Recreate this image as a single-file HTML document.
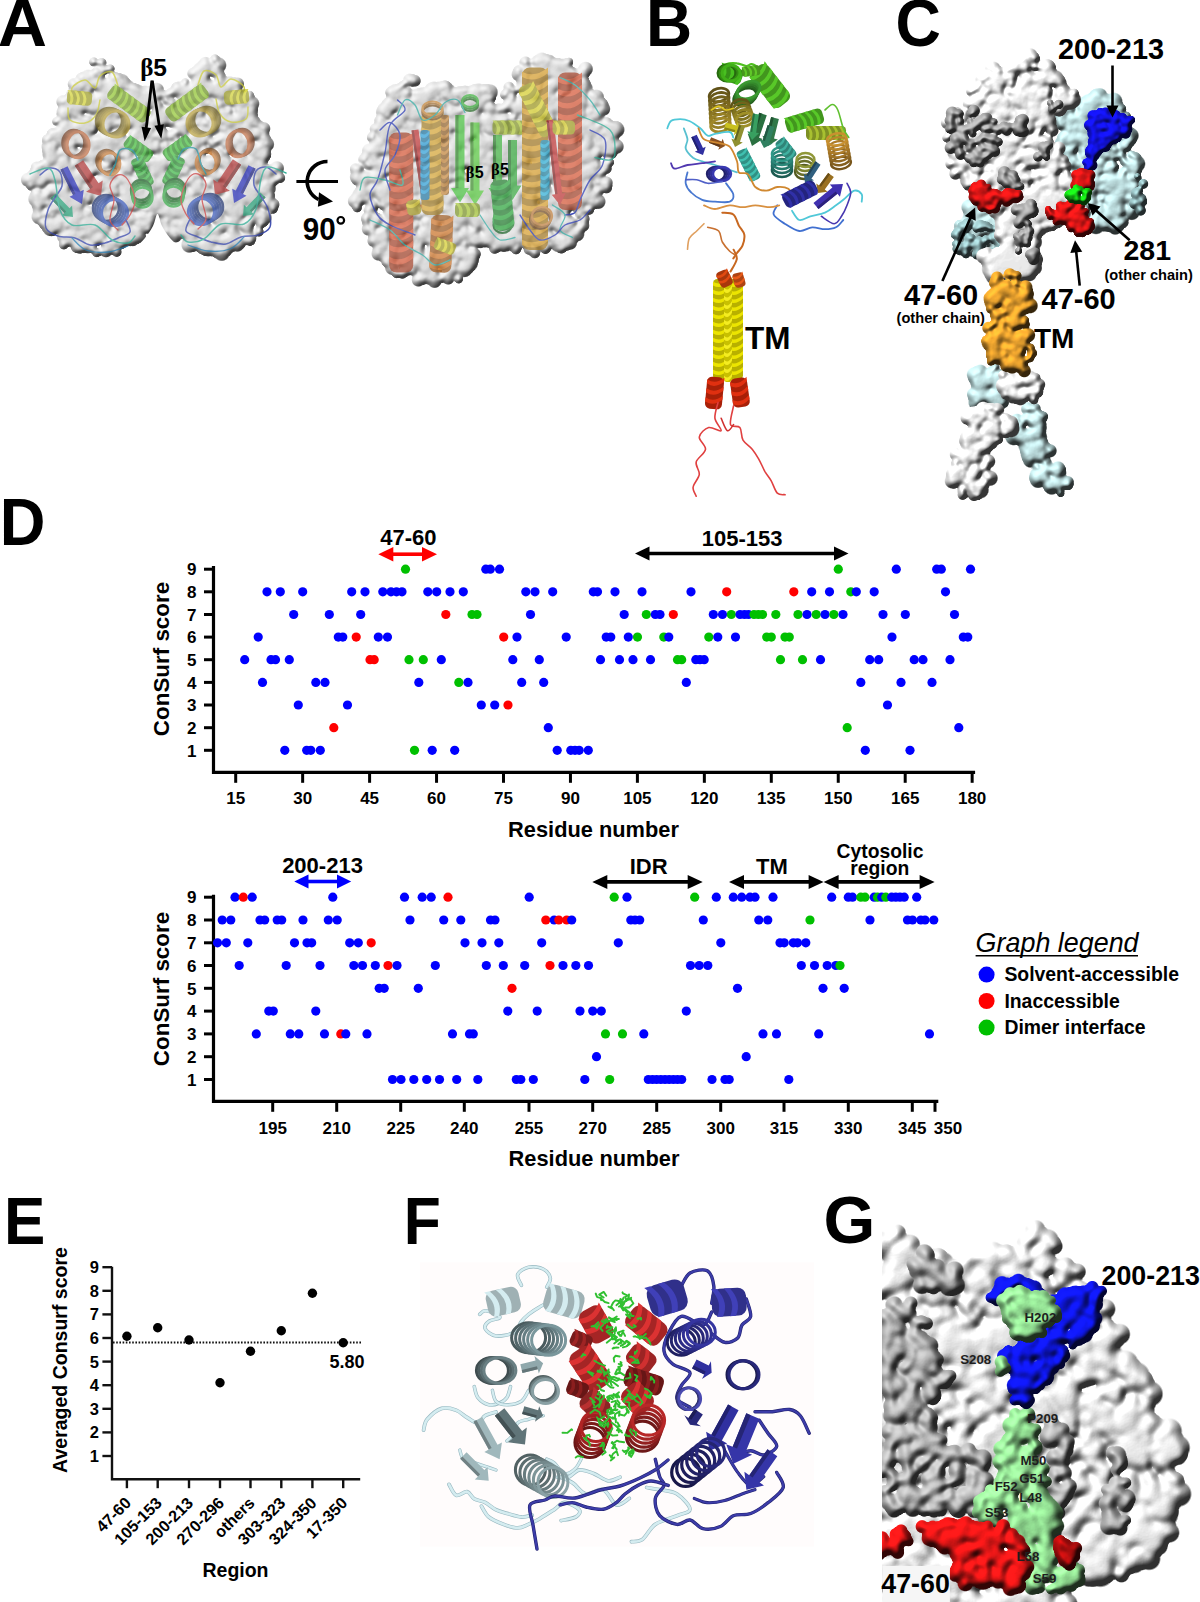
<!DOCTYPE html>
<html><head><meta charset="utf-8"><title>Figure</title>
<style>
html,body{margin:0;padding:0;background:#fff;}
body{width:1200px;height:1602px;overflow:hidden;font-family:"Liberation Sans",sans-serif;}
svg{display:block;}
</style></head><body>
<svg width="1200" height="1602" viewBox="0 0 1200 1602">
<defs>
<filter id="bump" x="-10%" y="-10%" width="120%" height="120%">
 <feTurbulence type="fractalNoise" baseFrequency="0.07" numOctaves="2" seed="3" result="n"/>
 <feDisplacementMap in="SourceGraphic" in2="n" scale="9" xChannelSelector="R" yChannelSelector="G"/>
</filter>
<filter id="soft" x="-10%" y="-10%" width="120%" height="120%"><feGaussianBlur stdDeviation="1.2"/></filter>
<filter id="soft3" x="-20%" y="-20%" width="140%" height="140%"><feGaussianBlur stdDeviation="3"/></filter>
<filter id="surfA" x="-10%" y="-10%" width="120%" height="120%">
 <feTurbulence type="fractalNoise" baseFrequency="0.08" numOctaves="2" seed="7" result="n"/>
 <feDisplacementMap in="SourceGraphic" in2="n" scale="10" xChannelSelector="R" yChannelSelector="G" result="d"/>
 <feGaussianBlur in="d" stdDeviation="0.8"/>
</filter>

<filter id="surf" x="-5%" y="-5%" width="110%" height="110%" color-interpolation-filters="sRGB">
 <feTurbulence type="fractalNoise" baseFrequency="0.09" numOctaves="2" seed="11" result="n"/>
 <feDisplacementMap in="SourceGraphic" in2="n" scale="7" xChannelSelector="R" yChannelSelector="G" result="shape"/>
 <feTurbulence type="fractalNoise" baseFrequency="0.06" numOctaves="2" seed="4" result="n2"/>
 <feGaussianBlur in="n2" stdDeviation="1.4" result="n2b"/>
 <feDiffuseLighting in="n2b" surfaceScale="6" diffuseConstant="1.2" lighting-color="#ffffff" result="light">
   <feDistantLight azimuth="235" elevation="58"/>
 </feDiffuseLighting>
 <feComposite in="light" in2="shape" operator="arithmetic" k1="1" k2="0" k3="0" k4="0" result="lit"/>
 <feComposite in="lit" in2="shape" operator="in"/>
</filter>
<filter id="surf2" x="-5%" y="-5%" width="110%" height="110%" color-interpolation-filters="sRGB">
 <feTurbulence type="fractalNoise" baseFrequency="0.06" numOctaves="2" seed="5" result="n"/>
 <feDisplacementMap in="SourceGraphic" in2="n" scale="9" xChannelSelector="R" yChannelSelector="G" result="shape"/>
 <feTurbulence type="fractalNoise" baseFrequency="0.07" numOctaves="2" seed="8" result="n2"/>
 <feGaussianBlur in="n2" stdDeviation="0.8" result="n2b"/>
 <feDiffuseLighting in="n2b" surfaceScale="6" diffuseConstant="1.25" lighting-color="#ffffff" result="light">
   <feDistantLight azimuth="235" elevation="50"/>
 </feDiffuseLighting>
 <feComposite in="light" in2="shape" operator="arithmetic" k1="1" k2="0" k3="0" k4="0" result="lit"/>
 <feComposite in="lit" in2="shape" operator="in"/>
</filter>

<filter id="surfG" x="-5%" y="-5%" width="110%" height="110%" color-interpolation-filters="sRGB">
 <feTurbulence type="fractalNoise" baseFrequency="0.05" numOctaves="2" seed="21" result="n"/>
 <feDisplacementMap in="SourceGraphic" in2="n" scale="6" xChannelSelector="R" yChannelSelector="G" result="shape"/>
 <feTurbulence type="fractalNoise" baseFrequency="0.03" numOctaves="2" seed="9" result="n2"/>
 <feGaussianBlur in="n2" stdDeviation="2.2" result="n2b"/>
 <feDiffuseLighting in="n2b" surfaceScale="7" diffuseConstant="1.25" lighting-color="#ffffff" result="light">
   <feDistantLight azimuth="235" elevation="52"/>
 </feDiffuseLighting>
 <feComposite in="light" in2="shape" operator="arithmetic" k1="1" k2="0" k3="0" k4="0" result="lit"/>
 <feComposite in="lit" in2="shape" operator="in"/>
</filter>
</defs><defs><filter id="mA1" x="-5%" y="-5%" width="110%" height="110%" color-interpolation-filters="sRGB"><feGaussianBlur in="SourceAlpha" stdDeviation="1.8" result="h"/><feDiffuseLighting in="h" surfaceScale="5" diffuseConstant="0.92" lighting-color="#c9c9c9" result="L0"><feDistantLight azimuth="235" elevation="52"/></feDiffuseLighting><feFlood flood-color="#c9c9c9" result="fl"/><feComposite in="L0" in2="fl" operator="arithmetic" k2="1.0" k3="0.3" result="L"/><feComponentTransfer in="SourceAlpha" result="m"><feFuncA type="linear" slope="6" intercept="-1.2"/></feComponentTransfer><feComposite in="L" in2="m" operator="in"/></filter><filter id="mA2" x="-5%" y="-5%" width="110%" height="110%" color-interpolation-filters="sRGB"><feGaussianBlur in="SourceAlpha" stdDeviation="1.8" result="h"/><feDiffuseLighting in="h" surfaceScale="5" diffuseConstant="0.95" lighting-color="#f0f0f0" result="L0"><feDistantLight azimuth="235" elevation="52"/></feDiffuseLighting><feFlood flood-color="#f0f0f0" result="fl"/><feComposite in="L0" in2="fl" operator="arithmetic" k2="1.0" k3="0.3" result="L"/><feComponentTransfer in="SourceAlpha" result="m"><feFuncA type="linear" slope="6" intercept="-1.2"/></feComponentTransfer><feComposite in="L" in2="m" operator="in"/></filter><g id="sphAL" fill="url(#ag)"><circle cx="93.7" cy="61.9" r="5.8"/><circle cx="101.6" cy="62.9" r="6.2"/><circle cx="96.9" cy="71.2" r="5.8"/><circle cx="104.0" cy="70.1" r="6.2"/><circle cx="110.2" cy="68.8" r="5.6"/><circle cx="95.7" cy="74.0" r="6.6"/><circle cx="81.3" cy="78.3" r="7.1"/><circle cx="88.1" cy="77.5" r="9.8"/><circle cx="73.7" cy="84.2" r="7.5"/><circle cx="100.7" cy="76.2" r="5.1"/><circle cx="75.3" cy="86.9" r="6.7"/><circle cx="84.3" cy="84.8" r="7.1"/><circle cx="113.6" cy="77.3" r="6.9"/><circle cx="92.6" cy="83.8" r="8.6"/><circle cx="118.1" cy="77.4" r="5.6"/><circle cx="79.7" cy="89.0" r="7.0"/><circle cx="96.9" cy="84.1" r="5.6"/><circle cx="101.3" cy="84.2" r="9.4"/><circle cx="89.1" cy="89.7" r="5.6"/><circle cx="72.5" cy="94.8" r="8.3"/><circle cx="99.1" cy="87.5" r="5.0"/><circle cx="121.7" cy="81.4" r="9.3"/><circle cx="111.7" cy="84.6" r="9.5"/><circle cx="68.8" cy="98.4" r="5.6"/><circle cx="80.1" cy="96.5" r="7.1"/><circle cx="62.9" cy="101.8" r="8.2"/><circle cx="120.1" cy="84.9" r="7.0"/><circle cx="105.0" cy="91.3" r="7.2"/><circle cx="70.8" cy="101.8" r="9.1"/><circle cx="214.8" cy="58.8" r="5.7"/><circle cx="87.4" cy="97.7" r="9.0"/><circle cx="113.6" cy="89.8" r="6.2"/><circle cx="114.6" cy="90.6" r="8.5"/><circle cx="205.5" cy="63.7" r="8.5"/><circle cx="127.2" cy="87.8" r="10.0"/><circle cx="99.2" cy="96.6" r="8.2"/><circle cx="92.3" cy="100.6" r="6.0"/><circle cx="76.8" cy="105.7" r="7.9"/><circle cx="199.9" cy="69.2" r="8.5"/><circle cx="133.9" cy="89.2" r="6.8"/><circle cx="109.5" cy="96.5" r="7.9"/><circle cx="114.7" cy="95.0" r="8.6"/><circle cx="70.6" cy="108.3" r="7.8"/><circle cx="103.7" cy="99.3" r="6.7"/><circle cx="85.6" cy="104.8" r="9.5"/><circle cx="218.4" cy="65.2" r="9.8"/><circle cx="62.9" cy="111.9" r="7.9"/><circle cx="136.6" cy="90.1" r="7.6"/><circle cx="77.2" cy="108.0" r="9.4"/><circle cx="193.3" cy="73.6" r="7.5"/><circle cx="207.8" cy="69.5" r="8.4"/><circle cx="79.8" cy="108.6" r="8.2"/><circle cx="126.5" cy="95.8" r="6.0"/><circle cx="99.4" cy="104.5" r="9.5"/><circle cx="113.1" cy="100.5" r="8.5"/><circle cx="67.2" cy="114.5" r="7.1"/><circle cx="63.0" cy="116.1" r="7.5"/><circle cx="152.8" cy="89.4" r="5.3"/><circle cx="101.8" cy="105.1" r="5.5"/><circle cx="91.5" cy="108.8" r="7.7"/><circle cx="137.5" cy="95.2" r="7.8"/><circle cx="145.2" cy="93.3" r="9.5"/><circle cx="121.9" cy="100.4" r="7.3"/><circle cx="215.1" cy="72.5" r="6.8"/><circle cx="201.6" cy="76.7" r="8.1"/><circle cx="156.5" cy="90.4" r="9.5"/><circle cx="205.6" cy="75.8" r="5.2"/><circle cx="96.4" cy="108.7" r="8.9"/><circle cx="130.9" cy="98.6" r="8.2"/><circle cx="185.4" cy="82.4" r="5.4"/><circle cx="75.4" cy="115.5" r="5.8"/><circle cx="56.6" cy="121.5" r="5.6"/><circle cx="114.7" cy="105.0" r="8.3"/><circle cx="106.4" cy="109.2" r="10.0"/><circle cx="176.4" cy="88.3" r="6.7"/><circle cx="197.1" cy="82.2" r="7.7"/><circle cx="80.7" cy="117.2" r="5.0"/><circle cx="179.0" cy="88.1" r="8.3"/><circle cx="132.4" cy="102.7" r="9.5"/><circle cx="202.5" cy="81.7" r="8.0"/><circle cx="220.3" cy="76.5" r="7.0"/><circle cx="149.9" cy="97.7" r="6.6"/><circle cx="158.6" cy="95.4" r="5.1"/><circle cx="110.3" cy="110.0" r="7.4"/><circle cx="66.4" cy="123.5" r="9.0"/><circle cx="170.9" cy="93.2" r="6.6"/><circle cx="140.3" cy="102.5" r="8.4"/><circle cx="164.2" cy="95.3" r="5.7"/><circle cx="119.2" cy="109.8" r="8.6"/><circle cx="87.7" cy="119.4" r="6.4"/><circle cx="146.6" cy="102.1" r="10.0"/><circle cx="63.1" cy="127.3" r="6.0"/><circle cx="123.7" cy="109.2" r="9.4"/><circle cx="187.4" cy="90.3" r="8.2"/><circle cx="195.8" cy="87.9" r="9.1"/><circle cx="205.7" cy="85.0" r="9.9"/><circle cx="154.1" cy="100.8" r="9.3"/><circle cx="218.4" cy="82.0" r="5.4"/><circle cx="198.5" cy="88.1" r="7.8"/><circle cx="181.9" cy="93.4" r="9.0"/><circle cx="82.9" cy="123.1" r="8.7"/><circle cx="107.9" cy="115.8" r="8.9"/><circle cx="102.3" cy="117.9" r="6.2"/><circle cx="220.1" cy="82.6" r="7.1"/><circle cx="75.7" cy="126.1" r="9.8"/><circle cx="98.2" cy="119.7" r="7.4"/><circle cx="52.1" cy="133.7" r="6.6"/><circle cx="117.2" cy="114.7" r="5.8"/><circle cx="141.2" cy="107.6" r="8.8"/><circle cx="128.4" cy="111.8" r="7.1"/><circle cx="166.2" cy="100.8" r="5.4"/><circle cx="189.2" cy="94.1" r="7.6"/><circle cx="60.8" cy="132.8" r="9.0"/><circle cx="69.0" cy="130.5" r="7.2"/><circle cx="89.9" cy="124.3" r="9.4"/><circle cx="76.9" cy="128.9" r="5.6"/><circle cx="145.1" cy="108.6" r="6.0"/><circle cx="212.6" cy="88.3" r="8.9"/><circle cx="95.1" cy="124.2" r="5.2"/><circle cx="55.3" cy="136.3" r="9.7"/><circle cx="58.9" cy="135.2" r="8.3"/><circle cx="127.2" cy="114.8" r="7.6"/><circle cx="229.7" cy="84.2" r="9.7"/><circle cx="46.9" cy="139.2" r="6.0"/><circle cx="158.0" cy="106.2" r="5.3"/><circle cx="201.4" cy="93.9" r="9.0"/><circle cx="211.2" cy="91.2" r="9.9"/><circle cx="172.0" cy="103.4" r="6.6"/><circle cx="237.6" cy="83.9" r="8.0"/><circle cx="158.1" cy="107.9" r="7.2"/><circle cx="109.4" cy="122.5" r="9.6"/><circle cx="206.6" cy="93.5" r="5.6"/><circle cx="68.0" cy="135.2" r="7.6"/><circle cx="104.5" cy="124.7" r="6.2"/><circle cx="89.3" cy="129.3" r="7.9"/><circle cx="185.0" cy="100.9" r="7.6"/><circle cx="231.2" cy="87.4" r="5.3"/><circle cx="222.9" cy="90.0" r="10.0"/><circle cx="83.0" cy="132.1" r="9.6"/><circle cx="192.8" cy="99.2" r="5.0"/><circle cx="133.7" cy="117.0" r="9.6"/><circle cx="143.0" cy="114.6" r="5.5"/><circle cx="93.9" cy="129.9" r="5.1"/><circle cx="182.8" cy="103.4" r="7.1"/><circle cx="194.0" cy="100.4" r="9.5"/><circle cx="218.5" cy="93.1" r="8.2"/><circle cx="118.3" cy="123.4" r="8.8"/><circle cx="155.4" cy="113.1" r="5.3"/><circle cx="60.3" cy="142.3" r="7.6"/><circle cx="107.8" cy="128.1" r="5.1"/><circle cx="139.9" cy="118.7" r="9.4"/><circle cx="167.6" cy="110.6" r="7.1"/><circle cx="74.3" cy="138.6" r="8.1"/><circle cx="130.5" cy="121.9" r="8.3"/><circle cx="49.5" cy="146.4" r="9.9"/><circle cx="202.5" cy="100.7" r="8.8"/><circle cx="125.4" cy="124.2" r="7.9"/><circle cx="223.2" cy="94.9" r="9.6"/><circle cx="105.7" cy="130.4" r="6.7"/><circle cx="236.8" cy="91.4" r="6.7"/><circle cx="160.1" cy="114.9" r="9.9"/><circle cx="52.9" cy="147.7" r="6.1"/><circle cx="183.3" cy="108.8" r="9.6"/><circle cx="189.4" cy="107.2" r="5.5"/><circle cx="83.1" cy="139.4" r="8.6"/><circle cx="171.7" cy="112.9" r="6.2"/><circle cx="236.6" cy="94.3" r="7.3"/><circle cx="230.0" cy="96.6" r="5.2"/><circle cx="154.7" cy="119.2" r="6.4"/><circle cx="145.1" cy="122.3" r="6.1"/><circle cx="208.5" cy="103.4" r="6.7"/><circle cx="163.4" cy="117.4" r="9.8"/><circle cx="67.4" cy="146.3" r="9.2"/><circle cx="73.7" cy="144.5" r="6.1"/><circle cx="138.5" cy="125.7" r="8.5"/><circle cx="123.5" cy="130.3" r="5.3"/><circle cx="81.7" cy="143.3" r="5.4"/><circle cx="90.6" cy="140.8" r="8.7"/><circle cx="195.0" cy="109.6" r="5.5"/><circle cx="200.7" cy="107.9" r="7.9"/><circle cx="176.4" cy="115.2" r="6.1"/><circle cx="153.2" cy="122.5" r="8.1"/><circle cx="212.9" cy="105.2" r="8.1"/><circle cx="50.2" cy="154.0" r="9.7"/><circle cx="117.0" cy="134.4" r="6.6"/><circle cx="86.8" cy="143.4" r="6.0"/><circle cx="52.2" cy="154.5" r="9.6"/><circle cx="249.3" cy="95.5" r="6.1"/><circle cx="101.0" cy="140.2" r="8.9"/><circle cx="179.3" cy="116.9" r="5.6"/><circle cx="60.4" cy="152.7" r="5.1"/><circle cx="164.0" cy="121.7" r="7.2"/><circle cx="98.4" cy="141.4" r="6.5"/><circle cx="110.2" cy="138.1" r="9.0"/><circle cx="230.4" cy="102.1" r="6.9"/><circle cx="220.3" cy="105.3" r="8.4"/><circle cx="240.8" cy="99.3" r="9.0"/><circle cx="139.2" cy="130.1" r="8.1"/><circle cx="119.3" cy="136.1" r="6.0"/><circle cx="239.3" cy="101.2" r="9.9"/><circle cx="191.8" cy="115.7" r="6.1"/><circle cx="188.8" cy="116.7" r="8.0"/><circle cx="211.5" cy="109.9" r="5.1"/><circle cx="67.1" cy="153.8" r="9.2"/><circle cx="133.1" cy="134.1" r="6.0"/><circle cx="159.0" cy="126.3" r="6.4"/><circle cx="172.8" cy="122.2" r="7.6"/><circle cx="150.7" cy="129.0" r="6.5"/><circle cx="74.4" cy="152.0" r="5.6"/><circle cx="96.2" cy="145.5" r="9.2"/><circle cx="200.0" cy="114.6" r="8.0"/><circle cx="121.9" cy="138.0" r="6.4"/><circle cx="50.4" cy="160.2" r="7.4"/><circle cx="243.7" cy="102.3" r="8.1"/><circle cx="53.3" cy="159.6" r="7.3"/><circle cx="108.9" cy="143.0" r="9.7"/><circle cx="214.8" cy="111.9" r="6.2"/><circle cx="145.3" cy="133.4" r="5.1"/><circle cx="91.6" cy="149.7" r="8.5"/><circle cx="42.4" cy="164.6" r="5.4"/><circle cx="117.4" cy="142.8" r="9.7"/><circle cx="36.6" cy="167.3" r="7.2"/><circle cx="136.8" cy="137.3" r="7.7"/><circle cx="102.9" cy="147.7" r="8.2"/><circle cx="83.0" cy="153.7" r="7.3"/><circle cx="210.9" cy="115.8" r="5.4"/><circle cx="185.7" cy="123.5" r="9.9"/><circle cx="251.8" cy="103.7" r="9.3"/><circle cx="131.0" cy="140.4" r="6.6"/><circle cx="222.5" cy="113.0" r="6.1"/><circle cx="62.2" cy="161.2" r="9.7"/><circle cx="229.2" cy="111.3" r="5.9"/><circle cx="146.1" cy="136.4" r="9.9"/><circle cx="46.7" cy="166.9" r="10.0"/><circle cx="163.6" cy="132.0" r="5.5"/><circle cx="78.2" cy="157.6" r="8.0"/><circle cx="180.6" cy="127.1" r="7.5"/><circle cx="238.1" cy="110.1" r="6.2"/><circle cx="65.6" cy="162.3" r="5.9"/><circle cx="160.5" cy="133.9" r="5.8"/><circle cx="85.1" cy="156.7" r="7.1"/><circle cx="109.0" cy="149.6" r="6.1"/><circle cx="214.1" cy="118.5" r="5.4"/><circle cx="196.1" cy="123.9" r="7.5"/><circle cx="62.6" cy="164.1" r="6.8"/><circle cx="124.9" cy="145.5" r="8.2"/><circle cx="155.5" cy="136.3" r="9.4"/><circle cx="104.7" cy="152.0" r="5.4"/><circle cx="91.0" cy="156.2" r="7.5"/><circle cx="33.8" cy="173.6" r="7.0"/><circle cx="129.0" cy="145.2" r="9.8"/><circle cx="181.6" cy="129.6" r="8.5"/><circle cx="224.9" cy="116.9" r="8.3"/><circle cx="99.2" cy="154.6" r="6.1"/><circle cx="244.2" cy="111.6" r="8.0"/><circle cx="206.7" cy="122.9" r="5.1"/><circle cx="204.5" cy="123.6" r="8.3"/><circle cx="140.6" cy="143.2" r="8.1"/><circle cx="94.5" cy="157.1" r="6.9"/><circle cx="174.0" cy="133.8" r="6.0"/><circle cx="57.2" cy="168.9" r="6.8"/><circle cx="161.4" cy="137.8" r="7.1"/><circle cx="164.1" cy="137.2" r="5.9"/><circle cx="76.3" cy="163.8" r="8.0"/><circle cx="37.9" cy="175.5" r="9.1"/><circle cx="251.6" cy="111.7" r="7.9"/><circle cx="68.5" cy="167.1" r="8.0"/><circle cx="184.8" cy="132.5" r="6.1"/><circle cx="28.0" cy="179.8" r="8.8"/><circle cx="116.7" cy="153.4" r="9.2"/><circle cx="106.3" cy="156.6" r="6.9"/><circle cx="171.6" cy="137.1" r="8.7"/><circle cx="222.7" cy="121.8" r="7.4"/><circle cx="229.5" cy="120.2" r="7.1"/><circle cx="108.8" cy="156.7" r="8.6"/><circle cx="243.5" cy="116.3" r="9.1"/><circle cx="133.4" cy="149.5" r="7.9"/><circle cx="33.9" cy="179.7" r="8.6"/><circle cx="213.8" cy="126.2" r="6.9"/><circle cx="144.5" cy="147.3" r="9.5"/><circle cx="49.5" cy="175.9" r="8.7"/><circle cx="201.0" cy="130.6" r="5.8"/><circle cx="91.2" cy="163.6" r="8.4"/><circle cx="237.5" cy="119.9" r="8.4"/><circle cx="150.7" cy="146.0" r="7.9"/><circle cx="46.2" cy="177.4" r="8.2"/><circle cx="83.1" cy="166.6" r="5.7"/><circle cx="141.3" cy="149.2" r="7.4"/><circle cx="196.0" cy="132.9" r="5.7"/><circle cx="234.5" cy="121.4" r="9.3"/><circle cx="54.3" cy="175.6" r="8.8"/><circle cx="67.3" cy="172.1" r="9.6"/><circle cx="157.7" cy="145.4" r="5.6"/><circle cx="127.2" cy="154.7" r="5.6"/><circle cx="213.6" cy="129.1" r="8.5"/><circle cx="60.8" cy="175.1" r="7.5"/><circle cx="228.6" cy="125.0" r="6.8"/><circle cx="114.7" cy="159.6" r="5.8"/><circle cx="177.7" cy="140.7" r="5.0"/><circle cx="206.3" cy="132.4" r="6.4"/><circle cx="165.7" cy="144.9" r="5.0"/><circle cx="150.9" cy="149.4" r="5.7"/><circle cx="42.8" cy="182.2" r="5.9"/><circle cx="127.1" cy="157.0" r="7.3"/><circle cx="252.1" cy="119.5" r="8.3"/><circle cx="144.2" cy="151.9" r="5.0"/><circle cx="55.0" cy="178.9" r="7.0"/><circle cx="31.1" cy="186.4" r="5.5"/><circle cx="188.7" cy="139.6" r="8.5"/><circle cx="40.0" cy="184.6" r="7.1"/><circle cx="196.3" cy="137.8" r="10.0"/><circle cx="96.7" cy="167.7" r="8.5"/><circle cx="224.2" cy="129.6" r="5.8"/><circle cx="249.9" cy="121.9" r="6.1"/><circle cx="156.6" cy="149.9" r="6.2"/><circle cx="81.7" cy="173.2" r="6.8"/><circle cx="61.8" cy="179.4" r="7.6"/><circle cx="107.9" cy="165.7" r="7.4"/><circle cx="67.3" cy="178.0" r="8.8"/><circle cx="101.7" cy="167.9" r="6.3"/><circle cx="173.9" cy="146.6" r="5.3"/><circle cx="166.9" cy="149.1" r="9.1"/><circle cx="77.8" cy="176.0" r="8.7"/><circle cx="93.4" cy="171.3" r="5.9"/><circle cx="86.8" cy="173.3" r="8.7"/><circle cx="243.5" cy="127.0" r="7.0"/><circle cx="198.5" cy="140.6" r="9.4"/><circle cx="238.0" cy="128.8" r="6.1"/><circle cx="207.4" cy="138.0" r="6.8"/><circle cx="75.3" cy="177.7" r="9.8"/><circle cx="132.6" cy="160.7" r="8.1"/><circle cx="180.6" cy="146.3" r="8.6"/><circle cx="140.1" cy="159.3" r="7.4"/><circle cx="255.9" cy="125.0" r="8.6"/><circle cx="120.0" cy="165.8" r="5.0"/><circle cx="231.0" cy="132.6" r="7.0"/><circle cx="203.0" cy="142.2" r="6.5"/><circle cx="246.7" cy="129.2" r="7.3"/><circle cx="186.8" cy="147.4" r="5.3"/><circle cx="84.3" cy="178.2" r="9.2"/><circle cx="87.3" cy="177.5" r="5.8"/><circle cx="181.1" cy="149.6" r="5.7"/><circle cx="147.5" cy="159.8" r="6.8"/><circle cx="195.0" cy="145.8" r="6.3"/><circle cx="127.0" cy="166.2" r="9.5"/><circle cx="103.4" cy="173.5" r="7.0"/><circle cx="36.5" cy="193.6" r="6.4"/><circle cx="221.3" cy="138.8" r="7.6"/><circle cx="67.4" cy="185.1" r="7.0"/><circle cx="50.2" cy="190.3" r="8.2"/><circle cx="129.2" cy="166.7" r="7.3"/><circle cx="211.7" cy="142.3" r="5.6"/><circle cx="138.9" cy="164.2" r="6.1"/><circle cx="174.4" cy="153.5" r="7.4"/><circle cx="56.9" cy="189.0" r="8.9"/><circle cx="109.0" cy="173.5" r="5.2"/><circle cx="216.9" cy="141.2" r="5.6"/><circle cx="228.2" cy="138.4" r="8.8"/><circle cx="152.9" cy="161.0" r="5.2"/><circle cx="166.8" cy="157.1" r="5.7"/><circle cx="249.8" cy="132.6" r="6.3"/><circle cx="263.9" cy="128.6" r="8.0"/><circle cx="193.6" cy="149.8" r="8.4"/><circle cx="159.6" cy="160.3" r="9.2"/><circle cx="114.5" cy="173.9" r="6.0"/><circle cx="122.6" cy="171.6" r="6.2"/><circle cx="212.5" cy="144.8" r="5.2"/><circle cx="77.0" cy="185.6" r="6.0"/><circle cx="64.7" cy="189.5" r="6.2"/><circle cx="56.3" cy="192.2" r="7.3"/><circle cx="238.6" cy="137.8" r="5.5"/><circle cx="146.3" cy="165.7" r="7.7"/><circle cx="79.4" cy="185.8" r="8.9"/><circle cx="36.3" cy="198.9" r="10.0"/><circle cx="109.6" cy="177.3" r="8.5"/><circle cx="43.0" cy="197.3" r="9.4"/><circle cx="46.3" cy="196.5" r="5.2"/><circle cx="130.1" cy="171.7" r="6.4"/><circle cx="189.3" cy="154.1" r="6.0"/><circle cx="256.9" cy="133.8" r="5.8"/><circle cx="154.4" cy="164.6" r="7.8"/><circle cx="175.1" cy="158.6" r="6.0"/><circle cx="206.3" cy="149.4" r="5.3"/><circle cx="202.6" cy="151.0" r="6.0"/><circle cx="255.2" cy="135.4" r="7.4"/><circle cx="97.7" cy="183.0" r="7.9"/><circle cx="61.9" cy="194.0" r="7.2"/><circle cx="241.3" cy="140.3" r="9.5"/><circle cx="248.4" cy="138.2" r="6.4"/><circle cx="224.7" cy="145.5" r="5.4"/><circle cx="164.5" cy="163.7" r="8.0"/><circle cx="101.3" cy="183.0" r="8.0"/><circle cx="88.3" cy="187.3" r="5.3"/><circle cx="120.6" cy="177.6" r="7.2"/><circle cx="230.9" cy="144.8" r="6.3"/><circle cx="181.7" cy="160.0" r="8.6"/><circle cx="171.0" cy="163.4" r="8.9"/><circle cx="194.1" cy="156.5" r="8.1"/><circle cx="235.1" cy="144.4" r="7.2"/><circle cx="65.9" cy="195.7" r="9.9"/><circle cx="39.4" cy="203.6" r="7.1"/><circle cx="157.9" cy="168.4" r="9.9"/><circle cx="137.4" cy="175.2" r="6.0"/><circle cx="189.1" cy="159.9" r="9.5"/><circle cx="217.8" cy="151.4" r="7.8"/><circle cx="263.7" cy="137.7" r="8.1"/><circle cx="124.5" cy="180.5" r="6.5"/><circle cx="96.2" cy="189.0" r="7.2"/><circle cx="47.3" cy="203.7" r="6.1"/><circle cx="85.4" cy="192.5" r="9.5"/><circle cx="245.7" cy="144.6" r="8.4"/><circle cx="152.5" cy="172.8" r="6.3"/><circle cx="158.9" cy="170.9" r="9.6"/><circle cx="38.5" cy="207.4" r="7.7"/><circle cx="108.5" cy="186.4" r="9.8"/><circle cx="142.6" cy="176.3" r="5.5"/><circle cx="201.4" cy="158.7" r="6.2"/><circle cx="228.3" cy="150.7" r="5.6"/><circle cx="67.8" cy="198.9" r="9.8"/><circle cx="116.3" cy="184.9" r="7.8"/><circle cx="74.8" cy="197.4" r="7.0"/><circle cx="101.4" cy="189.5" r="5.0"/><circle cx="54.3" cy="204.0" r="8.5"/><circle cx="130.2" cy="182.3" r="9.7"/><circle cx="179.3" cy="167.6" r="7.0"/><circle cx="221.3" cy="155.2" r="6.1"/><circle cx="194.1" cy="163.4" r="8.1"/><circle cx="90.3" cy="195.3" r="6.8"/><circle cx="190.5" cy="165.4" r="6.7"/><circle cx="81.7" cy="198.2" r="5.2"/><circle cx="252.2" cy="147.3" r="6.2"/><circle cx="239.5" cy="151.2" r="7.0"/><circle cx="62.7" cy="204.3" r="9.9"/><circle cx="136.0" cy="182.4" r="5.6"/><circle cx="208.9" cy="161.0" r="7.1"/><circle cx="143.3" cy="180.8" r="8.3"/><circle cx="266.8" cy="144.3" r="9.1"/><circle cx="213.0" cy="160.7" r="6.5"/><circle cx="62.6" cy="205.8" r="7.5"/><circle cx="111.9" cy="191.3" r="8.6"/><circle cx="259.1" cy="147.1" r="7.4"/><circle cx="50.1" cy="210.1" r="5.4"/><circle cx="127.3" cy="187.0" r="8.0"/><circle cx="241.3" cy="152.8" r="9.9"/><circle cx="165.1" cy="175.9" r="7.9"/><circle cx="56.6" cy="208.7" r="5.4"/><circle cx="153.5" cy="179.7" r="9.0"/><circle cx="97.9" cy="196.5" r="6.0"/><circle cx="78.4" cy="203.1" r="6.6"/><circle cx="182.8" cy="172.4" r="7.9"/><circle cx="71.3" cy="205.9" r="8.9"/><circle cx="105.6" cy="195.6" r="6.1"/><circle cx="222.9" cy="160.5" r="8.8"/><circle cx="88.9" cy="200.7" r="5.3"/><circle cx="46.4" cy="213.6" r="5.2"/><circle cx="203.3" cy="166.6" r="9.3"/><circle cx="252.4" cy="152.0" r="5.7"/><circle cx="115.7" cy="193.1" r="5.4"/><circle cx="174.4" cy="175.5" r="8.5"/><circle cx="214.6" cy="163.7" r="8.1"/><circle cx="186.3" cy="172.3" r="5.9"/><circle cx="76.0" cy="205.5" r="8.5"/><circle cx="254.4" cy="152.1" r="7.6"/><circle cx="39.4" cy="216.6" r="9.8"/><circle cx="206.3" cy="167.2" r="9.3"/><circle cx="172.5" cy="177.9" r="8.6"/><circle cx="150.9" cy="184.8" r="8.1"/><circle cx="80.6" cy="205.9" r="8.6"/><circle cx="242.4" cy="157.5" r="5.7"/><circle cx="133.4" cy="190.4" r="5.9"/><circle cx="227.5" cy="162.2" r="7.4"/><circle cx="136.6" cy="189.5" r="7.5"/><circle cx="104.8" cy="199.1" r="6.7"/><circle cx="124.0" cy="193.4" r="9.3"/><circle cx="52.5" cy="215.4" r="9.2"/><circle cx="225.6" cy="163.7" r="7.3"/><circle cx="236.8" cy="160.3" r="6.6"/><circle cx="162.7" cy="182.6" r="8.8"/><circle cx="165.9" cy="181.8" r="8.5"/><circle cx="142.7" cy="189.0" r="5.9"/><circle cx="63.2" cy="212.9" r="6.8"/><circle cx="194.4" cy="174.2" r="6.5"/><circle cx="132.3" cy="193.2" r="8.4"/><circle cx="99.2" cy="203.7" r="8.7"/><circle cx="69.0" cy="212.8" r="6.9"/><circle cx="209.0" cy="170.9" r="8.9"/><circle cx="265.4" cy="154.0" r="7.3"/><circle cx="258.3" cy="156.2" r="9.7"/><circle cx="157.9" cy="187.1" r="7.8"/><circle cx="228.6" cy="166.1" r="6.6"/><circle cx="238.8" cy="163.4" r="6.2"/><circle cx="139.2" cy="193.4" r="6.9"/><circle cx="199.2" cy="176.3" r="5.6"/><circle cx="263.2" cy="157.3" r="8.1"/><circle cx="117.2" cy="201.5" r="5.3"/><circle cx="43.2" cy="223.8" r="5.5"/><circle cx="77.3" cy="213.6" r="7.4"/><circle cx="150.5" cy="191.7" r="6.4"/><circle cx="112.6" cy="203.2" r="7.4"/><circle cx="181.6" cy="182.5" r="6.9"/><circle cx="250.4" cy="162.2" r="9.3"/><circle cx="89.6" cy="210.6" r="5.3"/><circle cx="241.5" cy="165.1" r="8.8"/><circle cx="192.2" cy="180.1" r="8.7"/><circle cx="187.5" cy="181.5" r="6.6"/><circle cx="99.5" cy="208.0" r="7.6"/><circle cx="249.0" cy="163.7" r="8.3"/><circle cx="47.3" cy="224.7" r="8.5"/><circle cx="126.5" cy="201.0" r="8.3"/><circle cx="214.4" cy="174.7" r="9.3"/><circle cx="171.6" cy="187.7" r="9.3"/><circle cx="112.2" cy="205.7" r="5.2"/><circle cx="60.6" cy="221.2" r="6.7"/><circle cx="148.0" cy="195.1" r="9.7"/><circle cx="169.3" cy="188.8" r="7.4"/><circle cx="225.5" cy="172.0" r="8.3"/><circle cx="103.4" cy="208.6" r="7.9"/><circle cx="130.2" cy="201.0" r="9.8"/><circle cx="231.1" cy="170.9" r="7.0"/><circle cx="117.2" cy="205.2" r="6.6"/><circle cx="177.9" cy="187.2" r="8.7"/><circle cx="88.7" cy="214.0" r="9.4"/><circle cx="71.7" cy="219.6" r="9.5"/><circle cx="55.9" cy="224.8" r="7.5"/><circle cx="143.9" cy="198.7" r="7.7"/><circle cx="81.0" cy="217.8" r="7.7"/><circle cx="201.3" cy="181.7" r="5.3"/><circle cx="138.8" cy="200.6" r="8.1"/><circle cx="215.4" cy="177.7" r="6.7"/><circle cx="168.5" cy="191.8" r="8.4"/><circle cx="50.3" cy="228.7" r="9.2"/><circle cx="262.1" cy="165.3" r="7.0"/><circle cx="220.6" cy="177.7" r="6.0"/><circle cx="74.7" cy="221.5" r="7.5"/><circle cx="161.5" cy="196.1" r="8.9"/><circle cx="208.6" cy="182.0" r="5.6"/><circle cx="184.5" cy="189.2" r="5.6"/><circle cx="255.0" cy="169.3" r="9.2"/><circle cx="170.6" cy="194.7" r="8.7"/><circle cx="132.3" cy="206.3" r="6.5"/><circle cx="152.3" cy="200.4" r="8.1"/><circle cx="97.2" cy="217.0" r="10.0"/><circle cx="66.6" cy="226.2" r="9.4"/><circle cx="58.6" cy="228.6" r="6.0"/><circle cx="195.4" cy="188.0" r="8.5"/><circle cx="236.4" cy="175.9" r="9.9"/><circle cx="124.6" cy="209.6" r="8.3"/><circle cx="252.2" cy="171.4" r="5.4"/><circle cx="199.6" cy="187.3" r="9.1"/><circle cx="52.2" cy="231.5" r="5.3"/><circle cx="257.1" cy="170.4" r="9.2"/><circle cx="109.6" cy="214.8" r="8.5"/><circle cx="137.2" cy="207.3" r="8.5"/><circle cx="103.4" cy="217.4" r="7.3"/><circle cx="241.4" cy="176.2" r="9.7"/><circle cx="210.2" cy="185.6" r="7.7"/><circle cx="181.1" cy="194.7" r="7.8"/><circle cx="229.8" cy="180.2" r="9.6"/><circle cx="84.8" cy="224.1" r="5.5"/><circle cx="268.4" cy="169.3" r="5.8"/><circle cx="76.1" cy="227.2" r="8.5"/><circle cx="119.8" cy="214.5" r="8.7"/><circle cx="174.5" cy="198.1" r="9.1"/><circle cx="151.5" cy="205.1" r="7.4"/><circle cx="167.4" cy="200.8" r="6.8"/><circle cx="156.8" cy="204.3" r="8.9"/><circle cx="276.9" cy="168.3" r="8.8"/><circle cx="90.2" cy="224.5" r="9.3"/><circle cx="187.7" cy="195.7" r="6.0"/><circle cx="84.0" cy="227.3" r="9.3"/><circle cx="98.4" cy="223.2" r="5.5"/><circle cx="192.5" cy="195.0" r="9.3"/><circle cx="217.5" cy="187.5" r="6.7"/><circle cx="263.6" cy="174.0" r="8.3"/><circle cx="145.5" cy="209.6" r="5.7"/><circle cx="203.4" cy="192.9" r="7.5"/><circle cx="236.3" cy="183.1" r="7.3"/><circle cx="157.1" cy="207.2" r="9.7"/><circle cx="253.6" cy="178.6" r="6.6"/><circle cx="110.7" cy="221.6" r="5.6"/><circle cx="269.4" cy="174.0" r="8.1"/><circle cx="124.6" cy="218.0" r="6.4"/><circle cx="219.6" cy="189.5" r="7.4"/><circle cx="100.6" cy="225.4" r="9.6"/><circle cx="118.0" cy="220.2" r="6.9"/><circle cx="241.9" cy="183.1" r="9.7"/><circle cx="63.8" cy="236.6" r="8.5"/><circle cx="73.7" cy="234.1" r="7.8"/><circle cx="182.6" cy="202.1" r="9.6"/><circle cx="130.6" cy="217.7" r="6.4"/><circle cx="68.3" cy="236.5" r="5.4"/><circle cx="257.4" cy="179.8" r="5.8"/><circle cx="99.3" cy="227.7" r="7.5"/><circle cx="221.7" cy="191.3" r="5.3"/><circle cx="139.7" cy="216.0" r="5.7"/><circle cx="168.4" cy="207.7" r="8.8"/><circle cx="104.9" cy="226.8" r="7.4"/><circle cx="233.6" cy="188.3" r="7.6"/><circle cx="243.2" cy="185.9" r="7.9"/><circle cx="208.4" cy="196.4" r="8.1"/><circle cx="90.6" cy="231.8" r="8.6"/><circle cx="132.2" cy="219.3" r="7.6"/><circle cx="232.0" cy="189.5" r="5.5"/><circle cx="143.6" cy="216.6" r="5.1"/><circle cx="81.4" cy="235.6" r="5.7"/><circle cx="214.0" cy="196.0" r="7.7"/><circle cx="190.7" cy="203.3" r="6.9"/><circle cx="150.8" cy="215.3" r="8.7"/><circle cx="89.5" cy="233.7" r="8.7"/><circle cx="125.5" cy="223.6" r="7.9"/><circle cx="192.1" cy="204.2" r="8.6"/><circle cx="160.3" cy="213.7" r="5.2"/><circle cx="280.1" cy="177.9" r="6.4"/><circle cx="165.4" cy="212.6" r="6.9"/><circle cx="116.8" cy="227.6" r="5.9"/><circle cx="266.9" cy="182.8" r="9.1"/><circle cx="69.8" cy="242.0" r="5.8"/><circle cx="175.6" cy="210.5" r="9.5"/><circle cx="76.2" cy="240.4" r="9.3"/><circle cx="199.4" cy="203.5" r="8.4"/><circle cx="232.4" cy="193.8" r="7.8"/><circle cx="249.2" cy="188.8" r="9.8"/><circle cx="274.2" cy="181.4" r="5.5"/><circle cx="193.3" cy="205.7" r="9.4"/><circle cx="63.8" cy="244.6" r="6.1"/><circle cx="107.5" cy="231.6" r="7.5"/><circle cx="188.7" cy="207.4" r="7.3"/><circle cx="179.8" cy="211.0" r="8.1"/><circle cx="264.8" cy="185.8" r="5.4"/><circle cx="210.2" cy="202.2" r="6.6"/><circle cx="138.2" cy="223.9" r="8.4"/><circle cx="254.6" cy="189.1" r="9.0"/><circle cx="236.0" cy="195.2" r="9.4"/><circle cx="203.4" cy="205.2" r="9.3"/><circle cx="149.6" cy="221.6" r="8.4"/><circle cx="174.4" cy="214.6" r="9.6"/><circle cx="225.3" cy="199.5" r="7.6"/><circle cx="216.4" cy="202.7" r="7.1"/><circle cx="126.6" cy="229.7" r="8.5"/><circle cx="99.0" cy="238.4" r="8.1"/><circle cx="145.3" cy="224.6" r="9.2"/><circle cx="229.8" cy="199.3" r="9.3"/><circle cx="207.7" cy="206.0" r="7.6"/><circle cx="100.9" cy="238.3" r="7.2"/><circle cx="183.5" cy="214.1" r="9.1"/><circle cx="268.6" cy="188.7" r="8.9"/><circle cx="113.5" cy="235.5" r="6.0"/><circle cx="95.4" cy="241.0" r="6.8"/><circle cx="76.6" cy="247.1" r="7.2"/><circle cx="250.9" cy="195.1" r="9.9"/><circle cx="254.7" cy="194.2" r="8.4"/><circle cx="80.7" cy="246.4" r="8.5"/><circle cx="131.5" cy="231.2" r="6.2"/><circle cx="245.3" cy="197.1" r="10.0"/><circle cx="166.7" cy="221.0" r="9.4"/><circle cx="212.9" cy="207.2" r="6.3"/><circle cx="234.0" cy="201.2" r="5.1"/><circle cx="87.9" cy="245.3" r="9.9"/><circle cx="138.8" cy="230.3" r="7.7"/><circle cx="264.8" cy="192.5" r="9.3"/><circle cx="195.0" cy="213.6" r="5.5"/><circle cx="80.2" cy="248.1" r="6.0"/><circle cx="116.2" cy="237.6" r="9.2"/><circle cx="244.9" cy="199.2" r="8.7"/><circle cx="189.1" cy="216.0" r="8.9"/><circle cx="148.4" cy="229.5" r="5.4"/><circle cx="200.7" cy="214.3" r="7.6"/><circle cx="252.6" cy="199.4" r="8.5"/><circle cx="133.0" cy="235.4" r="7.1"/><circle cx="106.6" cy="243.5" r="5.1"/><circle cx="108.0" cy="243.5" r="7.8"/><circle cx="224.0" cy="209.1" r="9.2"/><circle cx="230.5" cy="207.3" r="9.1"/><circle cx="126.5" cy="238.6" r="9.5"/><circle cx="92.6" cy="248.9" r="5.0"/><circle cx="175.4" cy="224.1" r="5.4"/><circle cx="238.1" cy="205.8" r="8.6"/><circle cx="270.9" cy="196.6" r="5.3"/><circle cx="115.9" cy="243.3" r="8.5"/><circle cx="259.0" cy="200.6" r="5.8"/><circle cx="208.1" cy="215.9" r="6.6"/><circle cx="139.4" cy="236.6" r="8.3"/><circle cx="181.4" cy="224.0" r="7.8"/><circle cx="191.9" cy="220.9" r="6.9"/><circle cx="187.8" cy="223.5" r="9.3"/><circle cx="132.8" cy="240.2" r="7.5"/><circle cx="110.5" cy="247.9" r="7.2"/><circle cx="267.3" cy="201.0" r="6.6"/><circle cx="121.9" cy="244.7" r="5.4"/><circle cx="167.4" cy="231.2" r="9.9"/><circle cx="216.6" cy="216.5" r="7.5"/><circle cx="96.7" cy="252.6" r="5.8"/><circle cx="254.8" cy="205.2" r="8.3"/><circle cx="242.9" cy="209.2" r="7.6"/><circle cx="232.1" cy="212.5" r="7.9"/><circle cx="106.0" cy="250.8" r="8.1"/><circle cx="201.4" cy="222.7" r="7.9"/><circle cx="181.6" cy="228.8" r="6.4"/><circle cx="219.5" cy="218.3" r="7.3"/><circle cx="174.9" cy="231.8" r="6.7"/><circle cx="215.8" cy="220.3" r="5.4"/><circle cx="236.5" cy="214.1" r="8.0"/><circle cx="265.6" cy="205.6" r="6.1"/><circle cx="251.1" cy="210.2" r="7.3"/><circle cx="205.4" cy="224.6" r="5.9"/><circle cx="273.5" cy="204.4" r="7.4"/><circle cx="116.7" cy="252.0" r="6.1"/><circle cx="204.0" cy="226.2" r="7.6"/><circle cx="242.9" cy="214.7" r="5.1"/><circle cx="195.7" cy="229.0" r="7.3"/><circle cx="183.3" cy="233.8" r="6.1"/><circle cx="189.7" cy="232.1" r="8.8"/><circle cx="175.8" cy="236.5" r="7.4"/><circle cx="252.5" cy="214.0" r="7.1"/><circle cx="230.5" cy="220.7" r="8.6"/><circle cx="206.7" cy="229.0" r="8.6"/><circle cx="273.1" cy="209.1" r="5.8"/><circle cx="189.9" cy="234.1" r="9.2"/><circle cx="237.4" cy="220.1" r="6.7"/><circle cx="223.4" cy="225.1" r="8.8"/><circle cx="219.8" cy="227.7" r="9.4"/><circle cx="258.8" cy="216.2" r="8.9"/><circle cx="204.3" cy="233.7" r="8.8"/><circle cx="192.8" cy="237.6" r="9.7"/><circle cx="250.9" cy="221.0" r="7.0"/><circle cx="213.2" cy="232.4" r="7.6"/><circle cx="264.0" cy="217.6" r="9.5"/><circle cx="233.7" cy="226.9" r="9.0"/><circle cx="246.3" cy="225.0" r="9.0"/><circle cx="244.4" cy="226.1" r="6.4"/><circle cx="231.5" cy="231.5" r="5.3"/><circle cx="262.5" cy="222.7" r="6.1"/><circle cx="189.3" cy="244.8" r="9.8"/><circle cx="209.5" cy="239.4" r="7.8"/><circle cx="194.7" cy="244.8" r="7.7"/><circle cx="260.2" cy="225.2" r="5.0"/><circle cx="247.8" cy="229.9" r="6.9"/><circle cx="214.1" cy="240.2" r="5.7"/><circle cx="218.5" cy="239.0" r="8.2"/><circle cx="202.9" cy="244.9" r="9.9"/><circle cx="233.5" cy="235.9" r="8.3"/><circle cx="225.6" cy="239.0" r="5.4"/><circle cx="207.5" cy="245.5" r="9.3"/><circle cx="230.2" cy="239.4" r="9.4"/><circle cx="221.7" cy="242.0" r="5.9"/><circle cx="258.9" cy="231.8" r="6.0"/><circle cx="204.0" cy="248.3" r="8.3"/><circle cx="240.6" cy="239.4" r="10.0"/><circle cx="230.1" cy="242.6" r="7.5"/><circle cx="208.3" cy="249.5" r="8.6"/><circle cx="249.9" cy="238.3" r="8.0"/><circle cx="216.0" cy="250.2" r="8.6"/><circle cx="227.2" cy="247.9" r="8.9"/><circle cx="237.3" cy="245.1" r="8.2"/><circle cx="250.2" cy="241.2" r="5.5"/><circle cx="221.7" cy="253.0" r="9.8"/></g></defs><use href="#sphAL" filter="url(#mA1)"/><g opacity="0.9"><path d="M75.0 100.0 C74.5 98.0 70.3 91.3 72.0 88.0 C73.7 84.7 81.2 80.0 85.0 80.0 C88.8 80.0 92.5 88.7 95.0 88.0 C97.5 87.3 97.2 78.7 100.0 76.0 C102.8 73.3 109.0 70.3 112.0 72.0 C115.0 73.7 117.0 83.7 118.0 86.0" fill="none" stroke="#c8c83a" stroke-width="1.6" stroke-linecap="round" stroke-linejoin="round" opacity="1"/><g transform="translate(67.0 97.0) rotate(4.6)" opacity="1"><rect x="0" y="-7.0" width="25.1" height="14.0" rx="4.2" fill="#9f9f2b"/><path d="M0.0 -7.0 Q5.9 0 2.3 7.0 L5.2 7.0 Q8.8 0 2.9 -7.0 Z" fill="#d4d43a"/><path d="M6.5 -7.0 Q12.4 0 8.8 7.0 L11.7 7.0 Q15.3 0 9.4 -7.0 Z" fill="#d4d43a"/><path d="M13.0 -7.0 Q18.9 0 15.3 7.0 L18.2 7.0 Q21.8 0 15.9 -7.0 Z" fill="#d4d43a"/></g><path d="M68.0 108.0 C68.3 110.0 67.2 117.5 70.0 120.0 C72.8 122.5 80.7 123.8 85.0 123.0 C89.3 122.2 93.5 118.8 96.0 115.0 C98.5 111.2 99.3 102.5 100.0 100.0" fill="none" stroke="#c8c83a" stroke-width="1.5" stroke-linecap="round" stroke-linejoin="round" opacity="1"/><g transform="translate(110.0 90.0) rotate(36.4)" opacity="1"><rect x="0" y="-8.0" width="47.2" height="16.0" rx="4.8" fill="#72992a"/><path d="M0.0 -8.0 Q6.3 0 2.4 8.0 L5.6 8.0 Q9.5 0 3.1 -8.0 Z" fill="#98cc38"/><path d="M7.0 -8.0 Q13.3 0 9.4 8.0 L12.6 8.0 Q16.5 0 10.2 -8.0 Z" fill="#98cc38"/><path d="M14.0 -8.0 Q20.3 0 16.4 8.0 L19.6 8.0 Q23.5 0 17.1 -8.0 Z" fill="#98cc38"/><path d="M21.0 -8.0 Q27.3 0 23.4 8.0 L26.6 8.0 Q30.5 0 24.1 -8.0 Z" fill="#98cc38"/><path d="M28.0 -8.0 Q34.3 0 30.4 8.0 L33.6 8.0 Q37.5 0 31.1 -8.0 Z" fill="#98cc38"/><path d="M35.0 -8.0 Q41.3 0 37.5 8.0 L40.6 8.0 Q44.5 0 38.1 -8.0 Z" fill="#98cc38"/></g><g transform="translate(109.0 121.0) rotate(0.0)" fill="none" opacity="1"><ellipse cx="0.0" cy="0.0" rx="13.0" ry="13.0" stroke="#6e6026" stroke-width="2.6"/><ellipse cx="1.8" cy="0.8" rx="13.0" ry="13.0" stroke="#80702c" stroke-width="2.6"/><ellipse cx="3.6" cy="1.6" rx="13.0" ry="13.0" stroke="#938033" stroke-width="2.6"/><ellipse cx="5.4" cy="2.4" rx="13.0" ry="13.0" stroke="#a59039" stroke-width="2.6"/><ellipse cx="7.2" cy="3.2" rx="13.0" ry="13.0" stroke="#b8a040" stroke-width="2.6"/></g><g transform="translate(73.5 143.0) rotate(0.0)" fill="none" opacity="1"><ellipse cx="0.0" cy="0.0" rx="11.0" ry="13.0" stroke="#73432b" stroke-width="2.6"/><ellipse cx="1.2" cy="0.5" rx="11.0" ry="13.0" stroke="#864e32" stroke-width="2.6"/><ellipse cx="2.4" cy="1.0" rx="11.0" ry="13.0" stroke="#995939" stroke-width="2.6"/><ellipse cx="3.6" cy="1.5" rx="11.0" ry="13.0" stroke="#ac6440" stroke-width="2.6"/><ellipse cx="4.8" cy="2.0" rx="11.0" ry="13.0" stroke="#c07048" stroke-width="2.6"/></g><g transform="translate(106.5 161.0) rotate(0.0)" fill="none" opacity="1"><ellipse cx="0.0" cy="0.0" rx="10.0" ry="11.0" stroke="#784c26" stroke-width="2.6"/><ellipse cx="1.2" cy="1.0" rx="10.0" ry="11.0" stroke="#925d2e" stroke-width="2.6"/><ellipse cx="2.4" cy="2.0" rx="10.0" ry="11.0" stroke="#ad6e37" stroke-width="2.6"/><ellipse cx="3.6" cy="3.0" rx="10.0" ry="11.0" stroke="#c88040" stroke-width="2.6"/></g><g transform="translate(79.0 163.0) rotate(56.3)" opacity="1"><path d="M0 -5.0 L27.8 -5.0 L27.8 -10.0 L39.7 0 L27.8 10.0 L27.8 5.0 L0 5.0 Z" fill="#b03838"/><path d="M0 1.7 L27.8 1.7 L27.8 5.0 L0 5.0 Z" fill="#7b2727"/></g><g transform="translate(64.0 168.0) rotate(63.4)" opacity="1"><path d="M0 -4.0 L28.2 -4.0 L28.2 -8.0 L40.2 0 L28.2 8.0 L28.2 4.0 L0 4.0 Z" fill="#2830b8"/><path d="M0 1.3 L28.2 1.3 L28.2 4.0 L0 4.0 Z" fill="#1c2180"/></g><g transform="translate(53.0 196.0) rotate(46.4)" opacity="1"><path d="M0 -3.5 L20.3 -3.5 L20.3 -7.0 L29.0 0 L20.3 7.0 L20.3 3.5 L0 3.5 Z" fill="#28a078"/><path d="M0 1.2 L20.3 1.2 L20.3 3.5 L0 3.5 Z" fill="#1c7054"/></g><g transform="translate(106.0 208.0) rotate(0.0)" fill="none" opacity="1"><ellipse cx="0.0" cy="0.0" rx="13.0" ry="13.0" stroke="#21346e" stroke-width="2.6"/><ellipse cx="2.2" cy="1.2" rx="13.0" ry="13.0" stroke="#273d80" stroke-width="2.6"/><ellipse cx="4.4" cy="2.4" rx="13.0" ry="13.0" stroke="#2c4693" stroke-width="2.6"/><ellipse cx="6.6" cy="3.6" rx="13.0" ry="13.0" stroke="#324fa5" stroke-width="2.6"/><ellipse cx="8.8" cy="4.8" rx="13.0" ry="13.0" stroke="#3858b8" stroke-width="2.6"/></g><g transform="translate(126.0 140.0) rotate(35.8)" opacity="1"><rect x="0" y="-6.5" width="30.8" height="13.0" rx="3.9" fill="#369030"/><path d="M0.0 -6.5 Q5.4 0 2.1 6.5 L4.8 6.5 Q8.1 0 2.7 -6.5 Z" fill="#48c040"/><path d="M6.0 -6.5 Q11.4 0 8.1 6.5 L10.8 6.5 Q14.1 0 8.7 -6.5 Z" fill="#48c040"/><path d="M12.0 -6.5 Q17.4 0 14.1 6.5 L16.8 6.5 Q20.1 0 14.7 -6.5 Z" fill="#48c040"/><path d="M18.0 -6.5 Q23.4 0 20.1 6.5 L22.8 6.5 Q26.1 0 20.7 -6.5 Z" fill="#48c040"/><path d="M24.0 -6.5 Q29.4 0 26.1 6.5 L28.8 6.5 Q32.1 0 26.7 -6.5 Z" fill="#48c040"/></g><g transform="translate(136.0 158.0) rotate(65.1)" opacity="1"><rect x="0" y="-6.5" width="30.9" height="13.0" rx="3.9" fill="#308a36"/><path d="M0.0 -6.5 Q5.4 0 2.1 6.5 L4.8 6.5 Q8.1 0 2.7 -6.5 Z" fill="#40b848"/><path d="M6.0 -6.5 Q11.4 0 8.1 6.5 L10.8 6.5 Q14.1 0 8.7 -6.5 Z" fill="#40b848"/><path d="M12.0 -6.5 Q17.4 0 14.1 6.5 L16.8 6.5 Q20.1 0 14.7 -6.5 Z" fill="#40b848"/><path d="M18.0 -6.5 Q23.4 0 20.1 6.5 L22.8 6.5 Q26.1 0 20.7 -6.5 Z" fill="#40b848"/><path d="M24.0 -6.5 Q29.4 0 26.1 6.5 L28.8 6.5 Q32.1 0 26.7 -6.5 Z" fill="#40b848"/></g><g transform="translate(141.0 190.0) rotate(0.0)" fill="none" opacity="1"><ellipse cx="0.0" cy="0.0" rx="10.0" ry="10.0" stroke="#21642b" stroke-width="2.4"/><ellipse cx="0.5" cy="2.5" rx="10.0" ry="10.0" stroke="#297b34" stroke-width="2.4"/><ellipse cx="1.0" cy="5.0" rx="10.0" ry="10.0" stroke="#30913e" stroke-width="2.4"/><ellipse cx="1.5" cy="7.5" rx="10.0" ry="10.0" stroke="#38a848" stroke-width="2.4"/></g><path d="M118.0 230.0 C116.7 228.3 110.7 225.0 110.0 220.0 C109.3 215.0 114.0 205.8 114.0 200.0 C114.0 194.2 109.3 189.2 110.0 185.0 C110.7 180.8 115.0 175.8 118.0 175.0 C121.0 174.2 125.2 175.8 128.0 180.0 C130.8 184.2 134.7 194.2 135.0 200.0 C135.3 205.8 132.2 210.8 130.0 215.0 C127.8 219.2 123.3 223.3 122.0 225.0" fill="none" stroke="#c83838" stroke-width="1.3" stroke-linecap="round" stroke-linejoin="round" opacity="1"/><path d="M40.0 175.0 C41.7 173.8 46.7 168.5 50.0 168.0 C53.3 167.5 58.0 169.0 60.0 172.0 C62.0 175.0 62.7 182.0 62.0 186.0 C61.3 190.0 58.3 192.0 56.0 196.0 C53.7 200.0 49.7 204.7 48.0 210.0 C46.3 215.3 44.3 223.7 46.0 228.0 C47.7 232.3 53.2 234.3 58.0 236.0 C62.8 237.7 69.7 236.5 75.0 238.0 C80.3 239.5 85.0 244.2 90.0 245.0 C95.0 245.8 100.3 244.2 105.0 243.0 C109.7 241.8 113.8 239.8 118.0 238.0 C122.2 236.2 128.7 235.0 130.0 232.0 C131.3 229.0 126.7 222.0 126.0 220.0" fill="none" stroke="#3040a8" stroke-width="1.5" stroke-linecap="round" stroke-linejoin="round" opacity="1"/><path d="M30.0 174.0 C33.0 173.0 43.8 167.0 48.0 168.0 C52.2 169.0 53.0 173.0 55.0 180.0 C57.0 187.0 57.2 202.5 60.0 210.0 C62.8 217.5 66.2 222.5 72.0 225.0 C77.8 227.5 88.3 222.5 95.0 225.0 C101.7 227.5 106.5 237.0 112.0 240.0 C117.5 243.0 124.2 243.7 128.0 243.0 C131.8 242.3 133.8 237.2 135.0 236.0" fill="none" stroke="#28a890" stroke-width="1.5" stroke-linecap="round" stroke-linejoin="round" opacity="1"/><path d="M110.0 175.0 C110.8 173.3 113.3 169.2 115.0 165.0 C116.7 160.8 117.2 152.5 120.0 150.0 C122.8 147.5 129.0 148.3 132.0 150.0 C135.0 151.7 137.0 158.3 138.0 160.0" fill="none" stroke="#2090a0" stroke-width="1.5" stroke-linecap="round" stroke-linejoin="round" opacity="1"/><path d="M72.0 238.0 C74.3 240.0 80.0 247.7 86.0 250.0 C92.0 252.3 101.0 252.7 108.0 252.0 C115.0 251.3 124.7 247.0 128.0 246.0" fill="none" stroke="#2078b0" stroke-width="1.3" stroke-linecap="round" stroke-linejoin="round" opacity="1"/></g><g opacity="0.9" transform="translate(316 -1) scale(-1 1)"><path d="M75.0 100.0 C74.5 98.0 70.3 91.3 72.0 88.0 C73.7 84.7 81.2 80.0 85.0 80.0 C88.8 80.0 92.5 88.7 95.0 88.0 C97.5 87.3 97.2 78.7 100.0 76.0 C102.8 73.3 109.0 70.3 112.0 72.0 C115.0 73.7 117.0 83.7 118.0 86.0" fill="none" stroke="#c8c83a" stroke-width="1.6" stroke-linecap="round" stroke-linejoin="round" opacity="1"/><g transform="translate(67.0 97.0) rotate(4.6)" opacity="1"><rect x="0" y="-7.0" width="25.1" height="14.0" rx="4.2" fill="#9f9f2b"/><path d="M0.0 -7.0 Q5.9 0 2.3 7.0 L5.2 7.0 Q8.8 0 2.9 -7.0 Z" fill="#d4d43a"/><path d="M6.5 -7.0 Q12.4 0 8.8 7.0 L11.7 7.0 Q15.3 0 9.4 -7.0 Z" fill="#d4d43a"/><path d="M13.0 -7.0 Q18.9 0 15.3 7.0 L18.2 7.0 Q21.8 0 15.9 -7.0 Z" fill="#d4d43a"/></g><path d="M68.0 108.0 C68.3 110.0 67.2 117.5 70.0 120.0 C72.8 122.5 80.7 123.8 85.0 123.0 C89.3 122.2 93.5 118.8 96.0 115.0 C98.5 111.2 99.3 102.5 100.0 100.0" fill="none" stroke="#c8c83a" stroke-width="1.5" stroke-linecap="round" stroke-linejoin="round" opacity="1"/><g transform="translate(110.0 90.0) rotate(36.4)" opacity="1"><rect x="0" y="-8.0" width="47.2" height="16.0" rx="4.8" fill="#72992a"/><path d="M0.0 -8.0 Q6.3 0 2.4 8.0 L5.6 8.0 Q9.5 0 3.1 -8.0 Z" fill="#98cc38"/><path d="M7.0 -8.0 Q13.3 0 9.4 8.0 L12.6 8.0 Q16.5 0 10.2 -8.0 Z" fill="#98cc38"/><path d="M14.0 -8.0 Q20.3 0 16.4 8.0 L19.6 8.0 Q23.5 0 17.1 -8.0 Z" fill="#98cc38"/><path d="M21.0 -8.0 Q27.3 0 23.4 8.0 L26.6 8.0 Q30.5 0 24.1 -8.0 Z" fill="#98cc38"/><path d="M28.0 -8.0 Q34.3 0 30.4 8.0 L33.6 8.0 Q37.5 0 31.1 -8.0 Z" fill="#98cc38"/><path d="M35.0 -8.0 Q41.3 0 37.5 8.0 L40.6 8.0 Q44.5 0 38.1 -8.0 Z" fill="#98cc38"/></g><g transform="translate(109.0 121.0) rotate(0.0)" fill="none" opacity="1"><ellipse cx="0.0" cy="0.0" rx="13.0" ry="13.0" stroke="#6e6026" stroke-width="2.6"/><ellipse cx="1.8" cy="0.8" rx="13.0" ry="13.0" stroke="#80702c" stroke-width="2.6"/><ellipse cx="3.6" cy="1.6" rx="13.0" ry="13.0" stroke="#938033" stroke-width="2.6"/><ellipse cx="5.4" cy="2.4" rx="13.0" ry="13.0" stroke="#a59039" stroke-width="2.6"/><ellipse cx="7.2" cy="3.2" rx="13.0" ry="13.0" stroke="#b8a040" stroke-width="2.6"/></g><g transform="translate(73.5 143.0) rotate(0.0)" fill="none" opacity="1"><ellipse cx="0.0" cy="0.0" rx="11.0" ry="13.0" stroke="#73432b" stroke-width="2.6"/><ellipse cx="1.2" cy="0.5" rx="11.0" ry="13.0" stroke="#864e32" stroke-width="2.6"/><ellipse cx="2.4" cy="1.0" rx="11.0" ry="13.0" stroke="#995939" stroke-width="2.6"/><ellipse cx="3.6" cy="1.5" rx="11.0" ry="13.0" stroke="#ac6440" stroke-width="2.6"/><ellipse cx="4.8" cy="2.0" rx="11.0" ry="13.0" stroke="#c07048" stroke-width="2.6"/></g><g transform="translate(106.5 161.0) rotate(0.0)" fill="none" opacity="1"><ellipse cx="0.0" cy="0.0" rx="10.0" ry="11.0" stroke="#784c26" stroke-width="2.6"/><ellipse cx="1.2" cy="1.0" rx="10.0" ry="11.0" stroke="#925d2e" stroke-width="2.6"/><ellipse cx="2.4" cy="2.0" rx="10.0" ry="11.0" stroke="#ad6e37" stroke-width="2.6"/><ellipse cx="3.6" cy="3.0" rx="10.0" ry="11.0" stroke="#c88040" stroke-width="2.6"/></g><g transform="translate(79.0 163.0) rotate(56.3)" opacity="1"><path d="M0 -5.0 L27.8 -5.0 L27.8 -10.0 L39.7 0 L27.8 10.0 L27.8 5.0 L0 5.0 Z" fill="#b03838"/><path d="M0 1.7 L27.8 1.7 L27.8 5.0 L0 5.0 Z" fill="#7b2727"/></g><g transform="translate(64.0 168.0) rotate(63.4)" opacity="1"><path d="M0 -4.0 L28.2 -4.0 L28.2 -8.0 L40.2 0 L28.2 8.0 L28.2 4.0 L0 4.0 Z" fill="#2830b8"/><path d="M0 1.3 L28.2 1.3 L28.2 4.0 L0 4.0 Z" fill="#1c2180"/></g><g transform="translate(53.0 196.0) rotate(46.4)" opacity="1"><path d="M0 -3.5 L20.3 -3.5 L20.3 -7.0 L29.0 0 L20.3 7.0 L20.3 3.5 L0 3.5 Z" fill="#28a078"/><path d="M0 1.2 L20.3 1.2 L20.3 3.5 L0 3.5 Z" fill="#1c7054"/></g><g transform="translate(106.0 208.0) rotate(0.0)" fill="none" opacity="1"><ellipse cx="0.0" cy="0.0" rx="13.0" ry="13.0" stroke="#21346e" stroke-width="2.6"/><ellipse cx="2.2" cy="1.2" rx="13.0" ry="13.0" stroke="#273d80" stroke-width="2.6"/><ellipse cx="4.4" cy="2.4" rx="13.0" ry="13.0" stroke="#2c4693" stroke-width="2.6"/><ellipse cx="6.6" cy="3.6" rx="13.0" ry="13.0" stroke="#324fa5" stroke-width="2.6"/><ellipse cx="8.8" cy="4.8" rx="13.0" ry="13.0" stroke="#3858b8" stroke-width="2.6"/></g><g transform="translate(126.0 140.0) rotate(35.8)" opacity="1"><rect x="0" y="-6.5" width="30.8" height="13.0" rx="3.9" fill="#369030"/><path d="M0.0 -6.5 Q5.4 0 2.1 6.5 L4.8 6.5 Q8.1 0 2.7 -6.5 Z" fill="#48c040"/><path d="M6.0 -6.5 Q11.4 0 8.1 6.5 L10.8 6.5 Q14.1 0 8.7 -6.5 Z" fill="#48c040"/><path d="M12.0 -6.5 Q17.4 0 14.1 6.5 L16.8 6.5 Q20.1 0 14.7 -6.5 Z" fill="#48c040"/><path d="M18.0 -6.5 Q23.4 0 20.1 6.5 L22.8 6.5 Q26.1 0 20.7 -6.5 Z" fill="#48c040"/><path d="M24.0 -6.5 Q29.4 0 26.1 6.5 L28.8 6.5 Q32.1 0 26.7 -6.5 Z" fill="#48c040"/></g><g transform="translate(136.0 158.0) rotate(65.1)" opacity="1"><rect x="0" y="-6.5" width="30.9" height="13.0" rx="3.9" fill="#308a36"/><path d="M0.0 -6.5 Q5.4 0 2.1 6.5 L4.8 6.5 Q8.1 0 2.7 -6.5 Z" fill="#40b848"/><path d="M6.0 -6.5 Q11.4 0 8.1 6.5 L10.8 6.5 Q14.1 0 8.7 -6.5 Z" fill="#40b848"/><path d="M12.0 -6.5 Q17.4 0 14.1 6.5 L16.8 6.5 Q20.1 0 14.7 -6.5 Z" fill="#40b848"/><path d="M18.0 -6.5 Q23.4 0 20.1 6.5 L22.8 6.5 Q26.1 0 20.7 -6.5 Z" fill="#40b848"/><path d="M24.0 -6.5 Q29.4 0 26.1 6.5 L28.8 6.5 Q32.1 0 26.7 -6.5 Z" fill="#40b848"/></g><g transform="translate(141.0 190.0) rotate(0.0)" fill="none" opacity="1"><ellipse cx="0.0" cy="0.0" rx="10.0" ry="10.0" stroke="#21642b" stroke-width="2.4"/><ellipse cx="0.5" cy="2.5" rx="10.0" ry="10.0" stroke="#297b34" stroke-width="2.4"/><ellipse cx="1.0" cy="5.0" rx="10.0" ry="10.0" stroke="#30913e" stroke-width="2.4"/><ellipse cx="1.5" cy="7.5" rx="10.0" ry="10.0" stroke="#38a848" stroke-width="2.4"/></g><path d="M118.0 230.0 C116.7 228.3 110.7 225.0 110.0 220.0 C109.3 215.0 114.0 205.8 114.0 200.0 C114.0 194.2 109.3 189.2 110.0 185.0 C110.7 180.8 115.0 175.8 118.0 175.0 C121.0 174.2 125.2 175.8 128.0 180.0 C130.8 184.2 134.7 194.2 135.0 200.0 C135.3 205.8 132.2 210.8 130.0 215.0 C127.8 219.2 123.3 223.3 122.0 225.0" fill="none" stroke="#c83838" stroke-width="1.3" stroke-linecap="round" stroke-linejoin="round" opacity="1"/><path d="M40.0 175.0 C41.7 173.8 46.7 168.5 50.0 168.0 C53.3 167.5 58.0 169.0 60.0 172.0 C62.0 175.0 62.7 182.0 62.0 186.0 C61.3 190.0 58.3 192.0 56.0 196.0 C53.7 200.0 49.7 204.7 48.0 210.0 C46.3 215.3 44.3 223.7 46.0 228.0 C47.7 232.3 53.2 234.3 58.0 236.0 C62.8 237.7 69.7 236.5 75.0 238.0 C80.3 239.5 85.0 244.2 90.0 245.0 C95.0 245.8 100.3 244.2 105.0 243.0 C109.7 241.8 113.8 239.8 118.0 238.0 C122.2 236.2 128.7 235.0 130.0 232.0 C131.3 229.0 126.7 222.0 126.0 220.0" fill="none" stroke="#3040a8" stroke-width="1.5" stroke-linecap="round" stroke-linejoin="round" opacity="1"/><path d="M30.0 174.0 C33.0 173.0 43.8 167.0 48.0 168.0 C52.2 169.0 53.0 173.0 55.0 180.0 C57.0 187.0 57.2 202.5 60.0 210.0 C62.8 217.5 66.2 222.5 72.0 225.0 C77.8 227.5 88.3 222.5 95.0 225.0 C101.7 227.5 106.5 237.0 112.0 240.0 C117.5 243.0 124.2 243.7 128.0 243.0 C131.8 242.3 133.8 237.2 135.0 236.0" fill="none" stroke="#28a890" stroke-width="1.5" stroke-linecap="round" stroke-linejoin="round" opacity="1"/><path d="M110.0 175.0 C110.8 173.3 113.3 169.2 115.0 165.0 C116.7 160.8 117.2 152.5 120.0 150.0 C122.8 147.5 129.0 148.3 132.0 150.0 C135.0 151.7 137.0 158.3 138.0 160.0" fill="none" stroke="#2090a0" stroke-width="1.5" stroke-linecap="round" stroke-linejoin="round" opacity="1"/><path d="M72.0 238.0 C74.3 240.0 80.0 247.7 86.0 250.0 C92.0 252.3 101.0 252.7 108.0 252.0 C115.0 251.3 124.7 247.0 128.0 246.0" fill="none" stroke="#2078b0" stroke-width="1.3" stroke-linecap="round" stroke-linejoin="round" opacity="1"/></g><use href="#sphAL" filter="url(#mA2)" opacity="0.2"/><path d="M157.5 214.0 C156.0 214.0 155.1 222.0 153.0 226.0 C150.9 230.0 148.2 234.0 145.0 238.0 C141.8 242.0 136.8 246.0 134.0 250.0 C131.2 254.0 118.7 260.0 128.0 262.0 C137.3 264.0 181.0 264.0 190.0 262.0 C199.0 260.0 185.3 254.0 182.0 250.0 C178.7 246.0 173.3 242.0 170.0 238.0 C166.7 234.0 164.1 230.0 162.0 226.0 C159.9 222.0 159.0 214.0 157.5 214.0 Z" fill="#ffffff" /><text x="140.3" y="76" font-size="25" font-family="Liberation Serif" font-weight="bold">β</text><text x="153.3" y="75.6" font-size="24.5" font-family="Liberation Sans" font-weight="bold">5</text><g transform="translate(151.9 80.6) rotate(96.8)"><line x1="0" y1="0" x2="48.1" y2="0" stroke="#000" stroke-width="2.8"/><path d="M61.1 0 L47.1 -4.8 L47.1 4.8 Z" fill="#000"/></g><g transform="translate(152.3 80.6) rotate(81.2)"><line x1="0" y1="0" x2="45.9" y2="0" stroke="#000" stroke-width="2.8"/><path d="M58.9 0 L44.9 -4.8 L44.9 4.8 Z" fill="#000"/></g><defs><g id="sphAR" fill="url(#ag)"><circle cx="409.6" cy="80.0" r="8.0"/><circle cx="414.8" cy="80.8" r="7.4"/><circle cx="403.0" cy="84.7" r="5.2"/><circle cx="400.0" cy="88.0" r="6.0"/><circle cx="390.4" cy="92.3" r="6.5"/><circle cx="395.1" cy="91.0" r="8.6"/><circle cx="407.6" cy="92.9" r="7.1"/><circle cx="392.9" cy="97.3" r="7.6"/><circle cx="405.5" cy="94.2" r="6.8"/><circle cx="398.7" cy="97.0" r="6.8"/><circle cx="416.5" cy="93.1" r="5.8"/><circle cx="388.2" cy="102.7" r="6.8"/><circle cx="434.0" cy="89.1" r="9.4"/><circle cx="421.8" cy="92.8" r="6.8"/><circle cx="446.1" cy="85.8" r="6.4"/><circle cx="525.5" cy="62.6" r="7.7"/><circle cx="442.4" cy="88.0" r="8.9"/><circle cx="431.2" cy="91.8" r="9.9"/><circle cx="536.2" cy="61.7" r="6.9"/><circle cx="541.8" cy="60.4" r="9.8"/><circle cx="402.9" cy="102.8" r="6.2"/><circle cx="418.6" cy="98.5" r="6.5"/><circle cx="396.0" cy="105.4" r="8.2"/><circle cx="386.7" cy="108.5" r="9.8"/><circle cx="406.1" cy="102.8" r="7.8"/><circle cx="413.1" cy="101.1" r="6.9"/><circle cx="518.6" cy="69.8" r="5.8"/><circle cx="392.0" cy="107.9" r="7.1"/><circle cx="549.4" cy="60.7" r="7.5"/><circle cx="448.6" cy="91.0" r="9.0"/><circle cx="423.2" cy="99.9" r="7.4"/><circle cx="426.7" cy="99.0" r="8.4"/><circle cx="383.4" cy="112.2" r="9.3"/><circle cx="527.2" cy="70.7" r="6.9"/><circle cx="445.2" cy="95.4" r="5.2"/><circle cx="459.2" cy="91.3" r="6.4"/><circle cx="541.8" cy="67.1" r="8.7"/><circle cx="518.5" cy="74.3" r="8.6"/><circle cx="421.8" cy="103.4" r="8.8"/><circle cx="465.0" cy="90.6" r="6.4"/><circle cx="438.6" cy="99.0" r="9.8"/><circle cx="448.8" cy="96.5" r="6.4"/><circle cx="406.9" cy="109.2" r="9.0"/><circle cx="557.6" cy="64.8" r="8.5"/><circle cx="534.1" cy="71.9" r="8.0"/><circle cx="569.0" cy="61.8" r="5.3"/><circle cx="388.4" cy="116.1" r="6.4"/><circle cx="457.3" cy="95.6" r="8.3"/><circle cx="564.9" cy="63.9" r="6.8"/><circle cx="415.1" cy="109.0" r="7.4"/><circle cx="427.6" cy="105.3" r="7.2"/><circle cx="473.2" cy="92.5" r="9.6"/><circle cx="379.4" cy="120.7" r="6.5"/><circle cx="557.6" cy="67.2" r="9.6"/><circle cx="547.7" cy="70.4" r="9.8"/><circle cx="478.6" cy="91.3" r="9.8"/><circle cx="403.9" cy="113.9" r="7.3"/><circle cx="485.8" cy="89.5" r="6.5"/><circle cx="463.0" cy="96.8" r="5.5"/><circle cx="525.0" cy="78.3" r="6.8"/><circle cx="563.5" cy="67.0" r="5.2"/><circle cx="451.3" cy="101.0" r="6.7"/><circle cx="406.0" cy="115.2" r="9.3"/><circle cx="540.0" cy="75.2" r="8.5"/><circle cx="435.1" cy="107.0" r="7.0"/><circle cx="443.5" cy="105.3" r="5.7"/><circle cx="534.7" cy="78.1" r="5.4"/><circle cx="489.8" cy="92.3" r="10.0"/><circle cx="398.7" cy="119.8" r="8.2"/><circle cx="547.2" cy="75.5" r="6.0"/><circle cx="381.5" cy="125.2" r="7.7"/><circle cx="509.0" cy="87.2" r="6.9"/><circle cx="567.9" cy="69.5" r="7.4"/><circle cx="421.1" cy="113.6" r="9.8"/><circle cx="397.1" cy="121.1" r="7.6"/><circle cx="526.5" cy="82.4" r="7.8"/><circle cx="457.0" cy="103.4" r="5.4"/><circle cx="412.4" cy="117.3" r="6.3"/><circle cx="420.3" cy="115.1" r="9.7"/><circle cx="522.7" cy="84.6" r="8.2"/><circle cx="472.1" cy="99.8" r="9.0"/><circle cx="432.4" cy="112.0" r="8.6"/><circle cx="375.6" cy="129.1" r="7.4"/><circle cx="467.0" cy="101.9" r="8.5"/><circle cx="556.1" cy="75.5" r="8.2"/><circle cx="477.5" cy="99.2" r="9.2"/><circle cx="435.3" cy="112.0" r="6.3"/><circle cx="399.2" cy="123.5" r="8.7"/><circle cx="393.4" cy="125.2" r="8.6"/><circle cx="384.6" cy="128.0" r="9.7"/><circle cx="539.4" cy="81.8" r="7.5"/><circle cx="573.4" cy="71.8" r="5.3"/><circle cx="532.8" cy="84.2" r="5.5"/><circle cx="559.4" cy="76.4" r="9.7"/><circle cx="450.2" cy="109.6" r="6.9"/><circle cx="585.6" cy="69.0" r="9.0"/><circle cx="567.9" cy="74.3" r="8.9"/><circle cx="513.7" cy="90.7" r="5.8"/><circle cx="485.2" cy="99.5" r="5.6"/><circle cx="520.2" cy="89.0" r="5.3"/><circle cx="441.4" cy="112.8" r="6.8"/><circle cx="505.4" cy="94.6" r="6.7"/><circle cx="490.1" cy="99.2" r="6.6"/><circle cx="477.1" cy="103.5" r="7.7"/><circle cx="468.9" cy="106.0" r="8.1"/><circle cx="386.5" cy="130.8" r="9.9"/><circle cx="442.0" cy="115.0" r="8.7"/><circle cx="392.7" cy="130.1" r="9.6"/><circle cx="405.6" cy="126.4" r="6.8"/><circle cx="383.6" cy="133.2" r="7.2"/><circle cx="574.3" cy="76.1" r="7.0"/><circle cx="482.4" cy="103.8" r="6.1"/><circle cx="455.4" cy="112.0" r="6.2"/><circle cx="413.5" cy="124.7" r="8.1"/><circle cx="461.6" cy="110.4" r="6.9"/><circle cx="549.1" cy="84.3" r="7.9"/><circle cx="372.3" cy="137.4" r="6.8"/><circle cx="581.4" cy="74.9" r="9.0"/><circle cx="429.4" cy="121.1" r="8.9"/><circle cx="562.4" cy="81.2" r="8.7"/><circle cx="450.8" cy="115.0" r="5.4"/><circle cx="528.9" cy="91.7" r="9.8"/><circle cx="539.7" cy="88.9" r="6.0"/><circle cx="512.4" cy="97.7" r="5.7"/><circle cx="555.1" cy="85.3" r="7.6"/><circle cx="478.5" cy="108.7" r="6.5"/><circle cx="439.1" cy="120.7" r="6.7"/><circle cx="535.6" cy="91.9" r="8.3"/><circle cx="552.5" cy="87.3" r="8.4"/><circle cx="382.3" cy="138.4" r="8.3"/><circle cx="491.6" cy="106.8" r="5.3"/><circle cx="400.4" cy="134.2" r="6.3"/><circle cx="470.2" cy="113.3" r="7.8"/><circle cx="422.4" cy="127.7" r="8.3"/><circle cx="523.3" cy="97.4" r="6.4"/><circle cx="566.7" cy="84.9" r="8.3"/><circle cx="429.3" cy="126.4" r="5.2"/><circle cx="533.3" cy="95.2" r="8.0"/><circle cx="487.9" cy="108.8" r="7.9"/><circle cx="387.8" cy="139.3" r="9.2"/><circle cx="455.7" cy="119.1" r="9.4"/><circle cx="406.6" cy="133.9" r="8.4"/><circle cx="508.5" cy="103.8" r="7.0"/><circle cx="548.6" cy="91.9" r="7.8"/><circle cx="491.0" cy="109.2" r="7.6"/><circle cx="472.4" cy="114.9" r="7.3"/><circle cx="442.4" cy="124.0" r="8.6"/><circle cx="423.0" cy="130.4" r="5.4"/><circle cx="396.6" cy="138.4" r="6.6"/><circle cx="375.5" cy="144.8" r="7.1"/><circle cx="584.7" cy="82.3" r="6.5"/><circle cx="527.2" cy="99.6" r="5.2"/><circle cx="380.7" cy="143.8" r="6.1"/><circle cx="523.0" cy="101.7" r="7.5"/><circle cx="438.9" cy="127.1" r="8.5"/><circle cx="467.0" cy="118.7" r="7.8"/><circle cx="414.0" cy="134.7" r="9.8"/><circle cx="579.6" cy="85.2" r="7.6"/><circle cx="448.9" cy="124.7" r="7.6"/><circle cx="563.2" cy="90.6" r="6.4"/><circle cx="499.1" cy="109.9" r="8.2"/><circle cx="505.5" cy="108.1" r="6.4"/><circle cx="544.4" cy="97.2" r="7.7"/><circle cx="515.1" cy="106.1" r="9.7"/><circle cx="567.6" cy="91.3" r="6.2"/><circle cx="369.4" cy="151.0" r="9.2"/><circle cx="407.9" cy="139.5" r="6.7"/><circle cx="545.7" cy="98.2" r="5.6"/><circle cx="477.0" cy="119.0" r="8.8"/><circle cx="404.2" cy="141.5" r="6.4"/><circle cx="560.2" cy="95.3" r="5.4"/><circle cx="532.3" cy="103.9" r="9.3"/><circle cx="527.7" cy="105.3" r="6.5"/><circle cx="396.5" cy="144.8" r="5.4"/><circle cx="446.5" cy="129.8" r="6.5"/><circle cx="585.2" cy="88.3" r="9.3"/><circle cx="457.1" cy="126.8" r="7.3"/><circle cx="553.6" cy="97.8" r="7.8"/><circle cx="373.4" cy="152.0" r="6.7"/><circle cx="431.0" cy="134.9" r="9.4"/><circle cx="471.2" cy="122.9" r="7.4"/><circle cx="488.3" cy="117.7" r="7.0"/><circle cx="450.5" cy="129.1" r="5.0"/><circle cx="576.1" cy="91.5" r="5.5"/><circle cx="433.7" cy="134.2" r="9.4"/><circle cx="378.3" cy="151.0" r="6.5"/><circle cx="516.3" cy="109.8" r="6.8"/><circle cx="386.7" cy="148.8" r="6.4"/><circle cx="416.5" cy="139.9" r="5.5"/><circle cx="400.0" cy="145.1" r="7.5"/><circle cx="426.9" cy="138.0" r="9.1"/><circle cx="462.1" cy="127.4" r="9.1"/><circle cx="385.1" cy="151.2" r="9.7"/><circle cx="520.5" cy="111.0" r="9.1"/><circle cx="527.2" cy="109.5" r="9.2"/><circle cx="476.5" cy="124.9" r="6.8"/><circle cx="440.4" cy="136.2" r="6.6"/><circle cx="495.1" cy="119.8" r="8.3"/><circle cx="486.2" cy="122.6" r="9.5"/><circle cx="460.1" cy="130.4" r="5.0"/><circle cx="549.6" cy="103.6" r="9.0"/><circle cx="544.5" cy="105.1" r="5.1"/><circle cx="438.7" cy="137.0" r="9.2"/><circle cx="424.4" cy="141.3" r="8.6"/><circle cx="364.7" cy="159.7" r="8.1"/><circle cx="580.5" cy="95.0" r="8.8"/><circle cx="533.2" cy="109.4" r="5.2"/><circle cx="396.8" cy="150.4" r="8.2"/><circle cx="409.0" cy="147.0" r="7.9"/><circle cx="415.1" cy="145.5" r="7.8"/><circle cx="490.1" cy="123.3" r="8.1"/><circle cx="502.1" cy="120.0" r="6.3"/><circle cx="541.2" cy="108.4" r="9.8"/><circle cx="375.0" cy="158.4" r="6.1"/><circle cx="506.6" cy="119.2" r="6.8"/><circle cx="449.4" cy="136.5" r="7.7"/><circle cx="558.1" cy="104.2" r="9.1"/><circle cx="572.2" cy="100.0" r="7.2"/><circle cx="420.8" cy="145.4" r="9.7"/><circle cx="513.9" cy="117.7" r="5.7"/><circle cx="429.3" cy="143.3" r="8.2"/><circle cx="407.0" cy="150.6" r="6.4"/><circle cx="499.6" cy="123.2" r="6.3"/><circle cx="578.0" cy="99.7" r="9.7"/><circle cx="592.7" cy="95.8" r="5.3"/><circle cx="568.6" cy="103.1" r="9.4"/><circle cx="473.1" cy="131.8" r="7.6"/><circle cx="467.3" cy="134.1" r="8.8"/><circle cx="523.2" cy="118.2" r="5.0"/><circle cx="477.7" cy="131.8" r="7.3"/><circle cx="434.8" cy="144.7" r="7.9"/><circle cx="529.8" cy="116.3" r="6.0"/><circle cx="549.5" cy="110.4" r="5.6"/><circle cx="533.8" cy="115.3" r="9.5"/><circle cx="355.5" cy="168.9" r="7.0"/><circle cx="552.4" cy="110.3" r="7.1"/><circle cx="596.4" cy="97.3" r="9.5"/><circle cx="564.4" cy="107.1" r="9.8"/><circle cx="583.9" cy="101.3" r="9.2"/><circle cx="368.7" cy="165.9" r="5.6"/><circle cx="579.3" cy="102.9" r="9.7"/><circle cx="457.9" cy="139.3" r="8.6"/><circle cx="359.2" cy="169.1" r="6.1"/><circle cx="488.6" cy="130.3" r="8.7"/><circle cx="375.7" cy="164.2" r="9.8"/><circle cx="404.4" cy="155.7" r="8.3"/><circle cx="381.6" cy="162.7" r="6.0"/><circle cx="503.9" cy="126.1" r="7.7"/><circle cx="541.7" cy="115.0" r="8.2"/><circle cx="491.6" cy="130.6" r="6.8"/><circle cx="469.8" cy="137.3" r="5.1"/><circle cx="390.4" cy="161.1" r="8.6"/><circle cx="561.1" cy="110.2" r="9.0"/><circle cx="514.3" cy="124.6" r="6.1"/><circle cx="453.2" cy="143.3" r="6.2"/><circle cx="524.4" cy="122.4" r="8.5"/><circle cx="464.0" cy="140.6" r="9.4"/><circle cx="414.4" cy="155.7" r="9.1"/><circle cx="596.1" cy="102.0" r="6.8"/><circle cx="499.0" cy="131.2" r="6.2"/><circle cx="381.6" cy="166.4" r="7.8"/><circle cx="574.5" cy="108.6" r="7.7"/><circle cx="479.9" cy="137.1" r="5.3"/><circle cx="551.1" cy="116.0" r="6.5"/><circle cx="414.1" cy="157.3" r="5.3"/><circle cx="442.1" cy="149.0" r="9.8"/><circle cx="396.9" cy="162.8" r="5.7"/><circle cx="568.8" cy="111.5" r="8.8"/><circle cx="518.8" cy="126.5" r="5.8"/><circle cx="425.0" cy="155.1" r="7.5"/><circle cx="592.2" cy="105.5" r="7.8"/><circle cx="404.1" cy="162.0" r="7.1"/><circle cx="386.7" cy="167.4" r="8.7"/><circle cx="505.5" cy="132.2" r="6.5"/><circle cx="456.4" cy="147.0" r="5.8"/><circle cx="356.9" cy="177.0" r="8.8"/><circle cx="603.0" cy="103.3" r="6.0"/><circle cx="533.4" cy="124.2" r="5.7"/><circle cx="432.5" cy="154.5" r="9.2"/><circle cx="406.2" cy="162.9" r="7.5"/><circle cx="400.1" cy="164.8" r="9.5"/><circle cx="366.1" cy="175.4" r="6.3"/><circle cx="439.3" cy="153.5" r="9.8"/><circle cx="452.1" cy="149.9" r="9.5"/><circle cx="552.8" cy="119.7" r="5.3"/><circle cx="467.6" cy="145.4" r="6.0"/><circle cx="484.0" cy="140.5" r="7.3"/><circle cx="580.7" cy="111.5" r="7.4"/><circle cx="561.7" cy="117.9" r="7.6"/><circle cx="516.1" cy="131.8" r="6.0"/><circle cx="425.3" cy="159.6" r="5.1"/><circle cx="441.6" cy="154.7" r="8.0"/><circle cx="522.8" cy="130.5" r="5.6"/><circle cx="397.1" cy="168.3" r="7.0"/><circle cx="387.9" cy="171.0" r="5.1"/><circle cx="429.6" cy="158.7" r="8.8"/><circle cx="359.3" cy="179.8" r="8.4"/><circle cx="489.9" cy="140.9" r="5.1"/><circle cx="376.6" cy="175.2" r="8.5"/><circle cx="383.6" cy="173.3" r="5.9"/><circle cx="591.3" cy="111.0" r="5.4"/><circle cx="570.2" cy="117.4" r="8.0"/><circle cx="496.7" cy="139.6" r="8.8"/><circle cx="541.2" cy="126.3" r="7.7"/><circle cx="479.7" cy="144.9" r="8.6"/><circle cx="456.9" cy="152.1" r="9.4"/><circle cx="485.8" cy="143.5" r="9.6"/><circle cx="365.0" cy="180.3" r="5.6"/><circle cx="471.4" cy="148.4" r="8.6"/><circle cx="603.3" cy="108.9" r="8.6"/><circle cx="394.6" cy="172.0" r="8.8"/><circle cx="583.1" cy="115.4" r="9.1"/><circle cx="371.8" cy="179.2" r="9.1"/><circle cx="562.7" cy="122.0" r="6.5"/><circle cx="411.3" cy="167.5" r="7.7"/><circle cx="597.6" cy="111.6" r="5.8"/><circle cx="574.0" cy="119.0" r="9.6"/><circle cx="547.1" cy="127.1" r="5.8"/><circle cx="543.3" cy="128.9" r="7.8"/><circle cx="552.9" cy="126.1" r="5.1"/><circle cx="438.6" cy="160.5" r="6.7"/><circle cx="450.4" cy="157.1" r="9.2"/><circle cx="420.1" cy="166.5" r="6.6"/><circle cx="532.1" cy="132.9" r="8.0"/><circle cx="443.3" cy="159.7" r="6.6"/><circle cx="471.0" cy="151.4" r="6.3"/><circle cx="416.1" cy="168.0" r="6.2"/><circle cx="512.6" cy="139.3" r="8.7"/><circle cx="491.3" cy="146.0" r="8.8"/><circle cx="508.4" cy="141.1" r="8.4"/><circle cx="529.0" cy="135.0" r="5.7"/><circle cx="378.7" cy="180.6" r="8.5"/><circle cx="400.7" cy="174.3" r="5.3"/><circle cx="364.0" cy="185.6" r="8.2"/><circle cx="466.2" cy="155.1" r="7.0"/><circle cx="593.4" cy="117.1" r="8.8"/><circle cx="458.5" cy="157.8" r="8.5"/><circle cx="410.1" cy="172.6" r="8.9"/><circle cx="598.0" cy="116.4" r="7.1"/><circle cx="506.0" cy="144.1" r="9.9"/><circle cx="569.7" cy="125.3" r="7.7"/><circle cx="557.6" cy="128.9" r="7.0"/><circle cx="501.6" cy="145.9" r="6.7"/><circle cx="518.0" cy="141.0" r="8.3"/><circle cx="429.5" cy="168.1" r="6.8"/><circle cx="483.0" cy="152.5" r="9.1"/><circle cx="549.9" cy="133.5" r="7.6"/><circle cx="481.0" cy="154.7" r="6.2"/><circle cx="436.9" cy="168.2" r="8.5"/><circle cx="362.1" cy="190.6" r="7.8"/><circle cx="389.1" cy="182.9" r="7.6"/><circle cx="393.9" cy="181.6" r="7.7"/><circle cx="526.6" cy="141.8" r="9.3"/><circle cx="582.2" cy="125.4" r="6.0"/><circle cx="445.9" cy="166.7" r="5.7"/><circle cx="371.8" cy="188.9" r="5.6"/><circle cx="546.3" cy="136.9" r="9.4"/><circle cx="450.3" cy="165.8" r="9.7"/><circle cx="536.6" cy="140.2" r="8.3"/><circle cx="513.8" cy="147.2" r="9.2"/><circle cx="587.5" cy="125.1" r="9.0"/><circle cx="569.9" cy="130.4" r="10.0"/><circle cx="577.9" cy="128.0" r="8.5"/><circle cx="416.1" cy="176.8" r="8.4"/><circle cx="473.0" cy="159.7" r="9.5"/><circle cx="421.2" cy="175.3" r="7.5"/><circle cx="467.0" cy="161.9" r="8.2"/><circle cx="431.8" cy="172.5" r="9.5"/><circle cx="504.5" cy="151.0" r="8.3"/><circle cx="521.6" cy="145.9" r="9.1"/><circle cx="359.2" cy="194.7" r="8.5"/><circle cx="560.2" cy="134.4" r="7.7"/><circle cx="462.0" cy="164.3" r="5.3"/><circle cx="492.4" cy="155.5" r="5.0"/><circle cx="365.0" cy="194.0" r="8.4"/><circle cx="578.3" cy="130.3" r="9.2"/><circle cx="373.2" cy="191.9" r="7.8"/><circle cx="380.0" cy="189.9" r="9.2"/><circle cx="501.3" cy="153.6" r="7.3"/><circle cx="459.6" cy="166.1" r="8.0"/><circle cx="543.2" cy="141.5" r="6.8"/><circle cx="402.8" cy="183.8" r="6.0"/><circle cx="490.1" cy="157.7" r="10.0"/><circle cx="445.5" cy="171.3" r="8.0"/><circle cx="413.6" cy="180.9" r="9.7"/><circle cx="599.7" cy="125.3" r="5.4"/><circle cx="477.2" cy="162.2" r="9.1"/><circle cx="408.6" cy="182.8" r="7.9"/><circle cx="606.6" cy="123.5" r="7.8"/><circle cx="437.7" cy="174.4" r="7.1"/><circle cx="529.3" cy="147.7" r="6.2"/><circle cx="561.5" cy="138.2" r="5.6"/><circle cx="385.9" cy="191.1" r="9.9"/><circle cx="513.8" cy="152.9" r="9.5"/><circle cx="472.8" cy="165.2" r="7.7"/><circle cx="591.6" cy="129.9" r="9.4"/><circle cx="354.4" cy="201.1" r="8.2"/><circle cx="554.4" cy="141.2" r="9.9"/><circle cx="422.0" cy="181.1" r="6.9"/><circle cx="569.7" cy="137.1" r="9.1"/><circle cx="484.8" cy="162.7" r="7.2"/><circle cx="583.8" cy="133.1" r="7.2"/><circle cx="549.0" cy="143.9" r="5.5"/><circle cx="385.3" cy="193.0" r="8.3"/><circle cx="535.4" cy="148.1" r="10.0"/><circle cx="406.8" cy="186.8" r="5.9"/><circle cx="395.2" cy="190.4" r="5.1"/><circle cx="501.0" cy="158.9" r="5.4"/><circle cx="367.1" cy="199.2" r="5.3"/><circle cx="361.0" cy="201.4" r="5.3"/><circle cx="399.9" cy="189.7" r="6.3"/><circle cx="595.8" cy="131.1" r="8.1"/><circle cx="431.2" cy="180.7" r="8.0"/><circle cx="523.5" cy="153.6" r="7.6"/><circle cx="379.8" cy="196.8" r="6.0"/><circle cx="542.5" cy="148.0" r="9.4"/><circle cx="505.6" cy="159.3" r="9.4"/><circle cx="610.7" cy="128.0" r="8.1"/><circle cx="435.2" cy="180.9" r="6.0"/><circle cx="413.6" cy="187.5" r="9.8"/><circle cx="450.8" cy="176.4" r="8.4"/><circle cx="491.9" cy="164.2" r="7.1"/><circle cx="573.7" cy="139.9" r="6.2"/><circle cx="460.6" cy="174.0" r="5.4"/><circle cx="535.7" cy="152.1" r="6.4"/><circle cx="514.5" cy="158.9" r="9.5"/><circle cx="614.4" cy="129.0" r="9.4"/><circle cx="525.6" cy="155.8" r="7.7"/><circle cx="478.9" cy="170.0" r="6.5"/><circle cx="586.3" cy="137.8" r="7.4"/><circle cx="448.4" cy="179.3" r="5.4"/><circle cx="603.5" cy="132.9" r="6.8"/><circle cx="424.6" cy="186.6" r="8.9"/><circle cx="564.4" cy="145.0" r="9.2"/><circle cx="441.5" cy="181.9" r="8.4"/><circle cx="406.8" cy="192.4" r="6.2"/><circle cx="357.2" cy="207.5" r="6.1"/><circle cx="456.1" cy="177.9" r="5.7"/><circle cx="616.5" cy="129.7" r="9.9"/><circle cx="371.4" cy="203.6" r="7.9"/><circle cx="545.7" cy="151.6" r="9.0"/><circle cx="557.8" cy="148.2" r="9.2"/><circle cx="394.5" cy="197.4" r="9.6"/><circle cx="429.1" cy="187.0" r="7.0"/><circle cx="487.3" cy="169.8" r="6.7"/><circle cx="464.1" cy="176.7" r="5.2"/><circle cx="383.5" cy="200.9" r="8.3"/><circle cx="414.5" cy="192.2" r="7.1"/><circle cx="518.8" cy="161.4" r="6.2"/><circle cx="589.3" cy="140.2" r="7.0"/><circle cx="598.1" cy="137.6" r="6.0"/><circle cx="400.3" cy="197.2" r="5.8"/><circle cx="503.4" cy="166.4" r="6.9"/><circle cx="474.2" cy="175.2" r="6.5"/><circle cx="570.4" cy="146.7" r="7.1"/><circle cx="536.0" cy="157.1" r="7.6"/><circle cx="560.0" cy="150.0" r="7.9"/><circle cx="466.3" cy="178.3" r="5.1"/><circle cx="373.8" cy="206.1" r="6.3"/><circle cx="541.1" cy="156.0" r="7.9"/><circle cx="435.5" cy="187.7" r="6.5"/><circle cx="558.2" cy="151.0" r="7.4"/><circle cx="481.6" cy="174.3" r="9.9"/><circle cx="525.5" cy="161.2" r="6.6"/><circle cx="387.3" cy="202.7" r="8.4"/><circle cx="392.3" cy="201.3" r="6.0"/><circle cx="501.3" cy="169.3" r="9.2"/><circle cx="611.9" cy="136.6" r="8.2"/><circle cx="367.7" cy="210.2" r="5.2"/><circle cx="423.6" cy="193.9" r="8.2"/><circle cx="383.0" cy="206.2" r="5.1"/><circle cx="519.2" cy="165.5" r="6.2"/><circle cx="585.2" cy="145.8" r="7.1"/><circle cx="574.7" cy="149.1" r="9.8"/><circle cx="510.4" cy="168.6" r="9.5"/><circle cx="485.2" cy="176.3" r="5.1"/><circle cx="541.5" cy="159.5" r="9.1"/><circle cx="573.5" cy="149.9" r="7.5"/><circle cx="588.4" cy="145.7" r="8.7"/><circle cx="403.9" cy="201.4" r="8.1"/><circle cx="477.9" cy="179.2" r="9.6"/><circle cx="500.9" cy="172.6" r="6.0"/><circle cx="452.3" cy="187.2" r="6.3"/><circle cx="442.1" cy="190.4" r="9.5"/><circle cx="493.8" cy="175.1" r="9.1"/><circle cx="605.6" cy="141.8" r="9.6"/><circle cx="459.5" cy="186.0" r="8.1"/><circle cx="474.0" cy="182.1" r="8.8"/><circle cx="432.4" cy="194.6" r="7.0"/><circle cx="599.0" cy="144.7" r="8.8"/><circle cx="411.4" cy="201.1" r="8.8"/><circle cx="507.9" cy="172.3" r="7.0"/><circle cx="511.8" cy="171.3" r="5.4"/><circle cx="416.1" cy="200.1" r="5.3"/><circle cx="571.5" cy="153.8" r="8.0"/><circle cx="371.2" cy="214.1" r="8.3"/><circle cx="467.4" cy="185.3" r="6.3"/><circle cx="553.7" cy="159.7" r="5.3"/><circle cx="548.6" cy="162.0" r="5.2"/><circle cx="365.5" cy="217.6" r="5.4"/><circle cx="388.2" cy="210.9" r="6.4"/><circle cx="404.6" cy="206.0" r="8.7"/><circle cx="433.4" cy="197.4" r="7.7"/><circle cx="525.4" cy="169.9" r="6.8"/><circle cx="490.6" cy="180.8" r="6.8"/><circle cx="421.4" cy="201.6" r="8.1"/><circle cx="426.7" cy="200.1" r="8.3"/><circle cx="580.9" cy="154.0" r="8.1"/><circle cx="393.8" cy="210.5" r="7.2"/><circle cx="569.8" cy="157.8" r="7.0"/><circle cx="483.0" cy="183.9" r="6.4"/><circle cx="560.5" cy="161.0" r="9.3"/><circle cx="443.2" cy="196.5" r="6.5"/><circle cx="535.6" cy="169.0" r="8.4"/><circle cx="541.3" cy="167.6" r="8.3"/><circle cx="606.9" cy="148.0" r="9.4"/><circle cx="524.9" cy="172.9" r="8.2"/><circle cx="409.5" cy="207.6" r="6.7"/><circle cx="451.4" cy="195.2" r="6.6"/><circle cx="518.7" cy="175.0" r="6.0"/><circle cx="472.6" cy="188.9" r="8.4"/><circle cx="437.7" cy="199.4" r="7.7"/><circle cx="587.7" cy="154.5" r="9.7"/><circle cx="366.2" cy="221.1" r="5.8"/><circle cx="392.5" cy="213.4" r="8.6"/><circle cx="497.4" cy="182.1" r="6.8"/><circle cx="616.4" cy="146.5" r="9.1"/><circle cx="547.0" cy="167.4" r="8.1"/><circle cx="597.3" cy="152.7" r="6.4"/><circle cx="577.0" cy="158.9" r="7.2"/><circle cx="377.4" cy="218.9" r="6.7"/><circle cx="610.5" cy="149.0" r="7.9"/><circle cx="456.3" cy="196.3" r="7.0"/><circle cx="464.5" cy="193.9" r="9.0"/><circle cx="389.1" cy="216.7" r="9.0"/><circle cx="480.2" cy="189.4" r="7.9"/><circle cx="487.7" cy="187.2" r="9.8"/><circle cx="377.8" cy="220.5" r="8.4"/><circle cx="588.2" cy="157.8" r="7.3"/><circle cx="552.5" cy="168.7" r="6.2"/><circle cx="469.9" cy="193.7" r="9.2"/><circle cx="412.4" cy="211.0" r="7.4"/><circle cx="535.7" cy="174.2" r="9.5"/><circle cx="425.2" cy="207.5" r="6.6"/><circle cx="506.1" cy="183.4" r="9.1"/><circle cx="512.9" cy="181.3" r="8.2"/><circle cx="594.8" cy="156.9" r="8.1"/><circle cx="498.6" cy="185.8" r="9.1"/><circle cx="606.6" cy="153.5" r="6.0"/><circle cx="520.4" cy="179.4" r="9.2"/><circle cx="446.0" cy="202.0" r="6.4"/><circle cx="449.2" cy="201.1" r="7.1"/><circle cx="582.5" cy="161.2" r="6.7"/><circle cx="490.6" cy="188.9" r="8.1"/><circle cx="540.5" cy="174.0" r="9.1"/><circle cx="375.8" cy="223.9" r="6.0"/><circle cx="414.0" cy="213.2" r="8.0"/><circle cx="399.4" cy="217.7" r="6.1"/><circle cx="559.4" cy="169.8" r="7.1"/><circle cx="612.6" cy="154.1" r="5.4"/><circle cx="433.7" cy="207.8" r="9.4"/><circle cx="575.1" cy="165.7" r="8.3"/><circle cx="485.6" cy="192.8" r="7.6"/><circle cx="571.9" cy="166.9" r="7.1"/><circle cx="426.9" cy="210.7" r="7.3"/><circle cx="550.1" cy="174.3" r="7.6"/><circle cx="368.5" cy="228.9" r="8.4"/><circle cx="387.5" cy="223.6" r="6.6"/><circle cx="506.9" cy="187.8" r="8.0"/><circle cx="408.2" cy="217.5" r="8.9"/><circle cx="478.5" cy="196.5" r="9.7"/><circle cx="556.2" cy="173.7" r="7.0"/><circle cx="490.9" cy="193.6" r="9.8"/><circle cx="394.8" cy="222.6" r="5.6"/><circle cx="402.6" cy="220.7" r="8.0"/><circle cx="564.2" cy="172.4" r="8.6"/><circle cx="443.5" cy="209.3" r="5.7"/><circle cx="548.1" cy="178.2" r="9.0"/><circle cx="458.7" cy="205.1" r="6.9"/><circle cx="419.9" cy="216.8" r="6.7"/><circle cx="529.2" cy="184.1" r="5.4"/><circle cx="592.9" cy="165.2" r="7.6"/><circle cx="464.2" cy="204.2" r="8.1"/><circle cx="449.5" cy="208.6" r="9.7"/><circle cx="373.1" cy="232.1" r="6.0"/><circle cx="430.9" cy="214.7" r="8.0"/><circle cx="497.1" cy="195.2" r="7.5"/><circle cx="534.6" cy="183.9" r="8.8"/><circle cx="469.3" cy="203.8" r="8.9"/><circle cx="516.0" cy="190.0" r="8.4"/><circle cx="525.8" cy="187.0" r="6.6"/><circle cx="606.9" cy="162.9" r="6.5"/><circle cx="597.7" cy="165.8" r="6.1"/><circle cx="384.6" cy="229.9" r="8.4"/><circle cx="610.1" cy="162.3" r="5.1"/><circle cx="505.3" cy="193.7" r="7.7"/><circle cx="586.6" cy="169.4" r="9.8"/><circle cx="533.7" cy="185.3" r="6.0"/><circle cx="489.6" cy="199.4" r="9.1"/><circle cx="571.6" cy="175.0" r="6.7"/><circle cx="542.9" cy="183.8" r="5.1"/><circle cx="581.2" cy="172.4" r="8.9"/><circle cx="379.3" cy="233.0" r="5.0"/><circle cx="486.1" cy="201.3" r="8.5"/><circle cx="477.8" cy="204.2" r="7.2"/><circle cx="523.0" cy="190.6" r="7.1"/><circle cx="408.5" cy="225.3" r="8.6"/><circle cx="460.4" cy="209.9" r="8.8"/><circle cx="434.0" cy="218.2" r="9.9"/><circle cx="462.4" cy="209.7" r="8.2"/><circle cx="522.0" cy="192.2" r="5.7"/><circle cx="558.3" cy="181.8" r="6.4"/><circle cx="543.1" cy="186.4" r="8.0"/><circle cx="576.5" cy="176.4" r="9.0"/><circle cx="397.4" cy="230.4" r="8.3"/><circle cx="451.1" cy="214.2" r="9.6"/><circle cx="425.5" cy="222.3" r="5.3"/><circle cx="416.5" cy="225.3" r="6.5"/><circle cx="606.3" cy="168.5" r="6.8"/><circle cx="426.7" cy="222.5" r="5.5"/><circle cx="568.4" cy="180.2" r="6.9"/><circle cx="589.6" cy="174.2" r="7.7"/><circle cx="481.6" cy="206.8" r="5.9"/><circle cx="375.5" cy="238.9" r="8.0"/><circle cx="594.9" cy="173.2" r="9.2"/><circle cx="471.2" cy="210.3" r="8.3"/><circle cx="401.8" cy="231.3" r="5.6"/><circle cx="560.7" cy="183.7" r="9.6"/><circle cx="444.3" cy="218.7" r="6.4"/><circle cx="515.0" cy="198.1" r="7.9"/><circle cx="501.6" cy="202.4" r="5.4"/><circle cx="373.4" cy="240.9" r="7.5"/><circle cx="409.0" cy="230.2" r="6.7"/><circle cx="383.0" cy="238.1" r="8.4"/><circle cx="584.1" cy="177.9" r="9.0"/><circle cx="457.9" cy="216.3" r="8.8"/><circle cx="515.9" cy="199.0" r="6.7"/><circle cx="601.8" cy="173.3" r="5.4"/><circle cx="547.8" cy="189.5" r="5.8"/><circle cx="385.9" cy="238.4" r="8.3"/><circle cx="400.5" cy="234.1" r="6.9"/><circle cx="527.1" cy="196.3" r="7.6"/><circle cx="534.0" cy="194.3" r="9.6"/><circle cx="577.5" cy="181.3" r="8.0"/><circle cx="435.2" cy="224.4" r="6.1"/><circle cx="494.1" cy="206.7" r="8.2"/><circle cx="413.3" cy="231.1" r="6.1"/><circle cx="426.7" cy="227.1" r="9.3"/><circle cx="397.1" cy="236.0" r="7.3"/><circle cx="471.9" cy="213.7" r="9.1"/><circle cx="465.4" cy="216.4" r="9.4"/><circle cx="566.5" cy="186.2" r="5.7"/><circle cx="558.2" cy="188.8" r="7.0"/><circle cx="508.6" cy="204.3" r="6.7"/><circle cx="485.4" cy="211.4" r="7.5"/><circle cx="455.6" cy="220.4" r="9.7"/><circle cx="563.5" cy="189.2" r="7.1"/><circle cx="446.5" cy="224.5" r="5.1"/><circle cx="578.3" cy="185.0" r="6.6"/><circle cx="518.5" cy="203.3" r="8.4"/><circle cx="542.5" cy="196.4" r="5.7"/><circle cx="423.4" cy="232.2" r="6.1"/><circle cx="504.4" cy="208.1" r="5.1"/><circle cx="461.8" cy="220.9" r="10.0"/><circle cx="434.7" cy="229.2" r="9.9"/><circle cx="410.7" cy="236.7" r="5.8"/><circle cx="589.2" cy="183.3" r="5.7"/><circle cx="514.8" cy="206.1" r="5.2"/><circle cx="499.7" cy="210.7" r="9.3"/><circle cx="450.4" cy="225.7" r="5.6"/><circle cx="385.6" cy="245.1" r="5.5"/><circle cx="414.5" cy="236.6" r="7.5"/><circle cx="380.0" cy="247.0" r="8.5"/><circle cx="529.5" cy="202.2" r="7.3"/><circle cx="549.0" cy="196.5" r="9.7"/><circle cx="477.9" cy="218.0" r="9.3"/><circle cx="598.2" cy="182.5" r="7.6"/><circle cx="403.7" cy="241.0" r="5.2"/><circle cx="584.8" cy="187.1" r="8.4"/><circle cx="558.3" cy="195.4" r="6.5"/><circle cx="569.5" cy="192.2" r="9.5"/><circle cx="429.9" cy="234.3" r="9.4"/><circle cx="488.2" cy="217.0" r="7.4"/><circle cx="408.3" cy="241.0" r="5.3"/><circle cx="424.8" cy="236.4" r="9.7"/><circle cx="532.1" cy="204.3" r="6.0"/><circle cx="476.6" cy="221.0" r="8.0"/><circle cx="445.9" cy="230.7" r="5.9"/><circle cx="395.7" cy="245.8" r="8.0"/><circle cx="456.4" cy="227.6" r="5.9"/><circle cx="606.5" cy="182.7" r="7.7"/><circle cx="565.2" cy="195.8" r="8.7"/><circle cx="544.1" cy="202.5" r="5.4"/><circle cx="527.5" cy="208.0" r="9.1"/><circle cx="474.5" cy="224.1" r="7.4"/><circle cx="390.4" cy="249.4" r="9.4"/><circle cx="492.3" cy="218.9" r="8.7"/><circle cx="589.0" cy="190.2" r="8.4"/><circle cx="519.5" cy="211.0" r="7.1"/><circle cx="484.8" cy="221.5" r="8.7"/><circle cx="450.4" cy="231.9" r="9.4"/><circle cx="441.1" cy="234.7" r="9.5"/><circle cx="416.6" cy="242.1" r="10.0"/><circle cx="508.2" cy="214.7" r="8.0"/><circle cx="378.5" cy="253.6" r="8.7"/><circle cx="547.5" cy="203.2" r="7.3"/><circle cx="552.6" cy="202.3" r="6.8"/><circle cx="501.7" cy="217.7" r="10.0"/><circle cx="435.3" cy="237.8" r="7.3"/><circle cx="392.6" cy="250.7" r="5.3"/><circle cx="510.6" cy="216.0" r="9.1"/><circle cx="606.4" cy="187.7" r="7.1"/><circle cx="491.3" cy="222.5" r="8.3"/><circle cx="477.5" cy="226.9" r="6.0"/><circle cx="561.5" cy="201.7" r="8.7"/><circle cx="576.3" cy="197.2" r="5.1"/><circle cx="598.8" cy="190.8" r="6.1"/><circle cx="534.2" cy="210.2" r="8.7"/><circle cx="429.3" cy="242.0" r="5.3"/><circle cx="580.9" cy="196.6" r="8.3"/><circle cx="524.7" cy="213.9" r="7.8"/><circle cx="464.7" cy="232.1" r="9.5"/><circle cx="571.9" cy="200.2" r="9.0"/><circle cx="420.2" cy="245.8" r="5.1"/><circle cx="521.1" cy="215.7" r="7.2"/><circle cx="401.7" cy="251.9" r="7.2"/><circle cx="533.7" cy="212.9" r="9.9"/><circle cx="588.4" cy="196.6" r="8.7"/><circle cx="485.0" cy="227.7" r="5.7"/><circle cx="594.4" cy="195.0" r="5.4"/><circle cx="394.4" cy="255.0" r="7.0"/><circle cx="434.7" cy="243.1" r="5.9"/><circle cx="414.2" cy="249.6" r="8.2"/><circle cx="453.0" cy="238.0" r="8.5"/><circle cx="473.3" cy="232.0" r="5.3"/><circle cx="497.4" cy="225.0" r="8.2"/><circle cx="505.9" cy="222.5" r="6.9"/><circle cx="543.6" cy="211.4" r="9.5"/><circle cx="546.7" cy="210.6" r="8.4"/><circle cx="466.0" cy="235.1" r="8.4"/><circle cx="578.5" cy="201.5" r="8.9"/><circle cx="581.4" cy="200.7" r="9.3"/><circle cx="388.1" cy="258.9" r="9.8"/><circle cx="555.9" cy="208.9" r="9.4"/><circle cx="408.7" cy="253.1" r="8.3"/><circle cx="456.7" cy="238.7" r="7.3"/><circle cx="566.9" cy="206.4" r="7.4"/><circle cx="420.4" cy="250.6" r="6.1"/><circle cx="490.3" cy="229.7" r="8.6"/><circle cx="543.2" cy="214.2" r="5.0"/><circle cx="457.0" cy="240.9" r="7.0"/><circle cx="524.8" cy="220.5" r="8.5"/><circle cx="515.1" cy="223.8" r="9.1"/><circle cx="565.4" cy="208.8" r="7.7"/><circle cx="522.7" cy="221.6" r="6.6"/><circle cx="386.7" cy="262.8" r="5.1"/><circle cx="444.3" cy="246.1" r="9.1"/><circle cx="451.6" cy="244.1" r="6.4"/><circle cx="434.7" cy="249.2" r="9.1"/><circle cx="550.6" cy="214.8" r="8.1"/><circle cx="402.9" cy="259.2" r="8.9"/><circle cx="476.4" cy="237.2" r="10.0"/><circle cx="591.6" cy="202.7" r="8.2"/><circle cx="506.4" cy="228.5" r="8.5"/><circle cx="552.6" cy="214.9" r="9.1"/><circle cx="598.1" cy="201.6" r="9.2"/><circle cx="577.8" cy="207.7" r="7.3"/><circle cx="498.3" cy="231.8" r="6.3"/><circle cx="473.2" cy="239.5" r="7.0"/><circle cx="533.9" cy="221.3" r="6.6"/><circle cx="490.2" cy="234.7" r="8.0"/><circle cx="488.3" cy="235.6" r="8.4"/><circle cx="539.5" cy="220.3" r="9.4"/><circle cx="407.1" cy="260.4" r="8.4"/><circle cx="420.1" cy="256.5" r="6.7"/><circle cx="431.6" cy="253.2" r="9.0"/><circle cx="446.0" cy="249.4" r="10.0"/><circle cx="465.1" cy="244.2" r="6.5"/><circle cx="565.4" cy="214.2" r="5.1"/><circle cx="520.0" cy="228.5" r="6.9"/><circle cx="403.7" cy="263.6" r="6.1"/><circle cx="392.2" cy="267.8" r="8.8"/><circle cx="430.2" cy="256.6" r="5.9"/><circle cx="418.3" cy="260.2" r="9.4"/><circle cx="474.3" cy="243.4" r="6.3"/><circle cx="480.5" cy="241.6" r="8.2"/><circle cx="583.2" cy="211.2" r="6.3"/><circle cx="448.0" cy="252.0" r="8.1"/><circle cx="555.3" cy="220.0" r="9.2"/><circle cx="589.4" cy="210.1" r="5.8"/><circle cx="531.4" cy="227.6" r="6.7"/><circle cx="516.1" cy="232.2" r="7.3"/><circle cx="500.2" cy="238.2" r="9.3"/><circle cx="487.6" cy="242.1" r="6.8"/><circle cx="491.2" cy="241.2" r="7.6"/><circle cx="550.7" cy="223.5" r="7.9"/><circle cx="578.7" cy="215.1" r="5.0"/><circle cx="438.6" cy="257.2" r="5.2"/><circle cx="459.0" cy="251.2" r="9.1"/><circle cx="416.2" cy="264.1" r="7.5"/><circle cx="567.9" cy="218.8" r="6.2"/><circle cx="543.2" cy="227.1" r="9.3"/><circle cx="410.8" cy="266.9" r="6.5"/><circle cx="425.6" cy="262.7" r="8.9"/><circle cx="450.8" cy="255.6" r="7.1"/><circle cx="511.0" cy="237.9" r="8.5"/><circle cx="547.5" cy="227.0" r="6.8"/><circle cx="509.6" cy="238.8" r="9.7"/><circle cx="530.1" cy="232.8" r="6.4"/><circle cx="444.7" cy="258.5" r="8.5"/><circle cx="407.0" cy="270.1" r="7.3"/><circle cx="396.6" cy="273.8" r="5.6"/><circle cx="562.3" cy="224.1" r="9.8"/><circle cx="473.3" cy="251.5" r="5.4"/><circle cx="519.8" cy="237.6" r="6.8"/><circle cx="467.3" cy="253.4" r="7.9"/><circle cx="501.0" cy="243.5" r="9.9"/><circle cx="436.5" cy="263.1" r="6.9"/><circle cx="573.5" cy="222.0" r="6.0"/><circle cx="584.4" cy="218.9" r="6.5"/><circle cx="402.4" cy="273.6" r="6.4"/><circle cx="459.7" cy="256.8" r="9.5"/><circle cx="558.3" cy="227.2" r="6.4"/><circle cx="429.6" cy="266.7" r="9.0"/><circle cx="569.4" cy="224.9" r="7.6"/><circle cx="413.5" cy="271.8" r="5.1"/><circle cx="506.5" cy="243.9" r="9.4"/><circle cx="422.3" cy="269.5" r="6.8"/><circle cx="510.6" cy="243.1" r="6.4"/><circle cx="561.3" cy="228.0" r="9.5"/><circle cx="465.3" cy="256.8" r="5.9"/><circle cx="475.6" cy="254.0" r="6.6"/><circle cx="494.6" cy="248.3" r="6.9"/><circle cx="528.9" cy="238.1" r="8.9"/><circle cx="519.5" cy="241.6" r="8.7"/><circle cx="447.7" cy="263.9" r="8.5"/><circle cx="537.4" cy="237.4" r="9.0"/><circle cx="444.6" cy="265.3" r="6.5"/><circle cx="427.7" cy="270.4" r="7.2"/><circle cx="455.2" cy="262.7" r="5.4"/><circle cx="567.8" cy="229.3" r="9.1"/><circle cx="549.7" cy="234.9" r="6.1"/><circle cx="472.0" cy="258.7" r="8.3"/><circle cx="583.2" cy="225.6" r="7.6"/><circle cx="526.0" cy="244.8" r="5.1"/><circle cx="544.5" cy="240.1" r="6.4"/><circle cx="578.1" cy="230.2" r="5.5"/><circle cx="435.1" cy="273.4" r="6.0"/><circle cx="516.0" cy="249.1" r="6.6"/><circle cx="469.8" cy="263.4" r="10.0"/><circle cx="536.7" cy="243.5" r="6.6"/><circle cx="425.3" cy="277.4" r="8.5"/><circle cx="553.4" cy="239.2" r="8.3"/><circle cx="418.4" cy="279.9" r="8.3"/><circle cx="450.8" cy="270.5" r="6.2"/><circle cx="539.5" cy="243.9" r="7.2"/><circle cx="454.7" cy="269.6" r="9.8"/><circle cx="466.9" cy="266.5" r="8.8"/><circle cx="432.3" cy="277.0" r="7.3"/><circle cx="572.4" cy="235.0" r="5.5"/><circle cx="577.0" cy="234.1" r="9.1"/><circle cx="445.2" cy="274.2" r="5.4"/><circle cx="529.0" cy="249.4" r="6.7"/><circle cx="563.9" cy="239.0" r="8.5"/><circle cx="464.6" cy="269.9" r="9.0"/><circle cx="440.9" cy="278.3" r="5.4"/><circle cx="546.4" cy="246.9" r="5.9"/><circle cx="434.6" cy="281.0" r="8.6"/><circle cx="558.5" cy="244.1" r="10.0"/><circle cx="545.4" cy="248.8" r="6.5"/><circle cx="448.2" cy="278.4" r="7.7"/><circle cx="534.8" cy="253.0" r="6.7"/><circle cx="570.2" cy="242.9" r="8.4"/><circle cx="565.5" cy="245.8" r="6.5"/><circle cx="458.7" cy="279.3" r="5.3"/><circle cx="561.7" cy="248.9" r="5.8"/></g></defs><use href="#sphAR" filter="url(#mA1)"/><g opacity="0.9"><g transform="translate(401.2 132.5) rotate(90.0)" opacity="1"><rect x="0" y="-12.0" width="140.0" height="24.0" rx="7.2" fill="#a2432b"/><path d="M0.0 -12.0 Q10.8 0 4.2 12.0 L9.6 12.0 Q16.2 0 5.4 -12.0 Z" fill="#d85a3a"/><path d="M12.0 -12.0 Q22.8 0 16.2 12.0 L21.6 12.0 Q28.2 0 17.4 -12.0 Z" fill="#d85a3a"/><path d="M24.0 -12.0 Q34.8 0 28.2 12.0 L33.6 12.0 Q40.2 0 29.4 -12.0 Z" fill="#d85a3a"/><path d="M36.0 -12.0 Q46.8 0 40.2 12.0 L45.6 12.0 Q52.2 0 41.4 -12.0 Z" fill="#d85a3a"/><path d="M48.0 -12.0 Q58.8 0 52.2 12.0 L57.6 12.0 Q64.2 0 53.4 -12.0 Z" fill="#d85a3a"/><path d="M60.0 -12.0 Q70.8 0 64.2 12.0 L69.6 12.0 Q76.2 0 65.4 -12.0 Z" fill="#d85a3a"/><path d="M72.0 -12.0 Q82.8 0 76.2 12.0 L81.6 12.0 Q88.2 0 77.4 -12.0 Z" fill="#d85a3a"/><path d="M84.0 -12.0 Q94.8 0 88.2 12.0 L93.6 12.0 Q100.2 0 89.4 -12.0 Z" fill="#d85a3a"/><path d="M96.0 -12.0 Q106.8 0 100.2 12.0 L105.6 12.0 Q112.2 0 101.4 -12.0 Z" fill="#d85a3a"/><path d="M108.0 -12.0 Q118.8 0 112.2 12.0 L117.6 12.0 Q124.2 0 113.4 -12.0 Z" fill="#d85a3a"/><path d="M120.0 -12.0 Q130.8 0 124.2 12.0 L129.6 12.0 Q136.2 0 125.4 -12.0 Z" fill="#d85a3a"/></g><g transform="translate(415.0 130.0) rotate(81.6)" opacity="1"><path d="M0 -3.5 L74.7 -3.5 L74.7 -7.0 L85.9 0 L74.7 7.0 L74.7 3.5 L0 3.5 Z" fill="#c03838"/><path d="M0 1.2 L74.7 1.2 L74.7 3.5 L0 3.5 Z" fill="#862727"/></g><g transform="translate(432.5 112.5) rotate(90.0)" opacity="1"><rect x="0" y="-11.0" width="102.5" height="22.0" rx="6.6" fill="#a27e2a"/><path d="M0.0 -11.0 Q9.9 0 3.8 11.0 L8.8 11.0 Q14.9 0 5.0 -11.0 Z" fill="#d8a838"/><path d="M11.0 -11.0 Q20.9 0 14.8 11.0 L19.8 11.0 Q25.9 0 15.9 -11.0 Z" fill="#d8a838"/><path d="M22.0 -11.0 Q31.9 0 25.9 11.0 L30.8 11.0 Q36.9 0 26.9 -11.0 Z" fill="#d8a838"/><path d="M33.0 -11.0 Q42.9 0 36.9 11.0 L41.8 11.0 Q47.9 0 38.0 -11.0 Z" fill="#d8a838"/><path d="M44.0 -11.0 Q53.9 0 47.9 11.0 L52.8 11.0 Q58.9 0 49.0 -11.0 Z" fill="#d8a838"/><path d="M55.0 -11.0 Q64.9 0 58.9 11.0 L63.8 11.0 Q69.8 0 60.0 -11.0 Z" fill="#d8a838"/><path d="M66.0 -11.0 Q75.9 0 69.8 11.0 L74.8 11.0 Q80.8 0 71.0 -11.0 Z" fill="#d8a838"/><path d="M77.0 -11.0 Q86.9 0 80.8 11.0 L85.8 11.0 Q91.8 0 82.0 -11.0 Z" fill="#d8a838"/><path d="M88.0 -11.0 Q97.9 0 91.8 11.0 L96.8 11.0 Q102.8 0 93.0 -11.0 Z" fill="#d8a838"/></g><g transform="translate(425.0 130.0) rotate(90.0)" opacity="1"><rect x="0" y="-4.5" width="70.0" height="9.0" rx="2.7" fill="#2478a2"/><path d="M0.0 -4.5 Q7.2 0 2.8 4.5 L6.4 4.5 Q10.8 0 3.6 -4.5 Z" fill="#30a0d8"/><path d="M8.0 -4.5 Q15.2 0 10.8 4.5 L14.4 4.5 Q18.8 0 11.6 -4.5 Z" fill="#30a0d8"/><path d="M16.0 -4.5 Q23.2 0 18.8 4.5 L22.4 4.5 Q26.8 0 19.6 -4.5 Z" fill="#30a0d8"/><path d="M24.0 -4.5 Q31.2 0 26.8 4.5 L30.4 4.5 Q34.8 0 27.6 -4.5 Z" fill="#30a0d8"/><path d="M32.0 -4.5 Q39.2 0 34.8 4.5 L38.4 4.5 Q42.8 0 35.6 -4.5 Z" fill="#30a0d8"/><path d="M40.0 -4.5 Q47.2 0 42.8 4.5 L46.4 4.5 Q50.8 0 43.6 -4.5 Z" fill="#30a0d8"/><path d="M48.0 -4.5 Q55.2 0 50.8 4.5 L54.4 4.5 Q58.8 0 51.6 -4.5 Z" fill="#30a0d8"/><path d="M56.0 -4.5 Q63.2 0 58.8 4.5 L62.4 4.5 Q66.8 0 59.6 -4.5 Z" fill="#30a0d8"/></g><g transform="translate(445.0 115.0) rotate(90.0)" opacity="1"><rect x="0" y="-4.0" width="80.0" height="8.0" rx="2.4" fill="#966730"/><path d="M0.0 -4.0 Q7.2 0 2.8 4.0 L6.4 4.0 Q10.8 0 3.6 -4.0 Z" fill="#c88a40"/><path d="M8.0 -4.0 Q15.2 0 10.8 4.0 L14.4 4.0 Q18.8 0 11.6 -4.0 Z" fill="#c88a40"/><path d="M16.0 -4.0 Q23.2 0 18.8 4.0 L22.4 4.0 Q26.8 0 19.6 -4.0 Z" fill="#c88a40"/><path d="M24.0 -4.0 Q31.2 0 26.8 4.0 L30.4 4.0 Q34.8 0 27.6 -4.0 Z" fill="#c88a40"/><path d="M32.0 -4.0 Q39.2 0 34.8 4.0 L38.4 4.0 Q42.8 0 35.6 -4.0 Z" fill="#c88a40"/><path d="M40.0 -4.0 Q47.2 0 42.8 4.0 L46.4 4.0 Q50.8 0 43.6 -4.0 Z" fill="#c88a40"/><path d="M48.0 -4.0 Q55.2 0 50.8 4.0 L54.4 4.0 Q58.8 0 51.6 -4.0 Z" fill="#c88a40"/><path d="M56.0 -4.0 Q63.2 0 58.8 4.0 L62.4 4.0 Q66.8 0 59.6 -4.0 Z" fill="#c88a40"/><path d="M64.0 -4.0 Q71.2 0 66.8 4.0 L70.4 4.0 Q74.8 0 67.6 -4.0 Z" fill="#c88a40"/><path d="M72.0 -4.0 Q79.2 0 74.8 4.0 L78.4 4.0 Q82.8 0 75.6 -4.0 Z" fill="#c88a40"/></g><g transform="translate(442.5 215.0) rotate(92.5)" opacity="1"><rect x="0" y="-11.0" width="57.6" height="22.0" rx="6.6" fill="#9c5a22"/><path d="M0.0 -11.0 Q9.9 0 3.8 11.0 L8.8 11.0 Q14.9 0 5.0 -11.0 Z" fill="#d0782e"/><path d="M11.0 -11.0 Q20.9 0 14.8 11.0 L19.8 11.0 Q25.9 0 15.9 -11.0 Z" fill="#d0782e"/><path d="M22.0 -11.0 Q31.9 0 25.9 11.0 L30.8 11.0 Q36.9 0 26.9 -11.0 Z" fill="#d0782e"/><path d="M33.0 -11.0 Q42.9 0 36.9 11.0 L41.8 11.0 Q47.9 0 38.0 -11.0 Z" fill="#d0782e"/><path d="M44.0 -11.0 Q53.9 0 47.9 11.0 L52.8 11.0 Q58.9 0 49.0 -11.0 Z" fill="#d0782e"/></g><g transform="translate(412.5 200.0) rotate(80.5)" opacity="1"><rect x="0" y="-7.0" width="15.2" height="14.0" rx="4.2" fill="#a29624"/><path d="M0.0 -7.0 Q6.9 0 2.7 7.0 L6.2 7.0 Q10.4 0 3.5 -7.0 Z" fill="#d8c830"/></g><g transform="translate(435.0 242.5) rotate(20.6)" opacity="1"><rect x="0" y="-6.0" width="21.4" height="12.0" rx="3.6" fill="#a29c24"/><path d="M0.0 -6.0 Q5.9 0 2.3 6.0 L5.3 6.0 Q8.9 0 3.0 -6.0 Z" fill="#d8d030"/><path d="M6.6 -6.0 Q12.5 0 8.9 6.0 L11.9 6.0 Q15.5 0 9.6 -6.0 Z" fill="#d8d030"/><path d="M13.2 -6.0 Q19.1 0 15.5 6.0 L18.5 6.0 Q22.1 0 16.2 -6.0 Z" fill="#d8d030"/></g><g transform="translate(432.5 112.5) rotate(0.0)" fill="none" opacity="1"><ellipse cx="0.0" cy="0.0" rx="10.0" ry="7.0" stroke="#785226" stroke-width="2.2"/><ellipse cx="0.0" cy="-2.0" rx="10.0" ry="7.0" stroke="#a06e33" stroke-width="2.2"/><ellipse cx="0.0" cy="-4.0" rx="10.0" ry="7.0" stroke="#c88a40" stroke-width="2.2"/></g><g transform="translate(460.0 115.0) rotate(90.0)" opacity="1"><path d="M0 -4.5 L73.1 -4.5 L73.1 -9.0 L87.5 0 L73.1 9.0 L73.1 4.5 L0 4.5 Z" fill="#48c040"/><path d="M0 1.5 L73.1 1.5 L73.1 4.5 L0 4.5 Z" fill="#32862c"/></g><g transform="translate(475.0 122.5) rotate(90.0)" opacity="1"><path d="M0 -4.5 L68.1 -4.5 L68.1 -9.0 L82.5 0 L68.1 9.0 L68.1 4.5 L0 4.5 Z" fill="#58c840"/><path d="M0 1.5 L68.1 1.5 L68.1 4.5 L0 4.5 Z" fill="#3d8c2c"/></g><g transform="translate(470.0 105.0) rotate(0.0)" fill="none" opacity="1"><ellipse cx="0.0" cy="0.0" rx="8.0" ry="6.0" stroke="#266926" stroke-width="2.2"/><ellipse cx="0.0" cy="-2.0" rx="8.0" ry="6.0" stroke="#338c33" stroke-width="2.2"/><ellipse cx="0.0" cy="-4.0" rx="8.0" ry="6.0" stroke="#40b040" stroke-width="2.2"/></g><g transform="translate(455.0 210.0) rotate(0.0)" opacity="1"><rect x="0" y="-7.0" width="25.0" height="14.0" rx="4.2" fill="#7e962b"/><path d="M0.0 -7.0 Q6.9 0 2.7 7.0 L6.2 7.0 Q10.4 0 3.5 -7.0 Z" fill="#a8c83a"/><path d="M7.7 -7.0 Q14.6 0 10.4 7.0 L13.9 7.0 Q18.1 0 11.2 -7.0 Z" fill="#a8c83a"/><path d="M15.4 -7.0 Q22.3 0 18.1 7.0 L21.6 7.0 Q25.8 0 18.9 -7.0 Z" fill="#a8c83a"/></g><g transform="translate(497.5 135.0) rotate(90.0)" opacity="1"><path d="M0 -4.5 L53.1 -4.5 L53.1 -9.0 L67.5 0 L53.1 9.0 L53.1 4.5 L0 4.5 Z" fill="#40b040"/><path d="M0 1.5 L53.1 1.5 L53.1 4.5 L0 4.5 Z" fill="#2c7b2c"/></g><g transform="translate(512.5 140.0) rotate(90.0)" opacity="1"><path d="M0 -4.5 L45.6 -4.5 L45.6 -9.0 L60.0 0 L45.6 9.0 L45.6 4.5 L0 4.5 Z" fill="#38a840"/><path d="M0 1.5 L45.6 1.5 L45.6 4.5 L0 4.5 Z" fill="#27752c"/></g><g transform="translate(492.5 127.5) rotate(0.0)" opacity="1"><rect x="0" y="-7.0" width="32.5" height="14.0" rx="4.2" fill="#84962b"/><path d="M0.0 -7.0 Q6.9 0 2.7 7.0 L6.2 7.0 Q10.4 0 3.5 -7.0 Z" fill="#b0c83a"/><path d="M7.7 -7.0 Q14.6 0 10.4 7.0 L13.9 7.0 Q18.1 0 11.2 -7.0 Z" fill="#b0c83a"/><path d="M15.4 -7.0 Q22.3 0 18.1 7.0 L21.6 7.0 Q25.8 0 18.9 -7.0 Z" fill="#b0c83a"/><path d="M23.1 -7.0 Q30.0 0 25.8 7.0 L29.3 7.0 Q33.5 0 26.6 -7.0 Z" fill="#b0c83a"/></g><g transform="translate(502.5 225.0) rotate(0.0)" fill="none" opacity="1"><ellipse cx="0.0" cy="0.0" rx="9.0" ry="8.0" stroke="#186026" stroke-width="2.2"/><ellipse cx="0.0" cy="-3.0" rx="9.0" ry="8.0" stroke="#208033" stroke-width="2.2"/><ellipse cx="0.0" cy="-6.0" rx="9.0" ry="8.0" stroke="#28a040" stroke-width="2.2"/></g><g transform="translate(500.0 180.0) rotate(84.3)" opacity="1"><rect x="0" y="-10.0" width="50.2" height="20.0" rx="6.0" fill="#247e30"/><path d="M0.0 -10.0 Q9.0 0 3.5 10.0 L8.0 10.0 Q13.5 0 4.5 -10.0 Z" fill="#30a840"/><path d="M10.0 -10.0 Q19.0 0 13.5 10.0 L18.0 10.0 Q23.5 0 14.5 -10.0 Z" fill="#30a840"/><path d="M20.0 -10.0 Q29.0 0 23.5 10.0 L28.0 10.0 Q33.5 0 24.5 -10.0 Z" fill="#30a840"/><path d="M30.0 -10.0 Q39.0 0 33.5 10.0 L38.0 10.0 Q43.5 0 34.5 -10.0 Z" fill="#30a840"/><path d="M40.0 -10.0 Q49.0 0 43.5 10.0 L48.0 10.0 Q53.5 0 44.5 -10.0 Z" fill="#30a840"/></g><g transform="translate(535.0 67.5) rotate(90.0)" opacity="1"><rect x="0" y="-13.0" width="182.5" height="26.0" rx="7.8" fill="#a27824"/><path d="M0.0 -13.0 Q10.8 0 4.2 13.0 L9.6 13.0 Q16.2 0 5.4 -13.0 Z" fill="#d8a030"/><path d="M12.0 -13.0 Q22.8 0 16.2 13.0 L21.6 13.0 Q28.2 0 17.4 -13.0 Z" fill="#d8a030"/><path d="M24.0 -13.0 Q34.8 0 28.2 13.0 L33.6 13.0 Q40.2 0 29.4 -13.0 Z" fill="#d8a030"/><path d="M36.0 -13.0 Q46.8 0 40.2 13.0 L45.6 13.0 Q52.2 0 41.4 -13.0 Z" fill="#d8a030"/><path d="M48.0 -13.0 Q58.8 0 52.2 13.0 L57.6 13.0 Q64.2 0 53.4 -13.0 Z" fill="#d8a030"/><path d="M60.0 -13.0 Q70.8 0 64.2 13.0 L69.6 13.0 Q76.2 0 65.4 -13.0 Z" fill="#d8a030"/><path d="M72.0 -13.0 Q82.8 0 76.2 13.0 L81.6 13.0 Q88.2 0 77.4 -13.0 Z" fill="#d8a030"/><path d="M84.0 -13.0 Q94.8 0 88.2 13.0 L93.6 13.0 Q100.2 0 89.4 -13.0 Z" fill="#d8a030"/><path d="M96.0 -13.0 Q106.8 0 100.2 13.0 L105.6 13.0 Q112.2 0 101.4 -13.0 Z" fill="#d8a030"/><path d="M108.0 -13.0 Q118.8 0 112.2 13.0 L117.6 13.0 Q124.2 0 113.4 -13.0 Z" fill="#d8a030"/><path d="M120.0 -13.0 Q130.8 0 124.2 13.0 L129.6 13.0 Q136.2 0 125.4 -13.0 Z" fill="#d8a030"/><path d="M132.0 -13.0 Q142.8 0 136.2 13.0 L141.6 13.0 Q148.2 0 137.4 -13.0 Z" fill="#d8a030"/><path d="M144.0 -13.0 Q154.8 0 148.2 13.0 L153.6 13.0 Q160.2 0 149.4 -13.0 Z" fill="#d8a030"/><path d="M156.0 -13.0 Q166.8 0 160.2 13.0 L165.6 13.0 Q172.2 0 161.4 -13.0 Z" fill="#d8a030"/><path d="M168.0 -13.0 Q178.8 0 172.2 13.0 L177.6 13.0 Q184.2 0 173.4 -13.0 Z" fill="#d8a030"/></g><g transform="translate(525.0 85.0) rotate(63.4)" opacity="1"><rect x="0" y="-9.0" width="55.9" height="18.0" rx="5.4" fill="#a29c24"/><path d="M0.0 -9.0 Q8.9 0 3.5 9.0 L7.9 9.0 Q13.4 0 4.5 -9.0 Z" fill="#d8d030"/><path d="M9.9 -9.0 Q18.8 0 13.4 9.0 L17.8 9.0 Q23.3 0 14.4 -9.0 Z" fill="#d8d030"/><path d="M19.8 -9.0 Q28.7 0 23.3 9.0 L27.7 9.0 Q33.2 0 24.3 -9.0 Z" fill="#d8d030"/><path d="M29.7 -9.0 Q38.6 0 33.2 9.0 L37.6 9.0 Q43.1 0 34.2 -9.0 Z" fill="#d8d030"/><path d="M39.6 -9.0 Q48.5 0 43.1 9.0 L47.5 9.0 Q53.0 0 44.1 -9.0 Z" fill="#d8d030"/></g><g transform="translate(570.0 72.5) rotate(90.0)" opacity="1"><rect x="0" y="-12.0" width="137.5" height="24.0" rx="7.2" fill="#a2432b"/><path d="M0.0 -12.0 Q10.8 0 4.2 12.0 L9.6 12.0 Q16.2 0 5.4 -12.0 Z" fill="#d85a3a"/><path d="M12.0 -12.0 Q22.8 0 16.2 12.0 L21.6 12.0 Q28.2 0 17.4 -12.0 Z" fill="#d85a3a"/><path d="M24.0 -12.0 Q34.8 0 28.2 12.0 L33.6 12.0 Q40.2 0 29.4 -12.0 Z" fill="#d85a3a"/><path d="M36.0 -12.0 Q46.8 0 40.2 12.0 L45.6 12.0 Q52.2 0 41.4 -12.0 Z" fill="#d85a3a"/><path d="M48.0 -12.0 Q58.8 0 52.2 12.0 L57.6 12.0 Q64.2 0 53.4 -12.0 Z" fill="#d85a3a"/><path d="M60.0 -12.0 Q70.8 0 64.2 12.0 L69.6 12.0 Q76.2 0 65.4 -12.0 Z" fill="#d85a3a"/><path d="M72.0 -12.0 Q82.8 0 76.2 12.0 L81.6 12.0 Q88.2 0 77.4 -12.0 Z" fill="#d85a3a"/><path d="M84.0 -12.0 Q94.8 0 88.2 12.0 L93.6 12.0 Q100.2 0 89.4 -12.0 Z" fill="#d85a3a"/><path d="M96.0 -12.0 Q106.8 0 100.2 12.0 L105.6 12.0 Q112.2 0 101.4 -12.0 Z" fill="#d85a3a"/><path d="M108.0 -12.0 Q118.8 0 112.2 12.0 L117.6 12.0 Q124.2 0 113.4 -12.0 Z" fill="#d85a3a"/><path d="M120.0 -12.0 Q130.8 0 124.2 12.0 L129.6 12.0 Q136.2 0 125.4 -12.0 Z" fill="#d85a3a"/></g><g transform="translate(550.0 120.0) rotate(83.3)" opacity="1"><path d="M0 -3.5 L74.4 -3.5 L74.4 -7.0 L85.6 0 L74.4 7.0 L74.4 3.5 L0 3.5 Z" fill="#c03838"/><path d="M0 1.2 L74.4 1.2 L74.4 3.5 L0 3.5 Z" fill="#862727"/></g><g transform="translate(545.0 140.0) rotate(90.0)" opacity="1"><rect x="0" y="-4.5" width="60.0" height="9.0" rx="2.7" fill="#2484a2"/><path d="M0.0 -4.5 Q7.2 0 2.8 4.5 L6.4 4.5 Q10.8 0 3.6 -4.5 Z" fill="#30b0d8"/><path d="M8.0 -4.5 Q15.2 0 10.8 4.5 L14.4 4.5 Q18.8 0 11.6 -4.5 Z" fill="#30b0d8"/><path d="M16.0 -4.5 Q23.2 0 18.8 4.5 L22.4 4.5 Q26.8 0 19.6 -4.5 Z" fill="#30b0d8"/><path d="M24.0 -4.5 Q31.2 0 26.8 4.5 L30.4 4.5 Q34.8 0 27.6 -4.5 Z" fill="#30b0d8"/><path d="M32.0 -4.5 Q39.2 0 34.8 4.5 L38.4 4.5 Q42.8 0 35.6 -4.5 Z" fill="#30b0d8"/><path d="M40.0 -4.5 Q47.2 0 42.8 4.5 L46.4 4.5 Q50.8 0 43.6 -4.5 Z" fill="#30b0d8"/><path d="M48.0 -4.5 Q55.2 0 50.8 4.5 L54.4 4.5 Q58.8 0 51.6 -4.5 Z" fill="#30b0d8"/></g><g transform="translate(540.0 220.0) rotate(0.0)" fill="none" opacity="1"><ellipse cx="0.0" cy="0.0" rx="10.0" ry="9.0" stroke="#734c26" stroke-width="2.2"/><ellipse cx="1.0" cy="-2.0" rx="10.0" ry="9.0" stroke="#996633" stroke-width="2.2"/><ellipse cx="2.0" cy="-4.0" rx="10.0" ry="9.0" stroke="#c08040" stroke-width="2.2"/></g><g transform="translate(552.5 127.5) rotate(0.0)" opacity="1"><rect x="0" y="-7.0" width="22.5" height="14.0" rx="4.2" fill="#a29c24"/><path d="M0.0 -7.0 Q6.9 0 2.7 7.0 L6.2 7.0 Q10.4 0 3.5 -7.0 Z" fill="#d8d030"/><path d="M7.7 -7.0 Q14.6 0 10.4 7.0 L13.9 7.0 Q18.1 0 11.2 -7.0 Z" fill="#d8d030"/></g><path d="M397.5 100.0 C398.8 101.7 406.2 105.8 405.0 110.0 C403.8 114.2 393.3 117.9 390.0 125.0 C386.7 132.1 387.1 143.3 385.0 152.5 C382.9 161.7 380.0 172.9 377.5 180.0 C375.0 187.1 370.0 189.2 370.0 195.0 C370.0 200.8 374.2 210.0 377.5 215.0 C380.8 220.0 383.8 221.7 390.0 225.0 C396.2 228.3 410.8 233.3 415.0 235.0" fill="none" stroke="#2838b0" stroke-width="1.4" stroke-linecap="round" stroke-linejoin="round" opacity="1"/><path d="M360.0 190.0 C360.8 187.9 360.8 179.2 365.0 177.5 C369.2 175.8 378.8 178.8 385.0 180.0 C391.2 181.2 400.0 186.7 402.5 185.0 C405.0 183.3 400.4 172.5 400.0 170.0" fill="none" stroke="#28a890" stroke-width="1.4" stroke-linecap="round" stroke-linejoin="round" opacity="1"/><path d="M590.0 130.0 C592.5 131.7 602.9 134.2 605.0 140.0 C607.1 145.8 605.0 158.3 602.5 165.0 C600.0 171.7 593.8 174.2 590.0 180.0 C586.2 185.8 582.5 194.6 580.0 200.0 C577.5 205.4 577.5 210.0 575.0 212.5 C572.5 215.0 566.7 214.6 565.0 215.0" fill="none" stroke="#2838b0" stroke-width="1.4" stroke-linecap="round" stroke-linejoin="round" opacity="1"/><path d="M577.5 115.0 C582.9 117.5 603.8 123.8 610.0 130.0 C616.2 136.2 615.0 147.5 615.0 152.5 C615.0 157.5 613.3 159.2 610.0 160.0 C606.7 160.8 597.5 157.9 595.0 157.5" fill="none" stroke="#28a890" stroke-width="1.4" stroke-linecap="round" stroke-linejoin="round" opacity="1"/><path d="M552.5 205.0 C554.6 206.7 563.8 210.8 565.0 215.0 C566.2 219.2 558.8 226.2 560.0 230.0 C561.2 233.8 570.4 236.2 572.5 237.5" fill="none" stroke="#28a8a0" stroke-width="1.3" stroke-linecap="round" stroke-linejoin="round" opacity="1"/><path d="M397.5 115.0 C398.8 112.5 402.1 101.7 405.0 100.0 C407.9 98.3 412.1 101.7 415.0 105.0 C417.9 108.3 419.2 118.3 422.5 120.0 C425.8 121.7 431.2 117.9 435.0 115.0 C438.8 112.1 441.2 105.0 445.0 102.5 C448.8 100.0 454.2 98.3 457.5 100.0 C460.8 101.7 463.8 110.4 465.0 112.5" fill="none" stroke="#30a8a0" stroke-width="1.4" stroke-linecap="round" stroke-linejoin="round" opacity="1"/><path d="M380.0 130.0 C381.7 128.8 386.7 121.7 390.0 122.5 C393.3 123.3 399.2 129.6 400.0 135.0 C400.8 140.4 397.5 149.2 395.0 155.0 C392.5 160.8 385.8 164.2 385.0 170.0 C384.2 175.8 389.2 186.7 390.0 190.0" fill="none" stroke="#2838b0" stroke-width="1.4" stroke-linecap="round" stroke-linejoin="round" opacity="1"/><path d="M370.0 220.0 C373.3 221.7 384.2 225.8 390.0 230.0 C395.8 234.2 399.6 240.8 405.0 245.0 C410.4 249.2 417.5 251.7 422.5 255.0 C427.5 258.3 430.4 264.2 435.0 265.0 C439.6 265.8 447.5 260.8 450.0 260.0" fill="none" stroke="#30a8a0" stroke-width="1.4" stroke-linecap="round" stroke-linejoin="round" opacity="1"/><path d="M520.0 215.0 C521.7 217.5 526.7 225.8 530.0 230.0 C533.3 234.2 535.8 239.2 540.0 240.0 C544.2 240.8 550.8 237.5 555.0 235.0 C559.2 232.5 560.8 227.5 565.0 225.0 C569.2 222.5 575.8 222.5 580.0 220.0 C584.2 217.5 588.3 211.7 590.0 210.0" fill="none" stroke="#2838b0" stroke-width="1.4" stroke-linecap="round" stroke-linejoin="round" opacity="1"/><path d="M560.0 77.5 C562.5 78.8 570.0 81.2 575.0 85.0 C580.0 88.8 585.8 95.0 590.0 100.0 C594.2 105.0 598.3 112.5 600.0 115.0" fill="none" stroke="#30a8a0" stroke-width="1.3" stroke-linecap="round" stroke-linejoin="round" opacity="1"/><path d="M480.0 215.0 C481.7 217.5 486.7 225.8 490.0 230.0 C493.3 234.2 495.8 238.8 500.0 240.0 C504.2 241.2 512.5 237.9 515.0 237.5" fill="none" stroke="#30a8a0" stroke-width="1.3" stroke-linecap="round" stroke-linejoin="round" opacity="1"/></g><use href="#sphAR" filter="url(#mA2)" opacity="0.2"/><text x="465.8" y="178.2" font-size="16.5" font-family="Liberation Serif" font-weight="bold">β</text><text x="474.8" y="178" font-size="16" font-family="Liberation Sans" font-weight="bold">5</text><text x="491" y="175.4" font-size="16.5" font-family="Liberation Serif" font-weight="bold">β</text><text x="500" y="175.2" font-size="16" font-family="Liberation Sans" font-weight="bold">5</text><line x1="296.4" y1="181.6" x2="338" y2="181.6" stroke="#000" stroke-width="3"/><path d="M327.5 161.5 A20 20 0 0 0 318.5 199.5" fill="none" stroke="#000" stroke-width="3.6"/><path d="M319 192.2 L333 201.6 L317.9 206.8 Z" fill="#000"/><text transform="translate(302.8 240) scale(0.94 1)" font-size="31.5" font-family="Liberation Sans" font-weight="bold">90</text><circle cx="340.8" cy="220.3" r="3.3" fill="none" stroke="#000" stroke-width="2.2"/><g><path d="M720.5 69.7 C721.4 68.8 723.3 65.2 726.0 64.2 C728.8 63.1 733.6 62.9 737.0 63.3 C740.4 63.6 743.7 65.8 746.2 66.0 C748.6 66.2 749.5 63.9 751.7 64.2 C753.8 64.5 757.8 67.2 759.0 67.8" fill="none" stroke="#50c020" stroke-width="2.2" stroke-linecap="round" stroke-linejoin="round" opacity="1"/><g transform="translate(719.0 70.0) rotate(19.2)" opacity="1"><rect x="0" y="-8.0" width="24.4" height="16.0" rx="4.8" fill="#369018"/><path d="M0.0 -8.0 Q7.2 0 2.8 8.0 L6.4 8.0 Q10.8 0 3.6 -8.0 Z" fill="#48c020"/><path d="M8.0 -8.0 Q15.2 0 10.8 8.0 L14.4 8.0 Q18.8 0 11.6 -8.0 Z" fill="#48c020"/><path d="M16.0 -8.0 Q23.2 0 18.8 8.0 L22.4 8.0 Q26.8 0 19.6 -8.0 Z" fill="#48c020"/></g><g transform="translate(727.0 73.0) rotate(0.0)" fill="none" opacity="1"><ellipse cx="0.0" cy="0.0" rx="9.0" ry="8.0" stroke="#26690e" stroke-width="3"/><ellipse cx="2.0" cy="0.0" rx="9.0" ry="8.0" stroke="#338c13" stroke-width="3"/><ellipse cx="4.0" cy="0.0" rx="9.0" ry="8.0" stroke="#40b018" stroke-width="3"/></g><g transform="translate(756.0 68.0) rotate(52.1)" opacity="1"><rect x="0" y="-11.0" width="45.6" height="22.0" rx="6.6" fill="#42961e"/><path d="M0.0 -11.0 Q8.1 0 3.1 11.0 L7.2 11.0 Q12.2 0 4.0 -11.0 Z" fill="#58c828"/><path d="M9.0 -11.0 Q17.1 0 12.2 11.0 L16.2 11.0 Q21.1 0 13.1 -11.0 Z" fill="#58c828"/><path d="M18.0 -11.0 Q26.1 0 21.1 11.0 L25.2 11.0 Q30.1 0 22.1 -11.0 Z" fill="#58c828"/><path d="M27.0 -11.0 Q35.1 0 30.1 11.0 L34.2 11.0 Q39.1 0 31.1 -11.0 Z" fill="#58c828"/><path d="M36.0 -11.0 Q44.1 0 39.1 11.0 L43.2 11.0 Q48.1 0 40.0 -11.0 Z" fill="#58c828"/></g><g transform="translate(742.0 72.0) rotate(-6.3)" opacity="1"><rect x="0" y="-5.0" width="18.1" height="10.0" rx="3.0" fill="#48961e"/><path d="M0.0 -5.0 Q4.5 0 1.8 5.0 L4.0 5.0 Q6.8 0 2.2 -5.0 Z" fill="#60c828"/><path d="M5.0 -5.0 Q9.5 0 6.8 5.0 L9.0 5.0 Q11.8 0 7.2 -5.0 Z" fill="#60c828"/><path d="M10.0 -5.0 Q14.5 0 11.8 5.0 L14.0 5.0 Q16.8 0 12.2 -5.0 Z" fill="#60c828"/></g><g transform="translate(745.0 97.0) rotate(-25.0)" fill="none" opacity="1"><ellipse cx="0.0" cy="-0.0" rx="12.0" ry="8.0" stroke="#225b1c" stroke-width="2.6"/><ellipse cx="1.6" cy="-1.2" rx="12.0" ry="8.0" stroke="#286a21" stroke-width="2.6"/><ellipse cx="3.2" cy="-2.4" rx="12.0" ry="8.0" stroke="#2e7926" stroke-width="2.6"/><ellipse cx="4.8" cy="-3.6" rx="12.0" ry="8.0" stroke="#34882b" stroke-width="2.6"/><ellipse cx="6.4" cy="-4.8" rx="12.0" ry="8.0" stroke="#3a9830" stroke-width="2.6"/></g><g transform="translate(719.0 95.0) rotate(-15.0)" fill="none" opacity="1"><ellipse cx="-0.0" cy="0.0" rx="10.0" ry="6.5" stroke="#605118" stroke-width="2.8"/><ellipse cx="-0.9" cy="4.2" rx="10.0" ry="6.5" stroke="#69591a" stroke-width="2.8"/><ellipse cx="-1.8" cy="8.4" rx="10.0" ry="6.5" stroke="#72611c" stroke-width="2.8"/><ellipse cx="-2.7" cy="12.6" rx="10.0" ry="6.5" stroke="#7b681e" stroke-width="2.8"/><ellipse cx="-3.6" cy="16.8" rx="10.0" ry="6.5" stroke="#847021" stroke-width="2.8"/><ellipse cx="-4.5" cy="21.0" rx="10.0" ry="6.5" stroke="#8d7823" stroke-width="2.8"/><ellipse cx="-5.4" cy="25.2" rx="10.0" ry="6.5" stroke="#968025" stroke-width="2.8"/><ellipse cx="-6.3" cy="29.4" rx="10.0" ry="6.5" stroke="#a08828" stroke-width="2.8"/></g><g transform="translate(740.0 106.0) rotate(-15.0)" fill="none" opacity="1"><ellipse cx="0.0" cy="0.0" rx="9.0" ry="6.5" stroke="#605618" stroke-width="2.8"/><ellipse cx="0.3" cy="3.6" rx="9.0" ry="6.5" stroke="#70641c" stroke-width="2.8"/><ellipse cx="0.6" cy="7.2" rx="9.0" ry="6.5" stroke="#807320" stroke-width="2.8"/><ellipse cx="0.9" cy="10.8" rx="9.0" ry="6.5" stroke="#908124" stroke-width="2.8"/><ellipse cx="1.2" cy="14.4" rx="9.0" ry="6.5" stroke="#a09028" stroke-width="2.8"/></g><path d="M711.3 110.0 C712.6 109.4 716.2 106.3 718.7 106.3 C721.1 106.3 723.6 109.7 726.0 110.0 C728.4 110.3 732.1 108.5 733.3 108.2" fill="none" stroke="#e0c820" stroke-width="1.6" stroke-linecap="round" stroke-linejoin="round" opacity="1"/><g transform="translate(725.0 126.0) rotate(14.9)" opacity="1"><path d="M0 -3.5 L10.9 -3.5 L10.9 -7.0 L15.5 0 L10.9 7.0 L10.9 3.5 L0 3.5 Z" fill="#c8c020"/><path d="M0 1.2 L10.9 1.2 L10.9 3.5 L0 3.5 Z" fill="#8c8616"/></g><g transform="translate(763.0 114.0) rotate(109.0)" opacity="1"><path d="M0 -4.0 L23.7 -4.0 L23.7 -8.0 L33.8 0 L23.7 8.0 L23.7 4.0 L0 4.0 Z" fill="#2a7040"/><path d="M0 1.3 L23.7 1.3 L23.7 4.0 L0 4.0 Z" fill="#1d4e2c"/></g><g transform="translate(775.0 118.0) rotate(104.0)" opacity="1"><path d="M0 -4.0 L20.2 -4.0 L20.2 -8.0 L28.9 0 L20.2 8.0 L20.2 4.0 L0 4.0 Z" fill="#307848"/><path d="M0 1.3 L20.2 1.3 L20.2 4.0 L0 4.0 Z" fill="#215432"/></g><g transform="translate(742.0 126.0) rotate(108.4)" opacity="1"><path d="M0 -3.0 L15.5 -3.0 L15.5 -6.0 L22.1 0 L15.5 6.0 L15.5 3.0 L0 3.0 Z" fill="#909030"/><path d="M0 1.0 L15.5 1.0 L15.5 3.0 L0 3.0 Z" fill="#646421"/></g><g transform="translate(771.0 126.0) rotate(107.7)" opacity="1"><path d="M0 -3.5 L16.2 -3.5 L16.2 -7.0 L23.1 0 L16.2 7.0 L16.2 3.5 L0 3.5 Z" fill="#308060"/><path d="M0 1.2 L16.2 1.2 L16.2 3.5 L0 3.5 Z" fill="#215943"/></g><g transform="translate(756.0 114.0) rotate(98.7)" opacity="1"><path d="M0 -3.0 L18.4 -3.0 L18.4 -6.0 L26.3 0 L18.4 6.0 L18.4 3.0 L0 3.0 Z" fill="#38a060"/><path d="M0 1.0 L18.4 1.0 L18.4 3.0 L0 3.0 Z" fill="#277043"/></g><g transform="translate(741.0 150.0) rotate(63.4)" opacity="1"><rect x="0" y="-6.0" width="33.5" height="12.0" rx="3.6" fill="#309084"/><path d="M0.0 -6.0 Q5.0 0 1.9 6.0 L4.4 6.0 Q7.4 0 2.5 -6.0 Z" fill="#40c0b0"/><path d="M5.5 -6.0 Q10.4 0 7.4 6.0 L9.9 6.0 Q12.9 0 8.0 -6.0 Z" fill="#40c0b0"/><path d="M11.0 -6.0 Q15.9 0 12.9 6.0 L15.4 6.0 Q18.4 0 13.5 -6.0 Z" fill="#40c0b0"/><path d="M16.5 -6.0 Q21.4 0 18.4 6.0 L20.9 6.0 Q23.9 0 19.0 -6.0 Z" fill="#40c0b0"/><path d="M22.0 -6.0 Q26.9 0 23.9 6.0 L26.4 6.0 Q29.4 0 24.5 -6.0 Z" fill="#40c0b0"/><path d="M27.5 -6.0 Q32.5 0 29.4 6.0 L31.9 6.0 Q34.9 0 30.0 -6.0 Z" fill="#40c0b0"/></g><path d="M667.3 128.3 C667.9 127.1 668.9 122.5 671.0 121.0 C673.1 119.5 677.1 119.2 680.2 119.2 C683.2 119.2 686.0 119.5 689.3 121.0 C692.7 122.5 697.3 125.9 700.3 128.3 C703.4 130.8 705.2 134.8 707.7 135.7 C710.1 136.6 711.3 134.4 715.0 133.8 C718.7 133.2 726.6 131.4 729.7 132.0 C732.7 132.6 732.7 136.6 733.3 137.5" fill="none" stroke="#50c8d8" stroke-width="1.8" stroke-linecap="round" stroke-linejoin="round" opacity="1"/><path d="M683.8 128.3 C684.4 130.2 687.2 136.0 687.5 139.3 C687.8 142.7 684.8 145.4 685.7 148.5 C686.6 151.6 690.3 155.5 693.0 157.7 C695.8 159.8 698.5 160.1 702.2 161.3 C705.8 162.6 711.0 163.8 715.0 165.0 C719.0 166.2 722.3 167.4 726.0 168.7 C729.7 169.9 735.2 171.7 737.0 172.3" fill="none" stroke="#58c0d0" stroke-width="1.8" stroke-linecap="round" stroke-linejoin="round" opacity="1"/><g transform="translate(694.0 136.0) rotate(64.7)" opacity="1"><path d="M0 -3.0 L14.7 -3.0 L14.7 -6.0 L21.0 0 L14.7 6.0 L14.7 3.0 L0 3.0 Z" fill="#3030a0"/><path d="M0 1.0 L14.7 1.0 L14.7 3.0 L0 3.0 Z" fill="#212170"/></g><g transform="translate(710.0 140.0) rotate(21.8)" opacity="1"><path d="M0 -3.0 L11.3 -3.0 L11.3 -6.0 L16.2 0 L11.3 6.0 L11.3 3.0 L0 3.0 Z" fill="#8a5020"/><path d="M0 1.0 L11.3 1.0 L11.3 3.0 L0 3.0 Z" fill="#603816"/></g><g transform="translate(716.0 174.0) rotate(0.0)" fill="none" opacity="1"><ellipse cx="0.0" cy="0.0" rx="9.0" ry="7.0" stroke="#212169" stroke-width="2.4"/><ellipse cx="2.0" cy="0.0" rx="9.0" ry="7.0" stroke="#292981" stroke-width="2.4"/><ellipse cx="4.0" cy="0.0" rx="9.0" ry="7.0" stroke="#303098" stroke-width="2.4"/><ellipse cx="6.0" cy="0.0" rx="9.0" ry="7.0" stroke="#3838b0" stroke-width="2.4"/></g><path d="M671.0 163.2 C671.6 164.1 671.9 168.4 674.7 168.7 C677.4 169.0 682.9 165.9 687.5 165.0 C692.1 164.1 697.6 163.8 702.2 163.2 C706.8 162.6 712.9 161.6 715.0 161.3" fill="none" stroke="#5038b0" stroke-width="1.8" stroke-linecap="round" stroke-linejoin="round" opacity="1"/><path d="M687.5 172.3 C687.2 174.2 685.1 180.0 685.7 183.3 C686.3 186.7 688.4 189.8 691.2 192.5 C693.9 195.3 698.2 198.3 702.2 199.8 C706.1 201.4 710.4 201.4 715.0 201.7 C719.6 202.0 726.6 202.9 729.7 201.7 C732.7 200.4 733.9 197.4 733.3 194.3 C732.7 191.3 727.2 185.2 726.0 183.3" fill="none" stroke="#4878d0" stroke-width="1.8" stroke-linecap="round" stroke-linejoin="round" opacity="1"/><path d="M685.7 179.7 C687.5 179.7 693.0 179.1 696.7 179.7 C700.3 180.3 703.4 183.0 707.7 183.3 C711.9 183.6 719.9 181.8 722.3 181.5" fill="none" stroke="#5060c8" stroke-width="1.6" stroke-linecap="round" stroke-linejoin="round" opacity="1"/><path d="M698.5 128.3 C699.4 130.2 700.6 136.9 704.0 139.3 C707.4 141.8 714.4 141.8 718.7 143.0 C722.9 144.2 726.6 143.6 729.7 146.7 C732.7 149.7 735.5 157.1 737.0 161.3 C738.5 165.6 737.0 170.2 738.8 172.3 C740.7 174.5 745.3 171.7 748.0 174.2 C750.8 176.6 752.3 184.3 755.3 187.0 C758.4 189.8 762.7 190.7 766.3 190.7 C770.0 190.7 773.7 187.3 777.3 187.0 C781.0 186.7 785.6 187.0 788.3 188.8 C791.1 190.7 792.9 196.5 793.8 198.0" fill="none" stroke="#d08830" stroke-width="1.8" stroke-linecap="round" stroke-linejoin="round" opacity="1"/><g transform="translate(782.0 170.0) rotate(0.0)" fill="none" opacity="1"><ellipse cx="0.0" cy="0.0" rx="10.0" ry="7.0" stroke="#1c5b51" stroke-width="2.6"/><ellipse cx="0.0" cy="-4.0" rx="10.0" ry="7.0" stroke="#216a5f" stroke-width="2.6"/><ellipse cx="0.0" cy="-8.0" rx="10.0" ry="7.0" stroke="#26796c" stroke-width="2.6"/><ellipse cx="0.0" cy="-12.0" rx="10.0" ry="7.0" stroke="#2b887a" stroke-width="2.6"/><ellipse cx="0.0" cy="-16.0" rx="10.0" ry="7.0" stroke="#309888" stroke-width="2.6"/></g><g transform="translate(779.0 140.0) rotate(52.1)" opacity="1"><rect x="0" y="-6.0" width="22.8" height="12.0" rx="3.6" fill="#308478"/><path d="M0.0 -6.0 Q5.0 0 1.9 6.0 L4.4 6.0 Q7.4 0 2.5 -6.0 Z" fill="#40b0a0"/><path d="M5.5 -6.0 Q10.4 0 7.4 6.0 L9.9 6.0 Q12.9 0 8.0 -6.0 Z" fill="#40b0a0"/><path d="M11.0 -6.0 Q15.9 0 12.9 6.0 L15.4 6.0 Q18.4 0 13.5 -6.0 Z" fill="#40b0a0"/><path d="M16.5 -6.0 Q21.4 0 18.4 6.0 L20.9 6.0 Q23.9 0 19.0 -6.0 Z" fill="#40b0a0"/></g><g transform="translate(786.0 126.0) rotate(-16.6)" opacity="1"><rect x="0" y="-8.0" width="38.6" height="16.0" rx="4.8" fill="#42961e"/><path d="M0.0 -8.0 Q6.3 0 2.4 8.0 L5.6 8.0 Q9.5 0 3.1 -8.0 Z" fill="#58c828"/><path d="M7.0 -8.0 Q13.3 0 9.4 8.0 L12.6 8.0 Q16.5 0 10.2 -8.0 Z" fill="#58c828"/><path d="M14.0 -8.0 Q20.3 0 16.4 8.0 L19.6 8.0 Q23.5 0 17.1 -8.0 Z" fill="#58c828"/><path d="M21.0 -8.0 Q27.3 0 23.4 8.0 L26.6 8.0 Q30.5 0 24.1 -8.0 Z" fill="#58c828"/><path d="M28.0 -8.0 Q34.3 0 30.4 8.0 L33.6 8.0 Q37.5 0 31.1 -8.0 Z" fill="#58c828"/></g><g transform="translate(806.0 133.0) rotate(0.0)" opacity="1"><rect x="0" y="-7.0" width="40.0" height="14.0" rx="4.2" fill="#7e9024"/><path d="M0.0 -7.0 Q5.9 0 2.3 7.0 L5.2 7.0 Q8.8 0 2.9 -7.0 Z" fill="#a8c030"/><path d="M6.5 -7.0 Q12.4 0 8.8 7.0 L11.7 7.0 Q15.3 0 9.4 -7.0 Z" fill="#a8c030"/><path d="M13.0 -7.0 Q18.9 0 15.3 7.0 L18.2 7.0 Q21.8 0 15.9 -7.0 Z" fill="#a8c030"/><path d="M19.5 -7.0 Q25.4 0 21.8 7.0 L24.7 7.0 Q28.3 0 22.4 -7.0 Z" fill="#a8c030"/><path d="M26.0 -7.0 Q31.9 0 28.3 7.0 L31.2 7.0 Q34.8 0 28.9 -7.0 Z" fill="#a8c030"/><path d="M32.5 -7.0 Q38.4 0 34.8 7.0 L37.7 7.0 Q41.3 0 35.4 -7.0 Z" fill="#a8c030"/></g><g transform="translate(804.0 172.0) rotate(0.0)" fill="none" opacity="1"><ellipse cx="0.0" cy="0.0" rx="9.0" ry="7.0" stroke="#565b21" stroke-width="2.4"/><ellipse cx="0.5" cy="-4.0" rx="9.0" ry="7.0" stroke="#696f29" stroke-width="2.4"/><ellipse cx="1.0" cy="-8.0" rx="9.0" ry="7.0" stroke="#7c8330" stroke-width="2.4"/><ellipse cx="1.5" cy="-12.0" rx="9.0" ry="7.0" stroke="#909838" stroke-width="2.4"/></g><g transform="translate(818.0 163.0) rotate(123.0)" opacity="1"><path d="M0 -3.0 L16.7 -3.0 L16.7 -6.0 L23.9 0 L16.7 6.0 L16.7 3.0 L0 3.0 Z" fill="#306080"/><path d="M0 1.0 L16.7 1.0 L16.7 3.0 L0 3.0 Z" fill="#214359"/></g><g transform="translate(841.0 163.0) rotate(-10.0)" fill="none" opacity="1"><ellipse cx="0.0" cy="0.0" rx="10.0" ry="6.0" stroke="#78561c" stroke-width="2.4"/><ellipse cx="0.0" cy="-4.0" rx="10.0" ry="6.0" stroke="#856020" stroke-width="2.4"/><ellipse cx="0.0" cy="-8.0" rx="10.0" ry="6.0" stroke="#926923" stroke-width="2.4"/><ellipse cx="0.0" cy="-12.0" rx="10.0" ry="6.0" stroke="#a07326" stroke-width="2.4"/><ellipse cx="0.0" cy="-16.0" rx="10.0" ry="6.0" stroke="#ad7c29" stroke-width="2.4"/><ellipse cx="0.0" cy="-20.0" rx="10.0" ry="6.0" stroke="#ba862c" stroke-width="2.4"/><ellipse cx="0.0" cy="-24.0" rx="10.0" ry="6.0" stroke="#c89030" stroke-width="2.4"/></g><g transform="translate(831.0 175.0) rotate(125.8)" opacity="1"><path d="M0 -3.5 L15.5 -3.5 L15.5 -7.0 L22.2 0 L15.5 7.0 L15.5 3.5 L0 3.5 Z" fill="#9a7020"/><path d="M0 1.2 L15.5 1.2 L15.5 3.5 L0 3.5 Z" fill="#6b4e16"/></g><path d="M825.0 110.0 C826.2 109.1 830.2 104.5 832.3 104.5 C834.5 104.5 836.0 106.0 837.8 110.0 C839.7 114.0 841.5 123.8 843.3 128.3 C845.2 132.9 847.9 136.0 848.8 137.5" fill="none" stroke="#60c030" stroke-width="1.6" stroke-linecap="round" stroke-linejoin="round" opacity="1"/><g transform="translate(784.0 202.0) rotate(-26.6)" opacity="1"><rect x="0" y="-8.0" width="35.8" height="16.0" rx="4.8" fill="#24247e"/><path d="M0.0 -8.0 Q6.3 0 2.4 8.0 L5.6 8.0 Q9.5 0 3.1 -8.0 Z" fill="#3030a8"/><path d="M7.0 -8.0 Q13.3 0 9.4 8.0 L12.6 8.0 Q16.5 0 10.2 -8.0 Z" fill="#3030a8"/><path d="M14.0 -8.0 Q20.3 0 16.4 8.0 L19.6 8.0 Q23.5 0 17.1 -8.0 Z" fill="#3030a8"/><path d="M21.0 -8.0 Q27.3 0 23.4 8.0 L26.6 8.0 Q30.5 0 24.1 -8.0 Z" fill="#3030a8"/><path d="M28.0 -8.0 Q34.3 0 30.4 8.0 L33.6 8.0 Q37.5 0 31.1 -8.0 Z" fill="#3030a8"/></g><g transform="translate(816.0 206.0) rotate(-39.2)" opacity="1"><path d="M0 -4.0 L24.4 -4.0 L24.4 -8.0 L34.8 0 L24.4 8.0 L24.4 4.0 L0 4.0 Z" fill="#4030b0"/><path d="M0 1.3 L24.4 1.3 L24.4 4.0 L0 4.0 Z" fill="#2c217b"/></g><path d="M777.3 205.3 C776.7 206.9 772.4 211.4 773.7 214.5 C774.9 217.6 780.4 220.9 784.7 223.7 C788.9 226.4 794.8 230.4 799.3 231.0 C803.9 231.6 807.9 227.6 812.2 227.3 C816.4 227.0 821.0 229.2 825.0 229.2 C829.0 229.2 832.9 228.9 836.0 227.3 C839.1 225.8 842.1 221.2 843.3 220.0" fill="none" stroke="#4070d0" stroke-width="1.8" stroke-linecap="round" stroke-linejoin="round" opacity="1"/><path d="M792.0 210.8 C793.2 212.4 796.3 219.1 799.3 220.0 C802.4 220.9 806.1 217.6 810.3 216.3 C814.6 215.1 820.7 214.5 825.0 212.7 C829.3 210.8 832.9 207.5 836.0 205.3 C839.1 203.2 840.3 202.3 843.3 199.8 C846.4 197.4 851.3 191.6 854.3 190.7 C857.4 189.8 860.4 192.5 861.7 194.3 C862.9 196.2 861.7 200.4 861.7 201.7" fill="none" stroke="#50c8d8" stroke-width="1.8" stroke-linecap="round" stroke-linejoin="round" opacity="1"/><path d="M821.3 216.3 C823.5 217.6 830.8 223.7 834.2 223.7 C837.5 223.7 839.4 219.4 841.5 216.3 C843.6 213.3 845.5 209.3 847.0 205.3 C848.5 201.4 850.7 196.2 850.7 192.5 C850.7 188.8 847.6 184.9 847.0 183.3" fill="none" stroke="#4838b0" stroke-width="1.6" stroke-linecap="round" stroke-linejoin="round" opacity="1"/><path d="M704.0 205.3 C705.8 205.9 710.7 209.0 715.0 209.0 C719.3 209.0 725.1 205.6 729.7 205.3 C734.3 205.0 738.2 207.2 742.5 207.2 C746.8 207.2 750.8 205.3 755.3 205.3 C759.9 205.3 766.0 207.2 770.0 207.2 C774.0 207.2 777.6 205.6 779.2 205.3" fill="none" stroke="#d89040" stroke-width="1.8" stroke-linecap="round" stroke-linejoin="round" opacity="1"/><path d="M722.3 212.7 C724.2 213.0 730.6 212.4 733.3 214.5 C736.1 216.6 737.0 222.1 738.8 225.5 C740.7 228.9 743.7 231.3 744.3 234.7 C744.9 238.0 743.7 242.6 742.5 245.7 C741.3 248.7 738.5 250.9 737.0 253.0 C735.5 255.1 733.9 257.6 733.3 258.5" fill="none" stroke="#c86820" stroke-width="2" stroke-linecap="round" stroke-linejoin="round" opacity="1"/><path d="M704.0 223.7 C702.8 224.9 699.1 228.6 696.7 231.0 C694.2 233.4 690.9 235.3 689.3 238.3 C687.8 241.4 687.8 247.5 687.5 249.3" fill="none" stroke="#e0a060" stroke-width="1.6" stroke-linecap="round" stroke-linejoin="round" opacity="1"/><path d="M707.7 227.3 C709.5 227.9 716.2 228.6 718.7 231.0 C721.1 233.4 720.5 238.6 722.3 242.0 C724.2 245.4 727.5 249.0 729.7 251.2 C731.8 253.3 734.3 254.2 735.2 254.8" fill="none" stroke="#c87030" stroke-width="1.6" stroke-linecap="round" stroke-linejoin="round" opacity="1"/></g><path d="M733.6 249.7 C734.2 251.2 737.3 255.4 736.8 259.1 C736.2 262.7 731.6 269.5 730.5 271.5" fill="none" stroke="#c86820" stroke-width="2" stroke-linecap="round" stroke-linejoin="round" opacity="1"/><g transform="translate(720.5 279.0) rotate(90.0)" opacity="1"><rect x="0" y="-7.5" width="101.0" height="15.0" rx="4.5" fill="#b8b000"/><path d="M0.0 -7.5 Q7.2 0 2.8 7.5 L6.4 7.5 Q10.8 0 3.6 -7.5 Z" fill="#ece400"/><path d="M8.0 -7.5 Q15.2 0 10.8 7.5 L14.4 7.5 Q18.8 0 11.6 -7.5 Z" fill="#ece400"/><path d="M16.0 -7.5 Q23.2 0 18.8 7.5 L22.4 7.5 Q26.8 0 19.6 -7.5 Z" fill="#ece400"/><path d="M24.0 -7.5 Q31.2 0 26.8 7.5 L30.4 7.5 Q34.8 0 27.6 -7.5 Z" fill="#ece400"/><path d="M32.0 -7.5 Q39.2 0 34.8 7.5 L38.4 7.5 Q42.8 0 35.6 -7.5 Z" fill="#ece400"/><path d="M40.0 -7.5 Q47.2 0 42.8 7.5 L46.4 7.5 Q50.8 0 43.6 -7.5 Z" fill="#ece400"/><path d="M48.0 -7.5 Q55.2 0 50.8 7.5 L54.4 7.5 Q58.8 0 51.6 -7.5 Z" fill="#ece400"/><path d="M56.0 -7.5 Q63.2 0 58.8 7.5 L62.4 7.5 Q66.8 0 59.6 -7.5 Z" fill="#ece400"/><path d="M64.0 -7.5 Q71.2 0 66.8 7.5 L70.4 7.5 Q74.8 0 67.6 -7.5 Z" fill="#ece400"/><path d="M72.0 -7.5 Q79.2 0 74.8 7.5 L78.4 7.5 Q82.8 0 75.6 -7.5 Z" fill="#ece400"/><path d="M80.0 -7.5 Q87.2 0 82.8 7.5 L86.4 7.5 Q90.8 0 83.6 -7.5 Z" fill="#ece400"/><path d="M88.0 -7.5 Q95.2 0 90.8 7.5 L94.4 7.5 Q98.8 0 91.6 -7.5 Z" fill="#ece400"/></g><g transform="translate(735.5 279.0) rotate(90.0)" opacity="1"><rect x="0" y="-7.5" width="101.0" height="15.0" rx="4.5" fill="#b8b000"/><path d="M0.0 -7.5 Q7.2 0 2.8 7.5 L6.4 7.5 Q10.8 0 3.6 -7.5 Z" fill="#ece400"/><path d="M8.0 -7.5 Q15.2 0 10.8 7.5 L14.4 7.5 Q18.8 0 11.6 -7.5 Z" fill="#ece400"/><path d="M16.0 -7.5 Q23.2 0 18.8 7.5 L22.4 7.5 Q26.8 0 19.6 -7.5 Z" fill="#ece400"/><path d="M24.0 -7.5 Q31.2 0 26.8 7.5 L30.4 7.5 Q34.8 0 27.6 -7.5 Z" fill="#ece400"/><path d="M32.0 -7.5 Q39.2 0 34.8 7.5 L38.4 7.5 Q42.8 0 35.6 -7.5 Z" fill="#ece400"/><path d="M40.0 -7.5 Q47.2 0 42.8 7.5 L46.4 7.5 Q50.8 0 43.6 -7.5 Z" fill="#ece400"/><path d="M48.0 -7.5 Q55.2 0 50.8 7.5 L54.4 7.5 Q58.8 0 51.6 -7.5 Z" fill="#ece400"/><path d="M56.0 -7.5 Q63.2 0 58.8 7.5 L62.4 7.5 Q66.8 0 59.6 -7.5 Z" fill="#ece400"/><path d="M64.0 -7.5 Q71.2 0 66.8 7.5 L70.4 7.5 Q74.8 0 67.6 -7.5 Z" fill="#ece400"/><path d="M72.0 -7.5 Q79.2 0 74.8 7.5 L78.4 7.5 Q82.8 0 75.6 -7.5 Z" fill="#ece400"/><path d="M80.0 -7.5 Q87.2 0 82.8 7.5 L86.4 7.5 Q90.8 0 83.6 -7.5 Z" fill="#ece400"/><path d="M88.0 -7.5 Q95.2 0 90.8 7.5 L94.4 7.5 Q98.8 0 91.6 -7.5 Z" fill="#ece400"/></g><g transform="translate(728.0 277.0) rotate(90.0)" opacity="1"><rect x="0" y="-4.0" width="105.0" height="8.0" rx="2.4" fill="#c8c000"/><path d="M0.0 -4.0 Q7.2 0 2.8 4.0 L6.4 4.0 Q10.8 0 3.6 -4.0 Z" fill="#f4ec20"/><path d="M8.0 -4.0 Q15.2 0 10.8 4.0 L14.4 4.0 Q18.8 0 11.6 -4.0 Z" fill="#f4ec20"/><path d="M16.0 -4.0 Q23.2 0 18.8 4.0 L22.4 4.0 Q26.8 0 19.6 -4.0 Z" fill="#f4ec20"/><path d="M24.0 -4.0 Q31.2 0 26.8 4.0 L30.4 4.0 Q34.8 0 27.6 -4.0 Z" fill="#f4ec20"/><path d="M32.0 -4.0 Q39.2 0 34.8 4.0 L38.4 4.0 Q42.8 0 35.6 -4.0 Z" fill="#f4ec20"/><path d="M40.0 -4.0 Q47.2 0 42.8 4.0 L46.4 4.0 Q50.8 0 43.6 -4.0 Z" fill="#f4ec20"/><path d="M48.0 -4.0 Q55.2 0 50.8 4.0 L54.4 4.0 Q58.8 0 51.6 -4.0 Z" fill="#f4ec20"/><path d="M56.0 -4.0 Q63.2 0 58.8 4.0 L62.4 4.0 Q66.8 0 59.6 -4.0 Z" fill="#f4ec20"/><path d="M64.0 -4.0 Q71.2 0 66.8 4.0 L70.4 4.0 Q74.8 0 67.6 -4.0 Z" fill="#f4ec20"/><path d="M72.0 -4.0 Q79.2 0 74.8 4.0 L78.4 4.0 Q82.8 0 75.6 -4.0 Z" fill="#f4ec20"/><path d="M80.0 -4.0 Q87.2 0 82.8 4.0 L86.4 4.0 Q90.8 0 83.6 -4.0 Z" fill="#f4ec20"/><path d="M88.0 -4.0 Q95.2 0 90.8 4.0 L94.4 4.0 Q98.8 0 91.6 -4.0 Z" fill="#f4ec20"/><path d="M96.0 -4.0 Q103.2 0 98.8 4.0 L102.4 4.0 Q106.8 0 99.6 -4.0 Z" fill="#f4ec20"/></g><g transform="translate(721.0 271.0) rotate(65.0)" opacity="1"><rect x="0" y="-6.5" width="16.6" height="13.0" rx="3.9" fill="#a8370c"/><path d="M0.0 -6.5 Q5.4 0 2.1 6.5 L4.8 6.5 Q8.1 0 2.7 -6.5 Z" fill="#e04a10"/><path d="M6.0 -6.5 Q11.4 0 8.1 6.5 L10.8 6.5 Q14.1 0 8.7 -6.5 Z" fill="#e04a10"/></g><g transform="translate(737.0 273.0) rotate(74.1)" opacity="1"><rect x="0" y="-5.5" width="14.6" height="11.0" rx="3.3" fill="#ae4312"/><path d="M0.0 -5.5 Q5.4 0 2.1 5.5 L4.8 5.5 Q8.1 0 2.7 -5.5 Z" fill="#e85a18"/><path d="M6.0 -5.5 Q11.4 0 8.1 5.5 L10.8 5.5 Q14.1 0 8.7 -5.5 Z" fill="#e85a18"/></g><g transform="translate(716.0 377.0) rotate(95.4)" opacity="1"><rect x="0" y="-8.5" width="32.1" height="17.0" rx="5.1" fill="#a82008"/><path d="M0.0 -8.5 Q8.1 0 3.1 8.5 L7.2 8.5 Q12.2 0 4.0 -8.5 Z" fill="#e03010"/><path d="M9.0 -8.5 Q17.1 0 12.2 8.5 L16.2 8.5 Q21.1 0 13.1 -8.5 Z" fill="#e03010"/><path d="M18.0 -8.5 Q26.1 0 21.1 8.5 L25.2 8.5 Q30.1 0 22.1 -8.5 Z" fill="#e03010"/></g><g transform="translate(738.0 378.0) rotate(82.1)" opacity="1"><rect x="0" y="-8.5" width="29.3" height="17.0" rx="5.1" fill="#a82008"/><path d="M0.0 -8.5 Q8.1 0 3.1 8.5 L7.2 8.5 Q12.2 0 4.0 -8.5 Z" fill="#e03010"/><path d="M9.0 -8.5 Q17.1 0 12.2 8.5 L16.2 8.5 Q21.1 0 13.1 -8.5 Z" fill="#e03010"/><path d="M18.0 -8.5 Q26.1 0 21.1 8.5 L25.2 8.5 Q30.1 0 22.1 -8.5 Z" fill="#e03010"/></g><path d="M718.0 402.6 C717.5 405.2 714.4 413.5 714.9 418.2 C715.4 422.9 722.2 429.2 721.1 430.7 C720.1 432.3 712.3 426.6 708.7 427.6 C705.0 428.6 699.8 433.3 699.3 437.0 C698.8 440.6 706.1 445.3 705.5 449.4 C705.0 453.6 697.2 457.8 696.2 461.9 C695.1 466.1 699.8 470.2 699.3 474.4 C698.8 478.6 693.6 483.3 693.1 486.9 C692.5 490.5 695.7 494.7 696.2 496.3" fill="none" stroke="#e04040" stroke-width="1.6" stroke-linecap="round" stroke-linejoin="round" opacity="1"/><path d="M733.6 405.7 C733.1 408.9 729.5 420.8 730.5 424.5 C731.6 428.1 737.8 425.0 739.9 427.6 C742.0 430.2 740.9 436.4 743.0 440.1 C745.1 443.7 749.8 446.3 752.4 449.4 C755.0 452.6 756.5 455.2 758.6 458.8 C760.7 462.4 762.8 467.6 764.8 471.3 C766.9 474.9 769.0 477.0 771.1 480.6 C773.2 484.3 775.0 490.8 777.3 493.1 C779.7 495.5 783.8 494.4 785.1 494.7" fill="none" stroke="#e04040" stroke-width="1.6" stroke-linecap="round" stroke-linejoin="round" opacity="1"/><path d="M721.1 418.2 C722.2 420.3 725.3 429.7 727.4 430.7 C729.5 431.8 732.6 425.5 733.6 424.5" fill="none" stroke="#d03030" stroke-width="1.5" stroke-linecap="round" stroke-linejoin="round" opacity="1"/><text x="745" y="348.6" font-size="31.5" font-family="Liberation Sans" font-weight="bold">TM</text><defs><radialGradient id="ag"><stop offset="0" stop-color="#000" stop-opacity="1"/><stop offset="0.6" stop-color="#000" stop-opacity="0.55"/><stop offset="1" stop-color="#000" stop-opacity="0"/></radialGradient><filter id="mGray" x="-5%" y="-5%" width="110%" height="110%" color-interpolation-filters="sRGB"><feGaussianBlur in="SourceAlpha" stdDeviation="1.6" result="h"/><feDiffuseLighting in="h" surfaceScale="9" diffuseConstant="0.98" lighting-color="#f6f6f6" result="L0"><feDistantLight azimuth="235" elevation="48"/></feDiffuseLighting><feFlood flood-color="#f6f6f6" result="fl"/><feComposite in="L0" in2="fl" operator="arithmetic" k2="1.0" k3="0.22" result="L"/><feComponentTransfer in="SourceAlpha" result="m"><feFuncA type="linear" slope="6" intercept="-1.2"/></feComponentTransfer><feComposite in="L" in2="m" operator="in"/></filter><filter id="mGrayD" x="-5%" y="-5%" width="110%" height="110%" color-interpolation-filters="sRGB"><feGaussianBlur in="SourceAlpha" stdDeviation="1.6" result="h"/><feDiffuseLighting in="h" surfaceScale="9" diffuseConstant="0.98" lighting-color="#a8a8a8" result="L0"><feDistantLight azimuth="235" elevation="48"/></feDiffuseLighting><feFlood flood-color="#a8a8a8" result="fl"/><feComposite in="L0" in2="fl" operator="arithmetic" k2="1.0" k3="0.22" result="L"/><feComponentTransfer in="SourceAlpha" result="m"><feFuncA type="linear" slope="6" intercept="-1.2"/></feComponentTransfer><feComposite in="L" in2="m" operator="in"/></filter><filter id="mCyanD" x="-5%" y="-5%" width="110%" height="110%" color-interpolation-filters="sRGB"><feGaussianBlur in="SourceAlpha" stdDeviation="1.6" result="h"/><feDiffuseLighting in="h" surfaceScale="9" diffuseConstant="0.98" lighting-color="#9cc4c6" result="L0"><feDistantLight azimuth="235" elevation="48"/></feDiffuseLighting><feFlood flood-color="#9cc4c6" result="fl"/><feComposite in="L0" in2="fl" operator="arithmetic" k2="1.0" k3="0.22" result="L"/><feComponentTransfer in="SourceAlpha" result="m"><feFuncA type="linear" slope="6" intercept="-1.2"/></feComponentTransfer><feComposite in="L" in2="m" operator="in"/></filter><filter id="mCyan" x="-5%" y="-5%" width="110%" height="110%" color-interpolation-filters="sRGB"><feGaussianBlur in="SourceAlpha" stdDeviation="1.6" result="h"/><feDiffuseLighting in="h" surfaceScale="9" diffuseConstant="0.98" lighting-color="#c6e8ea" result="L0"><feDistantLight azimuth="235" elevation="48"/></feDiffuseLighting><feFlood flood-color="#c6e8ea" result="fl"/><feComposite in="L0" in2="fl" operator="arithmetic" k2="1.0" k3="0.22" result="L"/><feComponentTransfer in="SourceAlpha" result="m"><feFuncA type="linear" slope="6" intercept="-1.2"/></feComponentTransfer><feComposite in="L" in2="m" operator="in"/></filter><filter id="mOr" x="-5%" y="-5%" width="110%" height="110%" color-interpolation-filters="sRGB"><feGaussianBlur in="SourceAlpha" stdDeviation="1.6" result="h"/><feDiffuseLighting in="h" surfaceScale="9" diffuseConstant="0.98" lighting-color="#f4aa30" result="L0"><feDistantLight azimuth="235" elevation="48"/></feDiffuseLighting><feFlood flood-color="#f4aa30" result="fl"/><feComposite in="L0" in2="fl" operator="arithmetic" k2="1.0" k3="0.22" result="L"/><feComponentTransfer in="SourceAlpha" result="m"><feFuncA type="linear" slope="6" intercept="-1.2"/></feComponentTransfer><feComposite in="L" in2="m" operator="in"/></filter><filter id="mRed" x="-5%" y="-5%" width="110%" height="110%" color-interpolation-filters="sRGB"><feGaussianBlur in="SourceAlpha" stdDeviation="1.6" result="h"/><feDiffuseLighting in="h" surfaceScale="9" diffuseConstant="0.98" lighting-color="#e81818" result="L0"><feDistantLight azimuth="235" elevation="48"/></feDiffuseLighting><feFlood flood-color="#e81818" result="fl"/><feComposite in="L0" in2="fl" operator="arithmetic" k2="1.0" k3="0.22" result="L"/><feComponentTransfer in="SourceAlpha" result="m"><feFuncA type="linear" slope="6" intercept="-1.2"/></feComponentTransfer><feComposite in="L" in2="m" operator="in"/></filter><filter id="mBlue" x="-5%" y="-5%" width="110%" height="110%" color-interpolation-filters="sRGB"><feGaussianBlur in="SourceAlpha" stdDeviation="1.6" result="h"/><feDiffuseLighting in="h" surfaceScale="9" diffuseConstant="0.98" lighting-color="#1414f0" result="L0"><feDistantLight azimuth="235" elevation="48"/></feDiffuseLighting><feFlood flood-color="#1414f0" result="fl"/><feComposite in="L0" in2="fl" operator="arithmetic" k2="1.0" k3="0.22" result="L"/><feComponentTransfer in="SourceAlpha" result="m"><feFuncA type="linear" slope="6" intercept="-1.2"/></feComponentTransfer><feComposite in="L" in2="m" operator="in"/></filter><filter id="mGrn" x="-5%" y="-5%" width="110%" height="110%" color-interpolation-filters="sRGB"><feGaussianBlur in="SourceAlpha" stdDeviation="1.6" result="h"/><feDiffuseLighting in="h" surfaceScale="9" diffuseConstant="0.98" lighting-color="#18e818" result="L0"><feDistantLight azimuth="235" elevation="48"/></feDiffuseLighting><feFlood flood-color="#18e818" result="fl"/><feComposite in="L0" in2="fl" operator="arithmetic" k2="1.0" k3="0.22" result="L"/><feComponentTransfer in="SourceAlpha" result="m"><feFuncA type="linear" slope="6" intercept="-1.2"/></feComponentTransfer><feComposite in="L" in2="m" operator="in"/></filter></defs><g filter="url(#mCyan)"><g fill="url(#ag)"><circle cx="973.2" cy="205.5" r="8.3"/><circle cx="969.1" cy="207.2" r="9.6"/><circle cx="988.6" cy="204.4" r="8.2"/><circle cx="998.1" cy="203.9" r="10.0"/><circle cx="972.4" cy="212.2" r="10.0"/><circle cx="980.5" cy="211.4" r="9.3"/><circle cx="987.0" cy="211.0" r="5.3"/><circle cx="981.7" cy="213.9" r="5.4"/><circle cx="1000.5" cy="208.8" r="8.5"/><circle cx="974.8" cy="218.0" r="7.7"/><circle cx="998.9" cy="211.1" r="10.9"/><circle cx="1011.0" cy="207.9" r="10.3"/><circle cx="969.3" cy="221.6" r="10.3"/><circle cx="989.1" cy="218.4" r="7.3"/><circle cx="1007.6" cy="214.0" r="10.1"/><circle cx="997.9" cy="217.2" r="10.2"/><circle cx="1004.3" cy="215.8" r="5.4"/><circle cx="976.3" cy="225.5" r="8.5"/><circle cx="987.7" cy="223.5" r="9.3"/><circle cx="981.8" cy="226.1" r="10.8"/><circle cx="980.2" cy="228.0" r="5.7"/><circle cx="997.5" cy="223.4" r="7.4"/><circle cx="1006.3" cy="222.5" r="5.9"/><circle cx="1019.7" cy="218.5" r="5.2"/><circle cx="990.4" cy="228.2" r="6.0"/><circle cx="1011.5" cy="222.5" r="10.3"/><circle cx="996.8" cy="228.8" r="6.6"/><circle cx="1016.2" cy="226.6" r="7.0"/><circle cx="959.0" cy="224.2" r="5.1"/><circle cx="960.6" cy="227.5" r="8.4"/><circle cx="972.1" cy="226.7" r="8.0"/><circle cx="980.1" cy="224.5" r="8.1"/><circle cx="964.6" cy="230.1" r="7.0"/><circle cx="957.1" cy="233.0" r="5.6"/><circle cx="986.2" cy="226.0" r="10.1"/><circle cx="996.5" cy="223.9" r="5.0"/><circle cx="991.7" cy="226.6" r="4.8"/><circle cx="982.5" cy="229.3" r="6.6"/><circle cx="960.3" cy="236.8" r="8.6"/><circle cx="973.3" cy="233.1" r="8.1"/><circle cx="959.3" cy="239.3" r="5.1"/><circle cx="989.7" cy="230.4" r="10.6"/><circle cx="978.3" cy="234.4" r="9.5"/><circle cx="1010.8" cy="226.1" r="6.9"/><circle cx="972.0" cy="238.8" r="4.9"/><circle cx="1000.5" cy="231.1" r="8.8"/><circle cx="1010.7" cy="230.7" r="8.1"/><circle cx="970.4" cy="243.1" r="6.6"/><circle cx="976.4" cy="242.4" r="7.9"/><circle cx="964.8" cy="246.5" r="9.6"/><circle cx="1004.5" cy="234.9" r="7.5"/><circle cx="987.1" cy="241.5" r="4.6"/><circle cx="1017.7" cy="232.8" r="10.3"/><circle cx="992.6" cy="240.4" r="8.0"/><circle cx="996.7" cy="240.2" r="5.2"/><circle cx="1004.8" cy="239.0" r="10.7"/><circle cx="986.3" cy="245.1" r="4.9"/><circle cx="974.1" cy="249.0" r="10.2"/><circle cx="1014.5" cy="237.8" r="7.8"/><circle cx="998.1" cy="243.5" r="9.4"/><circle cx="1006.8" cy="243.9" r="7.6"/><circle cx="984.7" cy="251.6" r="5.9"/><circle cx="1017.1" cy="241.9" r="10.2"/><circle cx="993.5" cy="249.1" r="5.1"/><circle cx="1012.5" cy="244.8" r="10.2"/><circle cx="1018.7" cy="244.4" r="8.0"/><circle cx="988.5" cy="254.1" r="6.0"/><circle cx="1003.5" cy="254.3" r="5.9"/><circle cx="1000.7" cy="255.5" r="5.0"/><circle cx="1095.0" cy="95.3" r="7.3"/><circle cx="1071.2" cy="102.9" r="8.3"/><circle cx="1064.3" cy="105.1" r="8.8"/><circle cx="1099.6" cy="95.9" r="9.8"/><circle cx="1083.4" cy="101.8" r="5.1"/><circle cx="1093.6" cy="100.9" r="9.1"/><circle cx="1088.4" cy="102.5" r="10.3"/><circle cx="1053.2" cy="113.2" r="8.3"/><circle cx="1071.5" cy="109.6" r="5.2"/><circle cx="1080.9" cy="107.3" r="4.7"/><circle cx="1064.7" cy="112.6" r="9.9"/><circle cx="1062.3" cy="113.6" r="6.8"/><circle cx="1099.6" cy="102.9" r="9.6"/><circle cx="1105.8" cy="101.2" r="6.9"/><circle cx="1113.7" cy="101.3" r="10.8"/><circle cx="1084.5" cy="110.2" r="10.8"/><circle cx="1092.3" cy="109.1" r="10.9"/><circle cx="1083.6" cy="112.9" r="5.7"/><circle cx="1058.9" cy="120.6" r="6.2"/><circle cx="1085.9" cy="113.9" r="10.9"/><circle cx="1075.0" cy="117.6" r="8.9"/><circle cx="1071.8" cy="118.8" r="6.2"/><circle cx="1110.0" cy="107.7" r="10.6"/><circle cx="1104.2" cy="110.1" r="6.7"/><circle cx="1064.4" cy="122.1" r="9.0"/><circle cx="1092.9" cy="114.4" r="4.9"/><circle cx="1060.3" cy="125.7" r="5.2"/><circle cx="1098.7" cy="115.0" r="8.5"/><circle cx="1081.9" cy="120.2" r="8.7"/><circle cx="1117.0" cy="109.8" r="10.1"/><circle cx="1122.0" cy="109.0" r="5.1"/><circle cx="1085.0" cy="123.0" r="5.4"/><circle cx="1076.2" cy="127.0" r="10.9"/><circle cx="1108.7" cy="117.3" r="10.1"/><circle cx="1069.1" cy="129.9" r="10.4"/><circle cx="1118.5" cy="115.2" r="6.2"/><circle cx="1092.9" cy="123.1" r="7.6"/><circle cx="1102.6" cy="120.3" r="8.8"/><circle cx="1120.3" cy="116.3" r="5.5"/><circle cx="1107.4" cy="121.6" r="7.4"/><circle cx="1126.6" cy="115.9" r="5.3"/><circle cx="1086.1" cy="128.6" r="7.5"/><circle cx="1081.4" cy="130.1" r="7.9"/><circle cx="1093.4" cy="127.7" r="7.4"/><circle cx="1062.1" cy="137.5" r="5.9"/><circle cx="1100.2" cy="126.4" r="9.7"/><circle cx="1064.7" cy="138.4" r="8.3"/><circle cx="1118.3" cy="123.3" r="8.1"/><circle cx="1124.9" cy="122.4" r="9.2"/><circle cx="1107.8" cy="127.8" r="9.6"/><circle cx="1075.0" cy="138.2" r="6.2"/><circle cx="1060.8" cy="142.9" r="7.6"/><circle cx="1072.6" cy="139.8" r="10.3"/><circle cx="1094.8" cy="133.4" r="9.9"/><circle cx="1080.7" cy="138.3" r="5.7"/><circle cx="1069.5" cy="141.8" r="5.0"/><circle cx="1116.9" cy="128.3" r="6.5"/><circle cx="1086.1" cy="138.1" r="10.0"/><circle cx="1124.5" cy="127.0" r="7.5"/><circle cx="1082.8" cy="140.7" r="8.6"/><circle cx="1100.5" cy="137.3" r="6.2"/><circle cx="1061.6" cy="149.1" r="8.6"/><circle cx="1106.5" cy="136.9" r="7.1"/><circle cx="1114.9" cy="135.3" r="7.5"/><circle cx="1074.2" cy="147.8" r="7.3"/><circle cx="1128.9" cy="131.8" r="6.1"/><circle cx="1085.8" cy="144.9" r="7.2"/><circle cx="1091.9" cy="143.5" r="5.0"/><circle cx="1068.9" cy="150.7" r="7.5"/><circle cx="1122.5" cy="136.6" r="5.2"/><circle cx="1089.7" cy="147.5" r="4.7"/><circle cx="1082.8" cy="149.6" r="4.6"/><circle cx="1130.8" cy="135.6" r="9.8"/><circle cx="1113.2" cy="141.4" r="5.0"/><circle cx="1107.1" cy="144.4" r="4.8"/><circle cx="1104.2" cy="145.4" r="8.5"/><circle cx="1067.7" cy="157.0" r="10.5"/><circle cx="1101.3" cy="149.4" r="5.3"/><circle cx="1087.2" cy="153.7" r="9.2"/><circle cx="1095.2" cy="151.4" r="5.2"/><circle cx="1130.7" cy="140.9" r="6.3"/><circle cx="1083.1" cy="155.5" r="6.3"/><circle cx="1109.5" cy="148.1" r="9.0"/><circle cx="1125.0" cy="143.7" r="9.8"/><circle cx="1075.6" cy="159.8" r="6.8"/><circle cx="1124.3" cy="146.6" r="6.5"/><circle cx="1115.7" cy="149.8" r="6.0"/><circle cx="1092.1" cy="157.4" r="4.9"/><circle cx="1127.2" cy="147.1" r="4.6"/><circle cx="1101.2" cy="155.1" r="10.6"/><circle cx="1071.6" cy="164.7" r="9.2"/><circle cx="1107.4" cy="155.8" r="6.5"/><circle cx="1079.2" cy="164.5" r="5.2"/><circle cx="1086.5" cy="162.3" r="9.7"/><circle cx="1113.3" cy="157.6" r="6.5"/><circle cx="1121.2" cy="155.5" r="6.8"/><circle cx="1095.4" cy="163.7" r="7.3"/><circle cx="1083.0" cy="167.9" r="9.1"/><circle cx="1102.0" cy="163.6" r="6.2"/><circle cx="1131.5" cy="154.9" r="5.3"/><circle cx="1135.6" cy="157.1" r="6.3"/><circle cx="1072.3" cy="176.2" r="7.1"/><circle cx="1096.2" cy="169.1" r="8.8"/><circle cx="1110.8" cy="165.5" r="7.0"/><circle cx="1124.4" cy="161.6" r="5.7"/><circle cx="1085.3" cy="173.8" r="7.4"/><circle cx="1115.1" cy="166.4" r="4.6"/><circle cx="1081.5" cy="177.4" r="9.0"/><circle cx="1098.7" cy="172.6" r="6.2"/><circle cx="1106.6" cy="170.3" r="7.8"/><circle cx="1112.8" cy="168.6" r="7.0"/><circle cx="1128.7" cy="164.5" r="6.6"/><circle cx="1136.8" cy="163.8" r="10.5"/><circle cx="1090.8" cy="178.2" r="9.7"/><circle cx="1079.6" cy="183.9" r="4.7"/><circle cx="1123.0" cy="171.9" r="5.4"/><circle cx="1131.7" cy="169.8" r="10.9"/><circle cx="1097.5" cy="180.6" r="6.8"/><circle cx="1103.8" cy="178.9" r="4.6"/><circle cx="1090.8" cy="182.9" r="4.6"/><circle cx="1095.2" cy="181.8" r="8.2"/><circle cx="1135.9" cy="170.3" r="6.8"/><circle cx="1104.3" cy="181.9" r="7.6"/><circle cx="1110.7" cy="180.2" r="10.3"/><circle cx="1114.6" cy="179.1" r="9.9"/><circle cx="1122.3" cy="178.5" r="7.0"/><circle cx="1110.8" cy="183.0" r="5.4"/><circle cx="1083.5" cy="191.3" r="6.5"/><circle cx="1132.3" cy="177.8" r="6.1"/><circle cx="1095.1" cy="189.1" r="10.0"/><circle cx="1089.6" cy="190.7" r="7.2"/><circle cx="1136.2" cy="178.2" r="6.9"/><circle cx="1102.4" cy="188.8" r="5.1"/><circle cx="1112.9" cy="185.9" r="9.5"/><circle cx="1122.2" cy="183.7" r="10.9"/><circle cx="1087.3" cy="196.4" r="10.3"/><circle cx="1107.4" cy="191.2" r="9.7"/><circle cx="1081.7" cy="199.0" r="8.6"/><circle cx="1128.1" cy="186.6" r="9.8"/><circle cx="1122.8" cy="189.1" r="6.8"/><circle cx="1136.4" cy="186.5" r="6.6"/><circle cx="1131.2" cy="188.7" r="6.1"/><circle cx="1117.6" cy="193.2" r="9.2"/><circle cx="1093.0" cy="201.0" r="7.0"/><circle cx="1102.0" cy="199.4" r="6.8"/><circle cx="1133.6" cy="190.6" r="6.6"/><circle cx="1093.1" cy="204.2" r="5.1"/><circle cx="1088.4" cy="205.8" r="5.1"/><circle cx="1080.4" cy="208.6" r="5.5"/><circle cx="1121.8" cy="196.3" r="8.0"/><circle cx="1111.8" cy="200.9" r="7.0"/><circle cx="1078.8" cy="211.2" r="6.7"/><circle cx="1114.7" cy="201.1" r="10.6"/><circle cx="1129.4" cy="198.3" r="8.4"/><circle cx="1115.4" cy="202.7" r="5.0"/><circle cx="1099.1" cy="207.7" r="6.5"/><circle cx="1109.8" cy="205.6" r="7.9"/><circle cx="1086.3" cy="212.6" r="4.6"/><circle cx="1133.6" cy="199.1" r="8.9"/><circle cx="1084.8" cy="216.6" r="9.3"/><circle cx="1101.0" cy="211.9" r="9.1"/><circle cx="1120.3" cy="207.6" r="9.0"/><circle cx="1114.2" cy="210.3" r="8.4"/><circle cx="1096.6" cy="215.8" r="5.9"/><circle cx="1132.6" cy="206.9" r="6.0"/><circle cx="1108.1" cy="215.0" r="10.7"/><circle cx="1137.2" cy="206.7" r="6.3"/><circle cx="1119.9" cy="212.1" r="5.8"/><circle cx="1106.3" cy="216.9" r="6.5"/><circle cx="1096.1" cy="221.5" r="6.9"/><circle cx="1131.7" cy="212.1" r="9.9"/><circle cx="1102.8" cy="221.2" r="6.0"/><circle cx="1117.4" cy="218.0" r="9.9"/><circle cx="1096.0" cy="225.4" r="10.9"/><circle cx="1104.3" cy="225.4" r="5.4"/><circle cx="1106.9" cy="225.7" r="7.6"/><circle cx="1123.6" cy="222.5" r="6.3"/><circle cx="1119.6" cy="224.3" r="7.4"/><circle cx="1115.3" cy="227.3" r="9.2"/><circle cx="1028.0" cy="409.0" r="8.6"/><circle cx="1035.1" cy="408.6" r="7.0"/><circle cx="1017.1" cy="420.6" r="8.6"/><circle cx="1039.0" cy="414.1" r="5.7"/><circle cx="1025.7" cy="418.7" r="6.0"/><circle cx="1043.3" cy="416.3" r="6.0"/><circle cx="1031.9" cy="420.3" r="8.9"/><circle cx="1022.4" cy="425.1" r="4.8"/><circle cx="1038.2" cy="420.5" r="10.0"/><circle cx="1017.1" cy="427.6" r="8.4"/><circle cx="1032.9" cy="423.1" r="5.7"/><circle cx="1021.1" cy="431.0" r="4.9"/><circle cx="1013.3" cy="434.6" r="6.3"/><circle cx="1040.0" cy="427.6" r="8.5"/><circle cx="1013.7" cy="436.9" r="10.4"/><circle cx="1032.4" cy="432.4" r="6.3"/><circle cx="1025.2" cy="434.8" r="8.4"/><circle cx="1037.9" cy="431.9" r="8.1"/><circle cx="1019.9" cy="438.1" r="8.0"/><circle cx="1027.2" cy="437.9" r="9.1"/><circle cx="1032.5" cy="436.8" r="6.3"/><circle cx="1038.6" cy="437.2" r="10.6"/><circle cx="1027.1" cy="445.8" r="10.8"/><circle cx="1033.7" cy="447.7" r="7.4"/><circle cx="1043.0" cy="445.3" r="8.0"/><circle cx="1037.4" cy="447.7" r="9.3"/><circle cx="1033.3" cy="452.4" r="8.4"/><circle cx="1027.8" cy="454.3" r="8.9"/><circle cx="1050.1" cy="450.8" r="8.2"/><circle cx="1038.0" cy="454.5" r="9.8"/><circle cx="1043.1" cy="455.4" r="5.3"/><circle cx="1030.7" cy="459.9" r="9.7"/><circle cx="1040.2" cy="458.4" r="5.7"/><circle cx="1045.8" cy="463.0" r="7.6"/><circle cx="1037.4" cy="467.0" r="4.7"/><circle cx="1044.7" cy="470.3" r="7.3"/><circle cx="1050.0" cy="469.4" r="6.5"/><circle cx="1058.1" cy="468.4" r="8.8"/><circle cx="1038.1" cy="475.5" r="10.6"/><circle cx="1055.9" cy="471.8" r="7.0"/><circle cx="1044.1" cy="476.4" r="7.6"/><circle cx="1058.0" cy="473.0" r="10.3"/><circle cx="1038.1" cy="479.8" r="10.2"/><circle cx="1046.4" cy="478.5" r="4.6"/><circle cx="1050.1" cy="482.9" r="8.7"/><circle cx="1057.7" cy="483.4" r="9.5"/><circle cx="1048.8" cy="486.7" r="6.2"/><circle cx="1051.7" cy="486.8" r="9.8"/><circle cx="1068.0" cy="482.0" r="7.3"/><circle cx="1060.4" cy="485.9" r="7.8"/><circle cx="1068.4" cy="485.5" r="5.8"/><circle cx="1060.7" cy="493.3" r="4.8"/><circle cx="995.8" cy="367.0" r="4.7"/><circle cx="980.3" cy="371.9" r="9.1"/><circle cx="974.2" cy="374.7" r="9.2"/><circle cx="992.7" cy="370.4" r="6.1"/><circle cx="977.6" cy="380.5" r="10.1"/><circle cx="990.6" cy="376.7" r="10.4"/><circle cx="1001.4" cy="374.1" r="6.6"/><circle cx="998.7" cy="375.4" r="5.1"/><circle cx="984.5" cy="381.4" r="8.7"/><circle cx="978.1" cy="384.2" r="7.5"/><circle cx="999.6" cy="378.5" r="8.6"/><circle cx="1001.0" cy="379.5" r="8.6"/><circle cx="980.4" cy="385.8" r="10.2"/><circle cx="990.7" cy="383.5" r="10.1"/><circle cx="1002.8" cy="384.5" r="8.5"/><circle cx="998.0" cy="386.6" r="6.4"/><circle cx="973.5" cy="394.3" r="8.2"/><circle cx="982.1" cy="392.1" r="7.4"/><circle cx="1001.8" cy="390.5" r="10.8"/><circle cx="980.3" cy="398.2" r="7.0"/><circle cx="988.9" cy="396.5" r="8.7"/><circle cx="997.1" cy="394.5" r="7.7"/><circle cx="990.7" cy="397.9" r="9.0"/><circle cx="976.7" cy="402.3" r="10.3"/><circle cx="998.6" cy="400.1" r="10.0"/><circle cx="1003.3" cy="402.6" r="7.0"/><circle cx="995.3" cy="406.6" r="10.3"/></g></g><g filter="url(#mCyanD)"><g fill="url(#ag)"><circle cx="961.2" cy="225.9" r="4.9"/><circle cx="967.8" cy="224.2" r="7.8"/><circle cx="965.2" cy="228.9" r="6.0"/><circle cx="958.0" cy="232.2" r="6.2"/><circle cx="980.5" cy="225.7" r="7.4"/><circle cx="954.8" cy="234.9" r="5.1"/><circle cx="976.4" cy="229.2" r="4.4"/><circle cx="980.7" cy="227.9" r="5.3"/><circle cx="986.4" cy="226.3" r="6.1"/><circle cx="958.2" cy="238.0" r="5.5"/><circle cx="991.0" cy="228.7" r="5.2"/><circle cx="998.6" cy="226.4" r="4.4"/><circle cx="997.4" cy="228.8" r="4.5"/><circle cx="969.2" cy="238.1" r="6.3"/><circle cx="972.6" cy="237.9" r="4.3"/><circle cx="955.4" cy="243.8" r="4.3"/><circle cx="1001.1" cy="231.3" r="6.8"/><circle cx="960.0" cy="245.6" r="4.5"/><circle cx="979.1" cy="239.9" r="4.7"/><circle cx="985.5" cy="239.0" r="4.7"/><circle cx="956.3" cy="248.9" r="5.0"/><circle cx="994.4" cy="238.1" r="7.8"/><circle cx="966.9" cy="246.4" r="7.3"/><circle cx="976.1" cy="244.5" r="6.8"/><circle cx="986.3" cy="241.8" r="4.2"/><circle cx="979.5" cy="243.9" r="5.2"/><circle cx="960.0" cy="250.4" r="6.2"/><circle cx="999.7" cy="238.6" r="4.1"/><circle cx="980.2" cy="248.9" r="8.0"/><circle cx="998.7" cy="243.9" r="5.3"/><circle cx="966.0" cy="254.2" r="5.3"/><circle cx="1003.6" cy="246.1" r="7.6"/><circle cx="977.1" cy="254.3" r="6.6"/><circle cx="991.3" cy="251.6" r="4.2"/><circle cx="997.3" cy="250.4" r="5.7"/><circle cx="1005.7" cy="254.3" r="7.4"/><circle cx="1137.4" cy="176.5" r="4.1"/><circle cx="1143.3" cy="183.9" r="6.2"/><circle cx="1138.6" cy="191.1" r="5.4"/><circle cx="1135.9" cy="193.5" r="6.3"/><circle cx="1136.2" cy="195.1" r="5.5"/><circle cx="1141.5" cy="198.6" r="6.2"/><circle cx="1135.0" cy="203.3" r="7.4"/><circle cx="1142.9" cy="202.1" r="5.3"/><circle cx="1140.6" cy="210.4" r="6.6"/></g></g><g filter="url(#mGray)"><g fill="url(#ag)"><circle cx="1029.7" cy="56.0" r="9.9"/><circle cx="1023.0" cy="59.8" r="6.1"/><circle cx="992.9" cy="69.4" r="9.9"/><circle cx="1017.1" cy="63.9" r="11.0"/><circle cx="1034.9" cy="58.6" r="6.5"/><circle cx="999.0" cy="70.7" r="5.1"/><circle cx="1026.4" cy="64.7" r="7.3"/><circle cx="1007.6" cy="70.4" r="7.5"/><circle cx="987.0" cy="77.0" r="5.6"/><circle cx="1016.5" cy="68.5" r="8.8"/><circle cx="983.4" cy="79.9" r="10.0"/><circle cx="1024.2" cy="68.5" r="5.7"/><circle cx="1026.3" cy="68.4" r="5.9"/><circle cx="998.7" cy="77.3" r="10.1"/><circle cx="1035.1" cy="66.8" r="5.7"/><circle cx="996.4" cy="78.6" r="8.9"/><circle cx="1007.8" cy="78.1" r="6.7"/><circle cx="988.7" cy="84.6" r="5.7"/><circle cx="977.3" cy="88.3" r="7.2"/><circle cx="1046.4" cy="67.6" r="10.4"/><circle cx="1012.6" cy="77.8" r="6.2"/><circle cx="971.0" cy="91.6" r="6.0"/><circle cx="1047.4" cy="68.9" r="10.3"/><circle cx="996.4" cy="85.2" r="10.1"/><circle cx="1002.5" cy="83.6" r="9.6"/><circle cx="1024.8" cy="77.0" r="7.2"/><circle cx="1029.9" cy="75.9" r="6.7"/><circle cx="1012.6" cy="83.0" r="4.5"/><circle cx="989.3" cy="90.3" r="9.1"/><circle cx="996.7" cy="88.9" r="5.0"/><circle cx="1010.7" cy="84.8" r="5.0"/><circle cx="1038.2" cy="77.8" r="5.9"/><circle cx="983.4" cy="94.3" r="7.4"/><circle cx="1029.4" cy="81.0" r="6.5"/><circle cx="1044.1" cy="77.4" r="7.8"/><circle cx="999.2" cy="91.3" r="5.2"/><circle cx="1023.7" cy="84.7" r="7.2"/><circle cx="1035.8" cy="81.3" r="9.5"/><circle cx="976.1" cy="99.5" r="8.0"/><circle cx="1022.2" cy="86.9" r="9.6"/><circle cx="1052.2" cy="78.5" r="9.4"/><circle cx="984.3" cy="99.1" r="5.3"/><circle cx="1008.9" cy="91.7" r="5.2"/><circle cx="969.5" cy="104.2" r="8.3"/><circle cx="1055.3" cy="78.5" r="10.3"/><circle cx="1042.2" cy="82.5" r="7.3"/><circle cx="978.0" cy="102.4" r="8.9"/><circle cx="1013.6" cy="92.6" r="9.4"/><circle cx="1002.1" cy="96.3" r="7.9"/><circle cx="976.3" cy="104.6" r="8.9"/><circle cx="996.8" cy="98.9" r="9.7"/><circle cx="1051.0" cy="82.9" r="4.6"/><circle cx="953.4" cy="112.6" r="6.6"/><circle cx="989.7" cy="102.1" r="6.5"/><circle cx="957.7" cy="112.5" r="6.4"/><circle cx="1059.9" cy="82.9" r="8.4"/><circle cx="1029.4" cy="92.3" r="7.9"/><circle cx="953.7" cy="115.1" r="9.4"/><circle cx="1006.5" cy="99.8" r="5.5"/><circle cx="993.4" cy="103.9" r="9.2"/><circle cx="1033.8" cy="92.3" r="10.2"/><circle cx="964.6" cy="113.0" r="5.5"/><circle cx="1042.8" cy="90.4" r="10.8"/><circle cx="1017.9" cy="98.1" r="10.9"/><circle cx="1025.1" cy="96.2" r="10.1"/><circle cx="975.2" cy="112.1" r="5.0"/><circle cx="1003.6" cy="103.8" r="7.1"/><circle cx="977.5" cy="111.7" r="6.1"/><circle cx="1048.1" cy="91.2" r="5.5"/><circle cx="985.0" cy="111.3" r="7.5"/><circle cx="947.4" cy="122.7" r="8.2"/><circle cx="991.8" cy="109.4" r="10.8"/><circle cx="1007.6" cy="105.0" r="9.0"/><circle cx="1018.3" cy="102.2" r="10.6"/><circle cx="1032.0" cy="98.2" r="4.8"/><circle cx="975.8" cy="115.3" r="7.2"/><circle cx="961.2" cy="119.8" r="5.7"/><circle cx="950.9" cy="123.1" r="5.0"/><circle cx="964.6" cy="119.0" r="10.2"/><circle cx="1041.5" cy="96.6" r="5.8"/><circle cx="1036.8" cy="99.1" r="9.2"/><circle cx="1059.1" cy="92.5" r="4.5"/><circle cx="1047.3" cy="96.2" r="5.4"/><circle cx="1064.0" cy="91.2" r="8.7"/><circle cx="980.6" cy="116.4" r="7.6"/><circle cx="999.7" cy="112.0" r="8.6"/><circle cx="956.6" cy="126.5" r="4.8"/><circle cx="986.0" cy="118.1" r="10.8"/><circle cx="1059.2" cy="96.3" r="9.4"/><circle cx="1032.1" cy="104.5" r="9.5"/><circle cx="1024.4" cy="106.8" r="9.3"/><circle cx="1007.9" cy="112.3" r="8.3"/><circle cx="1074.3" cy="92.8" r="5.3"/><circle cx="1035.7" cy="104.7" r="6.9"/><circle cx="1000.4" cy="115.4" r="9.9"/><circle cx="950.7" cy="131.8" r="6.9"/><circle cx="1063.5" cy="98.0" r="9.3"/><circle cx="972.3" cy="125.6" r="6.8"/><circle cx="1014.6" cy="113.4" r="7.5"/><circle cx="967.0" cy="127.7" r="5.8"/><circle cx="1006.3" cy="116.0" r="8.2"/><circle cx="995.5" cy="119.4" r="5.6"/><circle cx="1045.3" cy="104.7" r="9.3"/><circle cx="1050.1" cy="103.5" r="6.9"/><circle cx="962.3" cy="129.9" r="8.8"/><circle cx="1024.4" cy="113.8" r="6.1"/><circle cx="982.3" cy="126.4" r="10.5"/><circle cx="949.8" cy="136.3" r="5.1"/><circle cx="997.1" cy="122.1" r="7.6"/><circle cx="989.8" cy="124.4" r="7.0"/><circle cx="1064.7" cy="102.0" r="6.8"/><circle cx="1072.4" cy="99.7" r="10.7"/><circle cx="964.9" cy="132.2" r="5.9"/><circle cx="946.7" cy="137.9" r="5.6"/><circle cx="1032.4" cy="112.5" r="9.9"/><circle cx="1038.4" cy="110.7" r="9.7"/><circle cx="1049.0" cy="107.8" r="7.6"/><circle cx="1016.3" cy="118.8" r="7.7"/><circle cx="959.0" cy="136.3" r="7.1"/><circle cx="1046.5" cy="110.1" r="7.4"/><circle cx="1059.6" cy="106.4" r="10.8"/><circle cx="1000.1" cy="124.3" r="6.5"/><circle cx="1070.2" cy="103.8" r="7.0"/><circle cx="977.5" cy="132.9" r="10.2"/><circle cx="1020.0" cy="120.1" r="10.2"/><circle cx="973.3" cy="134.3" r="8.6"/><circle cx="1036.3" cy="115.5" r="7.7"/><circle cx="987.4" cy="130.5" r="10.9"/><circle cx="1059.1" cy="110.1" r="7.7"/><circle cx="1008.4" cy="125.8" r="8.8"/><circle cx="1029.7" cy="119.8" r="8.4"/><circle cx="968.1" cy="138.5" r="10.0"/><circle cx="1015.4" cy="124.5" r="6.5"/><circle cx="1042.9" cy="116.2" r="8.3"/><circle cx="978.5" cy="135.9" r="5.9"/><circle cx="974.2" cy="138.1" r="7.3"/><circle cx="1024.2" cy="123.6" r="9.8"/><circle cx="1003.2" cy="129.9" r="9.7"/><circle cx="952.7" cy="145.9" r="8.1"/><circle cx="993.8" cy="134.1" r="11.0"/><circle cx="961.2" cy="144.0" r="7.0"/><circle cx="989.2" cy="135.6" r="5.1"/><circle cx="1026.5" cy="124.7" r="9.5"/><circle cx="965.9" cy="143.3" r="7.1"/><circle cx="1005.5" cy="131.5" r="6.1"/><circle cx="1047.4" cy="119.9" r="9.5"/><circle cx="1038.8" cy="124.9" r="7.8"/><circle cx="1042.1" cy="124.2" r="5.5"/><circle cx="1015.7" cy="132.2" r="8.3"/><circle cx="1047.9" cy="122.9" r="10.5"/><circle cx="984.7" cy="142.8" r="8.7"/><circle cx="1030.7" cy="129.0" r="7.5"/><circle cx="980.8" cy="144.2" r="9.0"/><circle cx="999.1" cy="138.9" r="6.9"/><circle cx="1023.3" cy="132.0" r="10.0"/><circle cx="954.0" cy="153.0" r="8.3"/><circle cx="973.7" cy="147.4" r="8.4"/><circle cx="995.1" cy="141.5" r="4.8"/><circle cx="966.5" cy="150.4" r="6.9"/><circle cx="1006.7" cy="139.2" r="8.6"/><circle cx="957.1" cy="155.2" r="4.8"/><circle cx="1040.7" cy="130.5" r="5.0"/><circle cx="954.7" cy="156.9" r="5.2"/><circle cx="1020.6" cy="137.8" r="7.1"/><circle cx="995.6" cy="146.0" r="10.5"/><circle cx="1004.0" cy="143.8" r="9.6"/><circle cx="1012.4" cy="141.4" r="5.0"/><circle cx="1038.1" cy="133.7" r="4.8"/><circle cx="971.6" cy="154.8" r="4.6"/><circle cx="1052.4" cy="130.6" r="7.6"/><circle cx="988.2" cy="150.7" r="9.3"/><circle cx="1008.2" cy="144.8" r="9.4"/><circle cx="1016.5" cy="142.8" r="10.8"/><circle cx="958.3" cy="161.2" r="6.1"/><circle cx="951.0" cy="163.8" r="7.1"/><circle cx="982.5" cy="154.8" r="5.2"/><circle cx="971.9" cy="158.2" r="10.2"/><circle cx="978.8" cy="156.6" r="10.1"/><circle cx="968.2" cy="160.0" r="8.0"/><circle cx="1031.7" cy="141.2" r="7.4"/><circle cx="984.7" cy="156.6" r="6.9"/><circle cx="996.9" cy="153.2" r="6.4"/><circle cx="1024.8" cy="145.1" r="5.1"/><circle cx="1002.0" cy="152.0" r="10.7"/><circle cx="1038.0" cy="141.2" r="10.4"/><circle cx="961.3" cy="164.4" r="9.3"/><circle cx="1032.3" cy="143.5" r="8.2"/><circle cx="1043.7" cy="140.5" r="5.7"/><circle cx="963.9" cy="165.8" r="8.3"/><circle cx="1012.2" cy="151.4" r="8.0"/><circle cx="1047.5" cy="141.1" r="7.3"/><circle cx="1035.7" cy="144.7" r="8.2"/><circle cx="991.7" cy="158.4" r="8.1"/><circle cx="1007.2" cy="155.2" r="7.6"/><circle cx="974.6" cy="165.7" r="7.7"/><circle cx="961.4" cy="170.7" r="5.0"/><circle cx="980.3" cy="165.3" r="10.6"/><circle cx="955.4" cy="173.6" r="7.6"/><circle cx="1045.3" cy="146.9" r="5.5"/><circle cx="1048.3" cy="146.5" r="8.4"/><circle cx="1021.4" cy="155.1" r="11.0"/><circle cx="1002.5" cy="160.9" r="6.7"/><circle cx="1030.1" cy="153.4" r="6.9"/><circle cx="974.0" cy="171.7" r="9.3"/><circle cx="1024.8" cy="156.7" r="9.1"/><circle cx="978.5" cy="170.7" r="5.5"/><circle cx="1009.8" cy="161.6" r="6.9"/><circle cx="965.4" cy="175.1" r="6.3"/><circle cx="997.4" cy="165.9" r="9.6"/><circle cx="1043.4" cy="152.3" r="10.1"/><circle cx="1015.0" cy="160.8" r="6.8"/><circle cx="1058.7" cy="148.3" r="8.5"/><circle cx="1004.0" cy="164.8" r="9.3"/><circle cx="1048.4" cy="151.6" r="5.8"/><circle cx="1035.5" cy="155.7" r="8.4"/><circle cx="989.6" cy="169.5" r="5.0"/><circle cx="1032.2" cy="157.5" r="9.1"/><circle cx="1006.2" cy="168.9" r="7.9"/><circle cx="967.0" cy="180.8" r="8.6"/><circle cx="1001.7" cy="170.9" r="10.1"/><circle cx="977.6" cy="178.3" r="5.5"/><circle cx="1045.7" cy="158.5" r="7.3"/><circle cx="1013.7" cy="168.1" r="8.2"/><circle cx="1036.0" cy="161.9" r="5.3"/><circle cx="1057.9" cy="155.3" r="6.0"/><circle cx="973.9" cy="180.7" r="7.3"/><circle cx="989.7" cy="176.0" r="10.3"/><circle cx="1027.9" cy="164.6" r="7.3"/><circle cx="1051.3" cy="158.7" r="9.9"/><circle cx="992.3" cy="176.5" r="6.2"/><circle cx="1034.7" cy="164.3" r="6.4"/><circle cx="1021.9" cy="168.4" r="6.0"/><circle cx="1057.4" cy="157.9" r="7.7"/><circle cx="985.8" cy="179.8" r="6.7"/><circle cx="967.7" cy="186.1" r="5.6"/><circle cx="972.4" cy="184.8" r="5.2"/><circle cx="1043.8" cy="164.4" r="10.8"/><circle cx="1013.6" cy="174.5" r="4.8"/><circle cx="1006.5" cy="176.7" r="8.3"/><circle cx="1064.1" cy="159.4" r="5.6"/><circle cx="997.0" cy="180.3" r="8.6"/><circle cx="1020.3" cy="173.6" r="8.2"/><circle cx="980.0" cy="185.8" r="10.5"/><circle cx="986.3" cy="185.5" r="8.3"/><circle cx="1007.4" cy="179.7" r="8.0"/><circle cx="998.2" cy="183.7" r="8.0"/><circle cx="1056.4" cy="166.6" r="8.2"/><circle cx="1052.2" cy="168.2" r="8.4"/><circle cx="1028.3" cy="176.1" r="7.5"/><circle cx="1014.4" cy="181.1" r="7.7"/><circle cx="1065.0" cy="166.6" r="8.4"/><circle cx="1037.6" cy="174.8" r="6.5"/><circle cx="1023.4" cy="179.4" r="8.0"/><circle cx="1003.3" cy="185.6" r="6.8"/><circle cx="980.1" cy="193.5" r="9.5"/><circle cx="1055.0" cy="171.2" r="5.4"/><circle cx="997.4" cy="189.1" r="5.2"/><circle cx="1028.4" cy="179.9" r="6.3"/><circle cx="1036.3" cy="178.2" r="7.2"/><circle cx="1044.5" cy="175.8" r="7.3"/><circle cx="975.2" cy="197.0" r="8.4"/><circle cx="1014.0" cy="186.1" r="10.9"/><circle cx="1009.8" cy="188.1" r="5.1"/><circle cx="1051.6" cy="176.5" r="10.9"/><circle cx="989.6" cy="195.9" r="5.5"/><circle cx="995.0" cy="194.5" r="9.5"/><circle cx="975.6" cy="201.1" r="4.8"/><circle cx="1066.8" cy="174.3" r="4.7"/><circle cx="1027.6" cy="186.5" r="4.7"/><circle cx="1020.2" cy="189.3" r="7.4"/><circle cx="1010.5" cy="193.1" r="9.9"/><circle cx="1054.2" cy="180.3" r="4.9"/><circle cx="1016.5" cy="192.1" r="10.1"/><circle cx="1046.5" cy="183.1" r="5.4"/><circle cx="993.1" cy="199.3" r="6.3"/><circle cx="1000.2" cy="197.6" r="9.1"/><circle cx="1038.8" cy="186.9" r="8.7"/><circle cx="983.2" cy="204.0" r="8.5"/><circle cx="1052.4" cy="183.4" r="8.4"/><circle cx="1040.9" cy="187.2" r="9.0"/><circle cx="987.8" cy="203.4" r="8.8"/><circle cx="1065.3" cy="181.5" r="10.3"/><circle cx="1051.4" cy="185.9" r="6.5"/><circle cx="1054.2" cy="185.6" r="6.3"/><circle cx="1025.5" cy="194.5" r="6.0"/><circle cx="1070.0" cy="181.2" r="9.9"/><circle cx="1031.1" cy="193.0" r="7.6"/><circle cx="1004.5" cy="201.4" r="10.7"/><circle cx="1063.9" cy="184.7" r="7.4"/><circle cx="1006.2" cy="202.0" r="6.0"/><circle cx="1033.4" cy="194.2" r="7.2"/><circle cx="1012.4" cy="202.7" r="7.1"/><circle cx="1025.2" cy="198.8" r="9.0"/><circle cx="1051.4" cy="192.3" r="10.9"/><circle cx="999.7" cy="208.0" r="8.1"/><circle cx="1032.4" cy="199.6" r="9.1"/><circle cx="1044.4" cy="196.0" r="7.6"/><circle cx="995.5" cy="211.2" r="9.2"/><circle cx="1072.3" cy="188.4" r="10.7"/><circle cx="1011.0" cy="206.9" r="7.4"/><circle cx="1033.5" cy="201.1" r="7.2"/><circle cx="1056.7" cy="194.9" r="10.6"/><circle cx="1014.9" cy="209.4" r="9.2"/><circle cx="1025.2" cy="208.2" r="9.1"/><circle cx="1072.0" cy="194.2" r="6.4"/><circle cx="1061.6" cy="197.7" r="8.2"/><circle cx="1010.7" cy="214.3" r="6.7"/><circle cx="1043.8" cy="204.6" r="6.7"/><circle cx="1051.7" cy="202.2" r="5.4"/><circle cx="1037.8" cy="207.1" r="9.0"/><circle cx="1029.0" cy="209.7" r="6.7"/><circle cx="1014.5" cy="214.5" r="6.7"/><circle cx="1055.7" cy="203.8" r="5.8"/><circle cx="1027.0" cy="212.8" r="7.5"/><circle cx="1066.6" cy="201.1" r="10.0"/><circle cx="1042.6" cy="208.4" r="10.0"/><circle cx="1056.4" cy="205.5" r="8.7"/><circle cx="1052.2" cy="208.9" r="5.1"/><circle cx="1023.8" cy="218.3" r="5.3"/><circle cx="1072.4" cy="204.1" r="8.2"/><circle cx="1045.8" cy="214.6" r="7.9"/><circle cx="1036.8" cy="217.7" r="6.6"/><circle cx="1052.9" cy="213.6" r="5.1"/><circle cx="1061.4" cy="211.4" r="6.3"/><circle cx="1036.3" cy="191.0" r="5.5"/><circle cx="1022.9" cy="196.0" r="6.9"/><circle cx="1033.9" cy="195.1" r="7.1"/><circle cx="1023.4" cy="202.0" r="7.3"/><circle cx="1042.0" cy="197.3" r="8.8"/><circle cx="1047.4" cy="199.1" r="5.8"/><circle cx="1032.9" cy="204.7" r="7.7"/><circle cx="1051.3" cy="200.9" r="10.6"/><circle cx="1029.5" cy="208.6" r="7.3"/><circle cx="1046.5" cy="203.8" r="5.5"/><circle cx="1038.4" cy="206.4" r="9.5"/><circle cx="1026.2" cy="210.1" r="6.6"/><circle cx="1040.5" cy="208.4" r="7.4"/><circle cx="1049.1" cy="208.0" r="7.1"/><circle cx="1027.5" cy="218.6" r="6.9"/><circle cx="1037.1" cy="216.0" r="8.4"/><circle cx="1055.4" cy="211.5" r="10.7"/><circle cx="1034.6" cy="218.2" r="9.2"/><circle cx="1060.8" cy="211.4" r="6.0"/><circle cx="1045.7" cy="216.0" r="10.5"/><circle cx="1029.2" cy="224.6" r="6.7"/><circle cx="1025.6" cy="226.0" r="6.9"/><circle cx="1056.1" cy="218.6" r="10.8"/><circle cx="1061.6" cy="217.2" r="5.3"/><circle cx="1057.2" cy="221.9" r="7.4"/><circle cx="1039.6" cy="227.5" r="10.7"/><circle cx="1048.8" cy="225.4" r="7.9"/><circle cx="1037.7" cy="229.1" r="5.9"/><circle cx="1053.4" cy="227.1" r="4.6"/><circle cx="1018.4" cy="214.6" r="10.9"/><circle cx="1002.5" cy="220.7" r="9.9"/><circle cx="1011.9" cy="218.0" r="10.5"/><circle cx="1008.4" cy="220.4" r="7.3"/><circle cx="1021.8" cy="217.0" r="10.4"/><circle cx="1026.1" cy="220.7" r="7.5"/><circle cx="1001.6" cy="228.7" r="8.6"/><circle cx="1009.5" cy="226.5" r="10.3"/><circle cx="1021.0" cy="226.6" r="5.1"/><circle cx="1015.6" cy="228.5" r="5.3"/><circle cx="1004.3" cy="232.7" r="6.1"/><circle cx="997.8" cy="234.9" r="5.1"/><circle cx="1026.8" cy="226.6" r="4.5"/><circle cx="1031.5" cy="227.1" r="7.2"/><circle cx="1010.6" cy="233.6" r="10.8"/><circle cx="1017.9" cy="231.9" r="10.5"/><circle cx="1000.5" cy="237.4" r="6.6"/><circle cx="1027.8" cy="233.3" r="7.2"/><circle cx="1005.6" cy="241.4" r="7.9"/><circle cx="1013.6" cy="239.3" r="7.3"/><circle cx="1036.6" cy="233.3" r="7.1"/><circle cx="1023.3" cy="238.1" r="5.1"/><circle cx="1025.4" cy="237.7" r="5.4"/><circle cx="1011.8" cy="244.5" r="8.4"/><circle cx="1006.6" cy="247.1" r="8.0"/><circle cx="1002.7" cy="248.8" r="4.7"/><circle cx="1033.4" cy="242.0" r="10.7"/><circle cx="1022.6" cy="246.5" r="7.0"/><circle cx="997.2" cy="254.9" r="4.7"/><circle cx="1024.7" cy="247.7" r="9.8"/><circle cx="1034.5" cy="245.2" r="5.2"/><circle cx="991.8" cy="258.4" r="6.3"/><circle cx="1005.3" cy="254.4" r="7.5"/><circle cx="1012.3" cy="255.5" r="6.1"/><circle cx="1030.5" cy="252.9" r="10.8"/><circle cx="1022.4" cy="256.6" r="8.2"/><circle cx="1002.3" cy="263.4" r="8.8"/><circle cx="1009.5" cy="261.4" r="9.4"/><circle cx="1031.7" cy="254.9" r="5.7"/><circle cx="996.7" cy="265.6" r="5.8"/><circle cx="1016.1" cy="261.7" r="7.7"/><circle cx="1004.0" cy="266.3" r="9.1"/><circle cx="1025.7" cy="259.8" r="9.6"/><circle cx="994.6" cy="271.4" r="5.9"/><circle cx="1018.4" cy="264.3" r="6.7"/><circle cx="1013.2" cy="267.0" r="7.7"/><circle cx="993.2" cy="275.0" r="5.3"/><circle cx="1018.8" cy="267.6" r="7.0"/><circle cx="999.5" cy="273.9" r="8.6"/><circle cx="1015.4" cy="273.1" r="10.9"/><circle cx="1007.8" cy="275.8" r="10.1"/><circle cx="1024.8" cy="271.3" r="10.3"/><circle cx="1021.6" cy="275.7" r="7.6"/><circle cx="1029.5" cy="274.2" r="8.8"/><circle cx="987.9" cy="252.0" r="6.0"/><circle cx="983.8" cy="256.2" r="9.6"/><circle cx="997.4" cy="252.7" r="7.1"/><circle cx="1007.0" cy="251.5" r="8.1"/><circle cx="1011.9" cy="250.5" r="6.8"/><circle cx="998.7" cy="256.6" r="9.9"/><circle cx="992.7" cy="258.7" r="5.8"/><circle cx="989.7" cy="261.6" r="9.5"/><circle cx="1018.6" cy="255.0" r="10.9"/><circle cx="1028.1" cy="252.2" r="4.7"/><circle cx="1003.9" cy="259.6" r="10.9"/><circle cx="1024.8" cy="254.0" r="7.3"/><circle cx="1013.1" cy="259.1" r="9.8"/><circle cx="1031.5" cy="255.1" r="10.7"/><circle cx="990.6" cy="269.2" r="10.9"/><circle cx="998.0" cy="267.0" r="9.9"/><circle cx="1012.0" cy="264.2" r="7.9"/><circle cx="1005.9" cy="267.1" r="10.6"/><circle cx="994.2" cy="270.8" r="8.0"/><circle cx="1027.2" cy="261.0" r="7.2"/><circle cx="1036.6" cy="259.5" r="8.1"/><circle cx="1020.0" cy="266.7" r="9.9"/><circle cx="1029.5" cy="264.5" r="8.3"/><circle cx="1013.5" cy="269.7" r="7.6"/><circle cx="993.0" cy="276.6" r="9.1"/><circle cx="1004.7" cy="274.0" r="8.1"/><circle cx="1026.9" cy="268.6" r="7.5"/><circle cx="1015.8" cy="271.9" r="7.2"/><circle cx="1034.9" cy="267.9" r="8.8"/><circle cx="998.1" cy="279.4" r="7.6"/><circle cx="1003.0" cy="375.1" r="6.0"/><circle cx="1011.2" cy="378.9" r="7.2"/><circle cx="1021.9" cy="379.7" r="10.3"/><circle cx="1029.5" cy="377.6" r="8.9"/><circle cx="1003.7" cy="385.4" r="9.8"/><circle cx="1013.7" cy="383.7" r="4.7"/><circle cx="1036.1" cy="377.4" r="5.4"/><circle cx="1026.4" cy="382.1" r="5.3"/><circle cx="1016.5" cy="385.1" r="7.9"/><circle cx="1007.4" cy="389.0" r="10.7"/><circle cx="1031.6" cy="381.8" r="8.4"/><circle cx="1039.4" cy="384.5" r="7.3"/><circle cx="1004.9" cy="395.5" r="4.8"/><circle cx="1014.9" cy="393.2" r="7.4"/><circle cx="1012.8" cy="396.0" r="9.3"/><circle cx="1022.5" cy="393.1" r="6.1"/><circle cx="1027.8" cy="393.4" r="9.4"/><circle cx="1036.2" cy="391.3" r="8.9"/><circle cx="1038.0" cy="392.2" r="5.5"/><circle cx="1020.4" cy="398.2" r="8.9"/><circle cx="1024.5" cy="397.9" r="4.8"/><circle cx="1034.0" cy="400.0" r="5.5"/><circle cx="983.2" cy="409.2" r="9.4"/><circle cx="972.4" cy="412.5" r="7.4"/><circle cx="990.8" cy="407.6" r="5.6"/><circle cx="976.7" cy="414.8" r="9.4"/><circle cx="966.9" cy="418.2" r="8.0"/><circle cx="997.0" cy="410.1" r="8.9"/><circle cx="985.0" cy="415.1" r="6.0"/><circle cx="972.2" cy="421.0" r="7.6"/><circle cx="991.3" cy="415.9" r="6.0"/><circle cx="983.4" cy="418.8" r="9.3"/><circle cx="978.4" cy="422.8" r="5.6"/><circle cx="991.8" cy="419.4" r="5.0"/><circle cx="974.1" cy="425.9" r="7.2"/><circle cx="996.9" cy="421.0" r="6.0"/><circle cx="1006.0" cy="418.4" r="6.5"/><circle cx="975.7" cy="429.4" r="6.1"/><circle cx="991.5" cy="425.5" r="9.0"/><circle cx="985.7" cy="428.5" r="8.0"/><circle cx="971.5" cy="433.9" r="8.8"/><circle cx="966.5" cy="435.7" r="7.3"/><circle cx="1011.3" cy="422.6" r="8.6"/><circle cx="997.8" cy="427.8" r="10.7"/><circle cx="987.2" cy="431.2" r="6.2"/><circle cx="979.2" cy="435.1" r="5.9"/><circle cx="992.6" cy="431.1" r="8.4"/><circle cx="970.4" cy="438.6" r="9.6"/><circle cx="965.3" cy="440.9" r="7.9"/><circle cx="1009.0" cy="428.1" r="8.4"/><circle cx="979.3" cy="437.9" r="9.6"/><circle cx="1011.1" cy="429.0" r="10.4"/><circle cx="998.2" cy="433.0" r="5.0"/><circle cx="1005.5" cy="434.5" r="4.8"/><circle cx="965.7" cy="446.8" r="5.9"/><circle cx="988.3" cy="440.5" r="10.5"/><circle cx="990.5" cy="441.9" r="9.7"/><circle cx="998.7" cy="439.7" r="5.4"/><circle cx="972.1" cy="447.8" r="9.8"/><circle cx="956.7" cy="454.4" r="8.7"/><circle cx="979.9" cy="447.8" r="7.3"/><circle cx="985.8" cy="448.7" r="7.6"/><circle cx="968.5" cy="455.2" r="6.9"/><circle cx="966.5" cy="457.0" r="10.9"/><circle cx="977.4" cy="453.9" r="8.3"/><circle cx="963.2" cy="460.6" r="9.8"/><circle cx="955.0" cy="463.2" r="4.9"/><circle cx="973.4" cy="459.2" r="5.4"/><circle cx="976.7" cy="459.9" r="7.6"/><circle cx="967.0" cy="466.4" r="6.8"/><circle cx="957.2" cy="470.2" r="6.6"/><circle cx="988.1" cy="461.4" r="8.9"/><circle cx="952.5" cy="473.8" r="6.7"/><circle cx="955.0" cy="473.2" r="10.5"/><circle cx="976.2" cy="468.0" r="7.1"/><circle cx="963.5" cy="474.3" r="10.3"/><circle cx="984.4" cy="468.6" r="6.8"/><circle cx="974.3" cy="472.0" r="7.7"/><circle cx="975.9" cy="473.7" r="8.5"/><circle cx="952.2" cy="481.0" r="9.3"/><circle cx="955.1" cy="480.5" r="8.9"/><circle cx="973.2" cy="476.8" r="6.4"/><circle cx="967.0" cy="483.1" r="10.4"/><circle cx="987.9" cy="476.9" r="6.2"/><circle cx="990.1" cy="478.2" r="9.5"/><circle cx="972.4" cy="485.3" r="8.1"/><circle cx="980.7" cy="484.2" r="7.1"/><circle cx="961.8" cy="490.1" r="5.4"/><circle cx="984.7" cy="485.2" r="4.9"/><circle cx="972.0" cy="490.3" r="5.6"/><circle cx="962.7" cy="494.7" r="6.5"/><circle cx="980.2" cy="489.9" r="10.6"/><circle cx="974.1" cy="494.9" r="7.7"/><circle cx="978.1" cy="496.0" r="4.6"/></g></g><g filter="url(#mGrayD)"><g fill="url(#ag)"><circle cx="952.2" cy="112.9" r="8.0"/><circle cx="959.2" cy="113.8" r="5.8"/><circle cx="973.9" cy="110.8" r="7.5"/><circle cx="973.2" cy="113.5" r="4.1"/><circle cx="949.7" cy="120.5" r="6.5"/><circle cx="970.2" cy="114.4" r="4.1"/><circle cx="950.6" cy="122.1" r="4.9"/><circle cx="959.7" cy="121.5" r="5.7"/><circle cx="984.1" cy="116.6" r="4.5"/><circle cx="970.1" cy="121.3" r="4.1"/><circle cx="952.4" cy="127.7" r="7.1"/><circle cx="949.6" cy="129.1" r="5.4"/><circle cx="987.0" cy="118.2" r="6.8"/><circle cx="986.0" cy="119.4" r="6.0"/><circle cx="980.4" cy="121.2" r="7.1"/><circle cx="976.8" cy="124.8" r="7.4"/><circle cx="968.3" cy="128.4" r="5.7"/><circle cx="962.5" cy="131.0" r="7.7"/><circle cx="972.4" cy="128.3" r="5.9"/><circle cx="994.0" cy="121.9" r="4.6"/><circle cx="955.6" cy="137.9" r="6.2"/><circle cx="988.9" cy="128.2" r="7.2"/><circle cx="984.0" cy="129.7" r="4.4"/><circle cx="972.8" cy="133.8" r="4.7"/><circle cx="955.2" cy="140.0" r="6.5"/><circle cx="963.4" cy="138.2" r="6.8"/><circle cx="965.2" cy="139.1" r="4.4"/><circle cx="997.8" cy="129.8" r="6.6"/><circle cx="982.9" cy="136.5" r="4.5"/><circle cx="966.7" cy="142.1" r="4.3"/><circle cx="958.7" cy="145.5" r="5.9"/><circle cx="950.7" cy="147.9" r="7.6"/><circle cx="986.8" cy="137.7" r="5.3"/><circle cx="979.5" cy="140.7" r="5.8"/><circle cx="971.7" cy="143.2" r="6.0"/><circle cx="993.9" cy="138.1" r="5.0"/><circle cx="991.3" cy="140.4" r="6.7"/><circle cx="969.3" cy="148.4" r="5.5"/><circle cx="960.2" cy="152.5" r="4.7"/><circle cx="998.4" cy="141.9" r="5.5"/><circle cx="960.6" cy="154.4" r="6.9"/><circle cx="983.6" cy="147.7" r="6.5"/><circle cx="990.1" cy="148.7" r="6.2"/><circle cx="976.2" cy="153.3" r="7.9"/><circle cx="969.3" cy="158.4" r="6.0"/><circle cx="994.6" cy="151.3" r="7.0"/><circle cx="977.6" cy="156.9" r="5.5"/><circle cx="988.3" cy="155.3" r="5.1"/><circle cx="983.8" cy="157.7" r="6.2"/><circle cx="973.7" cy="162.9" r="5.5"/><circle cx="980.2" cy="163.3" r="5.3"/><circle cx="1018.8" cy="120.2" r="5.2"/><circle cx="1022.7" cy="120.1" r="7.9"/><circle cx="1003.7" cy="125.9" r="5.6"/><circle cx="1009.1" cy="127.0" r="5.7"/><circle cx="1020.8" cy="124.0" r="6.8"/><circle cx="1016.9" cy="126.5" r="6.5"/><circle cx="1006.8" cy="131.0" r="6.0"/><circle cx="1018.2" cy="130.7" r="7.1"/><circle cx="1023.1" cy="131.4" r="7.3"/><circle cx="1048.7" cy="145.1" r="5.7"/><circle cx="1043.1" cy="147.1" r="7.0"/><circle cx="1045.2" cy="151.7" r="6.2"/><circle cx="1038.0" cy="156.7" r="6.2"/><circle cx="1046.6" cy="157.3" r="4.5"/><circle cx="1004.3" cy="172.4" r="7.9"/><circle cx="1013.0" cy="175.3" r="6.5"/><circle cx="1001.8" cy="179.4" r="6.4"/><circle cx="1006.6" cy="182.3" r="6.6"/><circle cx="1015.7" cy="180.5" r="6.2"/><circle cx="1007.7" cy="184.1" r="6.3"/><circle cx="1013.9" cy="188.0" r="6.4"/><circle cx="1020.5" cy="186.4" r="4.9"/><circle cx="1050.2" cy="102.8" r="4.2"/><circle cx="1058.7" cy="104.5" r="6.0"/><circle cx="1052.3" cy="108.9" r="5.7"/><circle cx="1030.5" cy="204.0" r="6.7"/><circle cx="1032.2" cy="204.7" r="5.5"/><circle cx="1016.3" cy="209.9" r="7.0"/><circle cx="1022.8" cy="208.6" r="6.7"/><circle cx="1032.8" cy="210.5" r="7.4"/><circle cx="1031.3" cy="212.1" r="7.6"/><circle cx="1026.8" cy="214.1" r="6.3"/><circle cx="1022.9" cy="217.1" r="7.9"/><circle cx="1019.0" cy="223.1" r="7.1"/><circle cx="1028.0" cy="223.9" r="4.9"/><circle cx="1022.5" cy="233.1" r="4.2"/><circle cx="1029.2" cy="231.3" r="6.4"/><circle cx="1016.5" cy="236.1" r="4.6"/><circle cx="1019.1" cy="238.0" r="5.0"/><circle cx="1028.1" cy="237.8" r="5.7"/><circle cx="1020.5" cy="241.7" r="7.6"/><circle cx="1027.4" cy="244.0" r="4.5"/><circle cx="1018.5" cy="251.1" r="4.6"/><circle cx="1029.8" cy="254.4" r="6.1"/><circle cx="1034.4" cy="253.1" r="7.2"/><circle cx="1033.6" cy="259.3" r="7.3"/></g></g><g filter="url(#mOr)"><g fill="url(#ag)"><circle cx="997.1" cy="277.6" r="7.7"/><circle cx="1009.8" cy="274.3" r="7.6"/><circle cx="1016.8" cy="275.7" r="6.0"/><circle cx="994.7" cy="283.1" r="7.2"/><circle cx="1008.1" cy="284.7" r="5.0"/><circle cx="1003.3" cy="286.3" r="8.1"/><circle cx="1016.0" cy="283.6" r="6.2"/><circle cx="997.6" cy="290.6" r="6.9"/><circle cx="1007.1" cy="289.0" r="9.2"/><circle cx="993.0" cy="294.1" r="7.3"/><circle cx="1009.3" cy="291.6" r="7.5"/><circle cx="989.3" cy="297.8" r="7.2"/><circle cx="1025.4" cy="287.3" r="8.8"/><circle cx="1015.2" cy="291.2" r="4.6"/><circle cx="1000.9" cy="297.2" r="8.0"/><circle cx="1013.5" cy="295.2" r="8.5"/><circle cx="998.1" cy="299.9" r="7.6"/><circle cx="991.8" cy="302.5" r="9.2"/><circle cx="1027.8" cy="294.0" r="7.7"/><circle cx="997.0" cy="303.4" r="6.2"/><circle cx="1017.9" cy="297.3" r="9.3"/><circle cx="1023.7" cy="296.6" r="7.5"/><circle cx="1008.8" cy="302.6" r="7.4"/><circle cx="990.5" cy="309.2" r="5.5"/><circle cx="1005.5" cy="305.4" r="5.1"/><circle cx="1019.3" cy="302.8" r="9.1"/><circle cx="996.2" cy="314.0" r="7.0"/><circle cx="1011.5" cy="309.5" r="7.8"/><circle cx="1005.1" cy="311.7" r="7.7"/><circle cx="1030.1" cy="305.7" r="9.5"/><circle cx="1025.4" cy="307.4" r="5.8"/><circle cx="997.6" cy="316.7" r="8.7"/><circle cx="1022.6" cy="309.5" r="7.7"/><circle cx="1017.7" cy="313.5" r="6.9"/><circle cx="994.5" cy="323.4" r="5.4"/><circle cx="1004.9" cy="321.3" r="5.7"/><circle cx="1013.7" cy="319.0" r="8.4"/><circle cx="988.5" cy="328.0" r="7.8"/><circle cx="1015.6" cy="321.6" r="9.8"/><circle cx="1001.7" cy="326.6" r="7.4"/><circle cx="1025.1" cy="319.9" r="4.9"/><circle cx="1018.4" cy="323.6" r="7.2"/><circle cx="1012.4" cy="326.4" r="7.5"/><circle cx="1025.3" cy="324.4" r="5.7"/><circle cx="1003.3" cy="331.4" r="5.9"/><circle cx="998.1" cy="333.7" r="7.1"/><circle cx="990.6" cy="335.9" r="5.5"/><circle cx="986.2" cy="340.5" r="5.5"/><circle cx="1009.0" cy="335.1" r="7.5"/><circle cx="997.0" cy="339.1" r="7.9"/><circle cx="1006.5" cy="337.6" r="8.5"/><circle cx="989.6" cy="342.7" r="10.0"/><circle cx="1021.1" cy="335.4" r="7.0"/><circle cx="1028.1" cy="335.2" r="8.8"/><circle cx="991.9" cy="346.2" r="8.2"/><circle cx="1018.4" cy="339.6" r="9.9"/><circle cx="1013.4" cy="341.3" r="9.7"/><circle cx="1027.2" cy="338.5" r="5.1"/><circle cx="997.6" cy="347.7" r="9.9"/><circle cx="1006.4" cy="348.6" r="7.7"/><circle cx="1020.2" cy="344.7" r="8.8"/><circle cx="991.8" cy="354.7" r="7.4"/><circle cx="1013.0" cy="348.7" r="5.6"/><circle cx="1025.0" cy="345.2" r="6.1"/><circle cx="994.4" cy="355.2" r="8.9"/><circle cx="1004.7" cy="354.4" r="4.6"/><circle cx="1030.6" cy="347.7" r="5.2"/><circle cx="998.5" cy="358.2" r="8.4"/><circle cx="1021.9" cy="351.4" r="5.1"/><circle cx="1014.0" cy="354.2" r="9.6"/><circle cx="990.9" cy="361.7" r="5.0"/><circle cx="1017.7" cy="355.2" r="8.5"/><circle cx="1006.0" cy="360.2" r="7.6"/><circle cx="1032.1" cy="353.2" r="6.3"/><circle cx="1012.0" cy="362.3" r="5.3"/><circle cx="1030.0" cy="358.3" r="5.2"/><circle cx="1005.9" cy="366.1" r="7.0"/><circle cx="1023.1" cy="361.6" r="6.8"/><circle cx="1017.1" cy="363.8" r="8.7"/><circle cx="1012.2" cy="366.6" r="8.8"/><circle cx="1020.5" cy="367.4" r="6.2"/><circle cx="1024.3" cy="370.8" r="8.1"/></g></g><g filter="url(#mBlue)"><g fill="url(#ag)"><circle cx="1099.6" cy="111.1" r="4.0"/><circle cx="1092.9" cy="115.7" r="6.9"/><circle cx="1096.3" cy="114.9" r="5.1"/><circle cx="1105.4" cy="113.0" r="7.0"/><circle cx="1103.0" cy="114.7" r="6.3"/><circle cx="1097.2" cy="119.2" r="5.1"/><circle cx="1094.2" cy="121.0" r="4.3"/><circle cx="1116.1" cy="114.8" r="5.8"/><circle cx="1107.6" cy="117.5" r="5.4"/><circle cx="1099.8" cy="120.6" r="4.2"/><circle cx="1110.1" cy="117.6" r="6.1"/><circle cx="1105.0" cy="119.5" r="5.4"/><circle cx="1092.2" cy="124.2" r="4.4"/><circle cx="1089.4" cy="125.2" r="6.8"/><circle cx="1122.7" cy="117.5" r="5.7"/><circle cx="1117.6" cy="119.1" r="5.5"/><circle cx="1112.1" cy="120.9" r="6.3"/><circle cx="1098.2" cy="125.7" r="5.8"/><circle cx="1115.8" cy="120.7" r="4.2"/><circle cx="1092.2" cy="128.2" r="6.3"/><circle cx="1103.3" cy="125.6" r="4.9"/><circle cx="1112.1" cy="124.7" r="4.3"/><circle cx="1106.6" cy="126.8" r="4.5"/><circle cx="1126.9" cy="121.2" r="5.8"/><circle cx="1131.0" cy="120.0" r="5.3"/><circle cx="1123.2" cy="122.3" r="4.6"/><circle cx="1095.0" cy="130.9" r="5.7"/><circle cx="1105.7" cy="128.3" r="5.1"/><circle cx="1101.4" cy="129.7" r="4.8"/><circle cx="1114.9" cy="126.2" r="5.5"/><circle cx="1092.8" cy="133.6" r="6.9"/><circle cx="1118.4" cy="126.2" r="4.3"/><circle cx="1124.5" cy="124.5" r="5.8"/><circle cx="1128.4" cy="124.2" r="4.6"/><circle cx="1110.7" cy="130.0" r="5.0"/><circle cx="1096.1" cy="135.9" r="6.9"/><circle cx="1117.3" cy="129.6" r="4.5"/><circle cx="1115.3" cy="130.7" r="6.3"/><circle cx="1101.5" cy="135.3" r="4.2"/><circle cx="1095.8" cy="137.1" r="5.9"/><circle cx="1107.6" cy="133.9" r="5.0"/><circle cx="1112.1" cy="133.7" r="4.3"/><circle cx="1125.1" cy="129.9" r="5.3"/><circle cx="1104.0" cy="136.6" r="4.3"/><circle cx="1128.8" cy="129.6" r="4.6"/><circle cx="1119.9" cy="132.4" r="6.4"/><circle cx="1093.7" cy="140.4" r="5.7"/><circle cx="1112.9" cy="135.3" r="4.5"/><circle cx="1102.1" cy="139.0" r="6.5"/><circle cx="1109.6" cy="136.8" r="4.7"/><circle cx="1092.9" cy="142.1" r="6.5"/><circle cx="1125.7" cy="133.6" r="6.4"/><circle cx="1104.8" cy="141.5" r="6.7"/><circle cx="1102.7" cy="143.0" r="4.7"/><circle cx="1113.7" cy="139.9" r="5.6"/><circle cx="1097.7" cy="144.7" r="4.6"/><circle cx="1118.1" cy="138.6" r="4.5"/><circle cx="1090.6" cy="147.7" r="4.6"/><circle cx="1108.9" cy="143.6" r="4.8"/><circle cx="1096.3" cy="147.7" r="5.6"/><circle cx="1089.7" cy="150.9" r="6.0"/><circle cx="1106.1" cy="147.5" r="5.3"/><circle cx="1102.4" cy="148.7" r="4.7"/><circle cx="1098.2" cy="151.6" r="5.4"/><circle cx="1090.6" cy="153.9" r="6.7"/><circle cx="1094.2" cy="155.4" r="6.8"/><circle cx="1093.0" cy="159.8" r="4.1"/><circle cx="1086.2" cy="162.4" r="5.0"/><circle cx="1092.1" cy="165.2" r="6.7"/><circle cx="1089.1" cy="167.2" r="5.1"/><circle cx="1087.8" cy="169.6" r="5.2"/></g></g><g filter="url(#mRed)"><g fill="url(#ag)"><circle cx="1080.7" cy="172.0" r="5.1"/><circle cx="1076.2" cy="174.9" r="6.3"/><circle cx="1084.2" cy="173.1" r="5.6"/><circle cx="1080.2" cy="175.2" r="4.5"/><circle cx="1090.1" cy="175.3" r="6.8"/><circle cx="1080.0" cy="179.0" r="6.1"/><circle cx="1084.5" cy="178.0" r="6.2"/><circle cx="1076.2" cy="181.1" r="4.9"/><circle cx="1090.1" cy="179.7" r="4.0"/><circle cx="1082.2" cy="183.3" r="5.7"/><circle cx="1075.8" cy="185.5" r="7.0"/><circle cx="1087.0" cy="183.2" r="5.2"/><circle cx="1076.4" cy="186.7" r="4.0"/><circle cx="1090.7" cy="183.2" r="5.4"/><circle cx="1081.4" cy="186.8" r="6.0"/><circle cx="1084.2" cy="188.5" r="5.0"/><circle cx="1090.5" cy="186.9" r="5.2"/><circle cx="1048.3" cy="209.0" r="4.1"/><circle cx="1060.4" cy="205.9" r="5.7"/><circle cx="1070.9" cy="204.3" r="6.6"/><circle cx="1048.9" cy="212.1" r="4.9"/><circle cx="1067.1" cy="207.2" r="5.1"/><circle cx="1064.8" cy="207.9" r="6.8"/><circle cx="1071.5" cy="206.8" r="4.2"/><circle cx="1059.7" cy="210.4" r="4.9"/><circle cx="1063.0" cy="210.1" r="5.2"/><circle cx="1052.5" cy="213.4" r="5.3"/><circle cx="1081.1" cy="206.2" r="4.7"/><circle cx="1066.2" cy="211.5" r="4.9"/><circle cx="1050.2" cy="216.4" r="4.5"/><circle cx="1078.5" cy="208.4" r="6.0"/><circle cx="1062.6" cy="214.6" r="5.6"/><circle cx="1055.4" cy="216.8" r="4.3"/><circle cx="1073.1" cy="212.0" r="4.8"/><circle cx="1060.5" cy="216.1" r="6.8"/><circle cx="1076.9" cy="211.8" r="4.7"/><circle cx="1082.1" cy="212.3" r="4.0"/><circle cx="1085.7" cy="211.5" r="4.3"/><circle cx="1071.5" cy="216.1" r="5.4"/><circle cx="1067.1" cy="217.6" r="5.5"/><circle cx="1079.6" cy="214.5" r="5.8"/><circle cx="1056.6" cy="221.4" r="5.1"/><circle cx="1066.4" cy="219.2" r="6.2"/><circle cx="1063.5" cy="220.1" r="6.5"/><circle cx="1077.4" cy="217.7" r="5.2"/><circle cx="1072.6" cy="219.6" r="5.0"/><circle cx="1076.2" cy="219.7" r="5.7"/><circle cx="1084.4" cy="217.9" r="5.3"/><circle cx="1084.2" cy="220.0" r="6.0"/><circle cx="1080.7" cy="221.2" r="6.3"/><circle cx="1069.4" cy="225.3" r="4.6"/><circle cx="1072.4" cy="225.5" r="6.5"/><circle cx="1074.8" cy="226.4" r="5.8"/><circle cx="1090.4" cy="221.8" r="4.8"/><circle cx="1080.2" cy="224.9" r="4.3"/><circle cx="1071.1" cy="228.4" r="5.0"/><circle cx="1087.2" cy="224.6" r="5.3"/><circle cx="1080.4" cy="229.3" r="5.6"/><circle cx="1090.6" cy="226.4" r="5.8"/><circle cx="1077.4" cy="231.4" r="5.1"/><circle cx="1084.6" cy="230.0" r="6.5"/><circle cx="1078.3" cy="233.4" r="4.8"/><circle cx="1088.6" cy="230.6" r="4.9"/><circle cx="1082.6" cy="234.1" r="4.1"/><circle cx="974.4" cy="185.5" r="4.1"/><circle cx="981.2" cy="184.6" r="6.4"/><circle cx="978.7" cy="187.5" r="5.1"/><circle cx="973.6" cy="189.2" r="5.6"/><circle cx="983.7" cy="187.0" r="4.0"/><circle cx="972.1" cy="191.3" r="4.8"/><circle cx="988.1" cy="187.1" r="4.2"/><circle cx="976.5" cy="192.0" r="5.1"/><circle cx="982.2" cy="191.2" r="6.8"/><circle cx="986.5" cy="191.4" r="5.0"/><circle cx="978.3" cy="194.1" r="4.9"/><circle cx="973.3" cy="196.9" r="6.0"/><circle cx="993.0" cy="194.1" r="6.9"/><circle cx="981.0" cy="197.9" r="5.8"/><circle cx="997.1" cy="193.5" r="5.0"/><circle cx="978.1" cy="199.7" r="4.7"/><circle cx="991.1" cy="196.4" r="4.1"/><circle cx="989.0" cy="197.2" r="5.7"/><circle cx="982.4" cy="199.2" r="6.3"/><circle cx="976.1" cy="201.2" r="5.7"/><circle cx="1007.3" cy="192.9" r="6.0"/><circle cx="999.2" cy="196.7" r="6.0"/><circle cx="987.1" cy="201.4" r="6.7"/><circle cx="1012.1" cy="194.1" r="6.9"/><circle cx="982.3" cy="203.1" r="4.3"/><circle cx="1002.8" cy="197.1" r="6.9"/><circle cx="991.9" cy="201.0" r="6.3"/><circle cx="1019.1" cy="193.3" r="4.4"/><circle cx="1008.2" cy="197.2" r="4.1"/><circle cx="1011.9" cy="197.3" r="4.1"/><circle cx="982.4" cy="206.9" r="6.3"/><circle cx="1016.2" cy="197.7" r="6.9"/><circle cx="997.1" cy="203.4" r="5.5"/><circle cx="1020.2" cy="196.9" r="4.3"/><circle cx="1010.1" cy="200.6" r="4.6"/><circle cx="1006.7" cy="201.6" r="6.5"/><circle cx="987.4" cy="208.2" r="4.8"/><circle cx="994.8" cy="208.2" r="6.7"/><circle cx="991.6" cy="209.6" r="4.1"/><circle cx="989.2" cy="210.8" r="4.0"/></g></g><g filter="url(#mGrn)"><g fill="url(#ag)"><circle cx="1076.1" cy="187.8" r="4.3"/><circle cx="1080.5" cy="189.0" r="3.7"/><circle cx="1077.2" cy="190.3" r="4.4"/><circle cx="1072.1" cy="192.9" r="5.5"/><circle cx="1080.3" cy="191.1" r="4.1"/><circle cx="1069.0" cy="195.0" r="5.9"/><circle cx="1073.0" cy="194.8" r="3.9"/><circle cx="1075.8" cy="194.7" r="5.7"/><circle cx="1085.5" cy="192.1" r="4.5"/><circle cx="1087.9" cy="192.3" r="5.4"/><circle cx="1078.2" cy="196.7" r="3.9"/><circle cx="1085.1" cy="195.4" r="3.8"/><circle cx="1071.1" cy="199.8" r="4.0"/><circle cx="1076.3" cy="200.3" r="5.1"/><circle cx="1078.2" cy="200.2" r="4.2"/><circle cx="1086.7" cy="198.1" r="5.4"/><circle cx="1083.8" cy="200.9" r="5.7"/></g></g><text x="1058" y="59.3" font-size="28.9" font-family="Liberation Sans" font-weight="bold">200-213</text><g transform="translate(1112.5 65.5) rotate(90.0)"><line x1="0" y1="0" x2="41.0" y2="0" stroke="#000" stroke-width="2.6"/><path d="M52.0 0 L40.0 -6.0 L40.0 6.0 Z" fill="#000"/></g><text x="1123.5" y="260.4" font-size="28.5" font-family="Liberation Sans" font-weight="bold">281</text><text x="1104.5" y="279.6" font-size="14.6" font-family="Liberation Sans" font-weight="bold">(other chain)</text><g transform="translate(1129.7 240.3) rotate(-138.5)"><line x1="0" y1="0" x2="45.3" y2="0" stroke="#000" stroke-width="2.6"/><path d="M56.3 0 L44.3 -6.0 L44.3 6.0 Z" fill="#000"/></g><text x="904" y="304.6" font-size="29" font-family="Liberation Sans" font-weight="bold">47-60</text><text x="896.6" y="322.8" font-size="14.6" font-family="Liberation Sans" font-weight="bold">(other chain)</text><g transform="translate(942.4 281.0) rotate(-66.0)"><line x1="0" y1="0" x2="69.5" y2="0" stroke="#000" stroke-width="2.6"/><path d="M80.5 0 L68.5 -6.0 L68.5 6.0 Z" fill="#000"/></g><text x="1041.5" y="309.3" font-size="29" font-family="Liberation Sans" font-weight="bold">47-60</text><g transform="translate(1079.7 285.6) rotate(-95.9)"><line x1="0" y1="0" x2="34.5" y2="0" stroke="#000" stroke-width="2.6"/><path d="M45.5 0 L33.5 -6.0 L33.5 6.0 Z" fill="#000"/></g><text x="1034" y="348" font-size="28" font-family="Liberation Sans" font-weight="bold">TM</text><rect x="420" y="1262.5" width="394" height="284" fill="#fffcfc"/><g><path d="M479.7 1314.3 C480.6 1313.7 482.4 1310.7 485.2 1310.7 C487.9 1310.7 493.6 1313.1 496.0 1314.3 C498.4 1315.5 500.8 1316.7 499.6 1317.9 C498.4 1319.1 491.2 1319.7 488.8 1321.5 C486.4 1323.3 484.0 1326.4 485.2 1328.8 C486.4 1331.2 491.2 1335.4 496.0 1336.0 C500.8 1336.6 509.9 1334.8 514.1 1332.4 C518.3 1330.0 518.9 1324.6 521.4 1321.5 C523.8 1318.5 525.6 1316.7 528.6 1314.3 C531.6 1311.9 536.4 1308.9 539.5 1307.1 C542.5 1305.2 545.5 1304.0 546.7 1303.4" fill="none" stroke="#98b8c0" stroke-width="3.5999999999999996" stroke-linecap="round" stroke-linejoin="round" opacity="1"/><path d="M479.7 1314.3 C480.6 1313.7 482.4 1310.7 485.2 1310.7 C487.9 1310.7 493.6 1313.1 496.0 1314.3 C498.4 1315.5 500.8 1316.7 499.6 1317.9 C498.4 1319.1 491.2 1319.7 488.8 1321.5 C486.4 1323.3 484.0 1326.4 485.2 1328.8 C486.4 1331.2 491.2 1335.4 496.0 1336.0 C500.8 1336.6 509.9 1334.8 514.1 1332.4 C518.3 1330.0 518.9 1324.6 521.4 1321.5 C523.8 1318.5 525.6 1316.7 528.6 1314.3 C531.6 1311.9 536.4 1308.9 539.5 1307.1 C542.5 1305.2 545.5 1304.0 546.7 1303.4" fill="none" stroke="#d4ecf0" stroke-width="2.4" stroke-linecap="round" stroke-linejoin="round" opacity="1"/><path d="M521.4 1285.3 C520.8 1283.5 516.5 1277.5 517.7 1274.5 C518.9 1271.5 524.4 1268.1 528.6 1267.2 C532.8 1266.3 539.5 1267.2 543.1 1269.0 C546.7 1270.9 549.7 1275.1 550.3 1278.1 C550.9 1281.1 547.3 1285.6 546.7 1287.1" fill="none" stroke="#98b8c0" stroke-width="3.5999999999999996" stroke-linecap="round" stroke-linejoin="round" opacity="1"/><path d="M521.4 1285.3 C520.8 1283.5 516.5 1277.5 517.7 1274.5 C518.9 1271.5 524.4 1268.1 528.6 1267.2 C532.8 1266.3 539.5 1267.2 543.1 1269.0 C546.7 1270.9 549.7 1275.1 550.3 1278.1 C550.9 1281.1 547.3 1285.6 546.7 1287.1" fill="none" stroke="#d4ecf0" stroke-width="2.4" stroke-linecap="round" stroke-linejoin="round" opacity="1"/><path d="M423.6 1430.1 C424.2 1428.3 424.2 1422.9 427.2 1419.3 C430.3 1415.7 436.9 1409.9 441.7 1408.4 C446.5 1406.9 452.0 1408.7 456.2 1410.2 C460.4 1411.7 463.4 1415.4 467.1 1417.5 C470.7 1419.6 474.9 1423.2 477.9 1422.9 C480.9 1422.6 482.1 1417.5 485.2 1415.7 C488.2 1413.8 494.2 1412.6 496.0 1412.0" fill="none" stroke="#98b8c0" stroke-width="3.8" stroke-linecap="round" stroke-linejoin="round" opacity="1"/><path d="M423.6 1430.1 C424.2 1428.3 424.2 1422.9 427.2 1419.3 C430.3 1415.7 436.9 1409.9 441.7 1408.4 C446.5 1406.9 452.0 1408.7 456.2 1410.2 C460.4 1411.7 463.4 1415.4 467.1 1417.5 C470.7 1419.6 474.9 1423.2 477.9 1422.9 C480.9 1422.6 482.1 1417.5 485.2 1415.7 C488.2 1413.8 494.2 1412.6 496.0 1412.0" fill="none" stroke="#d4ecf0" stroke-width="2.6" stroke-linecap="round" stroke-linejoin="round" opacity="1"/><path d="M449.0 1484.4 C450.2 1486.2 453.2 1494.1 456.2 1495.3 C459.2 1496.5 464.0 1491.1 467.1 1491.7 C470.1 1492.3 471.3 1497.1 474.3 1498.9 C477.3 1500.7 481.5 1500.7 485.2 1502.5 C488.8 1504.3 492.4 1508.0 496.0 1509.8 C499.6 1511.6 502.7 1512.2 506.9 1513.4 C511.1 1514.6 517.1 1516.7 521.4 1517.0 C525.6 1517.3 530.4 1515.5 532.2 1515.2" fill="none" stroke="#98b8c0" stroke-width="3.8" stroke-linecap="round" stroke-linejoin="round" opacity="1"/><path d="M449.0 1484.4 C450.2 1486.2 453.2 1494.1 456.2 1495.3 C459.2 1496.5 464.0 1491.1 467.1 1491.7 C470.1 1492.3 471.3 1497.1 474.3 1498.9 C477.3 1500.7 481.5 1500.7 485.2 1502.5 C488.8 1504.3 492.4 1508.0 496.0 1509.8 C499.6 1511.6 502.7 1512.2 506.9 1513.4 C511.1 1514.6 517.1 1516.7 521.4 1517.0 C525.6 1517.3 530.4 1515.5 532.2 1515.2" fill="none" stroke="#d4ecf0" stroke-width="2.6" stroke-linecap="round" stroke-linejoin="round" opacity="1"/><path d="M481.5 1506.2 C482.7 1508.0 485.2 1514.0 488.8 1517.0 C492.4 1520.0 498.4 1522.4 503.3 1524.3 C508.1 1526.1 513.5 1527.9 517.7 1527.9 C522.0 1527.9 525.0 1525.8 528.6 1524.3 C532.2 1522.7 535.2 1521.2 539.5 1518.8 C543.7 1516.4 549.7 1512.5 553.9 1509.8 C558.2 1507.1 560.6 1502.5 564.8 1502.5 C569.0 1502.5 577.5 1507.4 579.3 1509.8 C581.1 1512.2 578.7 1515.2 575.7 1517.0 C572.6 1518.8 563.6 1520.0 561.2 1520.6" fill="none" stroke="#98b8c0" stroke-width="3.8" stroke-linecap="round" stroke-linejoin="round" opacity="1"/><path d="M481.5 1506.2 C482.7 1508.0 485.2 1514.0 488.8 1517.0 C492.4 1520.0 498.4 1522.4 503.3 1524.3 C508.1 1526.1 513.5 1527.9 517.7 1527.9 C522.0 1527.9 525.0 1525.8 528.6 1524.3 C532.2 1522.7 535.2 1521.2 539.5 1518.8 C543.7 1516.4 549.7 1512.5 553.9 1509.8 C558.2 1507.1 560.6 1502.5 564.8 1502.5 C569.0 1502.5 577.5 1507.4 579.3 1509.8 C581.1 1512.2 578.7 1515.2 575.7 1517.0 C572.6 1518.8 563.6 1520.0 561.2 1520.6" fill="none" stroke="#d4ecf0" stroke-width="2.6" stroke-linecap="round" stroke-linejoin="round" opacity="1"/><path d="M557.6 1477.2 C559.4 1477.2 564.8 1478.4 568.4 1477.2 C572.0 1476.0 575.1 1470.6 579.3 1470.0 C583.5 1469.4 588.9 1471.8 593.8 1473.6 C598.6 1475.4 603.9 1480.2 608.2 1480.8 C612.6 1481.4 618.0 1477.8 620.0 1477.2" fill="none" stroke="#98b8c0" stroke-width="3.8" stroke-linecap="round" stroke-linejoin="round" opacity="1"/><path d="M557.6 1477.2 C559.4 1477.2 564.8 1478.4 568.4 1477.2 C572.0 1476.0 575.1 1470.6 579.3 1470.0 C583.5 1469.4 588.9 1471.8 593.8 1473.6 C598.6 1475.4 603.9 1480.2 608.2 1480.8 C612.6 1481.4 618.0 1477.8 620.0 1477.2" fill="none" stroke="#d4ecf0" stroke-width="2.6" stroke-linecap="round" stroke-linejoin="round" opacity="1"/><path d="M474.3 1386.7 C474.9 1388.5 475.5 1394.5 477.9 1397.6 C480.3 1400.6 485.2 1403.9 488.8 1404.8 C492.4 1405.7 496.6 1404.2 499.6 1403.0 C502.7 1401.8 505.1 1400.3 506.9 1397.6 C508.7 1394.8 509.9 1388.5 510.5 1386.7" fill="none" stroke="#98b8c0" stroke-width="3.5999999999999996" stroke-linecap="round" stroke-linejoin="round" opacity="1"/><path d="M474.3 1386.7 C474.9 1388.5 475.5 1394.5 477.9 1397.6 C480.3 1400.6 485.2 1403.9 488.8 1404.8 C492.4 1405.7 496.6 1404.2 499.6 1403.0 C502.7 1401.8 505.1 1400.3 506.9 1397.6 C508.7 1394.8 509.9 1388.5 510.5 1386.7" fill="none" stroke="#d4ecf0" stroke-width="2.4" stroke-linecap="round" stroke-linejoin="round" opacity="1"/><path d="M492.4 1390.3 C493.0 1392.1 493.6 1398.8 496.0 1401.2 C498.4 1403.6 502.7 1404.8 506.9 1404.8 C511.1 1404.8 517.7 1403.6 521.4 1401.2 C525.0 1398.8 527.4 1392.1 528.6 1390.3" fill="none" stroke="#98b8c0" stroke-width="3.4000000000000004" stroke-linecap="round" stroke-linejoin="round" opacity="1"/><path d="M492.4 1390.3 C493.0 1392.1 493.6 1398.8 496.0 1401.2 C498.4 1403.6 502.7 1404.8 506.9 1404.8 C511.1 1404.8 517.7 1403.6 521.4 1401.2 C525.0 1398.8 527.4 1392.1 528.6 1390.3" fill="none" stroke="#d4ecf0" stroke-width="2.2" stroke-linecap="round" stroke-linejoin="round" opacity="1"/><path d="M459.8 1450.0 C460.4 1451.6 461.0 1457.0 463.4 1459.1 C465.9 1461.2 470.7 1461.5 474.3 1462.7 C477.9 1463.9 481.5 1465.1 485.2 1466.3 C488.8 1467.5 494.2 1469.4 496.0 1470.0" fill="none" stroke="#98b8c0" stroke-width="3.4000000000000004" stroke-linecap="round" stroke-linejoin="round" opacity="1"/><path d="M459.8 1450.0 C460.4 1451.6 461.0 1457.0 463.4 1459.1 C465.9 1461.2 470.7 1461.5 474.3 1462.7 C477.9 1463.9 481.5 1465.1 485.2 1466.3 C488.8 1467.5 494.2 1469.4 496.0 1470.0" fill="none" stroke="#d4ecf0" stroke-width="2.2" stroke-linecap="round" stroke-linejoin="round" opacity="1"/><path d="M506.9 1441.0 C508.1 1439.8 512.3 1436.8 514.1 1433.8 C515.9 1430.7 515.3 1425.3 517.7 1422.9 C520.2 1420.5 524.4 1420.5 528.6 1419.3 C532.8 1418.1 540.7 1416.3 543.1 1415.7" fill="none" stroke="#98b8c0" stroke-width="3.4000000000000004" stroke-linecap="round" stroke-linejoin="round" opacity="1"/><path d="M506.9 1441.0 C508.1 1439.8 512.3 1436.8 514.1 1433.8 C515.9 1430.7 515.3 1425.3 517.7 1422.9 C520.2 1420.5 524.4 1420.5 528.6 1419.3 C532.8 1418.1 540.7 1416.3 543.1 1415.7" fill="none" stroke="#d4ecf0" stroke-width="2.2" stroke-linecap="round" stroke-linejoin="round" opacity="1"/><path d="M546.7 1459.1 C547.9 1459.7 550.9 1460.3 553.9 1462.7 C557.0 1465.1 561.2 1472.7 564.8 1473.6 C568.4 1474.5 572.6 1471.2 575.7 1468.1 C578.7 1465.1 581.7 1457.6 582.9 1455.5" fill="none" stroke="#98b8c0" stroke-width="3.4000000000000004" stroke-linecap="round" stroke-linejoin="round" opacity="1"/><path d="M546.7 1459.1 C547.9 1459.7 550.9 1460.3 553.9 1462.7 C557.0 1465.1 561.2 1472.7 564.8 1473.6 C568.4 1474.5 572.6 1471.2 575.7 1468.1 C578.7 1465.1 581.7 1457.6 582.9 1455.5" fill="none" stroke="#d4ecf0" stroke-width="2.2" stroke-linecap="round" stroke-linejoin="round" opacity="1"/><path d="M560.0 1476.7 C562.2 1477.8 568.7 1480.3 573.0 1483.2 C577.3 1486.1 580.9 1492.9 586.0 1494.0 C591.1 1495.1 598.3 1487.9 603.3 1489.7 C608.4 1491.5 612.0 1503.4 616.3 1504.9 C620.7 1506.3 627.2 1499.4 629.3 1498.4" fill="none" stroke="#98b8c0" stroke-width="3.8" stroke-linecap="round" stroke-linejoin="round" opacity="1"/><path d="M560.0 1476.7 C562.2 1477.8 568.7 1480.3 573.0 1483.2 C577.3 1486.1 580.9 1492.9 586.0 1494.0 C591.1 1495.1 598.3 1487.9 603.3 1489.7 C608.4 1491.5 612.0 1503.4 616.3 1504.9 C620.7 1506.3 627.2 1499.4 629.3 1498.4" fill="none" stroke="#d4ecf0" stroke-width="2.6" stroke-linecap="round" stroke-linejoin="round" opacity="1"/><path d="M646.7 1487.5 C648.8 1487.9 654.6 1488.6 659.7 1489.7 C664.7 1490.8 672.0 1490.8 677.0 1494.0 C682.1 1497.3 690.0 1505.6 690.0 1509.2 C690.0 1512.8 682.8 1513.2 677.0 1515.7 C671.2 1518.2 661.1 1520.4 655.3 1524.4 C649.6 1528.3 646.3 1536.6 642.3 1539.5 C638.4 1542.4 633.3 1541.3 631.5 1541.7" fill="none" stroke="#98b8c0" stroke-width="3.8" stroke-linecap="round" stroke-linejoin="round" opacity="1"/><path d="M646.7 1487.5 C648.8 1487.9 654.6 1488.6 659.7 1489.7 C664.7 1490.8 672.0 1490.8 677.0 1494.0 C682.1 1497.3 690.0 1505.6 690.0 1509.2 C690.0 1512.8 682.8 1513.2 677.0 1515.7 C671.2 1518.2 661.1 1520.4 655.3 1524.4 C649.6 1528.3 646.3 1536.6 642.3 1539.5 C638.4 1542.4 633.3 1541.3 631.5 1541.7" fill="none" stroke="#d4ecf0" stroke-width="2.6" stroke-linecap="round" stroke-linejoin="round" opacity="1"/><g transform="translate(487.0 1305.2) rotate(-12.5)" opacity="1"><rect x="0" y="-13.0" width="33.4" height="26.0" rx="7.8" fill="#9fb1b4"/><path d="M0.0 -13.0 Q10.8 0 4.2 13.0 L9.6 13.0 Q16.2 0 5.4 -13.0 Z" fill="#d4ecf0"/><path d="M12.0 -13.0 Q22.8 0 16.2 13.0 L21.6 13.0 Q28.2 0 17.4 -13.0 Z" fill="#d4ecf0"/></g><g transform="translate(544.9 1296.2) rotate(15.9)" opacity="1"><rect x="0" y="-14.0" width="39.5" height="28.0" rx="8.4" fill="#9fb1b4"/><path d="M0.0 -14.0 Q10.8 0 4.2 14.0 L9.6 14.0 Q16.2 0 5.4 -14.0 Z" fill="#d4ecf0"/><path d="M12.0 -14.0 Q22.8 0 16.2 14.0 L21.6 14.0 Q28.2 0 17.4 -14.0 Z" fill="#d4ecf0"/><path d="M24.0 -14.0 Q34.8 0 28.2 14.0 L33.6 14.0 Q40.2 0 29.4 -14.0 Z" fill="#d4ecf0"/></g><g transform="translate(528.6 1337.8) rotate(0.0)" fill="none" opacity="1"><ellipse cx="0.0" cy="0.0" rx="17.0" ry="15.0" stroke="#495a5d" stroke-width="3"/><ellipse cx="4.0" cy="0.5" rx="17.0" ry="15.0" stroke="#52666a" stroke-width="3"/><ellipse cx="8.0" cy="1.0" rx="17.0" ry="15.0" stroke="#5c7276" stroke-width="3"/><ellipse cx="12.0" cy="1.5" rx="17.0" ry="15.0" stroke="#667e83" stroke-width="3"/><ellipse cx="16.0" cy="2.0" rx="17.0" ry="15.0" stroke="#708a8f" stroke-width="3"/><ellipse cx="20.0" cy="2.5" rx="17.0" ry="15.0" stroke="#7a979c" stroke-width="3"/></g><g transform="translate(492.4 1370.4) rotate(0.0)" fill="none" opacity="1"><ellipse cx="0.0" cy="0.0" rx="16.0" ry="13.0" stroke="#3f4c4f" stroke-width="3"/><ellipse cx="2.5" cy="0.0" rx="16.0" ry="13.0" stroke="#4d5d60" stroke-width="3"/><ellipse cx="5.0" cy="0.0" rx="16.0" ry="13.0" stroke="#5b6e72" stroke-width="3"/><ellipse cx="7.5" cy="0.0" rx="16.0" ry="13.0" stroke="#6a8084" stroke-width="3"/></g><g transform="translate(543.1 1388.5) rotate(0.0)" fill="none" opacity="1"><ellipse cx="0.0" cy="0.0" rx="13.0" ry="12.0" stroke="#526062" stroke-width="3"/><ellipse cx="1.2" cy="1.5" rx="13.0" ry="12.0" stroke="#6e8083" stroke-width="3"/><ellipse cx="2.4" cy="3.0" rx="13.0" ry="12.0" stroke="#8aa0a4" stroke-width="3"/></g><g transform="translate(521.4 1368.6) rotate(-14.0)" opacity="1"><path d="M0 -4.5 L15.7 -4.5 L15.7 -9.0 L22.4 0 L15.7 9.0 L15.7 4.5 L0 4.5 Z" fill="#90a8ac"/><path d="M0 1.5 L15.7 1.5 L15.7 4.5 L0 4.5 Z" fill="#647578"/></g><g transform="translate(499.6 1412.0) rotate(52.1)" opacity="1"><path d="M0 -6.0 L28.9 -6.0 L28.9 -12.0 L41.3 0 L28.9 12.0 L28.9 6.0 L0 6.0 Z" fill="#607478"/><path d="M0 2.0 L28.9 2.0 L28.9 6.0 L0 6.0 Z" fill="#435154"/></g><g transform="translate(523.2 1410.2) rotate(15.3)" opacity="1"><path d="M0 -4.0 L14.4 -4.0 L14.4 -8.0 L20.6 0 L14.4 8.0 L14.4 4.0 L0 4.0 Z" fill="#607478"/><path d="M0 1.3 L14.4 1.3 L14.4 4.0 L0 4.0 Z" fill="#435154"/></g><g transform="translate(477.9 1419.3) rotate(61.4)" opacity="1"><path d="M0 -5.0 L31.8 -5.0 L31.8 -10.0 L45.4 0 L31.8 10.0 L31.8 5.0 L0 5.0 Z" fill="#a0b8bc"/><path d="M0 1.7 L31.8 1.7 L31.8 5.0 L0 5.0 Z" fill="#708083"/></g><g transform="translate(463.4 1455.5) rotate(45.0)" opacity="1"><path d="M0 -4.5 L25.1 -4.5 L25.1 -9.0 L35.8 0 L25.1 9.0 L25.1 4.5 L0 4.5 Z" fill="#a0b8bc"/><path d="M0 1.5 L25.1 1.5 L25.1 4.5 L0 4.5 Z" fill="#708083"/></g><g transform="translate(530.4 1470.0) rotate(0.0)" fill="none" opacity="1"><ellipse cx="0.0" cy="0.0" rx="15.0" ry="15.0" stroke="#526163" stroke-width="3"/><ellipse cx="4.5" cy="2.5" rx="15.0" ry="15.0" stroke="#5d6e70" stroke-width="3"/><ellipse cx="9.0" cy="5.0" rx="15.0" ry="15.0" stroke="#687b7e" stroke-width="3"/><ellipse cx="13.5" cy="7.5" rx="15.0" ry="15.0" stroke="#73888b" stroke-width="3"/><ellipse cx="18.0" cy="10.0" rx="15.0" ry="15.0" stroke="#7e9598" stroke-width="3"/><ellipse cx="22.5" cy="12.5" rx="15.0" ry="15.0" stroke="#8aa2a6" stroke-width="3"/></g></g><g><path d="M681.3 1286.0 C682.8 1283.8 685.7 1275.5 690.0 1273.0 C694.3 1270.5 703.4 1268.7 707.3 1270.8 C711.3 1273.0 713.1 1280.6 713.8 1286.0 C714.6 1291.4 712.0 1300.4 711.7 1303.3" fill="none" stroke="#222270" stroke-width="3.4000000000000004" stroke-linecap="round" stroke-linejoin="round" opacity="1"/><path d="M681.3 1286.0 C682.8 1283.8 685.7 1275.5 690.0 1273.0 C694.3 1270.5 703.4 1268.7 707.3 1270.8 C711.3 1273.0 713.1 1280.6 713.8 1286.0 C714.6 1291.4 712.0 1300.4 711.7 1303.3" fill="none" stroke="#3c3ca8" stroke-width="2.2" stroke-linecap="round" stroke-linejoin="round" opacity="1"/><path d="M711.7 1312.0 C710.2 1314.2 708.1 1324.3 703.0 1325.0 C698.0 1325.7 687.1 1314.9 681.3 1316.3 C675.6 1317.8 671.2 1327.9 668.3 1333.7 C665.5 1339.5 663.3 1346.0 664.0 1351.0 C664.7 1356.1 668.3 1360.4 672.7 1364.0 C677.0 1367.6 688.6 1369.1 690.0 1372.7 C691.5 1376.3 683.5 1381.3 681.3 1385.7 C679.2 1390.0 675.6 1395.1 677.0 1398.7 C678.5 1402.3 687.8 1405.9 690.0 1407.3" fill="none" stroke="#222270" stroke-width="3.4000000000000004" stroke-linecap="round" stroke-linejoin="round" opacity="1"/><path d="M711.7 1312.0 C710.2 1314.2 708.1 1324.3 703.0 1325.0 C698.0 1325.7 687.1 1314.9 681.3 1316.3 C675.6 1317.8 671.2 1327.9 668.3 1333.7 C665.5 1339.5 663.3 1346.0 664.0 1351.0 C664.7 1356.1 668.3 1360.4 672.7 1364.0 C677.0 1367.6 688.6 1369.1 690.0 1372.7 C691.5 1376.3 683.5 1381.3 681.3 1385.7 C679.2 1390.0 675.6 1395.1 677.0 1398.7 C678.5 1402.3 687.8 1405.9 690.0 1407.3" fill="none" stroke="#3c3ca8" stroke-width="2.2" stroke-linecap="round" stroke-linejoin="round" opacity="1"/><path d="M746.3 1299.0 C747.1 1301.9 751.4 1312.0 750.7 1316.3 C750.0 1320.7 744.2 1321.4 742.0 1325.0 C739.8 1328.6 740.6 1335.1 737.7 1338.0 C734.8 1340.9 729.0 1343.1 724.7 1342.3 C720.3 1341.6 713.8 1335.1 711.7 1333.7" fill="none" stroke="#222270" stroke-width="3.4000000000000004" stroke-linecap="round" stroke-linejoin="round" opacity="1"/><path d="M746.3 1299.0 C747.1 1301.9 751.4 1312.0 750.7 1316.3 C750.0 1320.7 744.2 1321.4 742.0 1325.0 C739.8 1328.6 740.6 1335.1 737.7 1338.0 C734.8 1340.9 729.0 1343.1 724.7 1342.3 C720.3 1341.6 713.8 1335.1 711.7 1333.7" fill="none" stroke="#3c3ca8" stroke-width="2.2" stroke-linecap="round" stroke-linejoin="round" opacity="1"/><path d="M755.0 1411.7 C757.9 1411.7 766.6 1412.0 772.4 1411.7 C778.1 1411.3 785.0 1408.8 789.7 1409.5 C794.4 1410.2 797.3 1412.0 800.5 1416.0 C803.8 1420.0 807.7 1430.5 809.2 1433.3" fill="none" stroke="#222270" stroke-width="3.4000000000000004" stroke-linecap="round" stroke-linejoin="round" opacity="1"/><path d="M755.0 1411.7 C757.9 1411.7 766.6 1412.0 772.4 1411.7 C778.1 1411.3 785.0 1408.8 789.7 1409.5 C794.4 1410.2 797.3 1412.0 800.5 1416.0 C803.8 1420.0 807.7 1430.5 809.2 1433.3" fill="none" stroke="#3c3ca8" stroke-width="2.2" stroke-linecap="round" stroke-linejoin="round" opacity="1"/><path d="M759.3 1420.3 C760.8 1422.5 765.1 1429.0 768.0 1433.3 C770.9 1437.7 777.4 1442.7 776.7 1446.3 C776.0 1450.0 768.0 1454.3 763.7 1455.0 C759.3 1455.7 755.0 1450.7 750.7 1450.7 C746.3 1450.7 739.8 1454.3 737.7 1455.0" fill="none" stroke="#222270" stroke-width="3.4000000000000004" stroke-linecap="round" stroke-linejoin="round" opacity="1"/><path d="M759.3 1420.3 C760.8 1422.5 765.1 1429.0 768.0 1433.3 C770.9 1437.7 777.4 1442.7 776.7 1446.3 C776.0 1450.0 768.0 1454.3 763.7 1455.0 C759.3 1455.7 755.0 1450.7 750.7 1450.7 C746.3 1450.7 739.8 1454.3 737.7 1455.0" fill="none" stroke="#3c3ca8" stroke-width="2.2" stroke-linecap="round" stroke-linejoin="round" opacity="1"/><path d="M655.3 1459.3 C656.1 1462.2 658.2 1472.4 659.7 1476.7 C661.1 1481.0 664.7 1481.7 664.0 1485.4 C663.3 1489.0 656.1 1493.3 655.3 1498.4 C654.6 1503.4 656.1 1511.4 659.7 1515.7 C663.3 1520.0 672.0 1523.6 677.0 1524.4 C682.1 1525.1 685.7 1519.3 690.0 1520.0 C694.3 1520.7 698.0 1527.6 703.0 1528.7 C708.1 1529.8 715.3 1528.7 720.3 1526.5 C725.4 1524.4 728.3 1517.9 733.3 1515.7 C738.4 1513.5 744.9 1515.7 750.7 1513.5 C756.5 1511.4 762.6 1507.0 768.0 1502.7 C773.4 1498.4 781.7 1492.6 783.2 1487.5 C784.6 1482.5 777.8 1474.9 776.7 1472.4" fill="none" stroke="#222270" stroke-width="3.4000000000000004" stroke-linecap="round" stroke-linejoin="round" opacity="1"/><path d="M655.3 1459.3 C656.1 1462.2 658.2 1472.4 659.7 1476.7 C661.1 1481.0 664.7 1481.7 664.0 1485.4 C663.3 1489.0 656.1 1493.3 655.3 1498.4 C654.6 1503.4 656.1 1511.4 659.7 1515.7 C663.3 1520.0 672.0 1523.6 677.0 1524.4 C682.1 1525.1 685.7 1519.3 690.0 1520.0 C694.3 1520.7 698.0 1527.6 703.0 1528.7 C708.1 1529.8 715.3 1528.7 720.3 1526.5 C725.4 1524.4 728.3 1517.9 733.3 1515.7 C738.4 1513.5 744.9 1515.7 750.7 1513.5 C756.5 1511.4 762.6 1507.0 768.0 1502.7 C773.4 1498.4 781.7 1492.6 783.2 1487.5 C784.6 1482.5 777.8 1474.9 776.7 1472.4" fill="none" stroke="#3c3ca8" stroke-width="2.2" stroke-linecap="round" stroke-linejoin="round" opacity="1"/><path d="M560.0 1504.9 C562.2 1504.5 568.7 1502.3 573.0 1502.7 C577.3 1503.0 580.9 1505.9 586.0 1507.0 C591.1 1508.1 598.3 1509.9 603.3 1509.2 C608.4 1508.5 612.7 1505.2 616.3 1502.7 C619.9 1500.2 621.4 1496.9 625.0 1494.0 C628.6 1491.1 633.7 1487.5 638.0 1485.4 C642.3 1483.2 646.0 1481.0 651.0 1481.0 C656.1 1481.0 665.5 1484.6 668.3 1485.4" fill="none" stroke="#222270" stroke-width="3.4000000000000004" stroke-linecap="round" stroke-linejoin="round" opacity="1"/><path d="M560.0 1504.9 C562.2 1504.5 568.7 1502.3 573.0 1502.7 C577.3 1503.0 580.9 1505.9 586.0 1507.0 C591.1 1508.1 598.3 1509.9 603.3 1509.2 C608.4 1508.5 612.7 1505.2 616.3 1502.7 C619.9 1500.2 621.4 1496.9 625.0 1494.0 C628.6 1491.1 633.7 1487.5 638.0 1485.4 C642.3 1483.2 646.0 1481.0 651.0 1481.0 C656.1 1481.0 665.5 1484.6 668.3 1485.4" fill="none" stroke="#3c3ca8" stroke-width="2.2" stroke-linecap="round" stroke-linejoin="round" opacity="1"/><path d="M694.3 1498.4 C696.5 1499.1 702.3 1502.3 707.3 1502.7 C712.4 1503.0 718.9 1502.0 724.7 1500.5 C730.5 1499.1 737.0 1495.8 742.0 1494.0 C747.1 1492.2 752.8 1490.4 755.0 1489.7" fill="none" stroke="#222270" stroke-width="3.2" stroke-linecap="round" stroke-linejoin="round" opacity="1"/><path d="M694.3 1498.4 C696.5 1499.1 702.3 1502.3 707.3 1502.7 C712.4 1503.0 718.9 1502.0 724.7 1500.5 C730.5 1499.1 737.0 1495.8 742.0 1494.0 C747.1 1492.2 752.8 1490.4 755.0 1489.7" fill="none" stroke="#3c3ca8" stroke-width="2.0" stroke-linecap="round" stroke-linejoin="round" opacity="1"/><path d="M724.7 1450.7 C726.8 1454.3 733.3 1466.6 737.7 1472.4 C742.0 1478.1 746.3 1484.6 750.7 1485.4 C755.0 1486.1 761.5 1478.1 763.7 1476.7" fill="none" stroke="#222270" stroke-width="3.2" stroke-linecap="round" stroke-linejoin="round" opacity="1"/><path d="M724.7 1450.7 C726.8 1454.3 733.3 1466.6 737.7 1472.4 C742.0 1478.1 746.3 1484.6 750.7 1485.4 C755.0 1486.1 761.5 1478.1 763.7 1476.7" fill="none" stroke="#3c3ca8" stroke-width="2.0" stroke-linecap="round" stroke-linejoin="round" opacity="1"/><path d="M537.0 1549.0 C536.3 1545.0 534.2 1532.3 533.0 1525.0 C531.8 1517.7 528.0 1509.2 530.0 1505.0 C532.0 1500.8 540.8 1501.5 545.0 1500.0 C549.2 1498.5 550.0 1496.3 555.0 1496.0 C560.0 1495.7 567.5 1499.0 575.0 1498.0 C582.5 1497.0 592.5 1492.0 600.0 1490.0 C607.5 1488.0 613.3 1488.0 620.0 1486.0 C626.7 1484.0 634.2 1480.7 640.0 1478.0 C645.8 1475.3 650.3 1473.0 655.0 1470.0 C659.7 1467.0 665.8 1461.7 668.0 1460.0" fill="none" stroke="#222270" stroke-width="3.4000000000000004" stroke-linecap="round" stroke-linejoin="round" opacity="1"/><path d="M537.0 1549.0 C536.3 1545.0 534.2 1532.3 533.0 1525.0 C531.8 1517.7 528.0 1509.2 530.0 1505.0 C532.0 1500.8 540.8 1501.5 545.0 1500.0 C549.2 1498.5 550.0 1496.3 555.0 1496.0 C560.0 1495.7 567.5 1499.0 575.0 1498.0 C582.5 1497.0 592.5 1492.0 600.0 1490.0 C607.5 1488.0 613.3 1488.0 620.0 1486.0 C626.7 1484.0 634.2 1480.7 640.0 1478.0 C645.8 1475.3 650.3 1473.0 655.0 1470.0 C659.7 1467.0 665.8 1461.7 668.0 1460.0" fill="none" stroke="#3c3ca8" stroke-width="2.2" stroke-linecap="round" stroke-linejoin="round" opacity="1"/><g transform="translate(648.8 1303.3) rotate(-16.4)" opacity="1"><rect x="0" y="-16.0" width="38.4" height="32.0" rx="9.6" fill="#30308a"/><path d="M0.0 -16.0 Q12.6 0 4.9 16.0 L11.2 16.0 Q18.9 0 6.3 -16.0 Z" fill="#4040b8"/><path d="M14.0 -16.0 Q26.6 0 18.9 16.0 L25.2 16.0 Q32.9 0 20.3 -16.0 Z" fill="#4040b8"/></g><g transform="translate(711.7 1303.3) rotate(-3.6)" opacity="1"><rect x="0" y="-14.0" width="34.7" height="28.0" rx="8.4" fill="#30308a"/><path d="M0.0 -14.0 Q11.7 0 4.5 14.0 L10.4 14.0 Q17.6 0 5.9 -14.0 Z" fill="#4040b8"/><path d="M13.0 -14.0 Q24.7 0 17.6 14.0 L23.4 14.0 Q30.6 0 18.9 -14.0 Z" fill="#4040b8"/></g><g transform="translate(681.3 1342.3) rotate(0.0)" fill="none" opacity="1"><ellipse cx="0.0" cy="0.0" rx="14.0" ry="13.0" stroke="#1f1f60" stroke-width="3"/><ellipse cx="4.0" cy="-2.0" rx="14.0" ry="13.0" stroke="#24246c" stroke-width="3"/><ellipse cx="8.0" cy="-4.0" rx="14.0" ry="13.0" stroke="#282879" stroke-width="3"/><ellipse cx="12.0" cy="-6.0" rx="14.0" ry="13.0" stroke="#2c2c86" stroke-width="3"/><ellipse cx="16.0" cy="-8.0" rx="14.0" ry="13.0" stroke="#303093" stroke-width="3"/><ellipse cx="20.0" cy="-10.0" rx="14.0" ry="13.0" stroke="#3535a0" stroke-width="3"/></g><g transform="translate(742.0 1374.8) rotate(0.0)" fill="none" opacity="1"><ellipse cx="0.0" cy="0.0" rx="15.0" ry="14.0" stroke="#181849" stroke-width="3"/><ellipse cx="1.0" cy="0.0" rx="15.0" ry="14.0" stroke="#202061" stroke-width="3"/><ellipse cx="2.0" cy="0.0" rx="15.0" ry="14.0" stroke="#28287a" stroke-width="3"/></g><g transform="translate(687.8 1398.7) rotate(0.0)" fill="none" opacity="1"><ellipse cx="0.0" cy="0.0" rx="11.0" ry="11.0" stroke="#2c2c69" stroke-width="2.6"/><ellipse cx="1.0" cy="0.0" rx="11.0" ry="11.0" stroke="#3b3b8c" stroke-width="2.6"/><ellipse cx="2.0" cy="0.0" rx="11.0" ry="11.0" stroke="#4a4ab0" stroke-width="2.6"/></g><g transform="translate(694.3 1364.0) rotate(26.6)" opacity="1"><path d="M0 -5.0 L13.6 -5.0 L13.6 -10.0 L19.4 0 L13.6 10.0 L13.6 5.0 L0 5.0 Z" fill="#3030a0"/><path d="M0 1.7 L13.6 1.7 L13.6 5.0 L0 5.0 Z" fill="#212170"/></g><g transform="translate(698.7 1411.7) rotate(123.7)" opacity="1"><path d="M0 -5.0 L10.9 -5.0 L10.9 -10.0 L15.6 0 L10.9 10.0 L10.9 5.0 L0 5.0 Z" fill="#28287a"/><path d="M0 1.7 L10.9 1.7 L10.9 5.0 L0 5.0 Z" fill="#1c1c55"/></g><g transform="translate(733.3 1407.3) rotate(118.8)" opacity="1"><path d="M0 -6.0 L34.6 -6.0 L34.6 -12.0 L49.5 0 L34.6 12.0 L34.6 6.0 L0 6.0 Z" fill="#3030a0"/><path d="M0 2.0 L34.6 2.0 L34.6 6.0 L0 6.0 Z" fill="#212170"/></g><g transform="translate(752.8 1416.0) rotate(112.2)" opacity="1"><path d="M0 -7.0 L36.1 -7.0 L36.1 -14.0 L51.5 0 L36.1 14.0 L36.1 7.0 L0 7.0 Z" fill="#3535a8"/><path d="M0 2.3 L36.1 2.3 L36.1 7.0 L0 7.0 Z" fill="#252575"/></g><g transform="translate(772.4 1452.8) rotate(125.2)" opacity="1"><path d="M0 -6.0 L31.6 -6.0 L31.6 -12.0 L45.1 0 L31.6 12.0 L31.6 6.0 L0 6.0 Z" fill="#3535a8"/><path d="M0 2.0 L31.6 2.0 L31.6 6.0 L0 6.0 Z" fill="#252575"/></g><g transform="translate(685.7 1472.4) rotate(0.0)" fill="none" opacity="1"><ellipse cx="0.0" cy="0.0" rx="14.0" ry="14.0" stroke="#181849" stroke-width="3.2"/><ellipse cx="5.0" cy="-4.0" rx="14.0" ry="14.0" stroke="#1b1b52" stroke-width="3.2"/><ellipse cx="10.0" cy="-8.0" rx="14.0" ry="14.0" stroke="#1e1e5c" stroke-width="3.2"/><ellipse cx="15.0" cy="-12.0" rx="14.0" ry="14.0" stroke="#212166" stroke-width="3.2"/><ellipse cx="20.0" cy="-16.0" rx="14.0" ry="14.0" stroke="#242470" stroke-width="3.2"/><ellipse cx="25.0" cy="-20.0" rx="14.0" ry="14.0" stroke="#28287a" stroke-width="3.2"/></g></g><g><g transform="translate(587.5 1308.8) rotate(60.8)" opacity="1"><rect x="0" y="-13.0" width="35.8" height="26.0" rx="7.8" fill="#a52525"/><path d="M0.0 -13.0 Q10.8 0 4.2 13.0 L9.6 13.0 Q16.2 0 5.4 -13.0 Z" fill="#dc3232"/><path d="M12.0 -13.0 Q22.8 0 16.2 13.0 L21.6 13.0 Q28.2 0 17.4 -13.0 Z" fill="#dc3232"/></g><g transform="translate(571.2 1336.2) rotate(23.6)" opacity="1"><rect x="0" y="-8.0" width="21.8" height="16.0" rx="4.8" fill="#781b1b"/><path d="M0.0 -8.0 Q7.2 0 2.8 8.0 L6.4 8.0 Q10.8 0 3.6 -8.0 Z" fill="#a02424"/><path d="M8.0 -8.0 Q15.2 0 10.8 8.0 L14.4 8.0 Q18.8 0 11.6 -8.0 Z" fill="#a02424"/></g><g transform="translate(577.5 1350.0) rotate(56.3)" opacity="1"><rect x="0" y="-13.5" width="45.1" height="27.0" rx="8.1" fill="#a52525"/><path d="M0.0 -13.5 Q10.8 0 4.2 13.5 L9.6 13.5 Q16.2 0 5.4 -13.5 Z" fill="#dc3232"/><path d="M12.0 -13.5 Q22.8 0 16.2 13.5 L21.6 13.5 Q28.2 0 17.4 -13.5 Z" fill="#dc3232"/><path d="M24.0 -13.5 Q34.8 0 28.2 13.5 L33.6 13.5 Q40.2 0 29.4 -13.5 Z" fill="#dc3232"/></g><g transform="translate(567.5 1385.0) rotate(20.6)" opacity="1"><rect x="0" y="-8.0" width="21.4" height="16.0" rx="4.8" fill="#671616"/><path d="M0.0 -8.0 Q7.2 0 2.8 8.0 L6.4 8.0 Q10.8 0 3.6 -8.0 Z" fill="#8a1e1e"/><path d="M8.0 -8.0 Q15.2 0 10.8 8.0 L14.4 8.0 Q18.8 0 11.6 -8.0 Z" fill="#8a1e1e"/></g><g transform="translate(585.0 1395.0) rotate(45.0)" opacity="1"><rect x="0" y="-12.0" width="28.3" height="24.0" rx="7.2" fill="#8a2424"/><path d="M0.0 -12.0 Q10.8 0 4.2 12.0 L9.6 12.0 Q16.2 0 5.4 -12.0 Z" fill="#b83030"/><path d="M12.0 -12.0 Q22.8 0 16.2 12.0 L21.6 12.0 Q28.2 0 17.4 -12.0 Z" fill="#b83030"/></g><g transform="translate(590.0 1442.5) rotate(0.0)" fill="none" opacity="1"><ellipse cx="0.0" cy="0.0" rx="15.0" ry="15.0" stroke="#691515" stroke-width="3.2"/><ellipse cx="1.5" cy="-4.0" rx="15.0" ry="15.0" stroke="#7b1919" stroke-width="3.2"/><ellipse cx="3.0" cy="-8.0" rx="15.0" ry="15.0" stroke="#8c1c1c" stroke-width="3.2"/><ellipse cx="4.5" cy="-12.0" rx="15.0" ry="15.0" stroke="#9e2020" stroke-width="3.2"/><ellipse cx="6.0" cy="-16.0" rx="15.0" ry="15.0" stroke="#b02424" stroke-width="3.2"/></g><g transform="translate(630.0 1312.5) rotate(38.9)" opacity="1"><rect x="0" y="-13.0" width="41.8" height="26.0" rx="7.8" fill="#a52525"/><path d="M0.0 -13.0 Q10.8 0 4.2 13.0 L9.6 13.0 Q16.2 0 5.4 -13.0 Z" fill="#dc3232"/><path d="M12.0 -13.0 Q22.8 0 16.2 13.0 L21.6 13.0 Q28.2 0 17.4 -13.0 Z" fill="#dc3232"/><path d="M24.0 -13.0 Q34.8 0 28.2 13.0 L33.6 13.0 Q40.2 0 29.4 -13.0 Z" fill="#dc3232"/></g><g transform="translate(630.0 1350.0) rotate(37.9)" opacity="1"><rect x="0" y="-11.0" width="28.5" height="22.0" rx="6.6" fill="#9c2424"/><path d="M0.0 -11.0 Q9.9 0 3.8 11.0 L8.8 11.0 Q14.9 0 5.0 -11.0 Z" fill="#d03030"/><path d="M11.0 -11.0 Q20.9 0 14.8 11.0 L19.8 11.0 Q25.9 0 15.9 -11.0 Z" fill="#d03030"/></g><g transform="translate(625.0 1375.0) rotate(18.4)" opacity="1"><rect x="0" y="-10.0" width="39.5" height="20.0" rx="6.0" fill="#671616"/><path d="M0.0 -10.0 Q8.1 0 3.1 10.0 L7.2 10.0 Q12.2 0 4.0 -10.0 Z" fill="#8a1e1e"/><path d="M9.0 -10.0 Q17.1 0 12.2 10.0 L16.2 10.0 Q21.1 0 13.1 -10.0 Z" fill="#8a1e1e"/><path d="M18.0 -10.0 Q26.1 0 21.1 10.0 L25.2 10.0 Q30.1 0 22.1 -10.0 Z" fill="#8a1e1e"/><path d="M27.0 -10.0 Q35.1 0 30.1 10.0 L34.2 10.0 Q39.1 0 31.1 -10.0 Z" fill="#8a1e1e"/></g><g transform="translate(627.5 1387.5) rotate(48.4)" opacity="1"><rect x="0" y="-13.0" width="30.1" height="26.0" rx="7.8" fill="#a52525"/><path d="M0.0 -13.0 Q10.8 0 4.2 13.0 L9.6 13.0 Q16.2 0 5.4 -13.0 Z" fill="#dc3232"/><path d="M12.0 -13.0 Q22.8 0 16.2 13.0 L21.6 13.0 Q28.2 0 17.4 -13.0 Z" fill="#dc3232"/></g><g transform="translate(642.5 1436.2) rotate(0.0)" fill="none" opacity="1"><ellipse cx="0.0" cy="0.0" rx="16.0" ry="15.0" stroke="#6e1818" stroke-width="3.2"/><ellipse cx="1.5" cy="-4.0" rx="16.0" ry="15.0" stroke="#801c1c" stroke-width="3.2"/><ellipse cx="3.0" cy="-8.0" rx="16.0" ry="15.0" stroke="#932020" stroke-width="3.2"/><ellipse cx="4.5" cy="-12.0" rx="16.0" ry="15.0" stroke="#a52424" stroke-width="3.2"/><ellipse cx="6.0" cy="-16.0" rx="16.0" ry="15.0" stroke="#b82828" stroke-width="3.2"/></g></g><g fill="none" stroke="#30c030" stroke-width="1.9" stroke-linejoin="round" stroke-linecap="round"><path d="M599.5 1424.8 L603.9 1427.0 L608.1 1422.7 L607.8 1426.7" /><path d="M599.9 1401.1 L603.9 1397.7 L603.6 1395.4 L604.1 1396.0" /><path d="M625.8 1341.3 L629.9 1343.7 L626.5 1346.3 L622.9 1347.4" /><path d="M616.8 1316.5 L611.8 1319.9 L608.9 1317.3 L613.7 1320.7" /><path d="M607.3 1383.4 L609.0 1380.7 L613.5 1382.4 L618.1 1386.0" /><path d="M650.6 1344.4 L649.3 1341.4 L645.7 1337.5 L643.7 1338.4" /><path d="M637.1 1350.7 L635.2 1353.6 L635.0 1351.9 L634.8 1353.8" /><path d="M616.4 1305.2 L621.2 1300.9 L623.7 1304.0 L618.9 1306.6" /><path d="M603.7 1297.5 L599.2 1294.6 L603.7 1291.9 L606.3 1295.7" /><path d="M629.7 1448.6 L628.2 1447.3 L628.4 1449.8 L624.5 1452.0" /><path d="M624.1 1301.9 L628.6 1298.3 L627.0 1299.3 L631.2 1297.8" /><path d="M589.5 1445.7 L589.9 1444.0 L588.1 1441.1 L583.9 1438.0" /><path d="M598.3 1322.2 L593.8 1326.5 L594.2 1325.7 L591.5 1326.5" /><path d="M572.1 1429.9 L571.6 1429.2 L567.2 1432.9 L562.5 1432.8" /><path d="M619.9 1414.5 L624.4 1415.7 L627.3 1412.2 L626.6 1409.0" /><path d="M609.7 1432.8 L607.7 1432.4 L612.6 1435.6 L617.4 1435.2" /><path d="M593.4 1373.6 L591.3 1372.7 L587.8 1371.6 L592.7 1375.8" /><path d="M617.7 1397.6 L617.7 1396.1 L613.6 1394.1 L616.4 1397.4" /><path d="M600.2 1421.5 L602.1 1423.0 L604.7 1421.8 L606.8 1419.8" /><path d="M634.8 1374.7 L637.5 1376.4 L635.4 1380.4 L636.9 1381.1" /><path d="M633.6 1336.6 L635.3 1336.3 L638.5 1337.6 L641.4 1336.2" /><path d="M617.3 1400.3 L619.7 1403.3 L618.2 1406.4 L621.9 1408.1" /><path d="M650.7 1379.9 L651.0 1376.9 L654.3 1380.9 L654.1 1382.6" /><path d="M610.8 1412.6 L613.1 1409.6 L615.9 1410.4 L617.5 1409.7" /><path d="M598.8 1399.2 L601.0 1394.9 L597.6 1394.4 L599.1 1391.9" /><path d="M599.0 1407.1 L600.4 1403.0 L600.1 1400.5 L595.6 1397.2" /><path d="M612.4 1327.3 L607.7 1327.0 L606.5 1328.0 L607.4 1325.7" /><path d="M624.1 1442.3 L619.1 1441.5 L616.9 1440.7 L613.0 1443.6" /><path d="M613.3 1395.4 L609.3 1395.8 L607.7 1396.5 L612.3 1399.4" /><path d="M618.7 1363.9 L621.8 1365.2 L620.5 1362.0 L621.5 1362.5" /><path d="M651.4 1394.6 L649.9 1398.1 L644.9 1394.6 L645.6 1395.6" /><path d="M606.2 1318.8 L607.5 1322.3 L606.3 1321.7 L603.6 1319.8" /><path d="M629.5 1451.7 L633.6 1452.6 L631.2 1456.9 L631.2 1456.1" /><path d="M613.6 1347.7 L618.5 1347.6 L616.4 1347.4 L612.6 1348.5" /><path d="M605.1 1422.6 L608.3 1418.3 L608.7 1416.2 L613.0 1418.8" /><path d="M620.1 1335.8 L617.7 1332.7 L622.6 1330.8 L623.7 1330.6" /><path d="M604.3 1416.4 L600.5 1418.8 L598.5 1419.1 L596.9 1417.3" /><path d="M601.0 1381.8 L600.6 1380.6 L603.0 1381.4 L598.4 1379.2" /><path d="M586.0 1439.8 L586.5 1435.5 L589.2 1434.8 L590.0 1436.7" /><path d="M624.6 1398.4 L624.4 1402.1 L623.3 1401.2 L626.8 1398.4" /><path d="M608.4 1306.7 L611.8 1308.5 L611.1 1306.5 L613.9 1310.2" /><path d="M641.2 1319.1 L641.0 1319.6 L641.0 1318.0 L637.5 1318.8" /><path d="M618.0 1333.3 L621.2 1335.9 L622.8 1331.6 L625.1 1335.9" /><path d="M611.1 1457.7 L613.1 1453.7 L616.6 1451.1 L618.0 1455.2" /><path d="M614.2 1343.4 L618.4 1340.2 L619.5 1339.5 L616.1 1340.6" /><path d="M608.7 1303.1 L604.8 1302.0 L600.5 1298.0 L601.2 1300.2" /><path d="M621.4 1365.9 L619.6 1366.8 L619.5 1370.8 L618.2 1366.8" /><path d="M610.8 1409.0 L607.3 1410.1 L607.4 1413.8 L607.9 1414.9" /><path d="M614.5 1337.2 L617.0 1337.3 L613.4 1334.9 L612.1 1337.1" /><path d="M633.7 1325.0 L635.8 1326.4 L631.7 1328.0 L627.6 1324.6" /><path d="M607.4 1438.1 L607.2 1436.5 L610.2 1432.2 L612.4 1428.2" /><path d="M610.2 1320.4 L614.8 1322.1 L612.0 1318.6 L616.7 1320.1" /><path d="M619.3 1397.2 L617.8 1394.8 L616.2 1395.9 L614.7 1394.8" /><path d="M609.1 1318.1 L612.4 1319.4 L615.4 1318.8 L618.9 1319.0" /><path d="M600.7 1415.9 L599.7 1412.3 L595.0 1409.6 L590.4 1413.1" /><path d="M606.0 1373.9 L608.6 1369.4 L608.3 1372.9 L609.5 1372.3" /><path d="M609.7 1321.1 L606.3 1319.9 L605.2 1323.4 L601.7 1321.1" /><path d="M617.4 1340.9 L614.0 1339.0 L611.3 1338.9 L606.7 1342.7" /><path d="M593.6 1407.4 L595.3 1407.2 L599.8 1403.7 L601.4 1401.8" /><path d="M640.2 1405.3 L642.5 1402.2 L639.5 1398.0 L636.8 1394.2" /><path d="M585.3 1355.0 L583.4 1354.7 L581.3 1356.8 L583.4 1353.8" /><path d="M638.0 1335.0 L639.7 1338.9 L641.2 1338.3 L645.9 1333.9" /><path d="M638.6 1362.4 L634.0 1362.9 L638.9 1363.1 L637.4 1359.4" /><path d="M625.1 1307.5 L629.1 1307.5 L633.4 1303.4 L630.9 1299.4" /><path d="M612.1 1337.4 L611.1 1335.6 L606.6 1331.5 L611.4 1328.6" /><path d="M619.0 1378.4 L618.0 1378.7 L613.8 1377.0 L609.9 1377.4" /><path d="M632.6 1434.8 L629.8 1430.5 L630.2 1430.3 L630.9 1429.2" /><path d="M607.0 1397.3 L609.3 1401.0 L607.4 1400.5 L610.6 1398.0" /><path d="M625.0 1310.2 L627.8 1313.1 L625.9 1309.7 L621.7 1307.4" /><path d="M624.0 1309.7 L623.3 1310.4 L620.8 1306.4 L622.8 1302.3" /><path d="M619.6 1356.5 L615.5 1355.8 L613.7 1358.1 L614.2 1361.7" /><path d="M626.9 1402.0 L629.5 1402.6 L628.9 1405.5 L630.5 1409.6" /><path d="M613.0 1339.4 L616.1 1338.3 L612.4 1334.4 L609.1 1332.3" /><path d="M594.4 1405.5 L592.3 1401.6 L594.9 1402.1 L590.2 1398.0" /><path d="M625.0 1435.3 L629.5 1436.3 L626.8 1435.7 L625.4 1434.1" /><path d="M625.6 1298.0 L626.4 1301.0 L628.7 1297.3 L629.0 1294.4" /><path d="M612.2 1448.0 L615.1 1444.6 L613.3 1448.3 L612.9 1447.7" /><path d="M601.3 1367.5 L603.9 1371.4 L604.3 1375.7 L605.2 1372.1" /><path d="M621.7 1304.5 L626.5 1300.3 L627.3 1300.1 L631.1 1299.1" /><path d="M602.6 1330.9 L600.3 1328.2 L601.0 1327.0 L603.5 1324.6" /><path d="M609.7 1455.2 L613.1 1458.3 L614.3 1457.4 L610.7 1460.4" /><path d="M624.5 1375.4 L619.9 1372.4 L615.9 1374.4 L619.9 1371.7" /><path d="M619.6 1406.6 L623.2 1407.7 L626.2 1406.6 L621.3 1406.7" /><path d="M604.1 1391.0 L601.0 1390.0 L599.2 1385.8 L597.3 1384.7" /><path d="M594.4 1360.7 L599.2 1363.5 L603.5 1365.2 L605.2 1365.6" /><path d="M619.3 1425.4 L617.9 1426.2 L619.7 1426.4 L617.5 1422.6" /><path d="M627.2 1390.0 L629.8 1392.0 L627.9 1395.8 L625.6 1397.8" /><path d="M622.8 1307.7 L625.4 1309.2 L629.9 1312.8 L631.8 1315.8" /><path d="M614.6 1329.8 L614.8 1333.4 L612.2 1337.7 L612.6 1336.7" /><path d="M596.8 1296.5 L595.7 1293.6 L597.2 1297.2 L601.3 1298.2" /><path d="M610.9 1407.6 L611.4 1409.5 L610.2 1413.0 L607.3 1411.3" /><path d="M620.4 1339.4 L621.6 1342.9 L618.3 1344.1 L621.0 1341.7" /><path d="M632.7 1430.5 L636.5 1432.6 L635.7 1431.9 L635.9 1435.5" /><path d="M622.9 1345.0 L620.7 1345.9 L625.4 1343.1 L620.7 1339.7" /><path d="M598.4 1325.8 L595.3 1326.6 L596.8 1328.4 L599.1 1324.4" /><path d="M608.7 1374.5 L612.1 1378.6 L610.2 1381.8 L611.7 1385.6" /><path d="M618.8 1432.2 L618.6 1428.6 L615.5 1425.5 L611.5 1422.4" /><path d="M637.4 1395.7 L633.5 1398.1 L635.9 1400.9 L638.9 1402.8" /><path d="M647.2 1397.3 L651.8 1393.7 L647.9 1389.8 L644.9 1388.6" /><path d="M599.9 1370.3 L601.7 1372.5 L597.5 1371.6 L598.0 1370.5" /><path d="M630.0 1356.7 L631.8 1356.6 L636.4 1360.6 L632.1 1363.0" /><path d="M628.7 1412.8 L626.7 1409.4 L626.5 1408.1 L628.8 1411.8" /><path d="M607.4 1376.8 L609.4 1379.4 L610.2 1377.6 L608.5 1380.7" /><path d="M623.8 1380.1 L619.3 1379.4 L616.7 1380.9 L612.4 1378.8" /><path d="M629.1 1455.5 L629.6 1454.5 L633.9 1450.8 L632.4 1453.6" /><path d="M625.1 1296.8 L627.7 1295.6 L622.9 1293.3 L622.5 1292.3" /><path d="M611.4 1331.4 L616.1 1330.9 L615.9 1327.2 L613.7 1331.3" /><path d="M615.5 1407.3 L615.6 1403.3 L614.5 1405.8 L613.9 1406.6" /><path d="M632.5 1399.0 L627.8 1394.7 L630.5 1393.9 L634.3 1396.9" /><path d="M604.4 1444.3 L603.2 1448.8 L605.7 1452.3 L602.2 1454.8" /><path d="M582.9 1457.1 L580.1 1456.3 L577.8 1456.1 L575.7 1457.6" /><path d="M633.6 1316.0 L630.3 1315.6 L626.0 1314.5 L630.0 1318.0" /><path d="M616.9 1430.2 L621.5 1431.1 L617.9 1428.7 L622.1 1432.6" /><path d="M618.6 1301.0 L615.4 1300.4 L613.1 1302.7 L611.8 1305.2" /><path d="M625.8 1453.9 L627.8 1450.3 L623.9 1451.5 L622.7 1450.4" /><path d="M629.8 1373.4 L630.6 1377.6 L628.0 1378.2 L625.7 1378.6" /><path d="M615.1 1373.9 L617.2 1369.5 L619.9 1368.8 L619.9 1369.8" /><path d="M608.6 1424.4 L604.1 1424.5 L599.5 1423.4 L598.0 1419.1" /><path d="M611.5 1402.1 L615.7 1400.9 L616.0 1402.8 L620.4 1406.9" /><path d="M630.6 1456.1 L628.6 1453.1 L633.0 1449.3 L632.4 1451.4" /><path d="M602.3 1445.8 L600.3 1446.2 L603.6 1443.0 L602.1 1442.9" /><path d="M613.5 1387.7 L610.6 1387.3 L606.2 1383.6 L604.6 1380.3" /><path d="M626.7 1340.7 L629.6 1342.8 L627.2 1345.8 L628.4 1344.8" /><path d="M613.8 1397.9 L611.2 1395.7 L615.0 1395.2 L619.0 1392.3" /><path d="M619.0 1415.8 L619.6 1411.4 L615.0 1414.3 L615.0 1417.7" /><path d="M619.5 1302.4 L620.4 1299.0 L622.6 1300.0 L623.7 1297.5" /><path d="M622.4 1306.4 L624.3 1302.7 L620.0 1302.4 L621.4 1305.9" /><path d="M613.9 1412.8 L609.6 1414.1 L613.0 1410.7 L615.5 1408.5" /><path d="M615.8 1418.8 L615.9 1422.4 L615.6 1419.3 L612.7 1417.2" /><path d="M616.7 1449.4 L613.8 1445.7 L612.3 1441.9 L611.6 1443.0" /></g><clipPath id="gclip"><rect x="882" y="1220" width="318" height="382"/></clipPath><defs><filter id="gmGray" x="-5%" y="-5%" width="110%" height="110%" color-interpolation-filters="sRGB"><feGaussianBlur in="SourceAlpha" stdDeviation="2.6" result="h"/><feDiffuseLighting in="h" surfaceScale="11" diffuseConstant="0.98" lighting-color="#f2f2f2" result="L0"><feDistantLight azimuth="235" elevation="50"/></feDiffuseLighting><feFlood flood-color="#f2f2f2" result="fl"/><feComposite in="L0" in2="fl" operator="arithmetic" k2="1.0" k3="0.2" result="L"/><feComponentTransfer in="SourceAlpha" result="m"><feFuncA type="linear" slope="6" intercept="-1.2"/></feComponentTransfer><feComposite in="L" in2="m" operator="in"/></filter><filter id="gmGrayD" x="-5%" y="-5%" width="110%" height="110%" color-interpolation-filters="sRGB"><feGaussianBlur in="SourceAlpha" stdDeviation="2.6" result="h"/><feDiffuseLighting in="h" surfaceScale="11" diffuseConstant="0.98" lighting-color="#bababa" result="L0"><feDistantLight azimuth="235" elevation="50"/></feDiffuseLighting><feFlood flood-color="#bababa" result="fl"/><feComposite in="L0" in2="fl" operator="arithmetic" k2="1.0" k3="0.2" result="L"/><feComponentTransfer in="SourceAlpha" result="m"><feFuncA type="linear" slope="6" intercept="-1.2"/></feComponentTransfer><feComposite in="L" in2="m" operator="in"/></filter><filter id="gmBlue" x="-5%" y="-5%" width="110%" height="110%" color-interpolation-filters="sRGB"><feGaussianBlur in="SourceAlpha" stdDeviation="2.6" result="h"/><feDiffuseLighting in="h" surfaceScale="11" diffuseConstant="0.98" lighting-color="#1018f4" result="L0"><feDistantLight azimuth="235" elevation="50"/></feDiffuseLighting><feFlood flood-color="#1018f4" result="fl"/><feComposite in="L0" in2="fl" operator="arithmetic" k2="1.0" k3="0.2" result="L"/><feComponentTransfer in="SourceAlpha" result="m"><feFuncA type="linear" slope="6" intercept="-1.2"/></feComponentTransfer><feComposite in="L" in2="m" operator="in"/></filter><filter id="gmGrn" x="-5%" y="-5%" width="110%" height="110%" color-interpolation-filters="sRGB"><feGaussianBlur in="SourceAlpha" stdDeviation="2.6" result="h"/><feDiffuseLighting in="h" surfaceScale="11" diffuseConstant="0.98" lighting-color="#9cec9c" result="L0"><feDistantLight azimuth="235" elevation="50"/></feDiffuseLighting><feFlood flood-color="#9cec9c" result="fl"/><feComposite in="L0" in2="fl" operator="arithmetic" k2="1.0" k3="0.2" result="L"/><feComponentTransfer in="SourceAlpha" result="m"><feFuncA type="linear" slope="6" intercept="-1.2"/></feComponentTransfer><feComposite in="L" in2="m" operator="in"/></filter><filter id="gmRed" x="-5%" y="-5%" width="110%" height="110%" color-interpolation-filters="sRGB"><feGaussianBlur in="SourceAlpha" stdDeviation="2.6" result="h"/><feDiffuseLighting in="h" surfaceScale="11" diffuseConstant="0.98" lighting-color="#f41818" result="L0"><feDistantLight azimuth="235" elevation="50"/></feDiffuseLighting><feFlood flood-color="#f41818" result="fl"/><feComposite in="L0" in2="fl" operator="arithmetic" k2="1.0" k3="0.2" result="L"/><feComponentTransfer in="SourceAlpha" result="m"><feFuncA type="linear" slope="6" intercept="-1.2"/></feComponentTransfer><feComposite in="L" in2="m" operator="in"/></filter><filter id="gmRedD" x="-5%" y="-5%" width="110%" height="110%" color-interpolation-filters="sRGB"><feGaussianBlur in="SourceAlpha" stdDeviation="2.6" result="h"/><feDiffuseLighting in="h" surfaceScale="11" diffuseConstant="0.98" lighting-color="#c81010" result="L0"><feDistantLight azimuth="235" elevation="50"/></feDiffuseLighting><feFlood flood-color="#c81010" result="fl"/><feComposite in="L0" in2="fl" operator="arithmetic" k2="1.0" k3="0.2" result="L"/><feComponentTransfer in="SourceAlpha" result="m"><feFuncA type="linear" slope="6" intercept="-1.2"/></feComponentTransfer><feComposite in="L" in2="m" operator="in"/></filter></defs><g clip-path="url(#gclip)"><g filter="url(#gmGray)"><g fill="url(#ag)"><circle cx="897.5" cy="1232.8" r="10.4"/><circle cx="894.1" cy="1237.3" r="10.2"/><circle cx="881.7" cy="1241.6" r="12.5"/><circle cx="879.3" cy="1247.8" r="14.7"/><circle cx="910.0" cy="1244.6" r="12.5"/><circle cx="897.1" cy="1252.2" r="16.1"/><circle cx="904.9" cy="1250.9" r="12.5"/><circle cx="914.0" cy="1254.9" r="8.6"/><circle cx="904.9" cy="1261.5" r="12.9"/><circle cx="925.4" cy="1255.8" r="12.1"/><circle cx="894.3" cy="1266.9" r="14.7"/><circle cx="938.2" cy="1255.6" r="9.7"/><circle cx="1035.3" cy="1230.0" r="12.6"/><circle cx="930.8" cy="1263.9" r="10.7"/><circle cx="922.8" cy="1266.7" r="16.6"/><circle cx="890.5" cy="1278.8" r="15.7"/><circle cx="907.8" cy="1274.0" r="12.8"/><circle cx="942.5" cy="1264.0" r="14.9"/><circle cx="919.5" cy="1271.9" r="16.6"/><circle cx="1032.7" cy="1238.6" r="8.6"/><circle cx="967.6" cy="1258.7" r="10.5"/><circle cx="1026.0" cy="1241.3" r="10.6"/><circle cx="934.5" cy="1270.4" r="10.3"/><circle cx="992.8" cy="1253.0" r="14.1"/><circle cx="979.1" cy="1258.0" r="15.8"/><circle cx="890.4" cy="1285.1" r="11.3"/><circle cx="1007.0" cy="1251.2" r="8.0"/><circle cx="880.4" cy="1290.0" r="13.0"/><circle cx="901.9" cy="1283.8" r="16.5"/><circle cx="1047.3" cy="1240.5" r="14.2"/><circle cx="957.6" cy="1267.7" r="10.3"/><circle cx="990.4" cy="1260.6" r="11.8"/><circle cx="1009.2" cy="1255.4" r="9.0"/><circle cx="962.7" cy="1270.3" r="13.7"/><circle cx="1023.6" cy="1253.1" r="14.6"/><circle cx="1004.7" cy="1259.0" r="16.2"/><circle cx="939.6" cy="1279.3" r="16.2"/><circle cx="958.8" cy="1274.6" r="12.9"/><circle cx="1054.3" cy="1246.2" r="10.3"/><circle cx="1040.7" cy="1252.0" r="10.9"/><circle cx="921.0" cy="1289.4" r="8.8"/><circle cx="990.4" cy="1270.6" r="13.1"/><circle cx="939.0" cy="1286.1" r="13.5"/><circle cx="1015.7" cy="1263.7" r="9.7"/><circle cx="1027.4" cy="1260.4" r="8.6"/><circle cx="930.1" cy="1290.5" r="15.4"/><circle cx="899.3" cy="1301.9" r="15.1"/><circle cx="921.0" cy="1295.7" r="10.3"/><circle cx="978.5" cy="1279.5" r="16.3"/><circle cx="950.2" cy="1288.5" r="8.7"/><circle cx="1041.8" cy="1261.8" r="14.9"/><circle cx="969.4" cy="1284.4" r="11.3"/><circle cx="910.4" cy="1303.4" r="13.5"/><circle cx="1006.7" cy="1275.1" r="13.8"/><circle cx="880.4" cy="1314.1" r="12.0"/><circle cx="1049.8" cy="1264.1" r="11.5"/><circle cx="1014.2" cy="1274.8" r="11.8"/><circle cx="941.7" cy="1297.6" r="15.2"/><circle cx="905.3" cy="1309.4" r="11.4"/><circle cx="896.5" cy="1312.3" r="15.4"/><circle cx="932.4" cy="1301.8" r="11.6"/><circle cx="1023.1" cy="1274.8" r="15.2"/><circle cx="991.7" cy="1284.9" r="9.3"/><circle cx="980.2" cy="1288.5" r="16.9"/><circle cx="1040.6" cy="1270.3" r="10.0"/><circle cx="953.4" cy="1297.6" r="10.0"/><circle cx="1045.4" cy="1271.0" r="8.1"/><circle cx="1065.5" cy="1266.4" r="11.5"/><circle cx="878.3" cy="1325.2" r="9.7"/><circle cx="918.6" cy="1313.7" r="13.3"/><circle cx="973.0" cy="1297.9" r="11.2"/><circle cx="1017.4" cy="1286.1" r="9.6"/><circle cx="1005.0" cy="1289.8" r="9.7"/><circle cx="897.4" cy="1322.2" r="12.1"/><circle cx="1064.4" cy="1272.2" r="14.0"/><circle cx="965.5" cy="1303.6" r="10.2"/><circle cx="1022.2" cy="1286.8" r="15.1"/><circle cx="925.1" cy="1316.7" r="11.9"/><circle cx="1077.6" cy="1271.7" r="10.2"/><circle cx="937.8" cy="1314.4" r="9.3"/><circle cx="1038.2" cy="1285.3" r="13.8"/><circle cx="905.1" cy="1325.9" r="15.6"/><circle cx="994.3" cy="1299.8" r="13.1"/><circle cx="999.9" cy="1298.4" r="12.7"/><circle cx="938.4" cy="1318.1" r="10.9"/><circle cx="948.7" cy="1315.6" r="12.9"/><circle cx="967.2" cy="1310.2" r="8.8"/><circle cx="876.8" cy="1337.5" r="15.0"/><circle cx="982.5" cy="1306.3" r="11.3"/><circle cx="1061.5" cy="1282.7" r="11.6"/><circle cx="915.3" cy="1328.2" r="10.0"/><circle cx="1013.9" cy="1299.1" r="16.7"/><circle cx="1044.8" cy="1289.9" r="14.2"/><circle cx="925.0" cy="1326.7" r="16.2"/><circle cx="1034.2" cy="1295.2" r="11.5"/><circle cx="1027.1" cy="1297.8" r="14.6"/><circle cx="890.4" cy="1339.3" r="15.3"/><circle cx="907.1" cy="1335.7" r="12.7"/><circle cx="1000.8" cy="1308.5" r="10.9"/><circle cx="1010.8" cy="1307.1" r="15.7"/><circle cx="973.7" cy="1318.4" r="11.9"/><circle cx="992.8" cy="1313.5" r="9.3"/><circle cx="932.4" cy="1331.9" r="16.4"/><circle cx="960.6" cy="1323.9" r="11.2"/><circle cx="949.1" cy="1327.8" r="10.8"/><circle cx="877.4" cy="1349.4" r="14.9"/><circle cx="921.9" cy="1338.8" r="11.0"/><circle cx="1078.4" cy="1292.1" r="14.8"/><circle cx="1050.3" cy="1300.7" r="9.0"/><circle cx="904.3" cy="1347.0" r="13.9"/><circle cx="1088.2" cy="1292.6" r="10.4"/><circle cx="1029.8" cy="1310.2" r="10.0"/><circle cx="915.2" cy="1344.8" r="11.4"/><circle cx="1072.8" cy="1299.5" r="15.1"/><circle cx="898.9" cy="1352.3" r="10.7"/><circle cx="950.5" cy="1337.1" r="14.4"/><circle cx="945.1" cy="1339.0" r="15.9"/><circle cx="1063.6" cy="1304.1" r="10.2"/><circle cx="883.2" cy="1358.3" r="14.8"/><circle cx="1006.3" cy="1322.3" r="15.8"/><circle cx="1040.8" cy="1312.0" r="15.9"/><circle cx="903.0" cy="1354.5" r="14.3"/><circle cx="990.5" cy="1328.3" r="13.3"/><circle cx="928.3" cy="1347.0" r="12.1"/><circle cx="1050.3" cy="1310.7" r="13.8"/><circle cx="898.0" cy="1356.6" r="9.1"/><circle cx="967.7" cy="1337.6" r="15.6"/><circle cx="1089.8" cy="1301.0" r="13.1"/><circle cx="1094.6" cy="1299.6" r="8.7"/><circle cx="957.0" cy="1342.7" r="14.7"/><circle cx="1010.5" cy="1326.9" r="11.8"/><circle cx="978.7" cy="1337.8" r="8.4"/><circle cx="943.9" cy="1350.4" r="14.1"/><circle cx="1074.1" cy="1311.4" r="10.0"/><circle cx="1002.2" cy="1333.1" r="16.6"/><circle cx="991.9" cy="1336.9" r="16.1"/><circle cx="1026.4" cy="1326.9" r="9.0"/><circle cx="1039.1" cy="1323.6" r="12.5"/><circle cx="889.1" cy="1368.7" r="12.1"/><circle cx="918.7" cy="1359.8" r="16.9"/><circle cx="1065.0" cy="1316.5" r="13.8"/><circle cx="886.3" cy="1370.7" r="8.6"/><circle cx="965.3" cy="1347.8" r="14.4"/><circle cx="977.9" cy="1344.4" r="13.2"/><circle cx="941.2" cy="1356.1" r="16.9"/><circle cx="1082.5" cy="1313.8" r="12.1"/><circle cx="1062.6" cy="1320.4" r="9.2"/><circle cx="1011.1" cy="1336.3" r="14.8"/><circle cx="1072.3" cy="1318.5" r="16.9"/><circle cx="1096.4" cy="1311.3" r="9.7"/><circle cx="1105.3" cy="1309.0" r="12.5"/><circle cx="908.0" cy="1369.6" r="14.4"/><circle cx="926.8" cy="1364.0" r="15.2"/><circle cx="1047.1" cy="1327.9" r="11.1"/><circle cx="987.8" cy="1346.3" r="13.5"/><circle cx="1031.4" cy="1334.0" r="14.9"/><circle cx="1040.7" cy="1331.2" r="16.3"/><circle cx="958.6" cy="1356.1" r="14.6"/><circle cx="1002.3" cy="1344.0" r="11.6"/><circle cx="917.7" cy="1369.4" r="13.5"/><circle cx="1082.2" cy="1320.4" r="12.1"/><circle cx="886.6" cy="1381.5" r="15.9"/><circle cx="888.9" cy="1380.8" r="16.4"/><circle cx="1008.9" cy="1346.4" r="16.6"/><circle cx="1096.5" cy="1321.0" r="8.1"/><circle cx="982.3" cy="1355.5" r="14.8"/><circle cx="965.9" cy="1360.5" r="14.3"/><circle cx="987.0" cy="1355.5" r="8.5"/><circle cx="1028.0" cy="1344.2" r="13.2"/><circle cx="1045.4" cy="1339.6" r="15.8"/><circle cx="908.9" cy="1380.9" r="10.2"/><circle cx="926.6" cy="1375.7" r="8.2"/><circle cx="1069.0" cy="1333.2" r="10.1"/><circle cx="1062.0" cy="1338.6" r="8.8"/><circle cx="997.8" cy="1359.0" r="13.2"/><circle cx="1106.6" cy="1326.6" r="10.8"/><circle cx="877.4" cy="1396.0" r="12.1"/><circle cx="944.5" cy="1376.7" r="13.8"/><circle cx="932.7" cy="1381.2" r="16.4"/><circle cx="1039.7" cy="1349.4" r="13.7"/><circle cx="960.9" cy="1373.2" r="15.4"/><circle cx="1015.5" cy="1357.6" r="13.8"/><circle cx="938.0" cy="1381.2" r="14.4"/><circle cx="957.1" cy="1376.1" r="9.6"/><circle cx="920.3" cy="1387.5" r="12.2"/><circle cx="1045.8" cy="1351.3" r="15.9"/><circle cx="1085.8" cy="1340.0" r="13.5"/><circle cx="1032.8" cy="1356.1" r="16.3"/><circle cx="1058.1" cy="1348.7" r="8.5"/><circle cx="896.4" cy="1397.3" r="10.9"/><circle cx="975.9" cy="1373.7" r="10.8"/><circle cx="985.1" cy="1371.2" r="13.1"/><circle cx="1099.7" cy="1337.0" r="8.2"/><circle cx="1000.5" cy="1367.3" r="14.9"/><circle cx="1110.6" cy="1334.5" r="11.1"/><circle cx="908.3" cy="1395.4" r="11.2"/><circle cx="949.5" cy="1383.1" r="12.4"/><circle cx="921.1" cy="1391.9" r="8.0"/><circle cx="1030.3" cy="1359.8" r="11.8"/><circle cx="1070.1" cy="1349.0" r="13.9"/><circle cx="1119.7" cy="1334.1" r="12.9"/><circle cx="1086.9" cy="1346.8" r="16.7"/><circle cx="895.0" cy="1405.3" r="13.0"/><circle cx="929.3" cy="1395.0" r="8.9"/><circle cx="966.4" cy="1384.0" r="12.9"/><circle cx="875.1" cy="1411.8" r="9.4"/><circle cx="1061.3" cy="1357.0" r="15.8"/><circle cx="1103.4" cy="1344.4" r="12.5"/><circle cx="1051.6" cy="1360.2" r="12.3"/><circle cx="1069.1" cy="1356.0" r="12.2"/><circle cx="1108.3" cy="1344.4" r="16.1"/><circle cx="1017.1" cy="1371.8" r="12.6"/><circle cx="1022.0" cy="1370.7" r="13.7"/><circle cx="884.0" cy="1412.3" r="15.7"/><circle cx="937.2" cy="1397.8" r="15.7"/><circle cx="982.0" cy="1385.9" r="14.8"/><circle cx="905.7" cy="1410.7" r="15.2"/><circle cx="990.7" cy="1386.2" r="11.4"/><circle cx="914.3" cy="1410.0" r="14.6"/><circle cx="948.8" cy="1399.7" r="8.2"/><circle cx="873.1" cy="1423.1" r="11.0"/><circle cx="980.6" cy="1391.7" r="14.8"/><circle cx="1046.8" cy="1372.3" r="8.5"/><circle cx="1087.1" cy="1360.2" r="15.8"/><circle cx="1015.5" cy="1381.9" r="14.3"/><circle cx="1041.8" cy="1374.2" r="15.7"/><circle cx="1061.8" cy="1369.0" r="8.2"/><circle cx="968.4" cy="1397.0" r="10.3"/><circle cx="879.2" cy="1424.3" r="12.3"/><circle cx="1003.6" cy="1387.7" r="12.4"/><circle cx="932.1" cy="1409.3" r="9.6"/><circle cx="1021.4" cy="1382.7" r="13.8"/><circle cx="941.8" cy="1407.1" r="11.4"/><circle cx="1099.9" cy="1359.9" r="14.0"/><circle cx="895.4" cy="1421.6" r="14.5"/><circle cx="954.3" cy="1404.4" r="16.9"/><circle cx="1106.8" cy="1360.4" r="13.0"/><circle cx="904.6" cy="1421.1" r="9.4"/><circle cx="1039.4" cy="1380.9" r="10.8"/><circle cx="1086.3" cy="1367.5" r="12.5"/><circle cx="988.7" cy="1396.8" r="9.7"/><circle cx="1011.6" cy="1391.1" r="8.9"/><circle cx="1070.0" cy="1373.7" r="11.3"/><circle cx="886.7" cy="1432.2" r="16.2"/><circle cx="1024.9" cy="1390.8" r="9.0"/><circle cx="1049.8" cy="1383.9" r="16.0"/><circle cx="997.7" cy="1399.7" r="12.4"/><circle cx="928.2" cy="1421.5" r="12.5"/><circle cx="922.9" cy="1423.1" r="8.0"/><circle cx="1125.5" cy="1363.2" r="15.7"/><circle cx="946.0" cy="1417.7" r="10.0"/><circle cx="979.2" cy="1407.7" r="10.6"/><circle cx="964.6" cy="1412.4" r="10.4"/><circle cx="1111.6" cy="1368.9" r="14.6"/><circle cx="877.8" cy="1439.8" r="16.4"/><circle cx="951.2" cy="1418.1" r="9.4"/><circle cx="1085.6" cy="1378.0" r="11.8"/><circle cx="1066.3" cy="1384.0" r="9.7"/><circle cx="1077.1" cy="1381.0" r="11.4"/><circle cx="1095.2" cy="1375.6" r="11.4"/><circle cx="1001.2" cy="1404.5" r="15.7"/><circle cx="898.8" cy="1436.5" r="14.0"/><circle cx="988.2" cy="1410.6" r="13.1"/><circle cx="962.7" cy="1419.2" r="16.3"/><circle cx="910.5" cy="1435.2" r="8.7"/><circle cx="1037.9" cy="1397.5" r="11.6"/><circle cx="938.1" cy="1427.5" r="11.7"/><circle cx="932.2" cy="1429.3" r="10.7"/><circle cx="1103.3" cy="1378.4" r="10.0"/><circle cx="1124.4" cy="1373.2" r="8.0"/><circle cx="921.7" cy="1434.3" r="8.9"/><circle cx="978.3" cy="1417.6" r="12.9"/><circle cx="1054.6" cy="1395.0" r="12.7"/><circle cx="894.5" cy="1443.2" r="15.3"/><circle cx="1023.5" cy="1405.8" r="8.1"/><circle cx="1071.0" cy="1393.2" r="12.5"/><circle cx="874.1" cy="1452.4" r="8.7"/><circle cx="1063.5" cy="1395.6" r="15.3"/><circle cx="1014.7" cy="1411.3" r="11.6"/><circle cx="1038.1" cy="1404.8" r="14.4"/><circle cx="1136.0" cy="1375.7" r="17.0"/><circle cx="923.1" cy="1440.5" r="8.5"/><circle cx="906.8" cy="1446.4" r="9.6"/><circle cx="966.6" cy="1428.6" r="10.0"/><circle cx="995.0" cy="1420.4" r="8.3"/><circle cx="959.4" cy="1433.3" r="11.7"/><circle cx="940.9" cy="1438.8" r="10.7"/><circle cx="1063.5" cy="1402.2" r="11.0"/><circle cx="1045.0" cy="1408.0" r="14.5"/><circle cx="1110.7" cy="1388.7" r="15.7"/><circle cx="1001.5" cy="1422.5" r="9.1"/><circle cx="1118.0" cy="1387.6" r="8.3"/><circle cx="1132.1" cy="1383.4" r="14.7"/><circle cx="1100.8" cy="1393.9" r="9.9"/><circle cx="1026.8" cy="1416.4" r="10.0"/><circle cx="898.0" cy="1455.2" r="11.1"/><circle cx="1145.7" cy="1381.0" r="9.9"/><circle cx="1072.1" cy="1403.2" r="16.9"/><circle cx="871.9" cy="1463.6" r="8.1"/><circle cx="1008.7" cy="1422.9" r="9.4"/><circle cx="883.9" cy="1460.5" r="15.3"/><circle cx="906.5" cy="1454.8" r="11.1"/><circle cx="930.7" cy="1447.6" r="14.8"/><circle cx="1089.4" cy="1400.2" r="11.1"/><circle cx="997.4" cy="1428.7" r="11.0"/><circle cx="983.4" cy="1433.0" r="9.6"/><circle cx="1049.3" cy="1414.0" r="13.4"/><circle cx="991.3" cy="1431.6" r="14.1"/><circle cx="1038.7" cy="1417.7" r="9.0"/><circle cx="878.6" cy="1466.1" r="13.4"/><circle cx="1118.0" cy="1394.6" r="9.1"/><circle cx="930.0" cy="1451.5" r="14.7"/><circle cx="913.4" cy="1457.2" r="9.3"/><circle cx="953.5" cy="1446.4" r="14.9"/><circle cx="964.4" cy="1443.7" r="14.3"/><circle cx="1114.0" cy="1398.9" r="12.4"/><circle cx="1009.0" cy="1431.9" r="12.2"/><circle cx="1067.1" cy="1415.5" r="16.9"/><circle cx="1091.3" cy="1408.8" r="15.2"/><circle cx="891.2" cy="1469.8" r="16.2"/><circle cx="977.7" cy="1444.0" r="12.3"/><circle cx="986.4" cy="1442.2" r="12.3"/><circle cx="878.4" cy="1475.0" r="8.9"/><circle cx="1098.7" cy="1409.2" r="12.6"/><circle cx="1150.3" cy="1393.8" r="15.5"/><circle cx="937.0" cy="1458.0" r="9.7"/><circle cx="1133.3" cy="1399.5" r="8.4"/><circle cx="949.6" cy="1456.1" r="8.4"/><circle cx="1003.0" cy="1440.3" r="15.3"/><circle cx="919.1" cy="1465.8" r="16.4"/><circle cx="888.8" cy="1475.1" r="16.6"/><circle cx="902.9" cy="1471.2" r="10.5"/><circle cx="1072.5" cy="1421.6" r="9.8"/><circle cx="1106.5" cy="1412.2" r="9.8"/><circle cx="1034.3" cy="1434.4" r="14.9"/><circle cx="1027.4" cy="1436.5" r="11.9"/><circle cx="1050.4" cy="1429.7" r="15.1"/><circle cx="1017.1" cy="1439.7" r="8.5"/><circle cx="1087.6" cy="1420.1" r="10.5"/><circle cx="981.3" cy="1452.1" r="13.3"/><circle cx="1058.8" cy="1429.9" r="13.1"/><circle cx="940.5" cy="1465.6" r="16.0"/><circle cx="1132.5" cy="1408.7" r="11.1"/><circle cx="1102.5" cy="1418.1" r="16.1"/><circle cx="927.2" cy="1471.0" r="13.5"/><circle cx="917.3" cy="1474.2" r="9.8"/><circle cx="964.2" cy="1460.2" r="16.5"/><circle cx="1123.2" cy="1412.5" r="16.9"/><circle cx="871.8" cy="1488.9" r="11.2"/><circle cx="1000.9" cy="1450.4" r="16.0"/><circle cx="1042.0" cy="1439.9" r="16.1"/><circle cx="987.8" cy="1456.3" r="10.6"/><circle cx="1073.3" cy="1431.2" r="8.9"/><circle cx="1142.9" cy="1410.5" r="14.6"/><circle cx="954.5" cy="1467.1" r="15.4"/><circle cx="1024.2" cy="1447.3" r="13.7"/><circle cx="1050.7" cy="1439.5" r="16.7"/><circle cx="908.5" cy="1483.7" r="12.0"/><circle cx="960.9" cy="1468.2" r="11.0"/><circle cx="974.4" cy="1464.4" r="12.0"/><circle cx="885.7" cy="1491.7" r="14.5"/><circle cx="943.8" cy="1474.5" r="8.6"/><circle cx="1111.1" cy="1424.5" r="11.9"/><circle cx="1103.4" cy="1427.6" r="12.2"/><circle cx="935.2" cy="1478.5" r="15.7"/><circle cx="1127.0" cy="1421.4" r="16.0"/><circle cx="1089.9" cy="1432.6" r="14.4"/><circle cx="985.4" cy="1464.1" r="16.9"/><circle cx="1108.2" cy="1427.7" r="11.2"/><circle cx="1033.6" cy="1451.0" r="11.7"/><circle cx="1130.0" cy="1423.7" r="16.8"/><circle cx="1058.7" cy="1445.8" r="9.5"/><circle cx="890.4" cy="1496.7" r="12.7"/><circle cx="1016.1" cy="1460.0" r="15.1"/><circle cx="1120.2" cy="1428.8" r="8.8"/><circle cx="904.6" cy="1494.4" r="10.4"/><circle cx="956.6" cy="1479.0" r="13.1"/><circle cx="968.3" cy="1475.7" r="12.8"/><circle cx="1024.0" cy="1459.2" r="14.6"/><circle cx="1004.7" cy="1465.4" r="14.1"/><circle cx="1085.9" cy="1441.3" r="9.7"/><circle cx="1013.3" cy="1463.4" r="11.9"/><circle cx="1148.0" cy="1423.4" r="12.1"/><circle cx="891.4" cy="1500.6" r="12.4"/><circle cx="1153.4" cy="1422.3" r="10.4"/><circle cx="930.7" cy="1489.3" r="15.4"/><circle cx="883.9" cy="1503.4" r="13.0"/><circle cx="1059.2" cy="1451.2" r="10.9"/><circle cx="903.4" cy="1498.6" r="16.0"/><circle cx="915.5" cy="1495.1" r="8.5"/><circle cx="1075.6" cy="1447.2" r="9.2"/><circle cx="979.8" cy="1476.1" r="8.3"/><circle cx="939.4" cy="1489.4" r="16.0"/><circle cx="1112.4" cy="1438.2" r="10.4"/><circle cx="951.9" cy="1487.0" r="14.5"/><circle cx="874.4" cy="1511.5" r="10.6"/><circle cx="912.6" cy="1500.7" r="9.8"/><circle cx="1053.2" cy="1459.0" r="13.0"/><circle cx="1034.9" cy="1464.7" r="9.5"/><circle cx="1146.9" cy="1431.3" r="11.0"/><circle cx="1098.5" cy="1445.9" r="12.3"/><circle cx="1071.6" cy="1454.1" r="12.1"/><circle cx="1137.2" cy="1435.9" r="13.7"/><circle cx="886.5" cy="1512.2" r="8.4"/><circle cx="986.0" cy="1482.4" r="8.7"/><circle cx="933.2" cy="1498.3" r="15.1"/><circle cx="1123.8" cy="1441.3" r="14.2"/><circle cx="1000.3" cy="1478.5" r="16.6"/><circle cx="1025.1" cy="1471.4" r="14.2"/><circle cx="1052.9" cy="1463.5" r="14.1"/><circle cx="1016.5" cy="1474.6" r="12.6"/><circle cx="1087.4" cy="1453.5" r="12.8"/><circle cx="1059.5" cy="1464.1" r="11.1"/><circle cx="1168.7" cy="1431.4" r="16.4"/><circle cx="889.2" cy="1516.5" r="10.3"/><circle cx="982.3" cy="1489.2" r="9.6"/><circle cx="1095.4" cy="1455.4" r="14.2"/><circle cx="1148.4" cy="1439.8" r="8.3"/><circle cx="1160.6" cy="1436.5" r="10.7"/><circle cx="942.7" cy="1502.9" r="11.2"/><circle cx="967.7" cy="1495.7" r="15.0"/><circle cx="1131.0" cy="1447.1" r="15.4"/><circle cx="1021.1" cy="1480.3" r="11.4"/><circle cx="1114.3" cy="1453.3" r="8.8"/><circle cx="922.6" cy="1512.2" r="16.3"/><circle cx="1010.9" cy="1486.8" r="9.9"/><circle cx="905.7" cy="1519.9" r="15.1"/><circle cx="951.3" cy="1506.6" r="9.6"/><circle cx="1090.8" cy="1465.3" r="9.0"/><circle cx="991.7" cy="1495.4" r="9.1"/><circle cx="884.1" cy="1528.6" r="8.8"/><circle cx="1123.7" cy="1456.9" r="16.0"/><circle cx="983.0" cy="1499.4" r="13.7"/><circle cx="1079.3" cy="1470.8" r="11.0"/><circle cx="1156.5" cy="1447.8" r="12.2"/><circle cx="1135.6" cy="1454.2" r="17.0"/><circle cx="961.7" cy="1506.5" r="13.9"/><circle cx="1169.2" cy="1445.0" r="14.0"/><circle cx="1037.1" cy="1484.7" r="8.6"/><circle cx="1003.7" cy="1494.8" r="10.5"/><circle cx="1144.3" cy="1452.8" r="15.5"/><circle cx="1099.9" cy="1466.9" r="9.9"/><circle cx="905.1" cy="1525.6" r="15.0"/><circle cx="932.2" cy="1517.8" r="12.3"/><circle cx="1049.2" cy="1483.1" r="10.7"/><circle cx="895.9" cy="1529.1" r="15.7"/><circle cx="986.0" cy="1502.4" r="13.0"/><circle cx="1118.1" cy="1463.8" r="8.6"/><circle cx="1177.5" cy="1447.6" r="15.4"/><circle cx="999.2" cy="1501.3" r="12.2"/><circle cx="920.7" cy="1525.3" r="11.3"/><circle cx="1026.9" cy="1493.4" r="12.3"/><circle cx="1108.0" cy="1469.2" r="10.0"/><circle cx="973.7" cy="1510.2" r="9.5"/><circle cx="1045.8" cy="1488.8" r="11.5"/><circle cx="943.0" cy="1520.2" r="14.9"/><circle cx="1137.9" cy="1462.0" r="15.4"/><circle cx="1038.2" cy="1492.0" r="13.9"/><circle cx="1174.0" cy="1451.5" r="13.9"/><circle cx="1067.3" cy="1484.2" r="14.9"/><circle cx="888.9" cy="1537.7" r="14.8"/><circle cx="1072.1" cy="1483.4" r="14.7"/><circle cx="1163.0" cy="1457.2" r="14.7"/><circle cx="1101.6" cy="1476.1" r="13.9"/><circle cx="1144.8" cy="1463.3" r="9.1"/><circle cx="1023.3" cy="1500.1" r="16.6"/><circle cx="878.8" cy="1543.5" r="13.0"/><circle cx="1008.8" cy="1504.6" r="16.9"/><circle cx="959.2" cy="1520.0" r="11.0"/><circle cx="911.0" cy="1534.4" r="13.3"/><circle cx="1106.0" cy="1476.7" r="9.7"/><circle cx="927.1" cy="1530.9" r="12.9"/><circle cx="1083.0" cy="1484.6" r="15.1"/><circle cx="966.0" cy="1519.8" r="16.3"/><circle cx="1177.9" cy="1456.3" r="10.9"/><circle cx="1159.9" cy="1462.4" r="8.8"/><circle cx="1034.4" cy="1500.3" r="11.3"/><circle cx="1074.9" cy="1488.4" r="9.3"/><circle cx="946.6" cy="1527.2" r="8.7"/><circle cx="1083.6" cy="1486.3" r="9.3"/><circle cx="990.6" cy="1515.3" r="9.1"/><circle cx="1065.0" cy="1493.5" r="14.8"/><circle cx="963.1" cy="1524.9" r="14.5"/><circle cx="888.7" cy="1547.4" r="10.8"/><circle cx="1164.7" cy="1464.7" r="13.3"/><circle cx="884.6" cy="1548.8" r="10.2"/><circle cx="976.0" cy="1522.1" r="15.4"/><circle cx="919.9" cy="1539.2" r="12.6"/><circle cx="934.6" cy="1535.8" r="12.2"/><circle cx="952.0" cy="1531.5" r="15.6"/><circle cx="1126.9" cy="1479.5" r="11.1"/><circle cx="1098.8" cy="1489.2" r="12.7"/><circle cx="1014.2" cy="1514.7" r="11.2"/><circle cx="1028.6" cy="1510.8" r="14.7"/><circle cx="1004.5" cy="1518.5" r="10.8"/><circle cx="1052.8" cy="1504.2" r="15.8"/><circle cx="945.0" cy="1536.7" r="8.2"/><circle cx="1149.1" cy="1476.5" r="11.2"/><circle cx="1130.1" cy="1483.4" r="16.6"/><circle cx="1033.0" cy="1513.1" r="8.5"/><circle cx="909.9" cy="1551.6" r="10.5"/><circle cx="1070.6" cy="1503.8" r="8.8"/><circle cx="1110.3" cy="1492.4" r="13.0"/><circle cx="875.1" cy="1563.3" r="16.4"/><circle cx="921.1" cy="1549.7" r="10.7"/><circle cx="1131.0" cy="1487.7" r="10.1"/><circle cx="1066.3" cy="1507.3" r="9.3"/><circle cx="969.1" cy="1536.5" r="8.5"/><circle cx="1095.4" cy="1498.7" r="12.0"/><circle cx="949.6" cy="1542.5" r="13.4"/><circle cx="1050.3" cy="1512.5" r="10.9"/><circle cx="892.8" cy="1560.3" r="16.7"/><circle cx="992.6" cy="1530.9" r="8.8"/><circle cx="1170.4" cy="1478.1" r="10.8"/><circle cx="1059.9" cy="1512.2" r="8.9"/><circle cx="1000.7" cy="1530.0" r="8.5"/><circle cx="1022.7" cy="1523.5" r="14.2"/><circle cx="1153.4" cy="1484.3" r="9.1"/><circle cx="944.5" cy="1547.4" r="10.6"/><circle cx="1119.8" cy="1495.1" r="14.7"/><circle cx="1111.0" cy="1498.0" r="13.2"/><circle cx="925.7" cy="1554.0" r="17.0"/><circle cx="979.9" cy="1538.1" r="14.5"/><circle cx="879.3" cy="1568.6" r="11.4"/><circle cx="948.7" cy="1548.2" r="11.1"/><circle cx="1177.2" cy="1479.8" r="8.7"/><circle cx="1085.4" cy="1507.4" r="15.9"/><circle cx="1012.8" cy="1531.2" r="16.1"/><circle cx="911.3" cy="1562.0" r="15.1"/><circle cx="1150.5" cy="1490.3" r="13.7"/><circle cx="1039.9" cy="1524.8" r="8.1"/><circle cx="1001.3" cy="1536.8" r="12.8"/><circle cx="886.9" cy="1572.7" r="16.0"/><circle cx="1133.7" cy="1499.0" r="15.8"/><circle cx="987.4" cy="1542.9" r="16.7"/><circle cx="961.9" cy="1550.7" r="16.6"/><circle cx="1015.6" cy="1534.8" r="9.3"/><circle cx="1077.8" cy="1516.4" r="9.5"/><circle cx="1082.1" cy="1515.5" r="15.7"/><circle cx="1165.8" cy="1490.5" r="16.7"/><circle cx="1121.4" cy="1505.2" r="9.2"/><circle cx="1152.8" cy="1496.5" r="10.1"/><circle cx="1045.6" cy="1529.0" r="15.9"/><circle cx="916.2" cy="1568.4" r="9.3"/><circle cx="897.2" cy="1574.3" r="8.5"/><circle cx="871.2" cy="1582.2" r="15.1"/><circle cx="902.4" cy="1574.0" r="8.9"/><circle cx="1148.7" cy="1500.6" r="13.6"/><circle cx="1113.9" cy="1511.4" r="16.8"/><circle cx="975.7" cy="1553.4" r="9.9"/><circle cx="1069.3" cy="1525.3" r="15.3"/><circle cx="934.5" cy="1566.1" r="14.5"/><circle cx="1097.3" cy="1517.8" r="10.8"/><circle cx="1178.7" cy="1493.9" r="15.6"/><circle cx="882.3" cy="1582.9" r="11.0"/><circle cx="994.2" cy="1549.3" r="15.6"/><circle cx="946.3" cy="1563.9" r="13.7"/><circle cx="1021.7" cy="1542.9" r="10.6"/><circle cx="1035.1" cy="1539.6" r="13.3"/><circle cx="963.1" cy="1561.3" r="9.6"/><circle cx="1065.4" cy="1530.8" r="16.4"/><circle cx="889.8" cy="1584.0" r="12.7"/><circle cx="1013.0" cy="1547.4" r="10.7"/><circle cx="956.5" cy="1566.5" r="11.1"/><circle cx="922.0" cy="1577.0" r="12.4"/><circle cx="1120.8" cy="1518.3" r="13.5"/><circle cx="1160.0" cy="1507.3" r="12.0"/><circle cx="930.0" cy="1576.8" r="10.7"/><circle cx="1164.8" cy="1506.7" r="16.6"/><circle cx="1052.0" cy="1541.2" r="10.8"/><circle cx="979.5" cy="1563.2" r="14.2"/><circle cx="1006.8" cy="1555.6" r="11.3"/><circle cx="985.9" cy="1562.8" r="8.0"/><circle cx="1023.9" cy="1551.8" r="9.2"/><circle cx="918.9" cy="1584.0" r="13.2"/><circle cx="1089.7" cy="1532.8" r="12.1"/><circle cx="947.1" cy="1575.8" r="14.8"/><circle cx="1101.7" cy="1529.5" r="12.6"/><circle cx="1139.4" cy="1518.2" r="16.4"/><circle cx="902.8" cy="1589.8" r="13.4"/><circle cx="1159.6" cy="1512.8" r="12.2"/><circle cx="1143.8" cy="1517.7" r="14.6"/><circle cx="1114.4" cy="1526.8" r="10.1"/><circle cx="1060.2" cy="1543.8" r="8.5"/><circle cx="1001.2" cy="1561.6" r="13.6"/><circle cx="1014.6" cy="1558.7" r="11.4"/><circle cx="1036.0" cy="1552.7" r="16.6"/><circle cx="1165.1" cy="1514.7" r="16.0"/><circle cx="877.4" cy="1601.1" r="9.9"/><circle cx="1119.9" cy="1528.7" r="13.5"/><circle cx="955.0" cy="1578.3" r="15.6"/><circle cx="1048.7" cy="1550.4" r="8.2"/><circle cx="1096.4" cy="1536.5" r="12.7"/><circle cx="964.2" cy="1576.7" r="14.3"/><circle cx="1072.7" cy="1544.7" r="12.7"/><circle cx="1065.6" cy="1547.5" r="10.7"/><circle cx="938.2" cy="1586.4" r="16.8"/><circle cx="983.0" cy="1573.3" r="12.9"/><circle cx="1026.6" cy="1560.6" r="11.0"/><circle cx="1086.1" cy="1544.0" r="10.8"/><circle cx="989.8" cy="1573.5" r="14.5"/><circle cx="918.8" cy="1594.8" r="9.0"/><circle cx="892.7" cy="1604.1" r="15.6"/><circle cx="933.4" cy="1592.5" r="11.7"/><circle cx="1113.2" cy="1539.3" r="12.6"/><circle cx="883.3" cy="1608.3" r="11.8"/><circle cx="1135.8" cy="1532.8" r="16.5"/><circle cx="1141.9" cy="1531.4" r="13.6"/><circle cx="1088.5" cy="1547.7" r="14.5"/><circle cx="997.1" cy="1575.5" r="11.2"/><circle cx="969.8" cy="1583.8" r="8.5"/><circle cx="976.5" cy="1582.3" r="10.7"/><circle cx="872.0" cy="1614.0" r="16.0"/><circle cx="954.6" cy="1589.8" r="11.7"/><circle cx="1070.9" cy="1555.1" r="12.0"/><circle cx="908.8" cy="1604.2" r="8.8"/><circle cx="1015.1" cy="1572.6" r="8.9"/><circle cx="1137.3" cy="1536.7" r="11.7"/><circle cx="1041.6" cy="1565.7" r="11.9"/><circle cx="1100.0" cy="1548.5" r="14.6"/><circle cx="1126.0" cy="1541.2" r="12.1"/><circle cx="1157.7" cy="1532.2" r="12.5"/><circle cx="897.8" cy="1610.8" r="10.6"/><circle cx="903.5" cy="1609.2" r="9.6"/><circle cx="1048.2" cy="1565.8" r="12.4"/><circle cx="929.4" cy="1602.3" r="13.3"/><circle cx="939.2" cy="1599.5" r="12.5"/><circle cx="1148.4" cy="1536.8" r="16.4"/><circle cx="1057.5" cy="1564.8" r="9.3"/><circle cx="1108.1" cy="1550.5" r="11.4"/><circle cx="1169.4" cy="1532.6" r="12.3"/><circle cx="1154.6" cy="1537.1" r="16.8"/><circle cx="1007.2" cy="1582.1" r="10.2"/><circle cx="1024.1" cy="1577.1" r="8.2"/><circle cx="1078.6" cy="1561.0" r="15.3"/><circle cx="954.0" cy="1598.8" r="8.4"/><circle cx="1048.5" cy="1571.2" r="9.6"/><circle cx="994.2" cy="1588.7" r="11.4"/><circle cx="921.9" cy="1610.5" r="13.3"/><circle cx="966.2" cy="1599.0" r="15.7"/><circle cx="1061.5" cy="1570.9" r="9.4"/><circle cx="1037.9" cy="1578.1" r="8.5"/><circle cx="938.5" cy="1608.3" r="16.0"/><circle cx="1123.6" cy="1553.5" r="15.9"/><circle cx="1108.6" cy="1558.2" r="14.2"/><circle cx="1099.7" cy="1562.0" r="14.7"/><circle cx="1088.8" cy="1565.4" r="16.1"/><circle cx="1147.3" cy="1548.1" r="13.9"/><circle cx="1158.5" cy="1546.2" r="11.3"/><circle cx="1138.5" cy="1553.5" r="8.7"/><circle cx="973.3" cy="1603.7" r="15.5"/><circle cx="1015.5" cy="1592.5" r="15.0"/><circle cx="952.8" cy="1614.1" r="12.6"/><circle cx="963.0" cy="1611.4" r="8.5"/><circle cx="1009.7" cy="1597.7" r="15.7"/><circle cx="993.4" cy="1603.1" r="13.6"/><circle cx="1027.9" cy="1592.8" r="11.3"/><circle cx="1075.9" cy="1579.1" r="10.5"/><circle cx="986.2" cy="1606.1" r="12.0"/><circle cx="1050.5" cy="1587.1" r="14.1"/><circle cx="1134.4" cy="1562.3" r="13.5"/><circle cx="1100.3" cy="1573.1" r="17.0"/><circle cx="1149.0" cy="1558.7" r="14.0"/><circle cx="1041.3" cy="1591.1" r="16.6"/><circle cx="998.4" cy="1604.0" r="14.1"/><circle cx="1089.2" cy="1577.0" r="12.2"/><circle cx="1126.1" cy="1566.3" r="11.0"/><circle cx="1106.7" cy="1572.3" r="11.3"/><circle cx="1062.7" cy="1587.1" r="12.2"/><circle cx="981.9" cy="1612.1" r="17.0"/><circle cx="1000.5" cy="1607.9" r="9.0"/><circle cx="1021.0" cy="1602.6" r="13.0"/><circle cx="1036.3" cy="1599.9" r="15.1"/><circle cx="1121.5" cy="1574.8" r="9.5"/><circle cx="1014.6" cy="1610.8" r="10.2"/><circle cx="1021.1" cy="1610.4" r="8.4"/><circle cx="1046.5" cy="1603.9" r="11.4"/><circle cx="1042.7" cy="1607.1" r="16.1"/><circle cx="1067.3" cy="1603.6" r="12.6"/><circle cx="1061.4" cy="1608.3" r="14.0"/><circle cx="1069.9" cy="1607.5" r="9.1"/></g></g><g filter="url(#gmGrayD)"><g fill="url(#ag)"><circle cx="894.1" cy="1305.0" r="10.9"/><circle cx="910.7" cy="1303.2" r="8.5"/><circle cx="901.9" cy="1310.0" r="6.5"/><circle cx="883.6" cy="1316.2" r="9.0"/><circle cx="903.0" cy="1314.4" r="11.7"/><circle cx="909.8" cy="1313.5" r="8.5"/><circle cx="889.5" cy="1321.5" r="11.4"/><circle cx="921.3" cy="1320.7" r="6.9"/><circle cx="892.3" cy="1330.9" r="11.6"/><circle cx="916.4" cy="1323.7" r="8.7"/><circle cx="900.0" cy="1330.1" r="9.0"/><circle cx="886.8" cy="1334.7" r="10.9"/><circle cx="926.7" cy="1323.5" r="7.8"/><circle cx="890.3" cy="1340.9" r="6.9"/><circle cx="913.7" cy="1334.8" r="9.5"/><circle cx="885.3" cy="1345.2" r="9.6"/><circle cx="898.8" cy="1341.9" r="6.1"/><circle cx="920.7" cy="1338.6" r="10.1"/><circle cx="902.4" cy="1344.4" r="11.3"/><circle cx="895.2" cy="1350.0" r="9.2"/><circle cx="883.9" cy="1354.5" r="9.1"/><circle cx="924.2" cy="1345.7" r="8.9"/><circle cx="913.2" cy="1350.0" r="11.8"/><circle cx="901.1" cy="1353.8" r="7.1"/><circle cx="929.4" cy="1345.5" r="11.1"/><circle cx="891.6" cy="1360.4" r="11.0"/><circle cx="888.2" cy="1363.3" r="9.7"/><circle cx="913.0" cy="1356.3" r="6.2"/><circle cx="928.1" cy="1356.2" r="9.5"/><circle cx="924.6" cy="1358.5" r="8.0"/><circle cx="911.1" cy="1363.1" r="10.8"/><circle cx="884.2" cy="1373.7" r="10.7"/><circle cx="904.3" cy="1368.8" r="7.9"/><circle cx="890.0" cy="1374.4" r="9.7"/><circle cx="922.6" cy="1364.7" r="6.7"/><circle cx="886.8" cy="1385.2" r="10.2"/><circle cx="899.2" cy="1381.9" r="10.1"/><circle cx="914.5" cy="1377.9" r="11.3"/><circle cx="888.9" cy="1390.4" r="9.2"/><circle cx="902.9" cy="1388.3" r="9.2"/><circle cx="892.3" cy="1394.2" r="9.8"/><circle cx="913.8" cy="1388.6" r="7.8"/><circle cx="913.2" cy="1397.4" r="10.6"/><circle cx="906.4" cy="1399.5" r="9.3"/><circle cx="891.4" cy="1405.8" r="10.2"/><circle cx="902.1" cy="1409.2" r="10.3"/><circle cx="910.3" cy="1405.9" r="10.6"/><circle cx="899.8" cy="1412.7" r="7.6"/><circle cx="895.8" cy="1414.1" r="7.4"/><circle cx="920.0" cy="1407.0" r="9.7"/><circle cx="891.4" cy="1416.0" r="10.3"/><circle cx="898.7" cy="1419.2" r="8.1"/><circle cx="912.3" cy="1416.7" r="11.5"/><circle cx="928.6" cy="1412.6" r="6.5"/><circle cx="931.4" cy="1417.8" r="8.4"/><circle cx="925.2" cy="1420.4" r="7.8"/><circle cx="889.7" cy="1431.8" r="10.7"/><circle cx="901.6" cy="1431.6" r="9.5"/><circle cx="913.4" cy="1430.8" r="9.9"/><circle cx="929.1" cy="1427.6" r="10.9"/><circle cx="895.9" cy="1439.7" r="7.0"/><circle cx="902.3" cy="1438.8" r="9.8"/><circle cx="919.3" cy="1434.5" r="7.2"/><circle cx="908.5" cy="1438.8" r="6.4"/><circle cx="890.8" cy="1445.5" r="8.7"/><circle cx="923.2" cy="1439.9" r="10.8"/><circle cx="933.6" cy="1440.2" r="9.8"/><circle cx="904.7" cy="1449.8" r="8.2"/><circle cx="940.8" cy="1440.2" r="8.3"/><circle cx="915.6" cy="1448.8" r="11.6"/><circle cx="889.1" cy="1457.4" r="11.2"/><circle cx="924.4" cy="1447.2" r="9.8"/><circle cx="885.6" cy="1463.3" r="11.4"/><circle cx="905.3" cy="1457.4" r="10.7"/><circle cx="933.7" cy="1450.8" r="10.1"/><circle cx="908.2" cy="1459.0" r="9.8"/><circle cx="941.4" cy="1452.2" r="9.6"/><circle cx="882.8" cy="1471.8" r="7.9"/><circle cx="929.2" cy="1459.4" r="7.6"/><circle cx="954.9" cy="1452.4" r="9.6"/><circle cx="921.4" cy="1463.2" r="7.3"/><circle cx="906.5" cy="1468.1" r="6.1"/><circle cx="968.7" cy="1449.9" r="9.0"/><circle cx="949.4" cy="1456.1" r="11.7"/><circle cx="891.6" cy="1473.8" r="7.0"/><circle cx="922.0" cy="1465.8" r="9.2"/><circle cx="944.5" cy="1461.7" r="6.7"/><circle cx="960.1" cy="1457.1" r="7.8"/><circle cx="911.4" cy="1473.0" r="9.6"/><circle cx="971.8" cy="1456.9" r="10.2"/><circle cx="938.4" cy="1467.0" r="7.8"/><circle cx="894.9" cy="1480.3" r="10.5"/><circle cx="905.9" cy="1479.0" r="8.5"/><circle cx="908.1" cy="1480.7" r="9.8"/><circle cx="982.4" cy="1458.6" r="11.8"/><circle cx="891.8" cy="1486.4" r="6.6"/><circle cx="936.9" cy="1472.9" r="11.1"/><circle cx="958.5" cy="1468.2" r="9.9"/><circle cx="926.7" cy="1478.4" r="7.5"/><circle cx="884.6" cy="1491.0" r="7.4"/><circle cx="936.9" cy="1475.9" r="7.5"/><circle cx="954.7" cy="1470.6" r="7.9"/><circle cx="984.2" cy="1465.5" r="7.9"/><circle cx="910.4" cy="1492.1" r="10.8"/><circle cx="903.6" cy="1494.2" r="9.3"/><circle cx="958.2" cy="1477.9" r="10.5"/><circle cx="973.4" cy="1473.8" r="9.6"/><circle cx="931.3" cy="1487.7" r="11.7"/><circle cx="943.5" cy="1484.1" r="7.5"/><circle cx="951.7" cy="1482.5" r="6.8"/><circle cx="889.7" cy="1501.9" r="11.3"/><circle cx="938.1" cy="1487.5" r="9.1"/><circle cx="916.6" cy="1495.7" r="9.9"/><circle cx="926.7" cy="1493.8" r="6.7"/><circle cx="904.9" cy="1501.0" r="7.9"/><circle cx="972.4" cy="1483.3" r="7.6"/><circle cx="919.4" cy="1500.2" r="10.9"/><circle cx="984.6" cy="1480.9" r="11.9"/><circle cx="894.1" cy="1509.9" r="9.6"/><circle cx="950.9" cy="1493.5" r="6.8"/><circle cx="900.5" cy="1508.7" r="6.6"/><circle cx="936.0" cy="1500.8" r="11.8"/><circle cx="962.6" cy="1493.5" r="8.3"/><circle cx="912.8" cy="1508.5" r="10.5"/><circle cx="942.0" cy="1500.2" r="6.4"/><circle cx="971.4" cy="1492.8" r="11.5"/><circle cx="949.1" cy="1499.8" r="10.7"/><circle cx="982.5" cy="1492.0" r="9.6"/><circle cx="924.2" cy="1511.2" r="6.9"/><circle cx="965.0" cy="1499.0" r="11.6"/><circle cx="934.0" cy="1510.3" r="9.2"/><circle cx="968.6" cy="1500.2" r="7.6"/><circle cx="979.4" cy="1498.8" r="10.4"/><circle cx="941.5" cy="1511.1" r="6.7"/><circle cx="956.0" cy="1507.2" r="10.3"/><circle cx="958.7" cy="1510.3" r="9.8"/><circle cx="973.4" cy="1511.5" r="7.9"/><circle cx="982.5" cy="1513.7" r="8.5"/><circle cx="954.3" cy="1270.6" r="11.6"/><circle cx="954.3" cy="1277.3" r="6.0"/><circle cx="945.6" cy="1281.1" r="8.7"/><circle cx="948.9" cy="1286.7" r="11.7"/><circle cx="955.3" cy="1285.2" r="12.0"/><circle cx="1051.9" cy="1424.4" r="10.0"/><circle cx="1062.3" cy="1429.8" r="9.0"/><circle cx="1047.6" cy="1435.4" r="10.2"/><circle cx="1054.6" cy="1435.6" r="7.9"/><circle cx="1053.9" cy="1437.7" r="11.9"/><circle cx="1049.3" cy="1440.6" r="10.0"/><circle cx="1066.7" cy="1441.7" r="10.1"/><circle cx="1065.7" cy="1450.3" r="9.7"/><circle cx="1054.2" cy="1456.1" r="7.0"/><circle cx="1054.4" cy="1458.0" r="10.9"/><circle cx="1062.6" cy="1460.3" r="9.1"/><circle cx="1054.1" cy="1472.6" r="7.3"/><circle cx="1063.7" cy="1473.2" r="10.2"/><circle cx="1055.5" cy="1477.7" r="6.9"/><circle cx="1048.7" cy="1486.1" r="11.6"/><circle cx="1058.2" cy="1489.2" r="7.6"/><circle cx="1069.4" cy="1486.3" r="9.3"/><circle cx="1065.4" cy="1493.9" r="10.5"/><circle cx="1056.1" cy="1501.7" r="11.9"/><circle cx="1062.4" cy="1501.0" r="8.0"/><circle cx="1058.7" cy="1513.1" r="8.2"/><circle cx="1051.8" cy="1522.0" r="11.5"/><circle cx="1053.2" cy="1532.3" r="10.6"/><circle cx="924.4" cy="1252.8" r="10.7"/><circle cx="927.3" cy="1256.7" r="9.5"/><circle cx="913.4" cy="1263.7" r="8.7"/><circle cx="917.3" cy="1266.4" r="8.4"/><circle cx="927.7" cy="1266.5" r="10.6"/><circle cx="917.7" cy="1270.9" r="10.8"/><circle cx="937.5" cy="1267.2" r="10.1"/><circle cx="934.9" cy="1275.2" r="11.8"/><circle cx="942.1" cy="1278.7" r="8.7"/><circle cx="921.9" cy="1285.0" r="11.3"/><circle cx="933.5" cy="1287.8" r="8.2"/><circle cx="1111.4" cy="1452.4" r="6.7"/><circle cx="1116.9" cy="1455.3" r="11.7"/><circle cx="1120.8" cy="1462.3" r="9.0"/><circle cx="1121.0" cy="1465.7" r="7.2"/><circle cx="1116.3" cy="1469.8" r="7.2"/><circle cx="1116.8" cy="1483.8" r="10.4"/><circle cx="1126.0" cy="1482.7" r="6.6"/><circle cx="1106.3" cy="1489.8" r="6.6"/><circle cx="1113.3" cy="1492.0" r="9.3"/><circle cx="1120.4" cy="1493.4" r="6.3"/><circle cx="1111.2" cy="1499.3" r="10.4"/><circle cx="1106.0" cy="1503.5" r="9.2"/><circle cx="1126.2" cy="1498.5" r="11.7"/><circle cx="1129.6" cy="1499.5" r="6.2"/><circle cx="1125.5" cy="1505.5" r="8.8"/><circle cx="1110.3" cy="1513.9" r="11.4"/><circle cx="1126.0" cy="1520.2" r="6.4"/><circle cx="1116.9" cy="1523.2" r="11.5"/><circle cx="1109.3" cy="1525.8" r="11.5"/><circle cx="1120.3" cy="1528.5" r="8.9"/><circle cx="933.3" cy="1354.6" r="7.5"/><circle cx="922.0" cy="1359.7" r="10.2"/><circle cx="937.1" cy="1359.6" r="8.5"/><circle cx="928.4" cy="1362.9" r="11.0"/><circle cx="922.6" cy="1369.6" r="10.5"/><circle cx="935.9" cy="1369.3" r="7.7"/><circle cx="932.7" cy="1371.3" r="7.2"/><circle cx="923.4" cy="1379.5" r="9.0"/><circle cx="950.4" cy="1375.9" r="7.5"/><circle cx="943.6" cy="1378.8" r="11.2"/><circle cx="931.7" cy="1386.1" r="11.5"/><circle cx="945.0" cy="1382.1" r="8.2"/><circle cx="928.7" cy="1394.1" r="10.0"/><circle cx="935.1" cy="1395.2" r="7.9"/><circle cx="932.9" cy="1398.5" r="8.4"/></g></g><g filter="url(#gmGrn)"><g fill="url(#ag)"><circle cx="1015.2" cy="1413.9" r="7.4"/><circle cx="1028.3" cy="1414.3" r="8.7"/><circle cx="1025.5" cy="1415.5" r="7.8"/><circle cx="1019.1" cy="1420.4" r="8.4"/><circle cx="1010.8" cy="1425.4" r="10.5"/><circle cx="1016.2" cy="1425.9" r="8.7"/><circle cx="1027.5" cy="1426.8" r="7.5"/><circle cx="1015.9" cy="1431.8" r="10.8"/><circle cx="1035.3" cy="1429.6" r="7.7"/><circle cx="1024.8" cy="1433.8" r="10.4"/><circle cx="1010.3" cy="1438.3" r="8.0"/><circle cx="1007.3" cy="1440.4" r="7.8"/><circle cx="1022.6" cy="1439.6" r="6.3"/><circle cx="1031.7" cy="1438.2" r="8.3"/><circle cx="1001.6" cy="1448.9" r="10.3"/><circle cx="1015.1" cy="1446.0" r="7.2"/><circle cx="1011.0" cy="1451.4" r="6.1"/><circle cx="1036.3" cy="1445.4" r="6.2"/><circle cx="1014.8" cy="1453.6" r="7.2"/><circle cx="1035.6" cy="1447.8" r="8.8"/><circle cx="1008.0" cy="1456.5" r="8.3"/><circle cx="998.5" cy="1461.5" r="7.6"/><circle cx="1025.9" cy="1453.4" r="10.1"/><circle cx="1013.9" cy="1459.3" r="8.6"/><circle cx="1002.7" cy="1464.4" r="9.2"/><circle cx="1026.5" cy="1459.1" r="10.8"/><circle cx="1032.7" cy="1461.6" r="8.3"/><circle cx="1006.9" cy="1470.2" r="6.8"/><circle cx="1024.2" cy="1465.7" r="9.6"/><circle cx="1016.0" cy="1468.6" r="7.6"/><circle cx="1030.4" cy="1465.1" r="7.3"/><circle cx="1002.2" cy="1475.8" r="7.1"/><circle cx="1010.6" cy="1475.0" r="6.1"/><circle cx="1024.4" cy="1472.6" r="6.3"/><circle cx="1042.8" cy="1469.0" r="8.5"/><circle cx="999.4" cy="1482.2" r="7.4"/><circle cx="1032.4" cy="1472.6" r="8.5"/><circle cx="1019.3" cy="1477.1" r="6.8"/><circle cx="1012.3" cy="1480.3" r="8.9"/><circle cx="1038.6" cy="1474.6" r="8.6"/><circle cx="1019.4" cy="1480.4" r="10.3"/><circle cx="990.2" cy="1489.7" r="6.7"/><circle cx="1007.4" cy="1487.7" r="8.9"/><circle cx="1024.2" cy="1483.3" r="6.6"/><circle cx="1036.0" cy="1481.1" r="7.7"/><circle cx="1041.4" cy="1479.7" r="7.1"/><circle cx="1000.4" cy="1492.6" r="9.7"/><circle cx="984.6" cy="1497.6" r="7.5"/><circle cx="993.3" cy="1497.0" r="7.3"/><circle cx="1023.1" cy="1488.4" r="6.0"/><circle cx="979.7" cy="1501.4" r="8.3"/><circle cx="1046.4" cy="1481.5" r="6.8"/><circle cx="1014.0" cy="1491.6" r="7.3"/><circle cx="998.9" cy="1498.2" r="9.0"/><circle cx="1033.2" cy="1490.5" r="9.1"/><circle cx="980.1" cy="1507.2" r="7.7"/><circle cx="982.3" cy="1507.3" r="6.8"/><circle cx="1009.9" cy="1500.0" r="8.1"/><circle cx="1026.8" cy="1495.9" r="7.2"/><circle cx="1000.9" cy="1504.0" r="8.0"/><circle cx="991.8" cy="1506.9" r="9.7"/><circle cx="1013.8" cy="1500.6" r="6.8"/><circle cx="1040.6" cy="1493.6" r="10.3"/><circle cx="977.6" cy="1512.5" r="7.2"/><circle cx="1033.1" cy="1498.8" r="7.7"/><circle cx="1011.7" cy="1506.6" r="8.8"/><circle cx="991.1" cy="1514.1" r="8.4"/><circle cx="986.5" cy="1516.0" r="9.3"/><circle cx="1040.8" cy="1500.6" r="6.8"/><circle cx="1021.7" cy="1506.8" r="7.1"/><circle cx="998.4" cy="1514.8" r="6.9"/><circle cx="983.3" cy="1520.7" r="6.2"/><circle cx="1020.7" cy="1509.7" r="8.3"/><circle cx="1046.7" cy="1501.9" r="9.4"/><circle cx="1012.7" cy="1512.7" r="8.7"/><circle cx="1035.0" cy="1506.5" r="6.4"/><circle cx="1044.5" cy="1506.2" r="6.6"/><circle cx="992.5" cy="1522.0" r="9.0"/><circle cx="1052.5" cy="1506.2" r="7.7"/><circle cx="1019.9" cy="1516.5" r="9.2"/><circle cx="1025.1" cy="1517.2" r="7.9"/><circle cx="998.7" cy="1525.5" r="6.3"/><circle cx="1031.5" cy="1516.5" r="10.7"/><circle cx="1042.9" cy="1513.3" r="10.4"/><circle cx="1012.7" cy="1523.1" r="7.4"/><circle cx="1016.0" cy="1524.0" r="9.2"/><circle cx="1054.8" cy="1512.8" r="10.7"/><circle cx="1028.8" cy="1521.1" r="11.0"/><circle cx="1048.0" cy="1515.7" r="9.9"/><circle cx="1017.4" cy="1527.5" r="10.1"/><circle cx="1010.4" cy="1530.4" r="7.7"/><circle cx="1032.2" cy="1524.9" r="8.4"/><circle cx="1046.0" cy="1522.2" r="9.8"/><circle cx="1037.8" cy="1525.9" r="6.7"/><circle cx="1021.8" cy="1532.8" r="9.8"/><circle cx="1032.2" cy="1531.3" r="8.4"/><circle cx="1056.1" cy="1526.0" r="10.1"/><circle cx="1037.7" cy="1533.5" r="9.8"/><circle cx="1046.3" cy="1532.0" r="10.8"/><circle cx="1022.1" cy="1540.1" r="9.4"/><circle cx="1034.2" cy="1537.7" r="6.4"/><circle cx="1028.4" cy="1544.1" r="7.9"/><circle cx="1044.8" cy="1541.7" r="8.0"/><circle cx="1047.0" cy="1541.1" r="9.3"/><circle cx="1048.3" cy="1543.2" r="9.7"/><circle cx="1033.1" cy="1549.2" r="6.7"/><circle cx="1042.8" cy="1549.7" r="9.5"/><circle cx="1033.5" cy="1553.2" r="8.5"/><circle cx="1026.4" cy="1555.7" r="9.2"/><circle cx="1057.2" cy="1550.1" r="7.3"/><circle cx="1049.5" cy="1554.2" r="10.3"/><circle cx="1030.5" cy="1560.5" r="6.8"/><circle cx="1059.7" cy="1553.1" r="7.4"/><circle cx="1044.3" cy="1558.3" r="10.2"/><circle cx="1039.6" cy="1562.6" r="6.8"/><circle cx="1054.3" cy="1560.0" r="6.2"/><circle cx="1046.1" cy="1565.8" r="7.7"/><circle cx="1071.4" cy="1558.3" r="6.2"/><circle cx="1043.6" cy="1568.3" r="6.3"/><circle cx="1033.9" cy="1572.0" r="10.0"/><circle cx="1050.1" cy="1568.8" r="9.0"/><circle cx="1068.5" cy="1564.7" r="6.6"/><circle cx="1070.3" cy="1564.7" r="9.5"/><circle cx="1041.6" cy="1576.7" r="6.0"/><circle cx="1031.1" cy="1581.0" r="9.0"/><circle cx="1047.0" cy="1577.6" r="7.2"/><circle cx="1059.5" cy="1574.3" r="8.7"/><circle cx="1065.8" cy="1573.6" r="10.2"/><circle cx="1079.1" cy="1569.6" r="7.2"/><circle cx="1065.1" cy="1576.1" r="10.7"/><circle cx="1075.9" cy="1573.8" r="9.7"/><circle cx="1032.3" cy="1587.0" r="10.0"/><circle cx="1039.2" cy="1587.2" r="7.8"/><circle cx="1059.9" cy="1582.2" r="10.4"/><circle cx="1076.7" cy="1578.1" r="9.1"/><circle cx="1078.5" cy="1580.1" r="8.8"/><circle cx="1065.9" cy="1584.1" r="8.0"/><circle cx="1051.0" cy="1589.5" r="6.2"/><circle cx="1060.6" cy="1588.2" r="7.8"/><circle cx="1071.4" cy="1586.0" r="7.3"/></g></g><g filter="url(#gmBlue)"><g fill="url(#ag)"><circle cx="1002.0" cy="1283.9" r="9.7"/><circle cx="1018.4" cy="1281.4" r="9.6"/><circle cx="1016.3" cy="1282.4" r="6.1"/><circle cx="1011.0" cy="1284.3" r="8.4"/><circle cx="1027.4" cy="1283.8" r="7.4"/><circle cx="998.3" cy="1292.7" r="9.0"/><circle cx="1003.9" cy="1291.8" r="6.4"/><circle cx="1009.7" cy="1290.9" r="6.9"/><circle cx="990.8" cy="1297.6" r="6.6"/><circle cx="1026.1" cy="1289.6" r="6.0"/><circle cx="1034.1" cy="1288.3" r="9.9"/><circle cx="997.4" cy="1300.1" r="7.7"/><circle cx="1028.9" cy="1291.1" r="6.5"/><circle cx="1036.3" cy="1292.9" r="5.8"/><circle cx="1041.9" cy="1293.6" r="5.9"/><circle cx="1029.9" cy="1297.3" r="8.2"/><circle cx="1040.3" cy="1300.0" r="6.5"/><circle cx="1065.1" cy="1294.5" r="9.1"/><circle cx="1092.3" cy="1287.1" r="7.7"/><circle cx="1074.1" cy="1293.5" r="9.6"/><circle cx="1046.7" cy="1302.1" r="6.6"/><circle cx="1063.7" cy="1297.1" r="8.8"/><circle cx="1077.3" cy="1294.5" r="9.7"/><circle cx="1083.7" cy="1292.9" r="9.4"/><circle cx="1058.6" cy="1300.5" r="7.2"/><circle cx="1052.7" cy="1302.2" r="9.7"/><circle cx="1069.1" cy="1299.6" r="6.5"/><circle cx="1101.6" cy="1291.1" r="6.7"/><circle cx="1084.6" cy="1296.5" r="5.4"/><circle cx="1050.8" cy="1308.0" r="5.5"/><circle cx="1060.5" cy="1305.4" r="9.6"/><circle cx="1095.6" cy="1295.3" r="6.4"/><circle cx="1081.4" cy="1299.8" r="8.7"/><circle cx="1063.2" cy="1306.7" r="9.6"/><circle cx="1049.9" cy="1311.7" r="5.6"/><circle cx="1094.6" cy="1299.1" r="5.8"/><circle cx="1098.9" cy="1297.8" r="5.6"/><circle cx="1058.3" cy="1310.2" r="5.3"/><circle cx="1083.9" cy="1303.3" r="7.3"/><circle cx="1077.8" cy="1306.4" r="5.3"/><circle cx="1074.8" cy="1307.5" r="9.9"/><circle cx="1095.7" cy="1304.5" r="9.2"/><circle cx="1077.8" cy="1310.8" r="5.3"/><circle cx="1062.6" cy="1315.6" r="7.9"/><circle cx="1069.9" cy="1315.8" r="8.4"/><circle cx="1084.9" cy="1312.0" r="8.8"/><circle cx="1057.3" cy="1321.7" r="7.3"/><circle cx="1048.9" cy="1325.3" r="7.5"/><circle cx="1092.0" cy="1313.0" r="6.7"/><circle cx="1076.8" cy="1317.8" r="5.6"/><circle cx="1067.5" cy="1321.2" r="8.0"/><circle cx="1071.3" cy="1320.2" r="7.9"/><circle cx="1064.8" cy="1326.5" r="5.7"/><circle cx="1044.4" cy="1332.8" r="6.7"/><circle cx="1058.6" cy="1328.9" r="6.7"/><circle cx="1094.6" cy="1318.4" r="9.7"/><circle cx="1022.6" cy="1340.2" r="6.6"/><circle cx="1084.1" cy="1323.1" r="9.1"/><circle cx="1034.7" cy="1338.8" r="8.4"/><circle cx="1081.5" cy="1326.2" r="9.0"/><circle cx="1074.5" cy="1328.4" r="5.9"/><circle cx="1033.1" cy="1341.9" r="7.8"/><circle cx="1008.0" cy="1349.7" r="5.1"/><circle cx="1047.3" cy="1338.3" r="8.4"/><circle cx="1020.5" cy="1346.7" r="5.5"/><circle cx="1053.7" cy="1336.9" r="7.2"/><circle cx="1027.7" cy="1345.5" r="9.3"/><circle cx="1063.9" cy="1334.7" r="7.6"/><circle cx="1057.2" cy="1337.2" r="7.0"/><circle cx="1093.8" cy="1326.9" r="7.4"/><circle cx="1074.3" cy="1333.1" r="6.3"/><circle cx="1048.3" cy="1341.1" r="5.7"/><circle cx="1019.4" cy="1349.9" r="7.8"/><circle cx="1009.7" cy="1353.0" r="8.7"/><circle cx="1089.4" cy="1329.5" r="7.4"/><circle cx="1059.9" cy="1338.7" r="8.7"/><circle cx="1004.2" cy="1356.1" r="9.0"/><circle cx="1080.4" cy="1334.3" r="9.6"/><circle cx="1067.1" cy="1339.4" r="5.2"/><circle cx="1071.5" cy="1338.6" r="6.3"/><circle cx="1049.3" cy="1345.5" r="9.4"/><circle cx="1085.0" cy="1334.9" r="9.6"/><circle cx="1043.2" cy="1347.9" r="9.5"/><circle cx="1026.1" cy="1353.1" r="10.0"/><circle cx="1038.8" cy="1350.1" r="9.6"/><circle cx="1018.6" cy="1356.2" r="6.9"/><circle cx="1078.3" cy="1338.7" r="9.2"/><circle cx="1030.3" cy="1356.2" r="8.7"/><circle cx="1056.3" cy="1348.8" r="7.3"/><circle cx="1005.1" cy="1364.6" r="9.1"/><circle cx="1040.1" cy="1354.4" r="7.2"/><circle cx="1016.5" cy="1361.6" r="8.2"/><circle cx="1072.7" cy="1345.4" r="5.2"/><circle cx="1007.1" cy="1365.0" r="7.8"/><circle cx="1051.5" cy="1352.8" r="5.9"/><circle cx="1063.3" cy="1349.9" r="6.3"/><circle cx="1044.0" cy="1356.7" r="5.9"/><circle cx="1020.8" cy="1364.5" r="5.2"/><circle cx="1008.9" cy="1368.6" r="6.0"/><circle cx="1028.7" cy="1363.4" r="5.4"/><circle cx="1017.6" cy="1369.1" r="7.4"/><circle cx="1064.2" cy="1355.5" r="7.6"/><circle cx="1044.1" cy="1362.1" r="6.3"/><circle cx="1060.9" cy="1358.2" r="7.6"/><circle cx="1050.9" cy="1361.7" r="8.3"/><circle cx="1023.5" cy="1370.0" r="6.9"/><circle cx="1040.2" cy="1365.3" r="6.8"/><circle cx="1027.7" cy="1370.4" r="7.9"/><circle cx="1016.1" cy="1374.4" r="7.5"/><circle cx="1034.5" cy="1368.9" r="7.6"/><circle cx="1023.5" cy="1374.5" r="8.1"/><circle cx="1060.6" cy="1364.6" r="5.4"/><circle cx="1052.7" cy="1367.9" r="8.2"/><circle cx="1043.5" cy="1371.5" r="6.9"/><circle cx="1032.7" cy="1375.2" r="8.2"/><circle cx="1034.7" cy="1375.6" r="8.4"/><circle cx="1014.5" cy="1385.2" r="9.6"/><circle cx="1020.4" cy="1384.4" r="9.0"/><circle cx="1047.1" cy="1377.4" r="8.7"/><circle cx="1027.3" cy="1384.2" r="9.3"/><circle cx="1013.7" cy="1389.4" r="6.7"/><circle cx="1046.4" cy="1380.3" r="6.5"/><circle cx="1029.1" cy="1388.2" r="9.3"/><circle cx="1039.8" cy="1385.2" r="6.8"/><circle cx="1021.7" cy="1392.4" r="7.4"/><circle cx="1036.3" cy="1389.8" r="5.2"/><circle cx="1014.7" cy="1400.2" r="6.6"/><circle cx="1022.4" cy="1399.8" r="7.7"/><circle cx="1029.0" cy="1400.1" r="7.4"/><circle cx="1026.3" cy="1403.6" r="7.0"/></g></g><g filter="url(#gmGrn)"><g fill="url(#ag)"><circle cx="1019.7" cy="1290.7" r="7.4"/><circle cx="1010.2" cy="1293.8" r="8.3"/><circle cx="1012.6" cy="1295.0" r="7.2"/><circle cx="1003.2" cy="1300.6" r="8.9"/><circle cx="1025.2" cy="1294.4" r="8.5"/><circle cx="1005.4" cy="1301.4" r="5.5"/><circle cx="1022.5" cy="1296.5" r="8.4"/><circle cx="1015.9" cy="1300.6" r="6.0"/><circle cx="1035.6" cy="1294.9" r="6.2"/><circle cx="1032.5" cy="1296.4" r="5.4"/><circle cx="1020.5" cy="1303.3" r="5.1"/><circle cx="1042.8" cy="1297.0" r="8.7"/><circle cx="1024.6" cy="1303.4" r="6.7"/><circle cx="1037.6" cy="1299.6" r="5.1"/><circle cx="1007.4" cy="1309.0" r="8.8"/><circle cx="1019.5" cy="1305.9" r="7.7"/><circle cx="1029.8" cy="1303.6" r="8.8"/><circle cx="1012.8" cy="1309.7" r="8.3"/><circle cx="1026.2" cy="1307.7" r="9.0"/><circle cx="1051.0" cy="1300.5" r="6.1"/><circle cx="1036.2" cy="1305.0" r="8.3"/><circle cx="1045.3" cy="1302.7" r="8.0"/><circle cx="1006.5" cy="1314.8" r="5.9"/><circle cx="1025.6" cy="1310.9" r="5.6"/><circle cx="1034.6" cy="1308.4" r="7.1"/><circle cx="1015.2" cy="1314.6" r="5.4"/><circle cx="1019.4" cy="1315.1" r="7.0"/><circle cx="1042.7" cy="1308.2" r="6.2"/><circle cx="1007.4" cy="1318.9" r="6.8"/><circle cx="1048.5" cy="1308.3" r="5.7"/><circle cx="1038.9" cy="1311.3" r="8.8"/><circle cx="1012.5" cy="1321.8" r="5.4"/><circle cx="1053.7" cy="1309.9" r="6.6"/><circle cx="1034.4" cy="1315.9" r="7.1"/><circle cx="1021.6" cy="1320.6" r="6.8"/><circle cx="1011.6" cy="1324.1" r="6.2"/><circle cx="1044.7" cy="1314.5" r="8.4"/><circle cx="1055.0" cy="1311.5" r="7.9"/><circle cx="1024.9" cy="1321.1" r="8.0"/><circle cx="1048.6" cy="1314.3" r="6.9"/><circle cx="1018.1" cy="1324.8" r="5.2"/><circle cx="1030.7" cy="1321.3" r="7.6"/><circle cx="1026.0" cy="1324.4" r="6.2"/><circle cx="1036.2" cy="1321.7" r="6.5"/><circle cx="1056.0" cy="1317.0" r="7.6"/><circle cx="1042.1" cy="1321.7" r="8.0"/><circle cx="1049.8" cy="1319.5" r="7.0"/><circle cx="1032.8" cy="1326.0" r="5.5"/><circle cx="1042.2" cy="1324.0" r="6.1"/><circle cx="1035.9" cy="1326.1" r="6.5"/><circle cx="1015.2" cy="1332.5" r="7.6"/><circle cx="1048.6" cy="1322.7" r="6.4"/><circle cx="1024.0" cy="1330.7" r="8.5"/><circle cx="1019.9" cy="1333.2" r="9.0"/><circle cx="1016.7" cy="1334.8" r="7.1"/><circle cx="1032.8" cy="1330.7" r="7.9"/><circle cx="1036.8" cy="1333.2" r="5.3"/><circle cx="1029.6" cy="1335.7" r="8.9"/><circle cx="1025.5" cy="1337.0" r="6.2"/><circle cx="1041.9" cy="1332.8" r="6.7"/><circle cx="1001.2" cy="1361.9" r="8.2"/><circle cx="1000.8" cy="1365.8" r="5.4"/><circle cx="1006.1" cy="1367.2" r="5.5"/><circle cx="1005.4" cy="1368.7" r="6.4"/><circle cx="1000.3" cy="1371.3" r="6.9"/></g></g><g filter="url(#gmRed)"><g fill="url(#ag)"><circle cx="922.1" cy="1526.6" r="8.1"/><circle cx="926.8" cy="1527.9" r="5.6"/><circle cx="932.7" cy="1527.2" r="8.3"/><circle cx="941.3" cy="1526.3" r="7.4"/><circle cx="947.9" cy="1524.8" r="9.7"/><circle cx="953.1" cy="1523.7" r="6.6"/><circle cx="937.8" cy="1531.5" r="6.6"/><circle cx="926.6" cy="1535.1" r="5.3"/><circle cx="934.2" cy="1532.8" r="7.2"/><circle cx="965.8" cy="1523.7" r="9.4"/><circle cx="959.4" cy="1526.0" r="7.9"/><circle cx="929.2" cy="1538.4" r="9.4"/><circle cx="945.4" cy="1534.4" r="5.5"/><circle cx="974.1" cy="1526.3" r="7.1"/><circle cx="934.9" cy="1539.4" r="9.9"/><circle cx="951.6" cy="1534.8" r="9.8"/><circle cx="965.7" cy="1530.7" r="7.5"/><circle cx="962.4" cy="1532.3" r="8.6"/><circle cx="987.9" cy="1525.8" r="6.5"/><circle cx="980.4" cy="1528.2" r="8.2"/><circle cx="948.8" cy="1538.9" r="6.4"/><circle cx="941.6" cy="1541.7" r="10.0"/><circle cx="960.2" cy="1537.5" r="9.7"/><circle cx="957.3" cy="1538.4" r="9.7"/><circle cx="973.1" cy="1534.7" r="7.9"/><circle cx="1003.1" cy="1526.1" r="8.7"/><circle cx="980.8" cy="1532.9" r="9.2"/><circle cx="969.5" cy="1537.1" r="7.3"/><circle cx="944.7" cy="1547.1" r="9.3"/><circle cx="973.8" cy="1538.8" r="8.3"/><circle cx="1002.1" cy="1530.5" r="5.8"/><circle cx="990.4" cy="1534.7" r="8.9"/><circle cx="953.8" cy="1546.0" r="9.6"/><circle cx="996.8" cy="1534.9" r="9.4"/><circle cx="988.4" cy="1538.1" r="9.9"/><circle cx="983.7" cy="1541.7" r="9.9"/><circle cx="1011.9" cy="1534.2" r="7.7"/><circle cx="963.8" cy="1548.7" r="7.9"/><circle cx="1001.6" cy="1537.9" r="7.1"/><circle cx="996.7" cy="1540.8" r="5.7"/><circle cx="970.6" cy="1548.7" r="7.6"/><circle cx="976.6" cy="1547.4" r="6.0"/><circle cx="966.0" cy="1550.7" r="7.9"/><circle cx="983.9" cy="1545.7" r="8.9"/><circle cx="956.4" cy="1554.3" r="8.6"/><circle cx="973.6" cy="1552.0" r="7.4"/><circle cx="1002.6" cy="1543.4" r="5.2"/><circle cx="998.3" cy="1544.7" r="8.3"/><circle cx="1010.1" cy="1541.6" r="8.8"/><circle cx="964.3" cy="1555.4" r="9.9"/><circle cx="989.5" cy="1548.4" r="7.1"/><circle cx="984.7" cy="1550.6" r="9.7"/><circle cx="1017.6" cy="1542.1" r="9.9"/><circle cx="1011.5" cy="1544.6" r="6.5"/><circle cx="968.4" cy="1557.9" r="5.0"/><circle cx="960.2" cy="1561.6" r="9.2"/><circle cx="997.0" cy="1551.8" r="7.9"/><circle cx="988.4" cy="1556.4" r="7.2"/><circle cx="1018.1" cy="1548.1" r="5.0"/><circle cx="956.6" cy="1567.9" r="6.9"/><circle cx="991.1" cy="1557.6" r="7.5"/><circle cx="1023.8" cy="1547.9" r="6.1"/><circle cx="974.8" cy="1562.7" r="8.0"/><circle cx="1003.0" cy="1554.3" r="5.1"/><circle cx="960.3" cy="1569.2" r="7.1"/><circle cx="995.8" cy="1558.7" r="9.2"/><circle cx="985.0" cy="1562.2" r="8.8"/><circle cx="1025.6" cy="1550.6" r="6.2"/><circle cx="1018.6" cy="1553.0" r="5.8"/><circle cx="1011.1" cy="1555.5" r="7.9"/><circle cx="972.9" cy="1567.9" r="9.3"/><circle cx="968.4" cy="1569.5" r="6.9"/><circle cx="959.1" cy="1572.4" r="9.7"/><circle cx="955.8" cy="1574.3" r="9.6"/><circle cx="984.5" cy="1565.9" r="6.9"/><circle cx="1003.3" cy="1561.4" r="8.1"/><circle cx="1009.0" cy="1560.3" r="7.0"/><circle cx="969.7" cy="1574.8" r="6.2"/><circle cx="1016.7" cy="1560.9" r="6.6"/><circle cx="987.4" cy="1570.2" r="6.0"/><circle cx="999.0" cy="1567.2" r="8.7"/><circle cx="975.6" cy="1574.8" r="6.8"/><circle cx="1021.5" cy="1561.7" r="8.6"/><circle cx="1003.8" cy="1567.1" r="8.0"/><circle cx="988.6" cy="1573.5" r="7.5"/><circle cx="981.8" cy="1575.9" r="8.4"/><circle cx="1020.2" cy="1566.2" r="8.7"/><circle cx="965.4" cy="1583.4" r="9.8"/><circle cx="1013.2" cy="1569.7" r="6.9"/><circle cx="997.4" cy="1574.7" r="6.6"/><circle cx="1001.4" cy="1573.9" r="6.7"/><circle cx="977.7" cy="1581.3" r="7.6"/><circle cx="1027.5" cy="1566.9" r="8.5"/><circle cx="983.0" cy="1581.9" r="9.9"/><circle cx="987.7" cy="1581.6" r="7.3"/><circle cx="1010.1" cy="1577.0" r="8.2"/><circle cx="998.2" cy="1580.8" r="9.8"/><circle cx="1001.9" cy="1580.0" r="6.8"/><circle cx="1018.5" cy="1575.5" r="9.4"/><circle cx="1024.6" cy="1573.9" r="7.8"/><circle cx="1011.7" cy="1584.4" r="7.9"/><circle cx="1017.6" cy="1583.8" r="9.8"/><circle cx="1010.5" cy="1588.2" r="9.8"/><circle cx="1018.3" cy="1586.6" r="8.8"/><circle cx="901.1" cy="1530.8" r="8.0"/><circle cx="882.2" cy="1537.7" r="8.0"/><circle cx="895.7" cy="1534.1" r="7.5"/><circle cx="884.4" cy="1539.0" r="5.2"/><circle cx="901.9" cy="1536.5" r="5.1"/><circle cx="905.9" cy="1535.8" r="6.5"/><circle cx="881.2" cy="1543.5" r="7.3"/><circle cx="883.8" cy="1544.9" r="9.9"/><circle cx="901.6" cy="1541.0" r="7.7"/><circle cx="895.2" cy="1543.1" r="8.6"/><circle cx="908.5" cy="1541.3" r="6.3"/><circle cx="886.7" cy="1548.2" r="9.6"/><circle cx="895.9" cy="1547.2" r="9.1"/><circle cx="878.5" cy="1553.1" r="9.4"/><circle cx="897.7" cy="1552.5" r="8.0"/></g></g><g filter="url(#gmRedD)"><g fill="url(#ag)"><circle cx="1060.9" cy="1539.7" r="5.6"/><circle cx="1058.9" cy="1542.0" r="7.1"/><circle cx="1063.6" cy="1543.3" r="6.3"/><circle cx="1066.3" cy="1543.9" r="6.3"/><circle cx="1057.8" cy="1548.0" r="6.2"/><circle cx="1068.4" cy="1547.6" r="7.5"/><circle cx="1065.4" cy="1548.7" r="5.5"/><circle cx="1075.9" cy="1548.1" r="7.8"/><circle cx="1059.1" cy="1553.7" r="5.8"/><circle cx="1069.3" cy="1553.7" r="5.7"/><circle cx="1062.6" cy="1557.5" r="6.1"/><circle cx="1074.3" cy="1556.7" r="7.4"/><circle cx="1064.3" cy="1560.5" r="7.9"/><circle cx="1070.8" cy="1563.6" r="6.0"/><circle cx="1069.2" cy="1565.0" r="7.2"/></g></g></g><rect x="882.4" y="1566" width="67.5" height="36" fill="#f6f6f6"/><text x="881.3" y="1593" font-size="26.8" font-family="Liberation Sans" font-weight="bold">47-60</text><text x="1101.5" y="1284.5" font-size="26.8" font-family="Liberation Sans" font-weight="bold">200-213</text><text x="1024.5" y="1321.6" font-size="13.3" fill="#1e1e1e" font-family="Liberation Sans" font-weight="bold">H202</text><text x="960.2" y="1363.5" font-size="13.3" fill="#1e1e1e" font-family="Liberation Sans" font-weight="bold">S208</text><text x="1027.2" y="1423" font-size="13.3" fill="#1e1e1e" font-family="Liberation Sans" font-weight="bold">P209</text><text x="1020.5" y="1465" font-size="13.3" fill="#1e1e1e" font-family="Liberation Sans" font-weight="bold">M50</text><text x="1019.2" y="1482.7" font-size="13.3" fill="#1e1e1e" font-family="Liberation Sans" font-weight="bold">G51</text><text x="994.7" y="1490.9" font-size="13.3" fill="#1e1e1e" font-family="Liberation Sans" font-weight="bold">F52</text><text x="1019.2" y="1501.7" font-size="13.3" fill="#1e1e1e" font-family="Liberation Sans" font-weight="bold">L48</text><text x="984.7" y="1516.6" font-size="13.3" fill="#1e1e1e" font-family="Liberation Sans" font-weight="bold">S53</text><text x="1016.4000000000001" y="1561.3" font-size="13.3" fill="#1e1e1e" font-family="Liberation Sans" font-weight="bold">L58</text><text x="1032.7" y="1583" font-size="13.3" fill="#1e1e1e" font-family="Liberation Sans" font-weight="bold">S59</text>
<path d="M213.5 567.5 V772.3 H973.5" fill="none" stroke="#000" stroke-width="3.2" stroke-linecap="square"/>
<line x1="204.0" y1="750.3" x2="213.5" y2="750.3" stroke="#000" stroke-width="3"/>
<text x="196.5" y="756.5" font-size="17" text-anchor="end" font-family="Liberation Sans" font-weight="bold">1</text>
<line x1="204.0" y1="727.7" x2="213.5" y2="727.7" stroke="#000" stroke-width="3"/>
<text x="196.5" y="733.9" font-size="17" text-anchor="end" font-family="Liberation Sans" font-weight="bold">2</text>
<line x1="204.0" y1="705.0" x2="213.5" y2="705.0" stroke="#000" stroke-width="3"/>
<text x="196.5" y="711.2" font-size="17" text-anchor="end" font-family="Liberation Sans" font-weight="bold">3</text>
<line x1="204.0" y1="682.4" x2="213.5" y2="682.4" stroke="#000" stroke-width="3"/>
<text x="196.5" y="688.6" font-size="17" text-anchor="end" font-family="Liberation Sans" font-weight="bold">4</text>
<line x1="204.0" y1="659.7" x2="213.5" y2="659.7" stroke="#000" stroke-width="3"/>
<text x="196.5" y="665.9" font-size="17" text-anchor="end" font-family="Liberation Sans" font-weight="bold">5</text>
<line x1="204.0" y1="637.1" x2="213.5" y2="637.1" stroke="#000" stroke-width="3"/>
<text x="196.5" y="643.3" font-size="17" text-anchor="end" font-family="Liberation Sans" font-weight="bold">6</text>
<line x1="204.0" y1="614.5" x2="213.5" y2="614.5" stroke="#000" stroke-width="3"/>
<text x="196.5" y="620.7" font-size="17" text-anchor="end" font-family="Liberation Sans" font-weight="bold">7</text>
<line x1="204.0" y1="591.8" x2="213.5" y2="591.8" stroke="#000" stroke-width="3"/>
<text x="196.5" y="598.0" font-size="17" text-anchor="end" font-family="Liberation Sans" font-weight="bold">8</text>
<line x1="204.0" y1="569.2" x2="213.5" y2="569.2" stroke="#000" stroke-width="3"/>
<text x="196.5" y="575.4" font-size="17" text-anchor="end" font-family="Liberation Sans" font-weight="bold">9</text>
<line x1="235.7" y1="772.3" x2="235.7" y2="782.8" stroke="#000" stroke-width="3"/>
<text x="235.7" y="804" font-size="17" text-anchor="middle" font-family="Liberation Sans" font-weight="bold">15</text>
<line x1="302.65" y1="772.3" x2="302.65" y2="782.8" stroke="#000" stroke-width="3"/>
<text x="302.65" y="804" font-size="17" text-anchor="middle" font-family="Liberation Sans" font-weight="bold">30</text>
<line x1="369.6" y1="772.3" x2="369.6" y2="782.8" stroke="#000" stroke-width="3"/>
<text x="369.6" y="804" font-size="17" text-anchor="middle" font-family="Liberation Sans" font-weight="bold">45</text>
<line x1="436.55" y1="772.3" x2="436.55" y2="782.8" stroke="#000" stroke-width="3"/>
<text x="436.55" y="804" font-size="17" text-anchor="middle" font-family="Liberation Sans" font-weight="bold">60</text>
<line x1="503.5" y1="772.3" x2="503.5" y2="782.8" stroke="#000" stroke-width="3"/>
<text x="503.5" y="804" font-size="17" text-anchor="middle" font-family="Liberation Sans" font-weight="bold">75</text>
<line x1="570.45" y1="772.3" x2="570.45" y2="782.8" stroke="#000" stroke-width="3"/>
<text x="570.45" y="804" font-size="17" text-anchor="middle" font-family="Liberation Sans" font-weight="bold">90</text>
<line x1="637.4000000000001" y1="772.3" x2="637.4000000000001" y2="782.8" stroke="#000" stroke-width="3"/>
<text x="637.4000000000001" y="804" font-size="17" text-anchor="middle" font-family="Liberation Sans" font-weight="bold">105</text>
<line x1="704.35" y1="772.3" x2="704.35" y2="782.8" stroke="#000" stroke-width="3"/>
<text x="704.35" y="804" font-size="17" text-anchor="middle" font-family="Liberation Sans" font-weight="bold">120</text>
<line x1="771.3" y1="772.3" x2="771.3" y2="782.8" stroke="#000" stroke-width="3"/>
<text x="771.3" y="804" font-size="17" text-anchor="middle" font-family="Liberation Sans" font-weight="bold">135</text>
<line x1="838.25" y1="772.3" x2="838.25" y2="782.8" stroke="#000" stroke-width="3"/>
<text x="838.25" y="804" font-size="17" text-anchor="middle" font-family="Liberation Sans" font-weight="bold">150</text>
<line x1="905.2" y1="772.3" x2="905.2" y2="782.8" stroke="#000" stroke-width="3"/>
<text x="905.2" y="804" font-size="17" text-anchor="middle" font-family="Liberation Sans" font-weight="bold">165</text>
<line x1="972.1500000000001" y1="772.3" x2="972.1500000000001" y2="782.8" stroke="#000" stroke-width="3"/>
<text x="972.1500000000001" y="804" font-size="17" text-anchor="middle" font-family="Liberation Sans" font-weight="bold">180</text>
<text transform="translate(168.6 659) rotate(-90)" font-size="22.4" text-anchor="middle" font-family="Liberation Sans" font-weight="bold">ConSurf score</text>
<g><circle cx="405.5" cy="569.2" r="4.6" fill="#00c000"/>
<circle cx="485.8" cy="569.2" r="4.6" fill="#0000ff"/>
<circle cx="490.3" cy="569.2" r="4.6" fill="#0000ff"/>
<circle cx="499.5" cy="569.2" r="4.6" fill="#0000ff"/>
<circle cx="838.3" cy="569.2" r="4.6" fill="#00c000"/>
<circle cx="896.3" cy="569.2" r="4.6" fill="#0000ff"/>
<circle cx="936.7" cy="569.2" r="4.6" fill="#0000ff"/>
<circle cx="941.3" cy="569.2" r="4.6" fill="#0000ff"/>
<circle cx="970.5" cy="569.2" r="4.6" fill="#0000ff"/>
<circle cx="267.0" cy="591.8" r="4.6" fill="#0000ff"/>
<circle cx="280.3" cy="591.8" r="4.6" fill="#0000ff"/>
<circle cx="302.7" cy="591.8" r="4.6" fill="#0000ff"/>
<circle cx="351.7" cy="591.8" r="4.6" fill="#0000ff"/>
<circle cx="365.0" cy="591.8" r="4.6" fill="#0000ff"/>
<circle cx="382.8" cy="591.8" r="4.6" fill="#0000ff"/>
<circle cx="391.0" cy="591.8" r="4.6" fill="#0000ff"/>
<circle cx="396.5" cy="591.8" r="4.6" fill="#0000ff"/>
<circle cx="402.0" cy="591.8" r="4.6" fill="#0000ff"/>
<circle cx="427.8" cy="591.8" r="4.6" fill="#0000ff"/>
<circle cx="436.7" cy="591.8" r="4.6" fill="#0000ff"/>
<circle cx="450.0" cy="591.8" r="4.6" fill="#0000ff"/>
<circle cx="463.3" cy="591.8" r="4.6" fill="#0000ff"/>
<circle cx="525.8" cy="591.8" r="4.6" fill="#0000ff"/>
<circle cx="535.0" cy="591.8" r="4.6" fill="#0000ff"/>
<circle cx="552.7" cy="591.8" r="4.6" fill="#0000ff"/>
<circle cx="593.3" cy="591.8" r="4.6" fill="#0000ff"/>
<circle cx="597.5" cy="591.8" r="4.6" fill="#0000ff"/>
<circle cx="615.0" cy="591.8" r="4.6" fill="#0000ff"/>
<circle cx="642.0" cy="591.8" r="4.6" fill="#0000ff"/>
<circle cx="691.0" cy="591.8" r="4.6" fill="#0000ff"/>
<circle cx="726.7" cy="591.8" r="4.6" fill="#ff0000"/>
<circle cx="793.8" cy="591.8" r="4.6" fill="#ff0000"/>
<circle cx="811.7" cy="591.8" r="4.6" fill="#0000ff"/>
<circle cx="829.5" cy="591.8" r="4.6" fill="#0000ff"/>
<circle cx="850.8" cy="591.8" r="4.6" fill="#00c000"/>
<circle cx="856.3" cy="591.8" r="4.6" fill="#0000ff"/>
<circle cx="874.2" cy="591.8" r="4.6" fill="#0000ff"/>
<circle cx="945.5" cy="591.8" r="4.6" fill="#0000ff"/>
<circle cx="293.7" cy="614.5" r="4.6" fill="#0000ff"/>
<circle cx="329.3" cy="614.5" r="4.6" fill="#0000ff"/>
<circle cx="360.7" cy="614.5" r="4.6" fill="#0000ff"/>
<circle cx="445.8" cy="614.5" r="4.6" fill="#ff0000"/>
<circle cx="472.0" cy="614.5" r="4.6" fill="#00c000"/>
<circle cx="477.0" cy="614.5" r="4.6" fill="#00c000"/>
<circle cx="530.5" cy="614.5" r="4.6" fill="#0000ff"/>
<circle cx="624.2" cy="614.5" r="4.6" fill="#0000ff"/>
<circle cx="646.3" cy="614.5" r="4.6" fill="#00c000"/>
<circle cx="655.3" cy="614.5" r="4.6" fill="#0000ff"/>
<circle cx="660.0" cy="614.5" r="4.6" fill="#0000ff"/>
<circle cx="673.3" cy="614.5" r="4.6" fill="#ff0000"/>
<circle cx="713.3" cy="614.5" r="4.6" fill="#0000ff"/>
<circle cx="722.5" cy="614.5" r="4.6" fill="#0000ff"/>
<circle cx="731.3" cy="614.5" r="4.6" fill="#00c000"/>
<circle cx="740.0" cy="614.5" r="4.6" fill="#0000ff"/>
<circle cx="744.5" cy="614.5" r="4.6" fill="#0000ff"/>
<circle cx="748.5" cy="614.5" r="4.6" fill="#0000ff"/>
<circle cx="754.0" cy="614.5" r="4.6" fill="#00c000"/>
<circle cx="758.3" cy="614.5" r="4.6" fill="#00c000"/>
<circle cx="762.5" cy="614.5" r="4.6" fill="#00c000"/>
<circle cx="775.8" cy="614.5" r="4.6" fill="#00c000"/>
<circle cx="798.0" cy="614.5" r="4.6" fill="#00c000"/>
<circle cx="807.0" cy="614.5" r="4.6" fill="#0000ff"/>
<circle cx="816.2" cy="614.5" r="4.6" fill="#00c000"/>
<circle cx="825.0" cy="614.5" r="4.6" fill="#0000ff"/>
<circle cx="833.8" cy="614.5" r="4.6" fill="#00c000"/>
<circle cx="843.0" cy="614.5" r="4.6" fill="#0000ff"/>
<circle cx="883.0" cy="614.5" r="4.6" fill="#0000ff"/>
<circle cx="905.3" cy="614.5" r="4.6" fill="#0000ff"/>
<circle cx="954.5" cy="614.5" r="4.6" fill="#0000ff"/>
<circle cx="258.2" cy="637.1" r="4.6" fill="#0000ff"/>
<circle cx="338.3" cy="637.1" r="4.6" fill="#0000ff"/>
<circle cx="342.8" cy="637.1" r="4.6" fill="#0000ff"/>
<circle cx="356.2" cy="637.1" r="4.6" fill="#ff0000"/>
<circle cx="378.3" cy="637.1" r="4.6" fill="#0000ff"/>
<circle cx="387.5" cy="637.1" r="4.6" fill="#0000ff"/>
<circle cx="503.7" cy="637.1" r="4.6" fill="#ff0000"/>
<circle cx="517.0" cy="637.1" r="4.6" fill="#0000ff"/>
<circle cx="566.2" cy="637.1" r="4.6" fill="#0000ff"/>
<circle cx="606.2" cy="637.1" r="4.6" fill="#0000ff"/>
<circle cx="610.8" cy="637.1" r="4.6" fill="#0000ff"/>
<circle cx="628.3" cy="637.1" r="4.6" fill="#0000ff"/>
<circle cx="637.5" cy="637.1" r="4.6" fill="#00c000"/>
<circle cx="663.8" cy="637.1" r="4.6" fill="#00c000"/>
<circle cx="668.8" cy="637.1" r="4.6" fill="#0000ff"/>
<circle cx="708.8" cy="637.1" r="4.6" fill="#00c000"/>
<circle cx="717.8" cy="637.1" r="4.6" fill="#0000ff"/>
<circle cx="735.5" cy="637.1" r="4.6" fill="#0000ff"/>
<circle cx="766.7" cy="637.1" r="4.6" fill="#00c000"/>
<circle cx="771.3" cy="637.1" r="4.6" fill="#00c000"/>
<circle cx="785.0" cy="637.1" r="4.6" fill="#00c000"/>
<circle cx="789.3" cy="637.1" r="4.6" fill="#00c000"/>
<circle cx="892.0" cy="637.1" r="4.6" fill="#0000ff"/>
<circle cx="963.3" cy="637.1" r="4.6" fill="#0000ff"/>
<circle cx="967.8" cy="637.1" r="4.6" fill="#0000ff"/>
<circle cx="244.7" cy="659.7" r="4.6" fill="#0000ff"/>
<circle cx="271.0" cy="659.7" r="4.6" fill="#0000ff"/>
<circle cx="275.5" cy="659.7" r="4.6" fill="#0000ff"/>
<circle cx="289.3" cy="659.7" r="4.6" fill="#0000ff"/>
<circle cx="370.0" cy="659.7" r="4.6" fill="#ff0000"/>
<circle cx="374.2" cy="659.7" r="4.6" fill="#ff0000"/>
<circle cx="409.0" cy="659.7" r="4.6" fill="#00c000"/>
<circle cx="423.3" cy="659.7" r="4.6" fill="#00c000"/>
<circle cx="441.3" cy="659.7" r="4.6" fill="#0000ff"/>
<circle cx="512.8" cy="659.7" r="4.6" fill="#0000ff"/>
<circle cx="539.3" cy="659.7" r="4.6" fill="#0000ff"/>
<circle cx="600.5" cy="659.7" r="4.6" fill="#0000ff"/>
<circle cx="619.5" cy="659.7" r="4.6" fill="#0000ff"/>
<circle cx="633.0" cy="659.7" r="4.6" fill="#0000ff"/>
<circle cx="650.5" cy="659.7" r="4.6" fill="#0000ff"/>
<circle cx="677.5" cy="659.7" r="4.6" fill="#00c000"/>
<circle cx="681.7" cy="659.7" r="4.6" fill="#00c000"/>
<circle cx="695.8" cy="659.7" r="4.6" fill="#0000ff"/>
<circle cx="700.0" cy="659.7" r="4.6" fill="#0000ff"/>
<circle cx="704.2" cy="659.7" r="4.6" fill="#0000ff"/>
<circle cx="780.5" cy="659.7" r="4.6" fill="#00c000"/>
<circle cx="802.5" cy="659.7" r="4.6" fill="#00c000"/>
<circle cx="820.5" cy="659.7" r="4.6" fill="#0000ff"/>
<circle cx="869.7" cy="659.7" r="4.6" fill="#0000ff"/>
<circle cx="878.7" cy="659.7" r="4.6" fill="#0000ff"/>
<circle cx="914.2" cy="659.7" r="4.6" fill="#0000ff"/>
<circle cx="923.0" cy="659.7" r="4.6" fill="#0000ff"/>
<circle cx="950.0" cy="659.7" r="4.6" fill="#0000ff"/>
<circle cx="262.5" cy="682.4" r="4.6" fill="#0000ff"/>
<circle cx="315.8" cy="682.4" r="4.6" fill="#0000ff"/>
<circle cx="325.0" cy="682.4" r="4.6" fill="#0000ff"/>
<circle cx="418.8" cy="682.4" r="4.6" fill="#0000ff"/>
<circle cx="458.8" cy="682.4" r="4.6" fill="#00c000"/>
<circle cx="468.0" cy="682.4" r="4.6" fill="#0000ff"/>
<circle cx="521.7" cy="682.4" r="4.6" fill="#0000ff"/>
<circle cx="543.7" cy="682.4" r="4.6" fill="#0000ff"/>
<circle cx="686.3" cy="682.4" r="4.6" fill="#0000ff"/>
<circle cx="860.8" cy="682.4" r="4.6" fill="#0000ff"/>
<circle cx="901.0" cy="682.4" r="4.6" fill="#0000ff"/>
<circle cx="932.0" cy="682.4" r="4.6" fill="#0000ff"/>
<circle cx="298.3" cy="705.0" r="4.6" fill="#0000ff"/>
<circle cx="347.5" cy="705.0" r="4.6" fill="#0000ff"/>
<circle cx="481.3" cy="705.0" r="4.6" fill="#0000ff"/>
<circle cx="494.7" cy="705.0" r="4.6" fill="#0000ff"/>
<circle cx="508.0" cy="705.0" r="4.6" fill="#ff0000"/>
<circle cx="887.5" cy="705.0" r="4.6" fill="#0000ff"/>
<circle cx="333.8" cy="727.7" r="4.6" fill="#ff0000"/>
<circle cx="548.3" cy="727.7" r="4.6" fill="#0000ff"/>
<circle cx="847.2" cy="727.7" r="4.6" fill="#00c000"/>
<circle cx="958.8" cy="727.7" r="4.6" fill="#0000ff"/>
<circle cx="284.8" cy="750.3" r="4.6" fill="#0000ff"/>
<circle cx="306.7" cy="750.3" r="4.6" fill="#0000ff"/>
<circle cx="310.8" cy="750.3" r="4.6" fill="#0000ff"/>
<circle cx="320.3" cy="750.3" r="4.6" fill="#0000ff"/>
<circle cx="414.5" cy="750.3" r="4.6" fill="#00c000"/>
<circle cx="432.2" cy="750.3" r="4.6" fill="#0000ff"/>
<circle cx="454.7" cy="750.3" r="4.6" fill="#0000ff"/>
<circle cx="557.2" cy="750.3" r="4.6" fill="#0000ff"/>
<circle cx="570.8" cy="750.3" r="4.6" fill="#0000ff"/>
<circle cx="575.0" cy="750.3" r="4.6" fill="#0000ff"/>
<circle cx="579.2" cy="750.3" r="4.6" fill="#0000ff"/>
<circle cx="588.3" cy="750.3" r="4.6" fill="#0000ff"/>
<circle cx="865.3" cy="750.3" r="4.6" fill="#0000ff"/>
<circle cx="910.0" cy="750.3" r="4.6" fill="#0000ff"/></g>
<text x="593.5" y="836.5" font-size="21.8" text-anchor="middle" font-family="Liberation Sans" font-weight="bold">Residue number</text>
<line x1="392.3" y1="554.2" x2="423" y2="554.2" stroke="#ff0000" stroke-width="3.6"/><path d="M378.3 554.2 L393.3 546.9000000000001 L393.3 561.5 Z" fill="#ff0000"/><path d="M437 554.2 L422 546.9000000000001 L422 561.5 Z" fill="#ff0000"/>
<text x="408.3" y="544.6" font-size="22" text-anchor="middle" font-family="Liberation Sans" font-weight="bold">47-60</text>
<line x1="648.5" y1="553.5" x2="835.0" y2="553.5" stroke="#000" stroke-width="3.6"/><path d="M635 553.5 L649.5 546.5 L649.5 560.5 Z" fill="#000"/><path d="M848.5 553.5 L834.0 546.5 L834.0 560.5 Z" fill="#000"/>
<text x="742.2" y="545.8" font-size="22" text-anchor="middle" font-family="Liberation Sans" font-weight="bold">105-153</text>
<path d="M213.5 896.3 V1101.3 H936.7" fill="none" stroke="#000" stroke-width="3.2" stroke-linecap="square"/>
<line x1="204.0" y1="1079.5" x2="213.5" y2="1079.5" stroke="#000" stroke-width="3"/>
<text x="196.5" y="1085.7" font-size="17" text-anchor="end" font-family="Liberation Sans" font-weight="bold">1</text>
<line x1="204.0" y1="1056.7" x2="213.5" y2="1056.7" stroke="#000" stroke-width="3"/>
<text x="196.5" y="1062.9" font-size="17" text-anchor="end" font-family="Liberation Sans" font-weight="bold">2</text>
<line x1="204.0" y1="1033.9" x2="213.5" y2="1033.9" stroke="#000" stroke-width="3"/>
<text x="196.5" y="1040.1" font-size="17" text-anchor="end" font-family="Liberation Sans" font-weight="bold">3</text>
<line x1="204.0" y1="1011.1" x2="213.5" y2="1011.1" stroke="#000" stroke-width="3"/>
<text x="196.5" y="1017.3" font-size="17" text-anchor="end" font-family="Liberation Sans" font-weight="bold">4</text>
<line x1="204.0" y1="988.3" x2="213.5" y2="988.3" stroke="#000" stroke-width="3"/>
<text x="196.5" y="994.5" font-size="17" text-anchor="end" font-family="Liberation Sans" font-weight="bold">5</text>
<line x1="204.0" y1="965.5" x2="213.5" y2="965.5" stroke="#000" stroke-width="3"/>
<text x="196.5" y="971.8" font-size="17" text-anchor="end" font-family="Liberation Sans" font-weight="bold">6</text>
<line x1="204.0" y1="942.8" x2="213.5" y2="942.8" stroke="#000" stroke-width="3"/>
<text x="196.5" y="949.0" font-size="17" text-anchor="end" font-family="Liberation Sans" font-weight="bold">7</text>
<line x1="204.0" y1="920.0" x2="213.5" y2="920.0" stroke="#000" stroke-width="3"/>
<text x="196.5" y="926.2" font-size="17" text-anchor="end" font-family="Liberation Sans" font-weight="bold">8</text>
<line x1="204.0" y1="897.2" x2="213.5" y2="897.2" stroke="#000" stroke-width="3"/>
<text x="196.5" y="903.4" font-size="17" text-anchor="end" font-family="Liberation Sans" font-weight="bold">9</text>
<line x1="272.7" y1="1101.3" x2="272.7" y2="1111.8" stroke="#000" stroke-width="3"/>
<text x="272.7" y="1133.5" font-size="17" text-anchor="middle" font-family="Liberation Sans" font-weight="bold">195</text>
<line x1="336.7" y1="1101.3" x2="336.7" y2="1111.8" stroke="#000" stroke-width="3"/>
<text x="336.7" y="1133.5" font-size="17" text-anchor="middle" font-family="Liberation Sans" font-weight="bold">210</text>
<line x1="400.7" y1="1101.3" x2="400.7" y2="1111.8" stroke="#000" stroke-width="3"/>
<text x="400.7" y="1133.5" font-size="17" text-anchor="middle" font-family="Liberation Sans" font-weight="bold">225</text>
<line x1="464.3" y1="1101.3" x2="464.3" y2="1111.8" stroke="#000" stroke-width="3"/>
<text x="464.3" y="1133.5" font-size="17" text-anchor="middle" font-family="Liberation Sans" font-weight="bold">240</text>
<line x1="529" y1="1101.3" x2="529" y2="1111.8" stroke="#000" stroke-width="3"/>
<text x="529" y="1133.5" font-size="17" text-anchor="middle" font-family="Liberation Sans" font-weight="bold">255</text>
<line x1="592.7" y1="1101.3" x2="592.7" y2="1111.8" stroke="#000" stroke-width="3"/>
<text x="592.7" y="1133.5" font-size="17" text-anchor="middle" font-family="Liberation Sans" font-weight="bold">270</text>
<line x1="656.7" y1="1101.3" x2="656.7" y2="1111.8" stroke="#000" stroke-width="3"/>
<text x="656.7" y="1133.5" font-size="17" text-anchor="middle" font-family="Liberation Sans" font-weight="bold">285</text>
<line x1="720.7" y1="1101.3" x2="720.7" y2="1111.8" stroke="#000" stroke-width="3"/>
<text x="720.7" y="1133.5" font-size="17" text-anchor="middle" font-family="Liberation Sans" font-weight="bold">300</text>
<line x1="784" y1="1101.3" x2="784" y2="1111.8" stroke="#000" stroke-width="3"/>
<text x="784" y="1133.5" font-size="17" text-anchor="middle" font-family="Liberation Sans" font-weight="bold">315</text>
<line x1="848.3" y1="1101.3" x2="848.3" y2="1111.8" stroke="#000" stroke-width="3"/>
<text x="848.3" y="1133.5" font-size="17" text-anchor="middle" font-family="Liberation Sans" font-weight="bold">330</text>
<line x1="912.3" y1="1101.3" x2="912.3" y2="1111.8" stroke="#000" stroke-width="3"/>
<text x="912.3" y="1133.5" font-size="17" text-anchor="middle" font-family="Liberation Sans" font-weight="bold">345</text>
<line x1="935" y1="1101.3" x2="935" y2="1111.8" stroke="#000" stroke-width="3"/>
<text x="948" y="1133.5" font-size="17" text-anchor="middle" font-family="Liberation Sans" font-weight="bold">350</text>
<text transform="translate(168.6 989) rotate(-90)" font-size="22.4" text-anchor="middle" font-family="Liberation Sans" font-weight="bold">ConSurf score</text>
<g><circle cx="235.0" cy="897.2" r="4.6" fill="#0000ff"/>
<circle cx="243.3" cy="897.2" r="4.6" fill="#ff0000"/>
<circle cx="252.2" cy="897.2" r="4.6" fill="#0000ff"/>
<circle cx="332.8" cy="897.2" r="4.6" fill="#0000ff"/>
<circle cx="404.5" cy="897.2" r="4.6" fill="#0000ff"/>
<circle cx="422.2" cy="897.2" r="4.6" fill="#0000ff"/>
<circle cx="431.2" cy="897.2" r="4.6" fill="#0000ff"/>
<circle cx="448.0" cy="897.2" r="4.6" fill="#ff0000"/>
<circle cx="529.2" cy="897.2" r="4.6" fill="#0000ff"/>
<circle cx="614.2" cy="897.2" r="4.6" fill="#00c000"/>
<circle cx="627.0" cy="897.2" r="4.6" fill="#0000ff"/>
<circle cx="694.7" cy="897.2" r="4.6" fill="#00c000"/>
<circle cx="716.3" cy="897.2" r="4.6" fill="#0000ff"/>
<circle cx="733.3" cy="897.2" r="4.6" fill="#0000ff"/>
<circle cx="741.7" cy="897.2" r="4.6" fill="#0000ff"/>
<circle cx="750.0" cy="897.2" r="4.6" fill="#0000ff"/>
<circle cx="755.0" cy="897.2" r="4.6" fill="#0000ff"/>
<circle cx="773.0" cy="897.2" r="4.6" fill="#0000ff"/>
<circle cx="831.7" cy="897.2" r="4.6" fill="#0000ff"/>
<circle cx="848.3" cy="897.2" r="4.6" fill="#0000ff"/>
<circle cx="852.5" cy="897.2" r="4.6" fill="#0000ff"/>
<circle cx="860.8" cy="897.2" r="4.6" fill="#00c000"/>
<circle cx="865.0" cy="897.2" r="4.6" fill="#00c000"/>
<circle cx="874.2" cy="897.2" r="4.6" fill="#0000ff"/>
<circle cx="877.5" cy="897.2" r="4.6" fill="#00c000"/>
<circle cx="881.7" cy="897.2" r="4.6" fill="#0000ff"/>
<circle cx="885.8" cy="897.2" r="4.6" fill="#00c000"/>
<circle cx="891.7" cy="897.2" r="4.6" fill="#0000ff"/>
<circle cx="895.8" cy="897.2" r="4.6" fill="#0000ff"/>
<circle cx="900.0" cy="897.2" r="4.6" fill="#0000ff"/>
<circle cx="904.2" cy="897.2" r="4.6" fill="#0000ff"/>
<circle cx="916.7" cy="897.2" r="4.6" fill="#0000ff"/>
<circle cx="222.2" cy="920.0" r="4.6" fill="#0000ff"/>
<circle cx="230.8" cy="920.0" r="4.6" fill="#0000ff"/>
<circle cx="260.0" cy="920.0" r="4.6" fill="#0000ff"/>
<circle cx="264.7" cy="920.0" r="4.6" fill="#0000ff"/>
<circle cx="277.2" cy="920.0" r="4.6" fill="#0000ff"/>
<circle cx="281.7" cy="920.0" r="4.6" fill="#0000ff"/>
<circle cx="303.0" cy="920.0" r="4.6" fill="#0000ff"/>
<circle cx="328.3" cy="920.0" r="4.6" fill="#0000ff"/>
<circle cx="337.2" cy="920.0" r="4.6" fill="#0000ff"/>
<circle cx="410.0" cy="920.0" r="4.6" fill="#0000ff"/>
<circle cx="443.7" cy="920.0" r="4.6" fill="#0000ff"/>
<circle cx="460.8" cy="920.0" r="4.6" fill="#0000ff"/>
<circle cx="490.5" cy="920.0" r="4.6" fill="#0000ff"/>
<circle cx="495.0" cy="920.0" r="4.6" fill="#0000ff"/>
<circle cx="545.8" cy="920.0" r="4.6" fill="#ff0000"/>
<circle cx="554.2" cy="920.0" r="4.6" fill="#0000ff"/>
<circle cx="558.8" cy="920.0" r="4.6" fill="#ff0000"/>
<circle cx="566.7" cy="920.0" r="4.6" fill="#ff0000"/>
<circle cx="571.7" cy="920.0" r="4.6" fill="#0000ff"/>
<circle cx="630.8" cy="920.0" r="4.6" fill="#0000ff"/>
<circle cx="635.0" cy="920.0" r="4.6" fill="#0000ff"/>
<circle cx="639.7" cy="920.0" r="4.6" fill="#0000ff"/>
<circle cx="703.3" cy="920.0" r="4.6" fill="#0000ff"/>
<circle cx="758.8" cy="920.0" r="4.6" fill="#0000ff"/>
<circle cx="767.8" cy="920.0" r="4.6" fill="#0000ff"/>
<circle cx="810.0" cy="920.0" r="4.6" fill="#00c000"/>
<circle cx="870.0" cy="920.0" r="4.6" fill="#0000ff"/>
<circle cx="907.5" cy="920.0" r="4.6" fill="#0000ff"/>
<circle cx="912.5" cy="920.0" r="4.6" fill="#0000ff"/>
<circle cx="920.8" cy="920.0" r="4.6" fill="#0000ff"/>
<circle cx="925.0" cy="920.0" r="4.6" fill="#0000ff"/>
<circle cx="933.8" cy="920.0" r="4.6" fill="#0000ff"/>
<circle cx="217.5" cy="942.8" r="4.6" fill="#0000ff"/>
<circle cx="226.3" cy="942.8" r="4.6" fill="#0000ff"/>
<circle cx="247.8" cy="942.8" r="4.6" fill="#0000ff"/>
<circle cx="294.5" cy="942.8" r="4.6" fill="#0000ff"/>
<circle cx="307.0" cy="942.8" r="4.6" fill="#0000ff"/>
<circle cx="311.7" cy="942.8" r="4.6" fill="#0000ff"/>
<circle cx="349.7" cy="942.8" r="4.6" fill="#0000ff"/>
<circle cx="358.3" cy="942.8" r="4.6" fill="#0000ff"/>
<circle cx="371.2" cy="942.8" r="4.6" fill="#ff0000"/>
<circle cx="465.0" cy="942.8" r="4.6" fill="#0000ff"/>
<circle cx="482.0" cy="942.8" r="4.6" fill="#0000ff"/>
<circle cx="498.8" cy="942.8" r="4.6" fill="#0000ff"/>
<circle cx="541.7" cy="942.8" r="4.6" fill="#0000ff"/>
<circle cx="618.3" cy="942.8" r="4.6" fill="#0000ff"/>
<circle cx="720.8" cy="942.8" r="4.6" fill="#0000ff"/>
<circle cx="780.0" cy="942.8" r="4.6" fill="#0000ff"/>
<circle cx="784.2" cy="942.8" r="4.6" fill="#0000ff"/>
<circle cx="793.3" cy="942.8" r="4.6" fill="#0000ff"/>
<circle cx="797.5" cy="942.8" r="4.6" fill="#0000ff"/>
<circle cx="805.8" cy="942.8" r="4.6" fill="#0000ff"/>
<circle cx="239.2" cy="965.5" r="4.6" fill="#0000ff"/>
<circle cx="286.2" cy="965.5" r="4.6" fill="#0000ff"/>
<circle cx="320.0" cy="965.5" r="4.6" fill="#0000ff"/>
<circle cx="353.8" cy="965.5" r="4.6" fill="#0000ff"/>
<circle cx="362.5" cy="965.5" r="4.6" fill="#0000ff"/>
<circle cx="375.3" cy="965.5" r="4.6" fill="#0000ff"/>
<circle cx="388.0" cy="965.5" r="4.6" fill="#ff0000"/>
<circle cx="397.0" cy="965.5" r="4.6" fill="#0000ff"/>
<circle cx="435.3" cy="965.5" r="4.6" fill="#0000ff"/>
<circle cx="486.3" cy="965.5" r="4.6" fill="#0000ff"/>
<circle cx="503.3" cy="965.5" r="4.6" fill="#0000ff"/>
<circle cx="524.7" cy="965.5" r="4.6" fill="#0000ff"/>
<circle cx="550.0" cy="965.5" r="4.6" fill="#ff0000"/>
<circle cx="563.0" cy="965.5" r="4.6" fill="#0000ff"/>
<circle cx="575.8" cy="965.5" r="4.6" fill="#0000ff"/>
<circle cx="588.5" cy="965.5" r="4.6" fill="#0000ff"/>
<circle cx="690.5" cy="965.5" r="4.6" fill="#0000ff"/>
<circle cx="699.2" cy="965.5" r="4.6" fill="#0000ff"/>
<circle cx="707.8" cy="965.5" r="4.6" fill="#0000ff"/>
<circle cx="801.3" cy="965.5" r="4.6" fill="#0000ff"/>
<circle cx="814.5" cy="965.5" r="4.6" fill="#0000ff"/>
<circle cx="827.2" cy="965.5" r="4.6" fill="#0000ff"/>
<circle cx="835.8" cy="965.5" r="4.6" fill="#0000ff"/>
<circle cx="840.0" cy="965.5" r="4.6" fill="#00c000"/>
<circle cx="379.2" cy="988.3" r="4.6" fill="#0000ff"/>
<circle cx="384.2" cy="988.3" r="4.6" fill="#0000ff"/>
<circle cx="418.3" cy="988.3" r="4.6" fill="#0000ff"/>
<circle cx="512.0" cy="988.3" r="4.6" fill="#ff0000"/>
<circle cx="737.5" cy="988.3" r="4.6" fill="#0000ff"/>
<circle cx="823.0" cy="988.3" r="4.6" fill="#0000ff"/>
<circle cx="844.2" cy="988.3" r="4.6" fill="#0000ff"/>
<circle cx="268.8" cy="1011.1" r="4.6" fill="#0000ff"/>
<circle cx="273.3" cy="1011.1" r="4.6" fill="#0000ff"/>
<circle cx="315.8" cy="1011.1" r="4.6" fill="#0000ff"/>
<circle cx="507.8" cy="1011.1" r="4.6" fill="#0000ff"/>
<circle cx="537.2" cy="1011.1" r="4.6" fill="#0000ff"/>
<circle cx="580.0" cy="1011.1" r="4.6" fill="#0000ff"/>
<circle cx="592.7" cy="1011.1" r="4.6" fill="#0000ff"/>
<circle cx="601.3" cy="1011.1" r="4.6" fill="#0000ff"/>
<circle cx="686.3" cy="1011.1" r="4.6" fill="#0000ff"/>
<circle cx="256.3" cy="1033.9" r="4.6" fill="#0000ff"/>
<circle cx="290.3" cy="1033.9" r="4.6" fill="#0000ff"/>
<circle cx="298.8" cy="1033.9" r="4.6" fill="#0000ff"/>
<circle cx="324.5" cy="1033.9" r="4.6" fill="#0000ff"/>
<circle cx="340.8" cy="1033.9" r="4.6" fill="#ff0000"/>
<circle cx="345.8" cy="1033.9" r="4.6" fill="#0000ff"/>
<circle cx="367.0" cy="1033.9" r="4.6" fill="#0000ff"/>
<circle cx="452.5" cy="1033.9" r="4.6" fill="#0000ff"/>
<circle cx="469.5" cy="1033.9" r="4.6" fill="#0000ff"/>
<circle cx="473.3" cy="1033.9" r="4.6" fill="#0000ff"/>
<circle cx="605.5" cy="1033.9" r="4.6" fill="#00c000"/>
<circle cx="622.5" cy="1033.9" r="4.6" fill="#00c000"/>
<circle cx="643.8" cy="1033.9" r="4.6" fill="#0000ff"/>
<circle cx="763.0" cy="1033.9" r="4.6" fill="#0000ff"/>
<circle cx="776.5" cy="1033.9" r="4.6" fill="#0000ff"/>
<circle cx="818.7" cy="1033.9" r="4.6" fill="#0000ff"/>
<circle cx="929.5" cy="1033.9" r="4.6" fill="#0000ff"/>
<circle cx="596.5" cy="1056.7" r="4.6" fill="#0000ff"/>
<circle cx="746.2" cy="1056.7" r="4.6" fill="#0000ff"/>
<circle cx="392.5" cy="1079.5" r="4.6" fill="#0000ff"/>
<circle cx="401.0" cy="1079.5" r="4.6" fill="#0000ff"/>
<circle cx="413.8" cy="1079.5" r="4.6" fill="#0000ff"/>
<circle cx="426.7" cy="1079.5" r="4.6" fill="#0000ff"/>
<circle cx="439.5" cy="1079.5" r="4.6" fill="#0000ff"/>
<circle cx="456.7" cy="1079.5" r="4.6" fill="#0000ff"/>
<circle cx="477.8" cy="1079.5" r="4.6" fill="#0000ff"/>
<circle cx="516.3" cy="1079.5" r="4.6" fill="#0000ff"/>
<circle cx="520.8" cy="1079.5" r="4.6" fill="#0000ff"/>
<circle cx="533.3" cy="1079.5" r="4.6" fill="#0000ff"/>
<circle cx="584.8" cy="1079.5" r="4.6" fill="#0000ff"/>
<circle cx="609.7" cy="1079.5" r="4.6" fill="#00c000"/>
<circle cx="648.3" cy="1079.5" r="4.6" fill="#0000ff"/>
<circle cx="652.5" cy="1079.5" r="4.6" fill="#0000ff"/>
<circle cx="656.6" cy="1079.5" r="4.6" fill="#0000ff"/>
<circle cx="660.8" cy="1079.5" r="4.6" fill="#0000ff"/>
<circle cx="665.0" cy="1079.5" r="4.6" fill="#0000ff"/>
<circle cx="669.2" cy="1079.5" r="4.6" fill="#0000ff"/>
<circle cx="673.4" cy="1079.5" r="4.6" fill="#0000ff"/>
<circle cx="677.5" cy="1079.5" r="4.6" fill="#0000ff"/>
<circle cx="681.7" cy="1079.5" r="4.6" fill="#0000ff"/>
<circle cx="712.0" cy="1079.5" r="4.6" fill="#0000ff"/>
<circle cx="725.0" cy="1079.5" r="4.6" fill="#0000ff"/>
<circle cx="729.2" cy="1079.5" r="4.6" fill="#0000ff"/>
<circle cx="788.8" cy="1079.5" r="4.6" fill="#0000ff"/></g>
<text x="594" y="1166" font-size="21.8" text-anchor="middle" font-family="Liberation Sans" font-weight="bold">Residue number</text>
<line x1="307.5" y1="881.5" x2="338.0" y2="881.5" stroke="#0000ff" stroke-width="3.6"/><path d="M294.3 881.5 L308.5 874.5 L308.5 888.5 Z" fill="#0000ff"/><path d="M351.2 881.5 L337.0 874.5 L337.0 888.5 Z" fill="#0000ff"/>
<text x="322.5" y="873.4" font-size="22" text-anchor="middle" font-family="Liberation Sans" font-weight="bold">200-213</text>
<line x1="606.3" y1="881.9" x2="688.7" y2="881.9" stroke="#000" stroke-width="3.6"/><path d="M592.3 881.9 L607.3 874.9 L607.3 888.9 Z" fill="#000"/><path d="M702.7 881.9 L687.7 874.9 L687.7 888.9 Z" fill="#000"/>
<text x="648.6" y="873.5" font-size="22" text-anchor="middle" font-family="Liberation Sans" font-weight="bold">IDR</text>
<line x1="743" y1="881.9" x2="809.6" y2="881.9" stroke="#000" stroke-width="3.6"/><path d="M729 881.9 L744 874.9 L744 888.9 Z" fill="#000"/><path d="M823.6 881.9 L808.6 874.9 L808.6 888.9 Z" fill="#000"/>
<text x="772" y="873.5" font-size="22" text-anchor="middle" font-family="Liberation Sans" font-weight="bold">TM</text>
<line x1="837.6" y1="881.9" x2="920.6" y2="881.9" stroke="#000" stroke-width="3.6"/><path d="M823.6 881.9 L838.6 874.9 L838.6 888.9 Z" fill="#000"/><path d="M934.6 881.9 L919.6 874.9 L919.6 888.9 Z" fill="#000"/>
<text x="880" y="857.6" font-size="19.3" text-anchor="middle" font-family="Liberation Sans" font-weight="bold">Cytosolic</text>
<text x="879.8" y="874.6" font-size="19.3" text-anchor="middle" font-family="Liberation Sans" font-weight="bold">region</text>
<text x="975.6" y="952" font-size="26.9" font-family="Liberation Sans" font-style="italic">Graph legend</text>
<line x1="975.6" y1="955.8" x2="1138" y2="955.8" stroke="#000" stroke-width="1.6"/>
<circle cx="986.6" cy="974.6" r="8" fill="#0000ff"/>
<text x="1004.4" y="981.4" font-size="19.4" font-family="Liberation Sans" font-weight="bold">Solvent-accessible</text>
<circle cx="986.6" cy="1001" r="8" fill="#ff0000"/>
<text x="1004.4" y="1007.8" font-size="19.4" font-family="Liberation Sans" font-weight="bold">Inaccessible</text>
<circle cx="986.6" cy="1027.6" r="8" fill="#00c000"/>
<text x="1004.4" y="1034.4" font-size="19.4" font-family="Liberation Sans" font-weight="bold">Dimer interface</text>
<path d="M112 1266.7 V1479.3 H360.2" fill="none" stroke="#111" stroke-width="2.4"/>
<line x1="102.4" y1="1456.0" x2="112" y2="1456.0" stroke="#111" stroke-width="2.4"/>
<text x="99" y="1462.0" font-size="16.5" text-anchor="end" font-family="Liberation Sans" font-weight="bold">1</text>
<line x1="102.4" y1="1432.4" x2="112" y2="1432.4" stroke="#111" stroke-width="2.4"/>
<text x="99" y="1438.4" font-size="16.5" text-anchor="end" font-family="Liberation Sans" font-weight="bold">2</text>
<line x1="102.4" y1="1408.8" x2="112" y2="1408.8" stroke="#111" stroke-width="2.4"/>
<text x="99" y="1414.8" font-size="16.5" text-anchor="end" font-family="Liberation Sans" font-weight="bold">3</text>
<line x1="102.4" y1="1385.2" x2="112" y2="1385.2" stroke="#111" stroke-width="2.4"/>
<text x="99" y="1391.2" font-size="16.5" text-anchor="end" font-family="Liberation Sans" font-weight="bold">4</text>
<line x1="102.4" y1="1361.6" x2="112" y2="1361.6" stroke="#111" stroke-width="2.4"/>
<text x="99" y="1367.6" font-size="16.5" text-anchor="end" font-family="Liberation Sans" font-weight="bold">5</text>
<line x1="102.4" y1="1338.0" x2="112" y2="1338.0" stroke="#111" stroke-width="2.4"/>
<text x="99" y="1344.0" font-size="16.5" text-anchor="end" font-family="Liberation Sans" font-weight="bold">6</text>
<line x1="102.4" y1="1314.4" x2="112" y2="1314.4" stroke="#111" stroke-width="2.4"/>
<text x="99" y="1320.4" font-size="16.5" text-anchor="end" font-family="Liberation Sans" font-weight="bold">7</text>
<line x1="102.4" y1="1290.8" x2="112" y2="1290.8" stroke="#111" stroke-width="2.4"/>
<text x="99" y="1296.8" font-size="16.5" text-anchor="end" font-family="Liberation Sans" font-weight="bold">8</text>
<line x1="102.4" y1="1267.2" x2="112" y2="1267.2" stroke="#111" stroke-width="2.4"/>
<text x="99" y="1273.2" font-size="16.5" text-anchor="end" font-family="Liberation Sans" font-weight="bold">9</text>
<line x1="126.9" y1="1479.3" x2="126.9" y2="1488.2" stroke="#111" stroke-width="2.4"/>
<text transform="translate(132.1 1504) rotate(-45)" font-size="16.2" text-anchor="end" font-family="Liberation Sans" font-weight="bold">47-60</text>
<line x1="157.7" y1="1479.3" x2="157.7" y2="1488.2" stroke="#111" stroke-width="2.4"/>
<text transform="translate(162.89999999999998 1504) rotate(-45)" font-size="16.2" text-anchor="end" font-family="Liberation Sans" font-weight="bold">105-153</text>
<line x1="189" y1="1479.3" x2="189" y2="1488.2" stroke="#111" stroke-width="2.4"/>
<text transform="translate(194.2 1504) rotate(-45)" font-size="16.2" text-anchor="end" font-family="Liberation Sans" font-weight="bold">200-213</text>
<line x1="220" y1="1479.3" x2="220" y2="1488.2" stroke="#111" stroke-width="2.4"/>
<text transform="translate(225.2 1504) rotate(-45)" font-size="16.2" text-anchor="end" font-family="Liberation Sans" font-weight="bold">270-296</text>
<line x1="250.5" y1="1479.3" x2="250.5" y2="1488.2" stroke="#111" stroke-width="2.4"/>
<text transform="translate(255.7 1504) rotate(-45)" font-size="16.2" text-anchor="end" font-family="Liberation Sans" font-weight="bold">others</text>
<line x1="281.3" y1="1479.3" x2="281.3" y2="1488.2" stroke="#111" stroke-width="2.4"/>
<text transform="translate(286.5 1504) rotate(-45)" font-size="16.2" text-anchor="end" font-family="Liberation Sans" font-weight="bold">303-323</text>
<line x1="312.4" y1="1479.3" x2="312.4" y2="1488.2" stroke="#111" stroke-width="2.4"/>
<text transform="translate(317.59999999999997 1504) rotate(-45)" font-size="16.2" text-anchor="end" font-family="Liberation Sans" font-weight="bold">324-350</text>
<line x1="343.2" y1="1479.3" x2="343.2" y2="1488.2" stroke="#111" stroke-width="2.4"/>
<text transform="translate(348.4 1504) rotate(-45)" font-size="16.2" text-anchor="end" font-family="Liberation Sans" font-weight="bold">17-350</text>
<line x1="113" y1="1342.4" x2="361" y2="1342.4" stroke="#111" stroke-width="2" stroke-dasharray="1.6 1.6"/>
<circle cx="126.9" cy="1336.3" r="4.7" fill="#000"/>
<circle cx="157.7" cy="1327.7" r="4.7" fill="#000"/>
<circle cx="189" cy="1340" r="4.7" fill="#000"/>
<circle cx="220" cy="1382.7" r="4.7" fill="#000"/>
<circle cx="250.5" cy="1351.3" r="4.7" fill="#000"/>
<circle cx="281.3" cy="1330.7" r="4.7" fill="#000"/>
<circle cx="312.4" cy="1293.3" r="4.7" fill="#000"/>
<circle cx="343.2" cy="1342.7" r="4.7" fill="#000"/>
<text x="364.5" y="1368.3" font-size="18" text-anchor="end" font-family="Liberation Sans" font-weight="bold">5.80</text>
<text x="235.5" y="1577.3" font-size="19.5" text-anchor="middle" font-family="Liberation Sans" font-weight="bold">Region</text>
<text transform="translate(67.3 1360) rotate(-90)" font-size="19.5" text-anchor="middle" font-family="Liberation Sans" font-weight="bold">Averaged Consurf score</text>
<text transform="translate(-2.17 45.75) scale(1.034 1)" font-size="66" font-family="Liberation Sans" font-weight="bold">A</text>
<text transform="translate(645.93 45.75) scale(0.969 1)" font-size="66" font-family="Liberation Sans" font-weight="bold">B</text>
<text transform="translate(895.49 46) scale(0.952 1)" font-size="66" font-family="Liberation Sans" font-weight="bold">C</text>
<text transform="translate(-0.20 545.25) scale(0.959 1)" font-size="66" font-family="Liberation Sans" font-weight="bold">D</text>
<text transform="translate(4.06 1243.75) scale(0.939 1)" font-size="66" font-family="Liberation Sans" font-weight="bold">E</text>
<text transform="translate(403.67 1243.75) scale(0.919 1)" font-size="66" font-family="Liberation Sans" font-weight="bold">F</text>
<text transform="translate(823.47 1242.8) scale(1.009 1)" font-size="66" font-family="Liberation Sans" font-weight="bold">G</text>
</svg>
</body></html>
